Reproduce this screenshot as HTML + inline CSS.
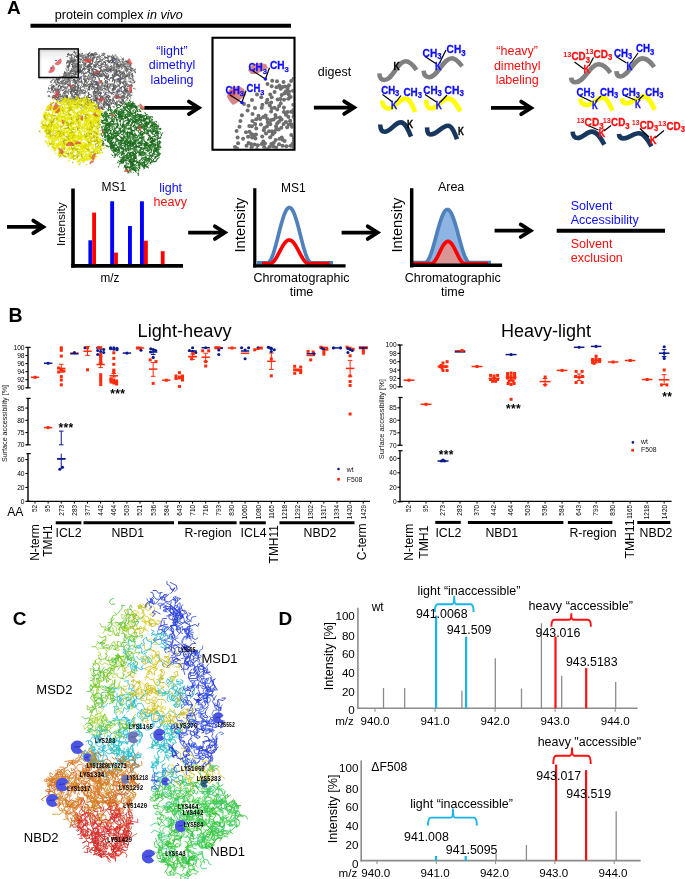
<!DOCTYPE html>
<html><head><meta charset="utf-8"><style>
html,body{margin:0;padding:0;background:#fff;}
svg{display:block;will-change:transform;}
text{font-family:"Liberation Sans",sans-serif;}
</style></head><body>
<svg width="685" height="879" viewBox="0 0 685 879">
<rect width="685" height="879" fill="#fff"/>
<text x="7.0" y="14.2" font-size="19" fill="#000" text-anchor="start" font-weight="bold" >A</text>
<text x="54.7" y="19.1" font-size="12.6">protein complex <tspan font-style="italic">in vivo</tspan></text>
<path d="M30.50 25.80L291.00 25.80" stroke="#000" stroke-width="4" fill="none"/>
<path d="M86.3 84.1l1.3-.8l0-1.5l.9-.7M106.1 87.9l1.3-.8l0-1.2l-.1-1.4M92.9 89.5l-1.3-.7l1-1.7l1.2-.5M117.1 73.2l.5-1.9l-1.2-.3l-2-.2M49.2 88.8l-.6-.9l.4 1.2M59.4 84l-.4 1.7l-.7 .8l.3 1.2M120.7 66.7l-.1-1.4l.4-1l-.6-1.1M74.2 66.2l1-1.2l1.2-.7l.9 1.2M122.1 63l-.7 1.8l-1.8-.5l-1.1 0M111 63.5l.9-.9l1.1-.1l1.8 .2M68.4 76.3l1.1-.8l-.4-1.3l1.6-.5M99.3 55.5l-1.5 1.2l-1.4 .4M114.2 93.9l1.4 0l.5 1.8l-1.2 1.5M103.2 72l-.7-.8l1.4-1.2l.9-1.5M85.2 103l.2 1l.4 1.2M108.5 59.8l-1.2 1.2l-1.2-.6l-1.3 .7M79.7 85.7l1 1.1l-.6 1.6l.4 1.1M69 60.6l-1.5 .2l.8 .8M111.4 84.8l-1 .3l-.9 .4l-.4 1.1M103.7 76.4l-.5-1.7l.4-1.1l-.6-.8M112 58.2l.6 1.6l0 1.8l-1.5 1.1M103.3 107.9l-1.6 1l-.9-1.1l-1.7 .1M104.9 94.8l-1.7 1l-1.6 .7l-1.1-1.5M95.9 98.2l0 1.8l-.9 .7l-1.1-.3M92.6 95.2l1.8-.8l.6 .9l.6 1.2M104.6 81.5l.9-.9l1.8 .6l.3 2M98.2 59.7l-1.6-.4l.3-1.5l1.4-.7M94.8 74.1l.6 1.1l1.4-.2l.6 1.4M60.8 88l-.2-1.8l-1.1-.6l-1.4 .1M52.3 95.7l.9 .9l.9 1.1l1.2 .9M62 88.9l-1.1-1.5l.6-1.1l1.9-.1M65.5 95.4l1.7 .6l.3 1.1l-.3 1M108.9 108l.2-1.5l.3-1.7l-1-.4M96.1 81l-.9 .8l-1.8-.8l-.7 .8M87.3 98l-.6 1.4l-.7 .8l-1.1-.3M114.5 73.6l1.5 .2l.3 1.8l-1.4 .9M100.8 80.3l.8 1l-.1 1.8l.4 1.8M110.1 98.2l-.4-1.7l-1-1.1l-1.5-.6M107.3 69l-.5-1.4l1.6-.5l1.7 1M102.3 96.2l.3 1l.7 .9l-.9 1.3M100.6 97.6l-.1 1.2l1.2 .8l1.3-1.4M93.6 86.7l-.1 1.7l1 1.4l1-.7M57.3 97.3l-1.5-1l1.1-1.6l1.4 .4M112.8 77.8l1 1.2l.4 1.4l1.5-.2M85.4 91.4l-.8 1.4l-1.5 .2l-.5-1.7M118.9 88.5l.1 1.7l-.4 1.6l.8 .9M68.6 74.9l-1.4 .7l.4 1.6l-.2 1.4M115 103l1.3-1.2l1.2 .1l1.4-1.1M73.9 83.3l1.4-.4l.1-1.9l-1.5-.4M109.2 66.3l-1.1-.4l-.7 1.1l-1.2 .4M77.1 95.4l.8 1.5l-1.5 1.3l-1.1 1.4M73.1 73.2l.8 .9l1.2 .6l1.2 .1M120.1 82.8l.8-.9l1.2 .5l1.4 .7M95.6 99.6l1.2-1.3l-.9-1.4l.4-1.6M63.6 98l-.8-1.2l1.3-1l1.5-.9M131.7 73.9l1.6-1M93.3 94.3l.1-1.4l1.5-1.3l-.3-1.2M53.3 90.1l-.8-.7l-1.1-1.6M112.3 86.4l1.2 .5l.4 1.2l-.9 1.2M75.5 83.2l1.2-.4l.8 1.6l.6 1.4M88.3 71.3l1.3-.9l-.2-1.3l1.3-.7M94.4 56.2l-1.8-.2l-.5-1l.3-1.1M99.5 104.3l-1.4 .4l.1 1.8M72.5 67.1l1.5-.2l1.4-.9l.9-1.2M123.3 90.5l1.6-.5l1.4-.2l.2 1.8M102.4 65.7l-1 .8l-.9 1.4l.7 1.6M112.9 68.6l-.8-.8l-.4-1.7l-1-1.6M132.2 75l-1.5-.9l-1.3-.2l-.3 1.4M106.7 87.4l1.2-.6l-.2-1.4l1.3-1.3M57.5 98.1l1.2-.6l-.1-1.7l0-1.7M103.5 59.5l1.5-.5l1.3-1.4l.6-.9M95.3 84.1l-1.8 .7l-1.3-1l.1-1.3M65.6 85l-.7-1.4l-1.1 .5l-.9-1.4M107.8 96.2l-1.6 .8l-.2 1.4l.3 1.5M92.9 63.9l-1.6 .2l-1-.5l-1.1-1M103.1 92.9l1.1-1l1.7 .7l1.5 .2M93.5 81.7l-.9-1l0-1.9l.6-1.7M91.3 73l.9 1.2l1.3 .5l.9-1.7M107.2 104.9l-1.1-.6l-1.5-1.2l.1-1.1M80.9 70.2l-.6 .8l-.1 1.5l-1.5 0M124.1 70.1l-.6 1.8l.9 1.3l-.6 .9M113.1 67.3l1.5 .9l.7 1.8l1.2-.2M111.6 59.4l1.6 .5l1.7-.2l1.2 .2M69.1 89.5l-.7 1.2l-.6 .8l.1 1.2M116.1 62.7l-.4 1.1l-1-.3l-.6-1.3M91 58.2l-.9-1l.2-1.5l1.6-.5M101.6 62l-1.6-.9l-1.4 .5l-1.5 .1M100.5 94.6l.1-1.2l-1.5-.2l-1.3 .1M97.8 82.9l-.6-1l-1.2 .6l-1.2 .5M57.7 93l1.1-.2l1-.7l-.7-1.3M86.6 96.7l1.6-1l.8-1l-.7-.8M116.8 95.9l1.2 .9l1.7 1l2 0M75.6 93.2l1.6-1l1.1-1.4l1.2 0M60 83.4l1.2 .1l1.2-.7l1.9 .1M109.8 70.7l1.2 .2l1.9-.3l.8-1.1M133.8 70.5l1.4-1.3M73.9 98.4l-.4 1.3l1.1 .4l.6-1.2M95.3 55.2l-1.5-.9l-1 .7l-1.4-.1M126.9 61.4l-1 .1l-1.8-.1M71.2 91.6l.3-1.7l1.9 .1l1 .5M79.6 68.3l-.9 .8l-.8 .8l.1 1.1M83.4 56.3l-.6-1.4l-1.3 .5l.3 1.4M90.6 85.8l-.9 .9l-.6 1.8l.7 1.5M88 87.8l1.2-1l1.6 .2l1.4-.2M91.7 67l-.9-.7l-1.6 .4l.4 1.5M65.5 79.6l-.7-1.4l1.1-1.6l.2-1.9M112.2 93.3l1.6-.9l1.5-.1l1.1-.6M94.3 62.1l.6 1l1-.2l.2-1.7M86.3 98.5l-.7 1.7l1.1 .6l.2 1.4M66.7 94.7l.1 1.8l-1.3 .8l-1.6-.2M78.9 91.5l.9 .4l-.6 1.9l-1.1 .9M111.9 54.1l.8 .6M89.3 71.4l-1.8 .4l-1.3 .9l-.8-1.1M95.5 100.4l1.1-.1l.9-1.2l.1-1M56.1 88.5l1 1.1l1 .1l.3 1.3M59.9 78.9l-.7 1.2l-.2 1M106.4 88.4l-1.9 0l-1.8 .3l-.4 1M77.2 97.2l-.4 .9l-1-.3l-.5-1.7M81.1 100.6l1.9-.4l.5 1.3l1.7 .8M98.5 61.5l-.7 1.5l0 1.6l1.2 1.5M114.7 60.4l.2-1.7l-1-.5l-1-.2M81.5 67.9l.1-1.2l-.8-1.6l1.3-.7M63.5 73.8l1.3 1.4l1.3-.2M56.5 89.2l-1.2 .4l-1.1-1.5l-.9-1.3M124.1 92.9l-1.4-.3l-1.3 .9l-.9 .6M85.8 86.3l.5-1.1l1.6 .7l.8 1.8M123.3 100.2l.1-1.1l.9-.9l.9-1.3M96.4 99.5l-1.1 1.4l-1.5 0l-.7-.9M125.2 88l-.8-1.8l0-1.9l-1.4-.9M72.9 88.8l-.8 1.5l1.1 1.3l1.1-.3M101.8 70.3l-1.6 .5l-.9 .9l.5 1.5M122.4 73.8l-1.9 .5l-1.1-.5l-1.8 .5M125.7 92l-.6-1.2l-.2-1.4l-.5-1.2M110.1 91.7l.4 1.1l1.3 .6l.2 1.8M77.6 71.5l.5-1.3l1 .2l1.3 .2M73 91.6l1.1-1.6l.5-1.8l1.6-1.2M87.3 73.3l-2-.2l-1.1 .4l-1-.5M105.6 88.4l-1.3-1.2l0-1.1l-1.9-.1M76.4 82.4l-.9 1.5l-.6 1l.6 .9M70.8 98.9l.3 1l.7 1.4l-.7 .9M93.4 73.6l.6-1.9l-1.1-.3l-.8-1.5M132 68.4l-1.7-.8l-1.2-.9l-1.2-.4M67.3 71l1.1-1l1 .3M95.7 73.2l1.4 .2l1.2 .1l1 0M77.8 86.7l-.2 1.6l.7 1.3l-.3 1M66.7 64.4l.1-1.9l1.8-.8M74.2 67.6l1.6-.3l.8 .6l1.3 1.4M115.8 85.4l1 1l-1.3 1.4l-1.4-.1M79 76.4l.1 1.3l1.1 .2l1.2 1M82.7 82.5l-1.1-1.5l-1.2 .8l-1.9 0M109.6 72.4l-1.5-.8l-.9-.8l-1.3 .4M93 72.4l0-1.4l-.1-2l.7-1M113.6 85.1l1.8 .4l.9 1.1l.9 1.8M86.7 79.1l-.7 .8l-1-.2l-1.4-.7M116.9 100.8l.1 1.2l-.1 1.6l-1.3 1M132.5 92.9l-1.4-1l.3-1.7l-.6-.8M66.8 65.9l1.4 .6l1.2-.4l.7 .9M125.8 87.4l-.8-1.3l1.3-1.2l-1.1-1.6M119.2 61.9l-1.3 1.1l-1.2 1l0 1.9M52 84.4l-.9 1l1 1.3l1.3-.9M109.1 104.2l.3-1l-1-1.1l-.8-.9M82.9 79l1.4 .7l.9 .7l1.7 .2M90 86.2l-.1-1.6l-1.5-.3l-.3 1.1M109.5 81.3l-.4-1.8l-1.8 .1l-.7-1.2M117.5 63.8l-1.1-.8l-1.1-.6l-1 .6M88.9 99.3l.5 1.6l.3 1.2l1.2 .4M74.3 95.4l.7-1.4l1.2-.3l1.7-1M76.9 107.9l1-.5l-.2-1.4M100.1 96.4l-.7-.8l-.9-.5l-1 .7M55.9 94.6l.3-1.1l1.7-.2l1.3-.3M72.1 58.4l1 1.2l-.2 1.5l1.1 .4M72.3 97.7l1-.5l1.3-.3l.4 1.4M124.9 77.6l-1.7 1l-1.3-.4l-.9 .8M63.5 100.3l-1.3-.7l-.6 1.1M78.2 78.2l-1.3-.3l-1.3-.6l-1.3-.4M57.9 80.6l.8-.8l-.1-1.6l1.3-.2M109.4 69.6l-1.8-.7l-1 0l-1.1 1.1M87.3 52.1M120.4 61.9l1.2-.2l1.4-.2l.4 1.4M70.5 103.2l-1.1 .6l-1.5-1l.6-1.6M111.7 101.1l-1.2-1.4l-1.9-.1l-1.3-.1M101.8 108l1.1 0l.7-1.9l-.3-1.1M127 98.3l1.6-.2l-1.3 .1M57.8 100.1l1.3-.8l.3-1.1M131.3 65.8l-.8-1.1l-.8-1.3M126.5 82.4l-1-.7l-.8-1l-.9 .5M104.7 74.2l-.2 1.5l1.3 .7l.4 1.5M66.6 82.8l1.2 .1l.3-1.1l-.8-1.5M73.3 98.2l0-1.5l-1.4-.5l0-1.1M68.4 93.2l0 1.4l-1 1l-1.6 .4M80.3 77.9l-1 1.6l-1 .9l.5 1.2M126.8 80.6l-1.2 1.5l-1.7-.1l-1.3 .5M72.9 88.4l-.7 1.6l-.6 1.8l.2 1.9M119 73.3l.4-1.2l1.6 .2l1.7-.1M117.5 82.7l1.4-1l1.1-1.4l1-.6M99.1 101.8l.3-1.6l1.5-.9l.4-1.7M55.4 99.1l.7-1.4l.5-1M129.6 91.1l-1.3 .5l-1.5 0l0-1.6M76.6 97.6l1.7-.3l.9 1.1l1.4 .6M78.7 90.7l1.8 .6l1-.5l-.4-1.7M67.9 79.3l-1.7 .5l-.6 1.6l.3 1.9M88.4 67.3l-1.3-.9l.7-1l1-.6M75.4 75.9l-1.6-1.1l-1.2 .6l-.4 1.8M64.4 94.9l.6 .8l.8 1.4l1.2-.5M100.8 104.6l.7-.8l-.4-1.2l.4-1.3M70.3 84.2l-.3 1.2l.5 .9l.3 1.2M124.9 77.9l-1.6 1l-1.6 .2l-1.4 .2M91.4 77.9l-1.7-.5l-.8 .6l.9 1.6M70 59l1.6 .4l.7 1.2l.7 1.8M92.5 67.1l1.4-1.4l.7 .7l1.5 .7M97.1 109.9l-1.6-1M63.2 76.4l-1.5 .4l.3 1.2l1 .5M96.8 52.9l-1.8-.2M73.5 63.6l-.8-1.4l.8-.7l.9-1.6M112.1 58.6l-.1-1.2l1.6-.6M70.4 103.4l1.6-.6l1.3-1.1l-.8-1.3M78.4 68.4l.6 1.8l.5 1.4l.2 1.2M60.6 77.8l1.4-1l1 .1l.6-1M101 108.3l.7-1.1l-.8-.9l-1.2 .2M78.8 56.2l-1.2-.6l-.8 1.4l0 1M99.6 72.7l.1-1.1l1-1l.9 .5M70.7 97l1.5-1.3l.9-1.6l-1.3-1.5M126.9 70.6l1-1.6l1.9 .5l1.5 1.3M81.6 84.4l-.2 1l.7 1.1l1.4 0M77.8 93.2l-.8 .9l-.2 1l1.3 .3M64.8 78.7l1.6-1.1l.5-1.3l1.3-.6M56.9 99.2l.6-1.5l-1.2-.7l-.5-1.5M87 102.1l-.5-1.8l-1.6-.1l-.7 .7M54.6 87l0-1.1l1.2-1.4l1.5-1.1M117.9 89l.3 1.4l-.2 1.5l1.1 .3M119.7 65.7l-1.7 .5l-.7-1.3l-.7-1.2M49.8 92.1l1.3 0M89.3 55l-.9 1.5l-1.1 .6l-1 .1M74.8 55.8l-.9-.5l-1.7-.8l-.9 .5M88.1 66.5l.2-1.6l1.9-.2l1.3-1.1M91.4 55.5l.3-1.8l1.2 1.3M75 74.6l.6-1.4l-.9-.7l-1.3-1M78.2 58l1.1 .2l1.4 .8l1.3 1.4M81.9 90.1l-.6 1.2l0 1.4l-1.4 .9M79.8 89.7l.6 .9l-.9 .9l.5 1M67 97.6l-1.2 .7l-.1 1.3l1 1.4M104.6 100.6l.5 1l-.7 1.5l-.4 1.5M127.1 85.1l-.2 1.1l1 .5l1.6-1.1M116.3 89.9l-1.3-1.1l-1-1l-.1-1.7M119.3 102.1l.9-.6l.8 1l1.1 1.1M118.3 68.6l1 0l.5-1.8l-.8-1.6M107.4 74.1l-1 1.1l-1.1 .3l-.5 1.4M123.9 71.8l-.9 1.8l-1.7 .5l-.4 1M131.2 78.2l1.2 .4l.9 1.5l.9 1.1M86.6 92.6l-1.1-1.1l-1.1 .9l.6 .9M78.1 67.2l.8 1.7l1.1 .1l.7 1M117.4 96.1l-.2 1.3l-1.1 .6l-1-1.2M71.7 76.1l1.1-.5l1.1 1l1.3 .1M66.1 95.7l.3 1l.9 1.3l.5 1.2M108.1 68.8l-1.1 .5l-.6 1.2l1.3 .8M128.1 70.5l-1 .3l-1.2-.9l-1.7-.2M119.6 102.8l1.7 .1l-1.8-.4M102.4 86.7l-.6-1.3l1-.6l-.3-1.7M114.1 66.9l-.8-.9l.8-1.6l-1.3-1.1M89 69l-.6 1.8l-.2 1.3l1.2 .6M88.3 75.6l.8-1.7l1.2-.1l1.6-.3M113.6 103.2l1-.7l1 .8l-1.1 1.6M88.3 96.8l.2-1.3l.8-1l-.9-1.8M124.4 103.7l-1.8 .3M113.6 79.2l.9 1.1l.2 1.7l-.3 1M112.9 100.6l-.6 1.3l-.6 .9l-.3 1.2M63.7 74.3l1.4-.9l-.4-1.6M108.7 108l-.3-1.8l1.5-1.4l-1.1-1.2M126.6 87.6l1.4 1.2l-1 1.2l-2 0M129.9 73l1.2-.6l.9-.9l-.7-1.1M54.2 86.7l-1.2-.6l-1.3 .7l.6 1.2M70.6 79.2l-1.3 .9l-.6 1.1l-1.7 .4M126.9 96.4l1.2-1.3l1.3 1.2M101.3 55.1l1.3-.2l.9-.5l.3-1.2M101.5 67.7l1.4-1.4l1.1 .6l1.1-1.1M54.4 94.8l-.3 1.8l-1.8 .3M93.6 108.9l1.1 .7l1 1M69 65.5l.7-1.6l-.6-.8l.4-1.9M71 61.9l1 .3l1.4 0l1.5-1M101.7 105.5l.7 1l-.8 1.5l1.2 1.6M132.5 82.8l1.9-.2l.8-.7M76.9 59.9l-1.7 .1l-1.1-.1l-.6-1.1M65.9 72.7l-1.5-.4l0 1.2M89.2 65.1l-.9 1.4l.8 .7l-.5 1.8M120.7 87.2l-.3 1.6l1.3 .9l0 1.8M71.8 55.8l0 1.9l-1.2 .8l-1.6-.9M70.4 75.3l1.4 1.1l-.5 1.1l1.4 1M91.6 55.9l-.8 1.2l-.6 1.7l-1.5 .1M97.8 73.7l.8 .7l1.2-.8l1.4 .7M96.2 56.9l-1.5 .5l-1-.1l-1.8 .2M99.9 63.6l1.2 .7l1.1-.5l-.7-1.7M98.5 62.8l.8-1.6l.9-.9l.1-1.9M129.4 69.5l1.3 0l.9-.7l1.2-.3M116 64.6l-1.6-.9l.8-1.4l1.2-1M79.2 84.7l-.8 1.7l.4 .9l1.1 1.5M92.8 87.2l-1-1.2l-1.1-.1l-.5-1.9M98.3 81.2l-.4 1.7l.7 1l1.1 0M58.9 89.7l-.8-1.3l-1.4-.5l-1.5 .9M95.8 98.2l.2 1.4l-.6 1l-1.3-.7M102.9 72.2l.9-1.3l1.4-1l1.6 .2M95.7 91.4l-1 1.3l-.8 1.8l.9 1.2M59.4 94.4l.9 1.8l-.6 .8l-1.3-.6M87.1 57.1l-.9 1.7l-.8 1.2l-1.6 .1M68.6 83.2l-1.1-1.2l-1.1-.2l-1.4 0M68.5 88.2l-1.3-1.3l1-1.1l-.1-1.7M109 63.4l-.1-1.9l-.6-1.5l-.3-1.5M59.2 79.7l-.9-.7l-.9 .9l-1.3-1.1M99.9 107.9l-1.3-.3l-1.1 1.6M120.9 64.6l-.9 .9l-1.2 1.1l-1.6 .2M91.9 58.1l.6 .9l1.5-.5l.8-1.6M56.4 92.2l1.4 .5l1 1.6l1.7 .4M54.6 80.5l.3 1.3l.8 1.7l1 1.5M81.1 54.5l1.2-1.2M92.2 56l-1.1-.9l-.8-1.2l-1.3-1.2M66.8 66.3l1.6-.7l1.1 0l.4-.9M64.8 99l-1-1.1l-.6-1.4l-1.2 .3M100.4 77.3l-.8-1.4l.8-1.3l1.5 1M109.6 83.6l1.6 .5l1.2 .9l1.1 .5M110.3 106.2l-.6-1.5l.8-1.6M85.8 90.3l-1.4 .2l-1.4 .1l-1.1 1M108 102l-.7-1.3l-1.2-.9l-1.7 0M98.9 85.9l-.9-1.7l-.5-1.8l-1.2-.9M87.8 60l.9-1.6l-.4-1.4l-1.1-1.1M114.3 73.4l1.6-.4l.7 1.1l1.9 .4M59.5 95.7l1.1 .8l1.1 .2l.8-1.6M111.8 75.1l.8 1.5l-1.4 1.3l-1 .5M74.1 88.3l.7 .8l1.3 1.3l1.6-.5M102.5 74.1l1.2-.5l.7 1.2l.7 1.5M112.9 79.7l.2-1.1l-1-.9l-1.1 0M93.4 97.5l1.7-.5l.2-1.5l1.3-.8M122.4 72.5l-1-1l-1 .3l-.9-1.8M113.8 86.9l-.6 1.5l-.8 .6l.5 1.7M70 99.1l-1.2 .7l.4 1l-1.1 1M94.9 92.3l1.4 .7l.8 1.1l1.5 0M65.8 94.7l1.1 1.6l-.3 1.8l.3 1.4M68.6 83.9l1.3-.8l-.5-1.6l.1-1.5M82.4 58.2l-.9 1.2l-1.5 1l.1 2M91.8 77.3l1.1 .3l.6-1.5l-.8-1.8M105.6 77.7l.9-1l1.7-.1l.5-1.7M120.2 88.3l-1.2 .7l.2 1l-1.3 .9M124.6 93.7l-.5 .9l.1 2l1.6 .7M131 84.5l.4 1.6l-.8 1.3l-.6 1.3M119.2 86l.9-1.7l0-1l.7-1.8M113 97.6l0 1.4l.9 1l.7 1.1M119.2 97.3l1.1-.1l1.3-.3l.4-.9M101.4 87.1l-.7 1.4l.2 1.2l.3 1.3M108.1 64.8l-1.7 .2l-1.7-.3l-1.8-.6M119.7 70.4l-.5 1l1.2 1.2l-1 1.5M75.4 67.8l1.1-1.5l-1.6-1.2l-.1-1.5M131.8 82.1l.2 1.5l-.5 1.5l.8 .7M100.3 85.8l-.5 1l-.1 1.6l1.4 .4M133.4 88.2l.5 .9M62.9 85.7l-.9 .5l-.9 .8l-1 .3M59.5 83.2l-1.2 .3l-.5 .9l-1.8-.1M100.8 87.9l-.7-1l-1 .4l.2 1.9M79.6 70.6l1.1 .7l1.4 .6l-.3 1.9M120.6 70l1.1-.8l.5-1.1l-1.2-1.2M90.8 101l.6-1.6l1.5-.7l1.6-.2M71.4 58.9l-1.4 1l.7 1l1.4 1M52.9 92.9l.2-1.6l.7-1.3l1.7 .8M121.7 91.4l1 .4l1.6-.9l.3-1.5M112.8 85.9l.8 .7l1.6 0l1-.8M51.2 88.6l1.7-.3l.1-1.2l.4-1.2M50.5 92.6l-1.1-1.1l-1.5-.5l-.7 1.7M114.2 69.3l-.2-1l.5-1.9l-1-1.1M97.3 90.9l1.3-.9l-.4-1l-.8-1.1M102.4 70.8l1.3-1l.8 .8l1.4-.8M110.5 70.2l.3 1.1l.2 1l-.5 1M54.6 82.1l1.4-.2l1.8 .7l1.2-.1M78 60.4l1.1 1.5l-.6 1.4l.5 1.3M66.8 65.8l.6 1.4l1.2 .4l.3 1.7M72.7 80.6l1.9 .1l.1-1.3l-1.3-.1M127.6 60.3l1.1 1.5l-2 .1M114.2 70.2l.4 1.6l1.5-.1l1 1.7M120 96.4l-1.7 .9l-1.4-.5l-1.7-.8M80.7 104l1.1 .8l1 .3l.4 1.4M67.8 98.5l1.2 .7l1.1-.8l1.4 .2M67.1 97l-.4 1.5l-1.8 .6l-1.2-1.6M119.5 95l-1.3-.1l-1.1-1.6l-.6-1.6M118.5 94.5l-.6 1.7l-1.5 .9l-1-1.3M61 73.8M113.9 96.1l1.4 .4l0 1.4l1.5 .3M84.1 56.7l1 1.3l.8 1.1l1.1-.6M72.9 68.6l-.8 1.6l-1.1 1.3l-1.3 .2M96.9 87.6l.2 1.5l.9 .8l1.1-.2M103.2 106l.8-1.7l-.4-1.3l1.5-.7M74.3 61.7l-.4-1.6l-1.2 .3l-1.5 1.2M76.7 100.3l-1.4 .9l.7 1.2l1 .8M99.8 93.3l-1.3-.4l-1.1 .4l.1 1.1M107.5 96.4l.2 1l1.1-.2l1.2-.9M73.1 95.9l1.3 1.5l-.4 1.7l-.9 1.7M127.4 94.2l-.5-1.7l.6-1.8l1.4 .3M71.8 60.8l.6-1.5l-1-.8l.1-1.7M127.5 82.1l1.2-.9l1.6 .9l.9-1.4M116.2 57.2l.1 1.6l-1.1 .4l-.5-1M85.5 74l-1.1 .7l.9 1.7l-.4 1.9M99.9 74.1l.1 1.5l1.2 0l.5 .9M79 72.3l1.2 .2l1.7-.5l-.1-1.5M87 83.8l-1-1.2l-.1-1.2l-1.5-1.3M110.5 71.1l0-2l.7-1.5l-.9-1.3M108.7 98.7l.8 1l1 1.1l-.3 1.8M86.2 78.6l1.2 0l1.3 .8l1.2 .7M90.6 63l-1.6-.7l-.6-1.5l-1.7 .1M79.2 85.7l-1.5 .5l.4 1.4l.1 1.6M134.1 76l-1.6 0l-.3-1.2l-.2-1.9M122 87.5l-1 .7l-1.4-.7l-.2-1.5M82.9 107.7l-.9-1.7l-1.4-1l-.5-1.4M89.1 72.3l.3-1l-.6-1.5l-1.1-.6M97.4 104.7l-.4-1.7l-.7-1.5l.7-1.8M102.5 69.6l.2 1.5l.1 1.6l-1 1.4M88.1 89.5l1.2-.9l.2-2l.1-1.5M104.1 70.6l1.1 1.6l.4 1.2l1.7-.1M94.1 68.1l1.6-.9l.4-1.9l-1.2-.4M93.7 72l-.4 1.4l-.5 1.5l-1.3 .7M71.8 74.4l-.2 1.9l-.4 1.6l0 1.1M113.6 104.1l-.1-1.5l-.8-1.8l.7-.8M110.3 103l-.8-1.6l.3-1.5l1.8-.1M65 98.8l1.3 .3l1.5-.2l1.3 1.1M74 74.9l-1.3-1.5l-1.5-.3l-.8-.6M99.5 72l.8-.6l.1-1.7l-.7-1.7M64.4 84.8l-.6-1.2l0-1.7l-1.3-.9M72.2 63.3l.6-.9l1 .3l1.6 1M91.6 73.7l.3-1.6l.1-1.9l.1-1.3M83.9 86.7l-1.5 .1l-1.3 1.4l-1.1 .9M97.1 82.3l-.7 1.1l.2 1.1l1.7-.2M130.7 67.6l-.4 1.2l.6 1.8l1.9-.3M67.8 89.7l-.8 1l-1.7 .7l-1.5 .2M89.1 104.8l1-1l1.3-.7l1.5-.3M67.6 71.7l1.3 1.3l-1.1 1.3l-.2 1.9M128 100.2l-.9-.5l-1.6 .9M129 94.8l.6-1.7l-1-.8M56.9 90.2l-1.4 0l-.6-1l-.7-.8M75.5 87.6l-.5 1.9l1.3 1l1 .6M124.8 87.1l1-1l.2-1.6l1.1-.7M83.6 71.8l-1.2-1.6l.6-1.2l1-1M54.8 92.2l1.2-.2l1.2-1l1.1-1.6M83.6 107.8l1.7 .4l2-.3M125.3 95l-.6-1.7l.4-1.8l1.4-.9M117.5 78.9l1.2 1.3l1.4 1.2l-.4 1.3M110.5 85l1.1 .9l-1.1 1.3l-1.9 .5M103.2 61.3l1.5 .5l.9 .6l-.1 1.3M127.2 73.5l-.1 1.9l-1.9 .1l-.6 1.9M114.4 70.3l.9 .8l1.6-.5l-.2-1.3M117.9 98.5l.1-1.2l-.6-1.1l-1.4 .7M72.7 65.9l-.7-1.6l1.2-.5l1.8 .1M91.7 95.2l-1.6-.7l-1.7-.9l.5-1.3M73.1 81.1l-1.6-.9l-1.5 .8l-.8 .8M73.5 68.4l1.4 .2l.4-1.1l.6-1.1M77.6 79l-.6 1.8l-1.8-.4l-1.6-.5M122.1 91.9l.3 1l1.3 .3l1.4 1M71 56.2l.3-1.5l1.1-1M97.5 66.6l-1-1.1l-.1-1.9l1.8-.3M120.4 59.2l-1 1l-1.1 0l-.3-1.2M68.1 100l-1.4 .9l-.1 1.7l1.2 1.3M82.6 53.7l-1.2 .7l-1.2 1l-.1 1.1M56 96.4l-1.3-.4l-1.4-.7M69.4 91.3l1.1-.2l1-.1l1.1 .4M98.3 58.8l1.1 .1l.2-1.7l.6-.9M123.4 103.6l.4-1.8l-.4-1.1M108.9 69.9l1.4-.5l1.4-.2l1.1 1.2M114.7 57.1l-1.1 .6l-.3 1.2M126.3 77.2l-.8-1l-1.5 .2l-.7-1.1M83.1 57.1l0 1.7l1.3 .8l1.5-.8M93.2 64.4l1.6 .6l1.2-.4l1.7-.3M91.9 53.6l.4 1.1l1.2 0l.1 1.2M73.3 67.9l1.3-.3l.8-.9l1.3-.3M71.2 64.4l1.3 .8l-.1 1.8l1.1 1.5M53.3 91.5l.7-1.2l1.1-1.2M122.7 98.6l-.3-1.9l.7-1.2l.9 .6M85.6 60.2l.8-1.1l-.2-1.9l1.2-.2M91 67.4l-1.1-1.4l-.3-1l1.3-1.5M107.3 97.5l-.5-1.1l.3-1.3l-1.3-1.1M85 86.1l.5-1.7l-1.2-1.2l.6-1.8M111.3 90.1l1.4-.2l1.2-1.5l.7-1.7M60.1 90.8l1.4-.6l1.3 .4l1.2-1.1M116.4 56.9l-.8-1.8M96.8 76.9l-.3-1.8l1.4-.3l.3-1.2M69.5 83l.7 .9l-.8 1.2l1 1.7M70.3 79.1l-1.5-.6l-.7 1.1l-.7 1.2M61.4 87.5l-1.4 1.2l-.2 1l-1.5 0M90 64l-.8 1l1 .9l1.2 .9M85.6 66.1l-.8-1.1l.7-1.6l-1.1-1.5M95.4 76.2l.5-1.9l-.2-1.5l1.7-.8M78 67.6l0-1.6l.5-.9l1.6-.7M122.4 59.4l1.5 .4l-.7-.8M118.3 104.6l1.7 .7l1.7 .1M77.2 58.2l-.5-1.5l-1.1-.4l-1.4 .4M68.6 61.5l1.2-.3l.9-.5l1.2-.4M120.9 78.8l-1.1-1.4l.8-.7l-.7-.9M64.9 101.2l.4-1.5l.5-.9l-.6-1.3M99 90.8l0 1.5l1.9 .3l.1 1.4M105.6 68.4l.1-1.6l.4-1.2l-.1-1M82.6 60l.5 1.9l1.2 .9l1.7 .5M109.9 57.1l1.7-.6l.5-.9l1.6 .4M95.1 95.6l-.4-1.1l.1-1.1l1.1-.2M112.5 106.5l1.6 .4M95.6 75.6l-1.3-1.3l-.2-1.2l-1.1-.2M116.1 76l.5-1.4l-1.2-1l-1.2 .5M98.9 100.2l1.1 .6l-.2 1l-.8 1M71.5 98.7l.7 1.8l1.7 .2l1.3 .7M105.2 101.9l-1-.8l.2-1.9l1.1-1.6M85.2 65.1l.3-1.1l-1.1-.4l-1.2 .7M110.2 60.8l-.6 1.4l-1.2-.2l-.2-1M89.6 65.8l.5 .9l1.3 .5l.7 1.2M99.8 94.3l1.6-.4l0-1.8l-1.7-.1M134.8 74.4M129.9 77.1l-.2-1.5l-.9-.9l-.9 .8M122 91.6l1.3 1.1l.7 1.6l1.7-.7M122.1 103.3l-.6-1.8l1.6-1M58.6 100.8l1.5 1l1.4 .4M76 62.3l.1 1.7l-1.1 1.2l-1 1M94.7 91l1.1 1.2l-.5 1.3l-1.1-.3M90.2 88.4l-.8 .8l-1.2 .1l-1.8-.8M128.4 94.5l.8-1.4l1 0l.4-1.7M89.7 98.5l1.2 1.3l.4 1.5l-.1 1.4M116.8 90l.6 1.7l.5 1.4l-1 .7M75.1 86.9l-.8 1.5l-1.3-.3l-2-.1M53 79.8l-1.4 .8l-.8 1.3l.7 1.1M104.4 82.8l1.7-.3l1.3 0l.2 1.1M125.5 67.1l-.6-1l-.1-1.8l1-.7M112.3 60.1l1.1 .8l.9-.6l-.7-1.8M121.6 58.9l1.9 .1l-.3 1.9M66.1 103.1l-.5-1.1l-.9-.4M119.3 76.4l-1-.7l-1.7-.5l-1.6-.3M134.9 89.5l-.1-1.6M73.2 81l1.6 1.1l1.4-.6l1.7 .3M101.1 56.4l-.9 .4l-.7-1.3l-.1-1M107.6 109.4l1.1-.9l.6-1.8l1.3 .4M101.7 67.2l-1.4 1.3l-1.7-.8l-.4-1.1M119.2 60.3l.2 1.7l1.6 .1M50.2 97.5l-.9-1.6l-1 .2M87.2 79.7l-.7 .7l-.8 1.5l-1.3 1.2M62.8 80.9l.2 1.2l1 .9l-1 1M74.5 96.6l-1.3 1.5l1.2 1.3l-.3 1.6M108.3 85.5l-.9-.8l-.7-1.8l1-.8M93.4 77.3l1.9 .1l.5 1.8l-1.7 1M72.4 70.7l-.9 1.3l-1.5 1.2l-1.3 .7M90.5 52.1l-1.2 .8l-.7 1l-.5 1M124.9 74l-.8 1.1l1 .7l1.2 .8M126.5 88.9l-1.3 0l-1.1-1.5l1-.7M92.4 84.2l-1.8-.3l-1.7 .1l-.9 1M68.2 80.8l.6-1.7l.4-1.3l.8-1.6M67 102.4l.7 1.6l1.4 .8M120.6 98.6l1.7 .1l.4 1.4l1-.1M76.1 98.7l-1.9-.5l-.4-1.4l1-.4M100.9 63.8l.6 1l-1 .7l-1.5 .1M74.1 97.6l-1-1.7l-1.2-.9l-1-1.4M105.6 102l-.3 1.2l1 .7l.6 1.6M87.1 103l.8 .8l.2 1.5l1.2 .3M91.3 74l-.9 1.5l1 .8l1.1-.4M80.9 83.3l1.1-.5l-.6-1.9l-.6-1.3M123.8 73.9l.7 1l-1 .9l-1.3 1.1M80.7 90.6l-1.3 .5l-1.1-.7l-.5-1.7M75.2 85.7l-1.4 .6l0 1.2l-.1 1.2M62.2 76.4l1.7 .2l0 1.2M90.5 68.7l1.3 .8l2 .3l1.3-.4M94.4 100.1l1-1.6l1.8-.5l.4-1.7M99.1 76l1.8 .6l1.3-.4l1-1M95.8 87.5l-1.3 .5l-.7-1l.8-.8M118.3 69.6l-.2-1.5l-.1-1.9l.6-1.3M114 94.9l-1.2-1.1l-.1-1.2l-2 .1M66.1 86.9l-1 1.5l-1.4-.9l-1-.6M123.3 58.8l-1.2 1.3M110.4 56l-1.2 .2l-1.1 .3l-.3 1.2M82.4 69l1.4-.2l.7-.8l-.6-1.3M116.8 98.4l.4-1.4l1-1.1l1-1.5M68.5 74.7l-1 .4l-1.3 .9l-1.1 0M130.5 92.6l-1.5 .5l-.3 1.5M101.3 59.9l-1.4 1.2l-.6 1.2l-.3 1M125.9 60.3l.3 1.2M120.9 98.7l.8-1.5l1.7 .5l1.1 .5M103.3 55.5l1.5 .7l1.3 1.4M56.9 78.1l-.2 1.2l1.2 .9M128.6 65.9l1.4 .9l1.8 .7M68.8 75.3l-.2 1.4l.3 1.1l-.6 1.2M102.2 88.4l-.4-1.9l.2-1.9l.2-1.2M77.7 64.1l.8 .7l1.6 .9l-.6 1.8M106.5 109M126.8 68l-1.4 0l-.2-1l.9-1.6M64.4 84.1l1.5-.6l1.8 .8l1 1.2M83.2 108.8M69.9 88.3l1.8 .4l.4-1.6l1.3-1.2M57.4 102.3l-.1-1.5l-.3-1.1l.9-1.2M121.7 63.8l.7 1.1l1.2 .2l.4 1.7M107.6 90.5l1.7 .6l.8 1.6l1.5 .8M96.7 88.3l.8-1.8l.4-1l.3-1.7M115.4 84.8l-1.1-.9l-1.3 .4l-.5-1M72.9 70.4l.6 .9l.5 1.2l-.2 1M132.5 69.3l1.6 1.1M105.6 105.3l-1.4-.7l0-1.1l.4-1.3M58.7 81.7l-1.1 .3l-.8-1.6l-.2-1.2M85.6 92.5l-1.1 .2l-.7 1.2l-1.3-.5M124.3 79.2l1.3-.2l0-1.9l1.1-.6M84.4 70.7l1-1.7l1.5-1.2l-.1-1.5M52 90.1l.2-1.1l-1.2-.7M115 77l-.9-.6l-1-.6l-1.1 0M84.7 54.5l-1.2 1l-1.6-.1l-1.6 .8M117.5 104.6l-1-.3l-1.6 .8M103.8 97.9l-1.4 0l-1.9-.2l-.3-1.4M118.5 74.6l.1 1.3l1.2 1.1l1.2 .1M98.1 105.9l.4-1.4l.5-1l-1.1-1.3M109 97.2l-.4 1l-1.2-.2l0-1.8M84 73.3l-.5 1.4l-.3 1.2l1.4 1M77.7 70.2l1 .8l1.3 .6l1.6-.1M133.2 70.5l1.7 .5l.4 1.7M126.2 60.5l.6 .9l1.2 .6M54.4 93.6l-.9-1.7l-.8-1.1l-1.2-.8M104.1 108l.8-.9l-1-1.5l-1-.7M82.2 76.2l-1.3 1.4l-1.4 1.2l-1-.4M62.8 80.8l-1.2 .3l-1.1 .7l-1.5 .9M124 102.7l-1.4-1.4l-1.1-1.5l.7-1.1M128 71.8l1.4 .7l-.3 1.4l1.1 1.4M69.2 55.3l-.7-1.6l-.9 .7M89.1 56.4l-.3-1.3l-1.1-.8l-1.2 .4M122.3 97.5l1.1 .1l.4-1.6l1-1.1M87.5 97.5l1.5-.2l1.3 .3l1.5-1.2M70.3 74.9l-.3-1.5l-.4-1.7l.9-.9M95.8 97l1 1.5l-.2 1.9l1 .7M121.7 66l1.6-1.2l1.1-.4l.3-1.1M93.2 77.4l-1.4 .9l-.9 1.2l.6 .8M77.1 103.3l.9-1.3l1.3-1.1l.7-.8M84.4 60.8l.8-.9l1.6-1.1l1.5 .6M100.2 98.7l-1 1l.7 .8l1.5-.2M113.5 76l.8-.9l1.4-1l-.7-1.1M126.9 87.9l-.4 1.2l-1.5 1.1l.4 1.7M125.5 98.2l1.3-1l.3-1.1l.4-1M103.9 87.8l1.2 1.5l1.1 .6l1.4-1M111.4 70.8l-1.9-.6l-.6-1.2l-.4-1M94.8 85.8l0-1.1l1.5-1l.4-1.1M68.4 73l-.5 1l-1.3 .4l-1.2 .3M121.8 62l1-.1l.3 1.6l-.1 1.4M102.2 103.7l1.1 1l1.5 .2l1.8 .8M74.2 58.2l.6-1.3l1.4-1.1l1.7 .8M124.3 63.9l1.8 .2l1-1.2l.6-1.9M118.3 84.7l.1 1.2l-1.7 .7l-1.9 .3M111.6 104.2l1.3-1.3l1.6 1l1.2-.6M90.1 81.1l1.3 1.4l.5 1.8l.8 1.5M75.2 61.7l1.7-.7l.8-.7l.3-1.6M77.4 68.2l1.7 .1l.2 1.1l-.6 .9M51.7 88.1l1.8-.7l.2-1.1l-1.1-1.5M79.9 98.1l.2 1.1l1.4 .3l-.3 1.6M64.1 99.3l-1-.2l-1.8-.1l-.3 1.5M89.1 75l-.7 .8l-.8 .9l-.3 1.4M92.9 61.9l-.3-1.8l-1.9-.1l-.4 1.4M78.4 100.6l1.9 .3l.7-1.5l1.9-.3M98.4 90.9l-.4-1.1l.1-1.4l-1.8-.4M65.7 90.7l.5 1.2l.1 1.3l-1.7 .5M86 65.2l-.4-1.7l-1.5 .1l-1.5-1.2M126.5 68.5l1.3 .9l0 1.5l-1.4 .5M106 103.9l.2-1.2l.8-1.5l-1.1-.7M82.1 55.7l-.1 1.9l1.3 .5l.5-1.6M72.3 68.3l-1.1 .4l.4 1.6l1 1M97.8 92.5l-.9-1.2l.3-1.9l-.1-1.6M75.2 87l-.7-1.4l-.9-.8l-1.5 .7M127.5 62.6l1.6 .6l.1 1.5l.8 1.3M127.5 74.9l-.3 1.5l-1.1-.2l-.4 1.1M48.6 89.1M59.5 92.3l-.5-.9l-.7-1.4l-1.5-1M86.4 104.3l1.2-1l1 .1l1.5 .2M102.4 64.9l.6-1l.1-1.4l1.5-.1M68.1 89.9l1.2-.2l1.7-.7l1.9 .2M90.1 60.1l-.1 1.8l-1.2-.1l-1-.5M74.7 91.1l.9-1l1 .9l1-1M64.8 71.7l.7 1.6l.4 1.1l-.9 1.5M70.9 56l1-.3M84.5 86.6l-.9-.9l.1-1.4l-1.8-.8M88.1 57.2l-.6 1l-.1 1.6l-1.8-.1M86.5 95.9l.1 2l1.2 1.6l-.2 1.8M88.9 68.4l-1.3-1.1l-.8-1.3l1.6-1M79 86.2l-1.9-.6l-1 1.1l-1.2-.6M110.1 87.1l-1.2-.3l-1.5-.1l-1.3 .3M125.8 69.2l.4 1.5l.5 .9l-.1 1.2M64.4 91.5l.9 .8l-.7 .9l-1.5-1M93.5 77.3l.4-1.1l.4-1.1l1.4-1.4M73.1 68.9l.9 1.3l1.7-.4l1.1 .3M92.3 53.5l1.4 0l.2 1.2l0 1.2M91.6 74l-.6-.9l-1 .3l-1.1-1.6M102.1 80.3l-1.7 .8l-.9-1.1l-.4-1.7M103.9 55.1l.8-1.5M114.2 66.3l1.7-.1l.9 .9l.3 1M96.6 74.6l1.6-.3l.9 1.8l-.9 1.1M66.9 96.6l.8 1.2l-.4 .9l-1.8-.3M63.6 74.1l1-.9l1.6 .1M126.3 67l.1 1.2l.7 1l1.1-.5M124.1 76.4l-1.6-1l-.1-1.5l-1.5-1M83.9 85l.1 1.3l.2 1.7l1.5 1.2M113.1 56.2l0 1.6l1.5 0M107.3 77.7l-.9-.8l-.8 .8l-1.1 1.3M75.2 59.5l.1 1.4l-1.3 1.4l-1.6-.4M107.6 96.5l-1.6 .3l-1.3 .5l-1.1 .2M91.1 97.7l-1.7-.2l-1.2-.1l-1.3 .7M75.5 65.6l-1.8-.6l-1 1.6l1.2 1.3M72.1 89.3l1.5-.5l1.4 .3l1.1-.1M78.4 100l1.7 .3l1.4 .3l1.3-.5M96.3 92.1l-1.8-.6l-1.1 .2l.1 1.3M98.9 71.5l-1.6-.5l-1.3-.1l.1-1.3M74.9 67l-.4-1.9l1.2-.7l1.9-.6M108.8 102.1l-1.3 1.5l-1.3-.7l-1.1-.7M98.4 90.6l-1.1-1.4l1.4-1.2l-.8-1.2M127.1 77l-.3-1.7l-1.1 .1l-1.9-.4M54.3 96.8l-1.5 .9l-.1 1.1M91.3 81.1l.3 1.2l.4 1.4l-.8 1.6M72.2 62.6l-.9-.9l-1.1 .5l-.1 1.1M95.8 55.7l-.5-1.5l.9 .7M86.2 68.8l-1.2-.3l-.8 1.3l-1.5-.5M104.5 56.2l-1.6-1.1l-1.1 .2l-1 .8M107.8 87.1l.7 1.5l-.2 1.6l.7 1.8M104.7 81.4l1.1-.3l.4 1.2l-1 .6M111.7 57.4l.6 1.8l-.9 1.4l-1.2 .4M129.3 86.5l0-1.4l-1.5-.8l-1-.4M127.2 93.9l1.3 .4l1.7 .9l1.5 0M81.7 67.4l-.9 1.3l-1 .7l.1 1.6M74.2 91.8l1.1-1.5l1-1l1.7-.4M110.1 105.5l-1.5 0l-1.2-.4l.1-1.3M106.5 87l-.7-1.1l-1.4 .2l-.7-.9M60.5 76.8l-1.2-.9M108.1 54.8l-.6 1.2M74.2 95l1.7-.7l-.3-1.9l-1.7-.1M92 75.1l1.1 .2l.4 1.4l1 1.3M65.1 86.5l.2 1l.8 1.3l1.5 0M131.3 79.8l-.9-1.5l-1.3-.8l-.4-1.2M108.1 74.9l.5 1.9l-1.5 1l-1.7-.6M76.9 69.8l.9 1.1l1.2-.8l.9 .4M78.6 53.4l.7 1.3l-1.6 1.1M100.2 73.2l-1.5-1l-1.3-1.4l-1.4-.3M123.6 82.8l-.5 1.1l.8 .7l1.7 .8M85.9 57.4l1.1 1.4l1.1 .7l.5 1.3M79 69.5l-.5 1l.9 .7l1.1 .4M98.9 84.5l-1.1 1l-1.4-.6l-1-.4M128.9 72.7l-.1 1.4l-1.4 .3l-.3-1.1M66.2 87.1l-.6 1l-1.4-.2l-1-1M124.5 69.1l.7-1l1.2 0l.8-1.6M86.4 87.3l-.5-.9l-.7-1.6l-1 .2M83.1 64l.7 1l1 1l.9 .6M112 81.9l.6-1.2l.4-1.9l.7-1.6M86.8 60.4l-.1-1.6l-1.4-1.2l.5-1.5M79.6 94.9l-1.7-.3l-1.5 .1l-.1-1.1M108.1 75.3l.4 1.8l-1 .4l-.4 1M96.6 107.7l-.5-1.3l-1.3-.5l-1.5 0M115.9 73.6l-1.3 .9l-.8-.7l-1.1 .7M65 72.2l.4 1.2M121.9 78.2l.1-1l1.6-.9l1 1M118.2 97.6l-1.2 .1l-.4-1.9l.5-.9M105.3 87.3l-1-1.2l.9-1l1 .8M64.6 79.1l.2 1.6l-1.3 .3l-.6-1.8M76.2 55.1l-.6-1.8l-1.6-.9l.4-1M68.2 62.3l1.1 1.1l-.6 1.8l-1.2 1.6M134 82.5l1.5-1M100.4 85.4l-1.8 .6l-1.1 1.7l0 1.4M120.1 79.2l-1.6-.7l-.7 1.2l-.8 1.7M112.3 92l1-.7l.9-1.7l-.8-.8M100.8 76.6l.7-.7l.1-1.5l1.4-.5M119.7 79.1l.5-1l0-1.3l-.8-1.6M78.1 99.4l1.6-.8l1.8 .4l.6-1.7M71.5 94.4l-.9-1.6l-.2-1.1l.6-1.3M88.4 55.3l1.3 .7l1.1-1.6l1.1 .7M132.9 78.4l-.8-1.8l.1-1.1l-.3-1.7M105.7 102.4l-.6 .9l-1 .2l-.2-1.3M111.9 59.5l-1.4 .9l-1.5 .8l-1.2-.7M103.9 85l1.5 .1l.4-1.8l-.2-1.2M80.2 78.4l-1.2 .2l0 1.6l-1.6 .5M131.3 86l-.6-.9l-1.3 .8l-1.3-1M101.2 107.6l.9 1.3l1.1 .2l1.3 .1M80 62l-1.7 .4l-.4 1.7l.2 1.8M53.5 83.3l1.1-1.5l.8-1.7M115.8 72.2l1-.3l1.5-1.1l1.4-.5M76.8 65.5l1.4 .7l.8 .9l1.8-.2M71.6 54.6l-1.6 .5l-1.5 0l-1.3 1.3M96.3 92.5l1.2-.7l1.1 .3l1.3-1.1M119.5 81.8l.5-1.3l-.4-1.4l-1.4 0M78.9 102.2l-.7 1l1.3 1.2l1.4 1.2M117.4 57.8l-.7 1.4l-.3 1.4l-1.2 .7M120.7 64.7l.3 1l1 1l1.1-.1M118.3 64.1l-1-.4l.3-1.5l-1.9-.6M77.8 72.7l-.6-1l-1.9 .5l-.9-1.2M78.8 105l-1.3-.3l.2-1.4M119.9 88.1l1.6-1l1.4-.6l1.2 1.5M134.1 66.1M59.9 81.3l1.6 .4l-.4 1.8l-1.9 .1M76.8 75.3l-.6-.9l0-1.6l-.4-1.7M76.7 99.6l-.1-1.1l1.2-1.3l.3-1.4M80.3 83l-.9-1.5l-1.8-.2l-1 1.1M60.8 96.6l-1.4-.3l-.7 .9l-.6 .8M64.7 92.8l.9-.6l1.3-.4l.9 .9M109.3 57.7l-1.6 .7l-1.1-.4l-1.6-1.1M93.2 62.4l-.9 .6l-1 .4l-1.8-.4M122.9 104.2l-1.6-1.2M55.8 99.7l1.3 .5l-.8-.8M91.8 61.7l1-.5l.2-1.4l-.5-1.5M98 54.4l-1.5-.2l-1.3 .3l-.4-1.4M66.2 83.8l-1.6-.9l-1.8-.1l-.8 .8M108.3 72l.2-1l1-1.5l1.2-.6M120.2 82.4l.4 1.2l-1.7 .6l-.2 1.9M102.8 60.8l-.6-1.3l1.3-.9l1.2-1.2M87.4 76.7l-1.7-.6l-1.2 .2l-.6 1.6M67 62.9l.4-1.9M65.2 90.4l.1 1.6l-1.1 1.6l-1.1 .1M55.7 97.6l-.2-1.4l.6-1.3l1-.2M93 86.1l-.5-1.7l1.3-.8l.1-1.4M112.1 67.1l-.3 1.8l-1.2 .8l-.6 1.1" stroke="#5a5a5a" stroke-width="0.8" fill="none" stroke-linejoin="round" />
<path d="M88.5 81.1h0M107.4 87.1h0M107.4 85.9h0M91.6 88.8h0M93.8 86.6h0M114.4 70.8h0M48.6 87.9h0M49 89.1h0M59 85.7h0M58.3 86.5h0M75.2 65h0M76.4 64.3h0M121.4 64.8h0M118.5 64.3h0M111.9 62.6h0M113 62.5h0M97.8 56.7h0M116.1 95.7h0M107.3 61h0M80.5 89.5h0M67.5 60.8h0M68.3 61.6h0M110.4 85.1h0M109.1 86.6h0M103.6 73.6h0M103 72.8h0M112.6 61.6h0M111.1 62.7h0M101.6 96.5h0M100.5 95h0M95.9 100h0M95 100.7h0M93.9 100.4h0M94.4 94.4h0M95 95.3h0M105.5 80.6h0M107.3 81.2h0M96.6 59.3h0M96.9 57.8h0M98.3 57.1h0M95.4 75.2h0M97.4 76.4h0M60.6 86.2h0M53.2 96.6h0M54.1 97.7h0M55.3 98.6h0M63.4 86.2h0M67.2 96h0M67.5 97.1h0M67.2 98.1h0M109.4 104.8h0M108.4 104.4h0M95.2 81.8h0M86.7 99.4h0M84.9 99.9h0M116 73.8h0M114.9 76.5h0M109.7 96.5h0M108.7 95.4h0M106.8 67.6h0M110.1 68.1h0M102.6 97.2h0M103.3 98.1h0M100.5 98.8h0M103 98.2h0M94.5 89.8h0M95.5 89.1h0M55.8 96.3h0M56.9 94.7h0M58.3 95.1h0M113.8 79h0M114.2 80.4h0M115.7 80.2h0M84.6 92.8h0M82.6 91.3h0M67.2 75.6h0M67.4 78.6h0M117.5 101.9h0M118.9 100.8h0M75.3 82.9h0M75.4 81h0M73.9 80.6h0M106.2 67.4h0M75.3 99.6h0M73.9 74.1h0M75.1 74.7h0M122.1 82.4h0M95.9 96.9h0M96.3 95.3h0M62.8 96.8h0M64.1 95.8h0M93.4 92.9h0M94.9 91.6h0M94.6 90.4h0M52.5 89.4h0M51.4 87.8h0M113.5 86.9h0M113 89.3h0M76.7 82.8h0M77.5 84.4h0M78.1 85.8h0M89.6 70.4h0M89.4 69.1h0M92.1 55h0M92.4 53.9h0M98.2 106.5h0M75.4 66h0M124.9 90h0M126.3 89.8h0M126.5 91.6h0M101.4 66.5h0M100.5 67.9h0M101.2 69.5h0M112.1 67.8h0M111.7 66.1h0M129.4 73.9h0M106.3 57.6h0M92.2 83.8h0M64.9 83.6h0M62.9 82.7h0M106.2 97h0M106 98.4h0M106.3 99.9h0M91.3 64.1h0M89.2 62.6h0M105.9 92.6h0M92.6 80.7h0M93.2 77.1h0M92.2 74.2h0M93.5 74.7h0M104.6 103.1h0M78.7 72.5h0M124.4 73.2h0M123.8 74.1h0M114.6 68.2h0M115.3 70h0M116.5 69.8h0M116.1 59.9h0M114.7 63.5h0M98.6 61.6h0M97.1 61.7h0M100.6 93.4h0M99.1 93.2h0M97.2 81.9h0M58.8 92.8h0M88.2 95.7h0M89 94.7h0M118 96.8h0M119.7 97.8h0M77.2 92.2h0M78.3 90.8h0M79.5 90.8h0M61.2 83.5h0M64.3 82.9h0M111 70.9h0M113.7 69.5h0M135.2 69.2h0M73.5 99.7h0M75.2 98.9h0M92.8 55h0M91.4 54.9h0M73.4 90h0M74.4 90.5h0M78.7 69.1h0M78 71h0M81.5 55.4h0M81.8 56.8h0M89.7 86.7h0M89.8 90h0M92.2 86.8h0M90.8 66.3h0M89.2 66.7h0M89.6 68.2h0M65.9 76.6h0M66.1 74.7h0M113.8 92.4h0M95.9 62.9h0M96.1 61.2h0M65.5 97.3h0M79.2 93.8h0M87.5 71.8h0M97.5 99.1h0M57.1 89.6h0M58.1 89.7h0M58.4 91h0M102.3 89.7h0M76.8 98.1h0M83 100.2h0M85.2 102.3h0M97.8 64.6h0M99 66.1h0M114.9 58.7h0M113.9 58.2h0M80.8 65.1h0M64.8 75.2h0M53.3 86.8h0M122.7 92.6h0M86.3 85.2h0M87.9 85.9h0M88.7 87.7h0M93.1 100h0M124.4 86.2h0M123 83.4h0M72.1 90.3h0M73.2 91.6h0M99.3 71.7h0M99.8 73.2h0M120.5 74.3h0M117.6 74.3h0M124.9 89.4h0M124.4 88.2h0M111.8 93.4h0M80.4 70.6h0M76.2 87h0M85.3 73.1h0M84.2 73.5h0M83.2 73h0M104.3 86.1h0M75.5 83.9h0M71.1 99.9h0M71.8 101.3h0M94 71.7h0M92.1 69.9h0M68.4 70h0M97.1 73.4h0M99.3 73.5h0M78 90.6h0M66.8 62.5h0M75.8 67.3h0M115.5 87.8h0M81.4 78.9h0M81.6 81h0M80.4 81.8h0M78.5 81.8h0M108.1 71.6h0M107.2 70.8h0M92.9 69h0M93.6 68h0M115.4 85.5h0M86 79.9h0M83.6 79h0M117 102h0M116.9 103.6h0M131.1 91.9h0M131.4 90.2h0M68.2 66.5h0M126.3 84.9h0M125.2 83.3h0M116.7 64h0M116.7 65.9h0M52.1 86.7h0M108.4 102.1h0M85.2 80.4h0M109.1 79.5h0M106.6 78.4h0M114.3 63h0M89.4 100.9h0M90.9 102.5h0M75 94h0M76.2 93.7h0M77.9 92.7h0M77.7 106h0M99.4 95.6h0M59.2 93h0M74 61.5h0M73.3 97.2h0M123.2 78.6h0M121.9 78.2h0M62.2 99.6h0M61.6 100.7h0M58.6 78.2h0M59.9 78h0M106.6 68.9h0M123.4 62.9h0M69.4 103.8h0M110.5 99.7h0M108.6 99.6h0M127.3 98.2h0M59.1 99.3h0M130.5 64.7h0M129.7 63.4h0M125.5 81.7h0M124.7 80.7h0M123.8 81.2h0M73.3 96.7h0M71.9 95.1h0M65.8 96h0M79.3 79.5h0M78.8 81.6h0M125.6 82.1h0M123.9 82h0M122.6 82.5h0M72.2 90h0M71.6 91.8h0M122.7 72.2h0M118.9 81.7h0M120 80.3h0M121 79.7h0M128.3 91.6h0M79.2 98.4h0M80.6 99h0M81.5 90.8h0M65.9 83.3h0M87.8 65.4h0M65.8 97.1h0M101.5 101.3h0M70 85.4h0M70.5 86.3h0M70.8 87.5h0M120.3 79.3h0M88.9 78h0M72.3 60.6h0M93.9 65.7h0M94.6 66.4h0M96.1 67.1h0M74.4 59.9h0M112 57.4h0M113.6 56.8h0M73.3 101.7h0M72.5 100.4h0M79 70.2h0M79.7 72.8h0M63.6 75.9h0M101.7 107.2h0M77.6 55.6h0M76.8 57h0M99.7 71.6h0M101.6 71.1h0M72.2 95.7h0M131.3 70.8h0M76.8 95.1h0M78.1 95.4h0M66.4 77.6h0M66.9 76.3h0M57.5 97.7h0M56.3 97h0M86.5 100.3h0M84.9 100.2h0M84.2 100.9h0M118.2 90.4h0M118 66.2h0M117.3 64.9h0M51.1 92.1h0M88.4 56.5h0M87.3 57.1h0M88.3 64.9h0M91.7 53.7h0M75.6 73.2h0M73.4 71.5h0M79.5 91.5h0M65.8 98.3h0M65.7 99.6h0M66.7 101h0M105.1 101.6h0M104.4 103.1h0M104 104.6h0M127.9 86.7h0M115 88.8h0M120.2 101.5h0M121 102.5h0M122.1 103.6h0M119.8 66.8h0M106.4 75.2h0M105.3 75.5h0M123 73.6h0M120.9 75.1h0M133.3 80.1h0M134.2 81.2h0M85.5 91.5h0M84.4 92.4h0M85 93.3h0M78.9 68.9h0M80 69h0M117.2 97.4h0M73.9 76.6h0M75.2 76.7h0M66.4 96.7h0M67.3 98h0M67.8 99.2h0M107 69.3h0M106.4 70.5h0M107.7 71.3h0M127.1 70.8h0M125.9 69.9h0M121.3 102.9h0M101.8 85.4h0M102.5 83.1h0M114.1 64.4h0M88.4 70.8h0M89.4 72.7h0M90.3 73.8h0M115.6 103.3h0M88.4 92.7h0M114.7 82h0M111.7 102.8h0M111.4 104h0M65.1 73.4h0M64.7 71.8h0M109.9 104.8h0M125 90h0M131.3 70.4h0M51.7 86.8h0M69.3 80.1h0M129.4 96.3h0M103.8 53.2h0M105.1 65.8h0M54.1 96.6h0M52.3 96.9h0M69.7 63.9h0M72 62.2h0M101.6 108h0M134.4 82.6h0M75.2 60h0M74.1 59.9h0M64.4 73.5h0M88.3 66.5h0M88.6 69h0M120.4 88.8h0M121.7 91.5h0M90.8 57.1h0M88.7 58.9h0M98.6 74.4h0M99.8 73.6h0M93.7 57.3h0M102.2 63.8h0M99.3 61.2h0M131.6 68.8h0M132.8 68.5h0M116.4 61.3h0M78.8 87.3h0M90.7 85.9h0M90.2 84h0M97.9 82.9h0M98.6 83.9h0M105.2 69.9h0M93.9 94.5h0M94.8 95.7h0M60.3 96.2h0M86.2 58.8h0M83.8 60.1h0M67.5 82h0M66.4 81.8h0M67.2 86.9h0M68.2 85.8h0M68.1 84.1h0M108.9 61.5h0M58.3 79h0M57.4 79.9h0M98.6 107.6h0M97.5 109.2h0M120 65.5h0M118.8 66.6h0M92.5 59h0M94 58.5h0M94.8 56.9h0M60.5 94.7h0M56.7 85h0M82.3 53.3h0M91.1 55.1h0M68.4 65.6h0M69.5 65.6h0M63.2 96.5h0M99.6 75.9h0M111.2 84.1h0M113.5 85.5h0M83 90.6h0M107.3 100.7h0M104.4 99.8h0M97.5 82.4h0M88.3 57h0M87.2 55.9h0M115.9 73h0M60.6 96.5h0M61.7 96.7h0M62.5 95.1h0M111.2 77.9h0M110.2 78.4h0M74.8 89.1h0M77.7 89.9h0M103.7 73.6h0M104.4 74.8h0M113.1 78.6h0M112.1 77.7h0M111 77.7h0M95.1 97h0M95.3 95.5h0M113.2 88.4h0M112.4 89h0M112.9 90.7h0M68.8 99.8h0M96.3 93h0M98.6 94.1h0M81.5 59.4h0M80.1 62.4h0M92.9 77.6h0M92.7 74.3h0M106.5 76.7h0M108.7 74.9h0M119.2 90h0M117.9 90.9h0M124.1 94.6h0M124.2 96.6h0M113 99h0M114.6 101.1h0M120.3 97.2h0M122 96h0M100.9 89.7h0M106.4 65h0M119.2 71.4h0M120.4 72.6h0M76.5 66.3h0M74.9 65.1h0M131.5 85.1h0M132.3 85.8h0M101.1 88.8h0M61.1 87h0M100.1 86.9h0M80.7 71.3h0M82.1 71.9h0M81.8 73.8h0M122.2 68.1h0M121 66.9h0M72.1 61.9h0M55.5 90.8h0M122.7 91.8h0M52.9 88.3h0M53 87.1h0M53.4 85.9h0M114 68.3h0M114.5 66.4h0M98.2 89h0M97.4 87.9h0M104.5 70.6h0M105.9 69.8h0M110.8 71.3h0M57.8 82.6h0M79.1 61.9h0M67.4 67.2h0M68.6 67.6h0M74.6 80.7h0M74.7 79.4h0M73.4 79.3h0M128.7 61.8h0M114.6 71.8h0M116.1 71.7h0M118.3 97.3h0M116.9 96.8h0M81.8 104.8h0M83.2 106.5h0M66.7 98.5h0M64.9 99.1h0M63.7 97.5h0M117.1 93.3h0M116.5 91.7h0M117.9 96.2h0M116.4 97.1h0M115.3 96.5h0M115.3 97.9h0M116.8 98.2h0M85.1 58h0M72.1 70.2h0M71 71.5h0M99.1 89.7h0M72.7 60.4h0M71.2 61.6h0M98.5 92.9h0M108.8 97.2h0M110 96.3h0M74 99.1h0M126.9 92.5h0M127.5 90.7h0M71.4 58.5h0M130.3 82.1h0M116.3 58.8h0M85.3 76.4h0M84.9 78.3h0M101.2 75.6h0M101.7 76.5h0M81.8 70.5h0M85.9 81.4h0M84.4 80.1h0M110.3 66.3h0M87.4 78.6h0M88.7 79.4h0M86.7 60.9h0M78.1 87.6h0M132.5 76h0M132.2 74.8h0M121 88.2h0M80.6 105h0M88.8 69.8h0M87.7 69.2h0M97 103h0M96.3 101.5h0M89.5 86.6h0M105.2 72.2h0M107.3 73.3h0M95.7 67.2h0M96.1 65.3h0M94.9 64.9h0M93.3 73.4h0M91.5 75.6h0M71.6 76.3h0M71.2 77.9h0M112.7 100.8h0M113.4 100h0M109.5 101.4h0M109.8 99.9h0M67.8 98.9h0M69.1 100h0M72.7 73.4h0M71.2 73.1h0M100.3 71.4h0M99.7 68h0M73.8 62.7h0M92.1 68.9h0M96.4 83.4h0M96.6 84.5h0M98.3 84.3h0M130.9 70.6h0M65.3 91.4h0M67.8 74.3h0M67.6 76.2h0M76.3 90.5h0M77.3 91.1h0M126 84.5h0M127.1 83.8h0M82.4 70.2h0M83 69h0M84 68h0M57.2 91h0M58.3 89.4h0M87.3 107.9h0M124.7 93.3h0M125.1 91.5h0M118.7 80.2h0M120.1 81.4h0M119.7 82.7h0M108.6 87.7h0M104.7 61.8h0M105.6 62.4h0M105.5 63.7h0M124.6 77.4h0M116.9 70.6h0M116.7 69.3h0M118 97.3h0M116 96.9h0M72 64.3h0M73.2 63.8h0M88.4 93.6h0M74.9 68.6h0M75.9 66.4h0M73.6 79.9h0M123.7 93.2h0M119.4 60.2h0M118.3 60.2h0M66.6 102.6h0M67.8 103.9h0M80.2 55.4h0M54.7 96h0M53.3 95.3h0M71.5 91h0M100.2 56.3h0M123.8 101.8h0M123.4 100.7h0M111.7 69.2h0M112.8 70.4h0M125.5 76.2h0M123.3 75.3h0M83.1 58.8h0M97.7 64.3h0M93.5 54.7h0M93.6 55.9h0M74.6 67.6h0M75.4 66.7h0M76.7 66.4h0M72.5 65.2h0M72.4 67h0M73.5 68.5h0M55.1 89.1h0M123.1 95.5h0M124 96.1h0M86.4 59.1h0M89.6 65h0M90.9 63.5h0M106.8 96.4h0M105.8 94h0M85.5 84.4h0M84.3 83.2h0M84.9 81.4h0M113.9 88.4h0M62.8 90.6h0M64 89.5h0M96.5 75.1h0M97.9 74.8h0M98.2 73.6h0M70.2 83.9h0M69.4 85.1h0M70.4 86.8h0M68.1 79.6h0M67.4 80.8h0M60 88.7h0M59.8 89.7h0M90.2 65.9h0M84.8 65h0M95.7 72.8h0M97.4 72h0M78.5 65.1h0M123.2 59h0M121.7 105.4h0M75.6 56.3h0M69.8 61.2h0M70.7 60.7h0M71.9 60.3h0M119.9 75.8h0M65.8 98.8h0M106 64.6h0M86 63.3h0M111.6 56.5h0M94.7 94.5h0M114.1 106.9h0M94.1 73.1h0M116.6 74.6h0M115.4 73.6h0M99 102.8h0M72.2 100.5h0M73.9 100.7h0M75.2 101.4h0M104.2 101.1h0M83.2 64.3h0M109.6 62.2h0M108.4 62h0M108.2 61h0M90.1 66.7h0M91.4 67.2h0M129.7 75.6h0M127.9 75.5h0M123.1 100.5h0M76.1 64h0M74 66.2h0M95.8 92.2h0M94.2 93.2h0M89.4 89.2h0M88.2 89.3h0M130.6 91.4h0M90.9 99.8h0M91.3 101.3h0M91.2 102.7h0M117.4 91.7h0M116.9 93.8h0M73 88.1h0M50.8 81.9h0M106.1 82.5h0M107.4 82.5h0M107.6 83.6h0M124.9 66.1h0M113.4 60.9h0M114.3 60.3h0M113.6 58.5h0M64.7 101.6h0M118.3 75.7h0M115 74.9h0M74.8 82.1h0M109.3 106.7h0M110.6 107.1h0M100.3 68.5h0M49.3 95.9h0M48.3 96.1h0M84.4 83.1h0M64 83h0M63 84h0M74.1 101h0M107.4 84.7h0M107.7 82.1h0M95.3 77.4h0M94.1 80.2h0M68.7 73.9h0M89.3 52.9h0M88.6 53.9h0M88.1 54.9h0M124.1 75.1h0M125.2 88.9h0M124.1 87.4h0M125.1 86.7h0M90.6 83.9h0M88 85h0M69.2 77.8h0M70 76.2h0M69.1 104.8h0M122.7 100.1h0M74.2 98.2h0M101.5 64.8h0M100.5 65.5h0M73.1 95.9h0M71.9 95h0M70.9 93.6h0M106.3 103.9h0M87.9 103.8h0M88.1 105.3h0M82 82.8h0M122.2 76.9h0M77.8 88.7h0M73.8 87.5h0M63.9 76.6h0M63.9 77.8h0M95.1 69.4h0M95.4 98.5h0M97.2 98h0M97.6 96.3h0M102.2 76.2h0M94.5 88h0M118 66.2h0M62.7 86.9h0M109.2 56.2h0M108.1 56.5h0M107.8 57.7h0M83.8 68.8h0M83.9 66.7h0M117.2 97h0M67.5 75.1h0M66.2 76h0M65.1 76h0M129 93.1h0M126.2 61.5h0M121.7 97.2h0M123.4 97.7h0M124.5 98.2h0M56.7 79.3h0M57.9 80.2h0M68.6 76.7h0M68.3 79h0M102.2 83.4h0M79.5 67.5h0M125.2 67h0M65.9 83.5h0M67.7 84.3h0M68.7 85.5h0M72.1 87.1h0M123.6 65.1h0M124 66.8h0M109.3 91.1h0M97.9 85.5h0M98.2 83.8h0M114.3 83.9h0M113 84.3h0M104.2 103.5h0M104.6 102.2h0M57.6 82h0M56.6 79.2h0M82.5 93.4h0M125.6 79h0M126.7 76.5h0M86.8 66.3h0M51 88.3h0M114.1 76.4h0M113.1 75.8h0M83.5 55.5h0M81.9 55.4h0M80.3 56.2h0M116.5 104.3h0M102.4 97.9h0M100.5 97.7h0M100.2 96.3h0M99 103.5h0M108.6 98.2h0M107.4 96.2h0M83.2 75.9h0M134.9 71h0M135.3 72.7h0M128 62h0M51.5 90h0M104.9 107.1h0M103.9 105.6h0M78.5 78.4h0M61.6 81.1h0M59 82.7h0M122.6 101.3h0M121.5 99.8h0M129.4 72.5h0M68.5 53.7h0M67.6 54.4h0M88.8 55.1h0M87.7 54.3h0M124.8 94.9h0M89 97.3h0M91.8 96.4h0M70.5 70.8h0M97.6 101.1h0M78 102h0M79.3 100.9h0M85.2 59.9h0M86.8 58.8h0M99.2 99.7h0M114.3 75.1h0M115 73h0M125 90.2h0M125.4 91.9h0M126.8 97.2h0M127.1 96.1h0M127.5 95.1h0M105.1 89.3h0M106.2 89.9h0M107.6 88.9h0M109.5 70.2h0M108.9 69h0M96.3 83.7h0M67.9 74h0M66.6 74.4h0M103.3 104.7h0M76.2 55.8h0M77.9 56.6h0M126.1 64.1h0M127.1 62.9h0M118.4 85.9h0M116.7 86.6h0M115.7 103.3h0M91.4 82.5h0M91.9 84.3h0M92.7 85.8h0M79.1 68.3h0M78.7 70.3h0M81.5 99.5h0M81.2 101.1h0M63.1 99.1h0M61.3 99h0M61 100.5h0M88.4 75.8h0M92.6 60.1h0M90.7 60h0M81 99.4h0M82.9 99.1h0M96.3 88h0M64.6 93.7h0M84.1 63.6h0M82.6 62.4h0M126.4 71.4h0M107 101.2h0M71.6 70.3h0M72.6 71.3h0M96.9 91.3h0M97.2 89.4h0M74.5 85.6h0M73.6 84.8h0M72.1 85.5h0M130 66h0M127.2 76.4h0M126.1 76.2h0M87.6 103.3h0M103 63.9h0M104.6 62.4h0M71 89h0M72.9 89.2h0M90 61.9h0M88.8 61.8h0M87.8 61.3h0M76.6 91h0M65.5 73.3h0M65 75.9h0M83.6 85.7h0M83.7 84.3h0M87.5 58.2h0M87.4 59.8h0M85.6 59.7h0M86.6 97.9h0M87.8 99.5h0M87.6 101.3h0M87.6 67.3h0M74.9 86.1h0M108.9 86.8h0M126.7 71.6h0M65.3 92.3h0M64.6 93.2h0M93.9 76.2h0M94.3 75.1h0M74 70.2h0M75.7 69.8h0M93.9 54.7h0M93.9 55.9h0M91 73.1h0M100.4 81.1h0M99.5 80h0M99.1 78.3h0M104.7 53.6h0M116.8 67.1h0M117.1 68.1h0M99.1 76.1h0M98.2 77.2h0M67.7 97.8h0M67.3 98.7h0M65.5 98.4h0M66.2 73.3h0M126.4 68.2h0M127.1 69.2h0M128.2 68.7h0M113.1 57.8h0M106.4 76.9h0M104.5 79h0M72.4 61.9h0M103.6 97.5h0M88.2 97.4h0M86.9 98.1h0M80.1 100.3h0M93.4 91.7h0M93.5 93h0M97.3 71h0M96 70.9h0M96.1 69.6h0M75.7 64.4h0M77.6 63.8h0M107.5 103.6h0M106.2 102.9h0M105.1 102.2h0M97.9 86.8h0M125.7 75.4h0M123.8 75h0M52.8 97.7h0M70.2 62.2h0M70.1 63.3h0M85 68.5h0M82.7 69.3h0M108.3 90.2h0M109 92h0M112.3 59.2h0M111.4 60.6h0M110.2 61h0M129.3 85.1h0M126.8 83.9h0M130.2 95.2h0M131.7 95.2h0M79.8 69.4h0M79.9 71h0M75.3 90.3h0M78 88.9h0M108.6 105.5h0M107.4 105.1h0M107.5 103.8h0M105.8 85.9h0M75.9 94.3h0M75.6 92.4h0M73.9 92.3h0M65.3 87.5h0M66.1 88.8h0M130.4 78.3h0M128.7 76.3h0M107.1 77.8h0M105.4 77.2h0M79.3 54.7h0M77.7 55.8h0M98.7 72.2h0M97.4 70.8h0M125.6 85.4h0M88.1 59.5h0M78.5 70.5h0M79.4 71.2h0M80.5 71.6h0M97.8 85.5h0M96.4 84.9h0M95.4 84.5h0M127.2 66.5h0M85.9 86.4h0M85.2 84.8h0M84.2 85h0M83.8 65h0M85.7 66.6h0M112.6 80.7h0M113.7 77.2h0M85.8 56.1h0M108.5 77.1h0M107.5 77.5h0M107.1 78.5h0M94.8 105.9h0M112.7 74.5h0M122 77.2h0M123.6 76.3h0M117 97.7h0M117.1 94.9h0M104.3 86.1h0M106.2 85.9h0M63.5 81h0M75.6 53.3h0M74 52.4h0M74.4 51.4h0M69.3 63.4h0M67.5 66.8h0M97.5 87.7h0M117.8 79.7h0M117 81.4h0M114.2 89.6h0M113.4 88.8h0M101.6 74.4h0M103 73.9h0M120.2 78.1h0M120.2 76.8h0M79.7 98.6h0M81.5 99h0M70.6 92.8h0M70.4 91.7h0M90.8 54.4h0M91.9 55.1h0M132.1 76.6h0M105.1 103.3h0M104.1 103.5h0M110.5 60.4h0M105.4 85.1h0M105.6 82.1h0M79 78.6h0M77.4 80.7h0M130.7 85.1h0M102.1 108.9h0M103.2 109.1h0M78.3 62.4h0M77.9 64.1h0M78.1 65.9h0M55.4 80.1h0M116.8 71.9h0M118.3 70.8h0M119.7 70.3h0M78.2 66.2h0M79 67.1h0M80.8 66.9h0M70 55.1h0M67.2 56.4h0M97.5 91.8h0M98.6 92.1h0M79.5 104.4h0M116.7 59.2h0M117.3 63.7h0M77.2 71.7h0M75.3 72.2h0M74.4 71h0M77.5 104.7h0M121.5 87.1h0M122.9 86.5h0M61.5 81.7h0M76.2 74.4h0M76.2 72.8h0M75.8 71.1h0M76.6 98.5h0M77.8 97.2h0M78.1 95.8h0M79.4 81.5h0M77.6 81.3h0M76.6 82.4h0M59.4 96.3h0M58.7 97.2h0M58.1 98h0M67.8 92.7h0M107.7 58.4h0M92.3 63h0M89.5 63h0M121.3 103h0M57.1 100.2h0M56.3 99.4h0M92.8 61.2h0M93 59.8h0M96.5 54.2h0M94.8 53.1h0M62 83.6h0M108.5 71h0M109.5 69.5h0M120.6 83.6h0M102.2 59.5h0M104.7 57.4h0M63.1 93.7h0M92.5 84.4h0M93.9 82.2h0M110.6 69.7h0M110 70.8h0" stroke="#5a5a5a" stroke-width="1.30" stroke-linecap="round" fill="none"/>
<path d="M88.5 90.7l-1 .1l-1.2 1.3l-1.4 .7M75 73.5l-.9-.6l-.9-.7l.5-1M102.9 57.1l-1.1 .2l-1.2 .7l-1.1 .8M76.9 70.7l.2-1.1l-.4-1.5l-.3-1M84.2 81.3l.6 1.3l1.5-.2l.9 .5M75.7 89.3l1.2 .2l1.9 .2l0 1.2M77.7 58.9l1-.3l1.1 .8l.6-.9M73.6 99.5l1-.7l1.3-1l1.4 1.3M70.5 105.4M67 92.5l-1.9-.1l-1 1l-1.3 .9M82.9 86l1.5 .5l1.7-.2l-.2-1.7M131.2 82.4l-.2-1.1l-1.3-1.4l-.9-1.3M94.4 93.6l-.1 1.4l-.7 .9l-.1 1.7M89.8 76.2l-.1 1.3l.9 1.7l1 .8M84.4 61l1.5-.8l1.3-.9l.2-1.4M123.5 61.5l-.7-1.2l.1-2l.8-1.1M73.6 80l-.1 1.1l-.3 1.2l-1.2 .5M100.7 72.5l1.2 .6l1.1 1.5l-.4 1.4M67.8 73.7l-.6 1.3l.7 1l-1.2 1M123.9 105.4l.9-1.6M112.2 66.2l1.3 .2l1 .6l1.2 .9M105.8 100.4l-1.3-.7l-1.4-.2l-.9-.9M90.2 104.2l1.5-.8l1.1-1.1l1.1 .3M66.5 53.7M88.6 60l-.3-1.5l-.9-.6l.8-1.8M100.8 91.5l1-1.1l1.7 .4l1.8-.2M89.5 59.2l-.8-1.1l-1.4-.8l-1.5-1.2M66.7 74.5l.3 1.6l0 1.6l.5 1.2M91.2 77.3l.9 .8l1.3 .5l1.3-.4M80.9 81.1l-1.5 .7l-.6 1.7l-.9 .7M69.7 103.2l-.9-1.3l1.1-1M80.4 77.6l-1.7 .3l-1.7 .2l-1.5-.6M76.8 66.8l.3 1.8l-1.8 .5l-1-1.1M67.4 74.1l.5-1l-.7-.9l-1.3-.8M93.8 71l-1.4 1.1l-1.2-.4l0-1.1M60.2 103l1.2-.7l1.1-.7l-.7-1.8M97 103.3l1.4-.7l1.2-1.5l1.5 .1M81.9 100.4l.1-1.8l1.6-.5l.6-.9M55.8 87l-1.1 1.1l-1.8-.4l-1.1 .8M69.7 84.7l.9-1.6l-.3-1.7l-1-.3M77.1 52.4l-1.3 .4l-1.5 .3M127.5 67.4l-.3-1.3l.5-1.6l-1.6-1.2M122.3 92.2l.9 1.1l1 .3l.1 1.7M133.4 81l-1-1.5l1.5-1M88.2 76.4l1.4 0l1.2 .5l.8 1.3M80.4 59.6l.8 1.5l1.5-.1l1.3-.9M64.8 95.7l-.5-1.1l1.3-.9l1.1-.5M90.6 107.8l1.5 .3M128.1 91.5l.6 1.7l1.4 .4l.8-.7M94.5 52l.6 1.9M129.1 63.9l-1.6-.3l-1.6-.8l-1.9-.5M68.8 93.3l.1-1.8l-1.1-.1l-1.3 1.4M80.5 93.3l0-1.1l-1.3-.7l-.5-1.7M71.2 95.5l.1 1.3l1.1 1.3l1-.3M76.8 67.1l.9 1.1l1-.5l1.9 .4M114.4 61.4l-1 1.3l.8 1.6l1.2-.3M49.9 97M114 98.2l1.1-.5l.8-.7l-1.1-1.7M118.3 85.4l-1.2-1.4l-.7-1.2l-.5-1.9M74.3 95l.2 1.5l1.1 0l1.1 .5M128.4 75.1l-.2 1.4l1.3 1.1l-.9 1.2M119.3 63.4l0-1.5l-.3-1.6l-1.6 .3M126.9 82.4l-.8 .9l1.2 1.4l1.4 .8M85.8 100.3l.2 1l1.7 .2l1.3-.9M62.4 62.6M103.4 82.8l1 1l1 .5l.1 1.5M68.1 78.9l-.8 1.1l.3 1.5l-.8 .8M125.8 81l-1.1-.3l.4-1.8l.8-1.3M51.7 97.3l1.3-1l1.3 .5M72.8 103.6l-1.4-1.1l-.1-1.7l-.7-.9M80.8 66.4l1.1-.2l.8-1.6l1.5-.4M68.3 78.7l0-1.3l1.6-.5l1.8 .5M129.7 64l-1.2 .2l-.5 1.8l1.1 1.4M98.5 97l-1-.5l-.3-1.3l.2-1.8M71.9 101.7l.3-1.7l.6-1.2l-.3-1.9M102.1 81.5l-.5 1.6l.3 1.5l-.5 1.7M102.7 67.7l.8 .9l.1 1.3l1.2 .2M128.5 75l.6-.9l.2-1.3l.6-1.1M100.5 90.7l-1.4 1.2l-1.6 1l-1.2 .8M64.2 84l-1.9-.2l-1.8 .3l-1.5-1.3M116.6 107.5M92.5 92.4l1.1-.1l.8 1.6l-1 1.4M97.8 80.7l-.7 1.1l1.1 .8l.9 .5M132.9 81.5l-.9-1.7l.8-1.4l.3-1.9M77.7 69l1.5 .6l.6-1.5l.5-1.1M117.5 85.4l-.7 .7l-1.6 .1l-.4-1M66.7 86.8l-1.8-.3l-1.6 .1l-.4-1.3M124.4 102.7l-1.6-.7l-.7 1.4M77.2 102.4l1.2-.5l1.3-.3l.1-1.8M76 63.3l-1.8-.6l-1.8 .3l0 1.4M114.9 68.5l-.1 1.1l.1 1.9l-1.6 .6M101.4 53.5l1 .1l1.1 .6l1.3-.4M115.5 81l.1-1.1l1.2-.2l0-1.7M53.2 79.7l-1 .9l1.6-1.2M93.9 105.4l.1 1l1.4-.2M80.6 55.5l-1-.6l.1 1.6M111.3 88.5l-1.8 .2l-1-1.4l.5-1.3M102.9 59.6l-.6 1.1l-1 1l.4 1.5M80.6 54.8l1.5 .5l1 .9l-.5 1.7M67.5 80.7l.3-1.6l-1.6-1.2l-.8-.7M123 67.1l1.2 .4l1 .2l1.4-1.1M126.5 79.5l-1.6-.7l-1-1.7l-1.7-.4M116.7 100.4l.3 1.2l1.4-.2l.7-1.6M76.7 99l-.3 1.1l-1.5 .8l-1.4 1.1M69.2 69.8l-1.4-.8l-1.3-.9M112.8 96.2l.7 1.2l-.9 .9l-.2 1.1M102 89.4l-1.2-.5l-1.5-.9l-1-.3M130.7 94.6l-.3 1.6l.4 1.9M98.6 78.9l.5 1l1.1 .7l1.2 1.2M80.5 53.7l-1.6-.4l-.1 1.5M122.4 99.1l.4-1l-.9-.4l-.5 1.3M127.2 69.9l-.3 1.1l-2-.2l-.7 1M85 93.9l.1 1.9l-1 .6l.5 1.1M61.3 82l1.9-.3l.5 1.3l-.4 1.2M84.7 69.2l1.4-.8l1.6 .7l1.6-1.1M96.4 59.8l.4 1.5l.1 1.4l-.5 1.2M65.7 74.6l-1.5 1.1l-.7-.7M75.4 70.6l1.3-.9l.1-1.1l1.8-.6M64.6 73.6l1.4-.1l.3 1.7M78.9 96.3l1.3-.5l.3-1.6l1.4-1M78.5 84.2l-.7-1.4l.1-1.2l-.4-1.1M93.8 97.5l-1.4-.9l-1.1-.7l0-1.1M83.1 57l1.4 1.1l1.7 .9l1 .1M64.8 87.2l0 1.9l-.9 .6l-1.2 .4M78.3 97.7l1.2-.2l.9 1.1l.8 1M81.6 57l1.1-.4l1.1-.4l.9-.5M101.6 105.8l-1.7 .9l1.3-.4M64.9 68.6l1.8 .3l-.1 1.3M59.8 97.1l-.8-1.8l-1.8 .3l-1.5-.1M75.2 106l1.2-1.2l1.1-1l-.6-1.6M73.8 99.2l-.4 1.7l-1.6 .3l-.1 1.9M73.3 65.7l.8-.8l1.8-.2l1.4 .7M58 99.1l1.3-.9l1.9 0l1.7 1M70.2 76.5l-1.9-.3l-.1-2l-1.3-1.5M79.3 57.8l-1.2-1.5l.7-1.1l1.2 .8M128.1 97.3l-.9-.9l-1.2 .9l-2 .2M112.8 60.2l1-.9l.1 1.1M79.2 65l.7 1.6l-.2 1.2l-1.2 .5M117.5 60.9l-.6-1.1l1.2-1.5l-1-1.5M106.4 95l-1.9 .3l-.8 1.6l-.3 1.2M116.4 54.5l-1.4 .2l-.1 1.2M48.5 86.2l1.2-.7l1.7-.4l.6-.9M62.4 96.5l-1.1-1.1l-1-.7l0-1.8M118.7 91.5l1.2-.5l-.5-1.6l-1.4 0M107.8 63.6l-1.1 .8l.3 1.3l1.3 .8M91.4 105.4l1.4 1.2l1.7 .1l1.5 .3M62.8 82.8l1.3 .1l.7 1.1l-.3 1.7M61.3 87.4l.4 1.8l-1.5 1.1l-1.5-.7M69.9 89.5l-1.2 1.2l-1.2 .7l.3 1.1M61.2 95.6l-.6 1.8l-1 1.7l.1 1.1M91.2 56.7l-.3 1.6l-1.2 .3l-1.3 0M105.3 104.4l-.4-1.2l-1.6-.6l.2-1.6M117.6 63.2l.3-1.3l-1-.5l-1.2 .3M126 86.1l-1-1.2l-1.3 .9l1 1.6M116.2 65.8l-.6 1l-1.6-.6l-.2-1.1M88.2 101.8l-.5 1.1l-.5 .9l1 1M81.3 55.9l.8 .7l1.6-.9l1.4 .5M78.8 91l1.4 .9l.8 1l1.4 0M72.5 86.7l-.3 1l1.2 1.1l1.2 .5M73.4 60.5l-.6-1.5l1-.6l1.9 .5M105.2 91.8l1.3 .2l1.5 .5l1.1 .9M102 62l-1.2-1.2l.7-.8l-1.3-1.3M104.6 67.8l1.6-.5l1 1.7l1.3 .3M103.9 84.5l-.1-1.4l-1.7-.7l-1.6 .5M73.5 69.2l1.3-1.4l.1-1.4l-.8-.8M76.2 68.8l-1.3-.3l-1.5 1l-1.3 1.1M64.9 89l.9 .5l1.1-1l.8-1.6M117.4 93.1l.4 .9l1.9 .3l1.2 .7M121.9 75.2l1.3-1.3l1.4 1.3l1-.5M107.3 81.9l-.6 1.3l1.3 .8l1.4 .1M63.1 96.8l1.9 .1l.2-1.7l-1-1.4M127.8 77.1l1.3 .6l1.2-.2l.8 1.3M81.2 90.7l1.5-.8l1.7-.7l.7-1.8M86.2 53.1l-.6 1.6l-1.6 .9M90.3 76.2l.6 1l1.4 .4l1.4 .1M121.2 56.9M99.2 103.4l1-.6l.8-1.8l.7-1M120.4 56.1l1.1 1.3l.6 1.2l-.4 1.7M121.7 76.2l1.4-1.3l1 .8l1.5 1.2M73.5 57.4l-1.2 .6l-1.7 .1l-.4 1.7" stroke="#8e8e8e" stroke-width="0.7" fill="none" stroke-linejoin="round" />
<path d="M87.5 90.8h0M73.7 71.2h0M99.5 58.8h0M77.1 69.6h0M86.3 82.4h0M87.2 82.9h0M76.9 89.5h0M78.8 89.7h0M78.7 58.6h0M79.8 59.4h0M75.9 97.8h0M77.3 99.1h0M65.1 92.4h0M84.4 86.5h0M131 81.3h0M128.8 78.6h0M94.3 95h0M93.6 95.9h0M89.7 77.5h0M90.6 79.2h0M91.6 80h0M85.9 60.2h0M73.5 81.1h0M73.2 82.3h0M101.9 73.1h0M67.9 76h0M66.7 77h0M124.8 103.8h0M91.7 103.4h0M93.9 102.6h0M88.3 58.5h0M103.5 90.8h0M88.7 58.1h0M87.3 57.3h0M67 76.1h0M67.5 78.9h0M92.1 78.1h0M79.4 81.8h0M77.9 84.2h0M68.8 101.9h0M78.7 77.9h0M77.1 68.6h0M75.3 69.1h0M74.3 68h0M67.9 73.1h0M61.4 102.3h0M62.5 101.6h0M99.6 101.1h0M83.6 98.1h0M84.2 97.2h0M54.7 88.1h0M70.3 81.4h0M127.7 64.5h0M126.1 63.3h0M124.3 95.3h0M89.6 76.4h0M91.6 78.2h0M82.7 61h0M84 60.1h0M64.3 94.6h0M92.1 108.1h0M128.7 93.2h0M95.1 53.9h0M127.5 63.6h0M124 62.3h0M68.9 91.5h0M67.8 91.4h0M78.7 89.8h0M71.3 96.8h0M72.4 98.1h0M73.4 97.8h0M77.7 68.2h0M115.1 97.7h0M75.6 96.5h0M128.2 76.5h0M129.5 77.6h0M127.3 84.7h0M128.7 85.5h0M105.4 84.3h0M67.3 80h0M124.7 80.7h0M125.1 78.9h0M53 96.3h0M71.4 102.5h0M71.3 100.8h0M84.2 64.2h0M68.3 77.4h0M69.9 76.9h0M128.5 64.2h0M129.1 67.4h0M97.5 96.5h0M72.2 100h0M72.8 98.8h0M101.6 83.1h0M101.9 84.6h0M101.4 86.3h0M103.6 69.9h0M129.3 72.8h0M129.9 71.7h0M99.1 91.9h0M97.5 92.9h0M59 82.8h0M99.1 83.1h0M79.8 68.1h0M116.8 86.1h0M63.3 86.6h0M62.9 85.3h0M79.7 101.6h0M79.8 99.8h0M74.2 62.7h0M114.9 71.5h0M113.3 72.1h0M102.4 53.6h0M104.8 53.8h0M115.6 79.9h0M116.8 79.7h0M52.2 80.6h0M53.8 79.4h0M94 106.4h0M95.4 106.2h0M79.7 56.5h0M108.5 87.3h0M102.3 60.7h0M82.1 55.3h0M83.1 56.2h0M82.6 57.9h0M67.8 79.1h0M125.2 67.7h0M117 101.6h0M118.4 101.4h0M119.1 99.8h0M74.9 100.9h0M113.5 97.4h0M112.6 98.3h0M112.4 99.4h0M99.3 88h0M130.4 96.2h0M130.8 98.1h0M99.1 79.9h0M101.4 81.8h0M78.9 53.3h0M78.8 54.8h0M121.4 99h0M85.1 95.8h0M84.6 97.5h0M63.2 81.7h0M63.3 84.2h0M86.1 68.4h0M89.3 68h0M96.8 61.3h0M96.9 62.7h0M96.4 63.9h0M64.2 75.7h0M63.5 75h0M76.7 69.7h0M76.8 68.6h0M78.6 68h0M81.9 93.2h0M77.9 81.6h0M64.8 89.1h0M63.9 89.7h0M62.7 90.1h0M79.5 97.5h0M80.4 98.6h0M82.7 56.6h0M84.7 55.7h0M99.9 106.7h0M66.6 70.2h0M59 95.3h0M76.9 102.2h0M71.8 101.2h0M74.1 64.9h0M75.9 64.7h0M68.2 74.2h0M66.9 72.7h0M80 56h0M127.2 96.4h0M126 97.3h0M124 97.5h0M113.8 59.3h0M113.9 60.4h0M79.9 66.6h0M79.7 67.8h0M116.9 59.8h0M118.1 58.3h0M117.1 56.8h0M104.5 95.3h0M103.7 96.9h0M103.4 98.1h0M114.9 55.9h0M52 84.2h0M119.4 89.4h0M118 89.4h0M107 65.7h0M92.8 106.6h0M96 107h0M64.1 82.9h0M67.5 91.4h0M67.8 92.5h0M59.6 99.1h0M59.7 100.2h0M90.9 58.3h0M89.7 58.6h0M103.3 102.6h0M117.9 61.9h0M116.9 61.4h0M125 84.9h0M123.7 85.8h0M115.6 66.8h0M113.8 65.1h0M87.2 103.8h0M88.2 104.8h0M81 92.9h0M82.4 92.9h0M73.4 88.8h0M72.8 59h0M108 92.5h0M109.1 93.4h0M100.8 60.8h0M101.5 60h0M100.2 58.7h0M100.5 82.9h0M74.1 65.6h0M67.7 86.9h0M119.7 94.3h0M120.9 95h0M124.6 75.2h0M125.6 74.7h0M106.7 83.2h0M108 84h0M109.4 84.1h0M129.1 77.7h0M82.7 89.9h0M100.2 102.8h0M123.1 74.9h0M72.3 58h0M70.6 58.1h0M70.2 59.8h0" stroke="#8e8e8e" stroke-width="1.30" stroke-linecap="round" fill="none"/>
<path d="M54.4 63.8A4.16 4.16 0 0 0 60.6 58.2Z" fill="#dc4040" fill-opacity="0.75"/>
<path d="M48.2 72.3A4.42 4.42 0 0 0 52.8 64.7Z" fill="#dc4040" fill-opacity="0.75"/>
<path d="M83.6 59.1A4.42 4.42 0 0 0 92.4 58.9Z" fill="#dc4040" fill-opacity="0.75"/>
<path d="M93.6 72.1A2.6 2.6 0 0 0 98.4 69.9Z" fill="#dc4040" fill-opacity="0.75"/>
<path d="M97.9 82.0A2.3400000000000003 2.3400000000000003 0 0 0 102.1 80.0Z" fill="#dc4040" fill-opacity="0.75"/>
<path d="M129.4 58.0A3.3800000000000003 3.3800000000000003 0 0 0 132.6 64.0Z" fill="#dc4040" fill-opacity="0.75"/>
<path d="M132.0 85.6A3.3800000000000003 3.3800000000000003 0 0 0 132.0 92.4Z" fill="#dc4040" fill-opacity="0.75"/>
<path d="M53.6 97.9A4.16 4.16 0 0 0 56.4 90.1Z" fill="#dc4040" fill-opacity="0.75"/>
<path d="M97.6 97.8A3.3800000000000003 3.3800000000000003 0 0 0 104.4 98.2Z" fill="#dc4040" fill-opacity="0.75"/>
<path d="M95.1 107.8A2.8600000000000003 2.8600000000000003 0 0 0 100.9 108.2Z" fill="#dc4040" fill-opacity="0.75"/>
<path d="M115.8 94.6A2.6 2.6 0 0 0 120.2 97.4Z" fill="#dc4040" fill-opacity="0.75"/>
<path d="M47.8 110.4A3.6399999999999997 3.6399999999999997 0 0 0 50.2 103.6Z" fill="#dc4040" fill-opacity="0.75"/>
<path d="M68.9 86.0A2.3400000000000003 2.3400000000000003 0 0 0 73.1 84.0Z" fill="#dc4040" fill-opacity="0.75"/>
<circle cx="56" cy="60.5" r="0.8" fill="#2020e0"/>
<circle cx="51" cy="68" r="0.8" fill="#2020e0"/>
<circle cx="81" cy="77" r="0.8" fill="#2020e0"/>
<circle cx="105" cy="94" r="0.8" fill="#2020e0"/>
<circle cx="96" cy="82" r="0.8" fill="#2020e0"/>
<circle cx="118" cy="79" r="0.8" fill="#2020e0"/>
<circle cx="120" cy="91" r="0.8" fill="#2020e0"/>
<circle cx="113" cy="61" r="0.8" fill="#2020e0"/>
<path d="M48.5 145.1l-.3 1.8M96.3 109.9l2 0l.6 1.5l1.2 .9M70.4 134.5l-.6 1l-1.2-.2l-1.4 1.4M93.4 150.7l-.4-1.1l.8-.9l1.3 .5M70.3 121.7l.9-.4l1.9 .6l1.5 .4M52.9 138.9l-.9-.8l-1.9-.5l-1.1-.7M95.1 120.9l.3-1.9l-.3-2l.3-1.9M64.5 111l-.3-1l.8-1.2l-.9-.8M67.9 105.1l1.9-.2l1.1 1l-.9 1.3M99.7 153.2l1.3-.6M84.9 157.6l-1.4 .3l-.6-1l-1 .3M85.8 101.7l-1.4 .5l-.2 1.2l-1.2 1M90 159.3l.9-.5l-.5-1.7l.4-1.2M65.6 115.8l.4-1.4l1.1 .2l1.7 .3M59.6 145.9l-1-.4l.4-1.3l1.1 .3M93.8 126.5l-1.2 1.1l-1 .9l0 1M54.8 146.2l1.3-.6l1-1.1l.8 .7M73.4 147.2l1.6 .3l1.4 1.3l.3 1.2M65.3 139.3l1.8 .7l1.3-.3l.3-1.5M92.4 127.6l-.9 1.4l-.1 1.6l1.3 1.5M51.2 138l.4 1.9l.7 1.5l1.4 .2M89.2 110.5l1.1 .2l1.9 .1l.8-1.6M76.2 95.8l1 1.2l-.5 1.8l-1 .1M92.8 150.5l1.8-.4l1.5 .2l1.2-.4M58.6 140.3l-.5-.9l.1-1.2l-1-.2M87.7 142.3l1.9-.5l1.4-.9l1-.5M62.8 133l-1.7 .4l-.5 1.8l-1.7 0M76.5 162l1.7-1l.9 .4l1.2 1.1M85.2 104.4l1.8-.6l.5 1.5l-.9 1.7M42.3 123.2l.6 1.7l1 .1l1 .3M68.2 141.3l1.3-1l.9-1l-.1-1.5M80.6 153.8l1.2-1.6l.3-1l.9-1.3M51 109.5l1.2-.9l.9-1.6l.5-1.3M81.5 145.4l1.4-.1l1.2 1.4l1.8-.2M84.2 103.3l-.4-1.6l-1.1-.5l-.5-1.1M61.5 142l.3 1.1l-.5 1.3l-1.7-.1M91.1 137.8l-1.8 .7l-1.6-.1l-1.6 .7M70.7 131.6l-.7 .7l-.7 1l-.8 .7M60.8 117.3l1.2-.1l1.8 .6l.9-1.2M66.8 150.6l-.5 1.4l.7 1.4l1.6 .2M75.6 143.1l1.1-.7l.9-1.5l1-1.6M80.1 106l-.5-1.9l.7-1.4l-.1-1.7M65.6 153.7l1-.4l1.5 1l1.1 0M69.6 109.8l-1.3-.5l-1-1l-1.1-.4M59.1 117.4l-1.1 .9l.7 1l1.5 .8M85.4 126.7l0-1.4l.6-1.7l.3-1.3M100.3 103.2M60.9 121.2l.5-1.3l-.5-1.2l0-1.7M73.9 146l0-1.7l.7-1.1l.2-1.1M43 127l-1.6-.3l1.7 .1M65.8 148.1l1.7 .4l-.3 1.2l.6 1.6M46.3 118.6l1-1.3l0-1.8l-.6-1M97 105.4l-1.5-1.1l-.3 1.1M59.4 111.5l.9 1.5l-.4 1.7l.4 1.2M88.7 152.4l.1 2l-1 .3l-1.8 .6M77.7 101.3l.9-.5l-.3 1M79.6 120l-1.4-.5l-1 .8l0 1.1M48.1 123.7l.5 1.3l1.5 0l.2-1.2M62 114.4l1.3-.7l1.3 .1l1 1.2M56.1 143.7l1.9-.1l1 .8l1.4 .6M84.9 140.4l2 .1l1.7 .3l1.8 .7M54 125.1l-1.7-.1l-1.1-.9l-1.4 0M80.6 160.8l1.4-.1l1-.3l.5 1.1M61.4 153.3l-.8 .9l-1.7 .2l-.5-1.8M48.8 122.6l.3-1l-1-1.2l-1-.9M62.1 143.7l.3 1.1l.8 .8l.4 1.5M91.3 123l1.5-.1l1.3-.7l-.3-1.4M98 150.6l1.4 .3l.7-1.7l-.5-1.4M96.4 124.9l1.8 0l1.7-1l.1-1.4M93.5 113.8l-.5-1l.2-1.9l0-1.8M61 109.5l-.9 .6l-.9-.8l-1.3-1.5M93.2 103.2l-1.5 .1l-.7 1M81.4 148.6l.3-1.3l.6-1.1l1.6 .4M54.6 129.3l-.5 1.3l-.8 .7l.7 1.8M80.8 116.3l.7-1.8l-.5-1.5l.6-1.2M65.5 132.3l1.2 .3l.8 1.6l.9 1.5M72.9 140.8l-.3-1.6l-1.4-.4l-1.4-1.3M76.3 129l-1.1 .2l.1 1.6l1.6 1.1M100.9 116.2l-.6-1.2l1.1-.7l.1-1.8M100.4 118.2l-.1-1.3l.6-1.5M82 136.2l-1.2-1.2l-1.2-1.4l-1.3-1M68.4 112.4l.5-.9l.6-1.5l-.2-1.7M49.3 146.8l-1.4-.3M73.3 138.9l1 1.6l-.5 1.8l-1.4-.4M42.1 121.1l-.2-1.5M66.2 139.9l.5-.9l.7-1.4l1.7-.9M85 118.6l-.7-1.5l1.6-.7l.2-1.3M90.5 112l-1.3-.3l-2 0l-.5-1.6M97.1 118.9l-.1-1.1l-1-1.1l.8-1.7M77.9 125.3l1.6-.2l1.2-.8l.5-1.1M81.6 126.4l1.3 .9l-.7 1.2l.2 1.4M63.7 138l-1.1 .9l-.4 1.4l-.1 1.4M57 134.4l0 1.5l-1.7 .6l-.7 1.8M63.9 127l1 1.5l1.2-.3l1 .4M76.2 139.1l-.1-1.2l.4-1.4l1.2-1.6M99 111l-2-.1l-.5 1.1l-1.1 .1M64.3 148l0-1.5l.3-1.8l1.4-.5M63.3 109.6l-.2-1.6l-1.2-.6l-1-.1M56.5 117.5l.3-1.1l1.3-.1l.8 .6M88.8 128l.8 .7l1.1-1.1l.1-1.2M90.4 127.1l-2 .1l-1.3 .5l-.2 1.9M79.1 133l-.9 .8l.1 1.1l.5 1.7M74.9 124.6l-1.2-.9l-.6-1.1l.9-.6M93.2 152l.6 1l.6 1.2l.4 1.2M82.1 127.3l-1.5 1.1l-1.8 .7l-1.3-.2M62.1 154.6l-.1-1.9l-1.1-.7l-1.2 0M94.6 110.3l-.2 1.6l1.1 .2l.4-1.9M82.1 155.5l.3-1.4l-.7-1.1l1.1-1.5M62.1 100l-.9-.7M56.4 146l.6 1.6l1.1 .1l.1 1.1M85.1 150.6l.3 1.5l1.1 0l.5-1.4M51.3 122l.6-1.1l1.6 .9l.5-.9M58.2 134.3l.9-1.5l.6-1.6l-1.1-1.5M83.7 123.9l.4 1.8l1.6 .1l.3-1.5M49 105.9l-1.1 0M64.5 138.6l-1.9 .2l-1.8 .1l-.7 .7M52.6 147.3l1.2-.2l1.1 1l.5 1.7M65 102.2l-1.2-.6l-1.5-.1l-.4-1.8M70.3 102l-.4-1.1l-1.4 .2l-.2-1.7M51.2 125.7l-1.6 .1l0 1.2l1.5 .7M98.4 134.7l1.9 .2l-.7-1.5M81.1 100.5l1-1.7l-.3 1.7M90.1 104.2l-1-1.2l.8-1.5M86.1 155.9l1.9 .6l1 .2l.6-1.8M70.5 135.4l.8-1.1l.1-1.5l-.9-.6M99.6 126.4l.7-1.7M61.6 138.1l-.9 .7l-1.1-1.3l-.1-1.8M84.2 158.4l-1-.6l-.9-.8l.3-1.4M72.9 121l.7 1.1l-.8 1.3l.5 1.1M89.6 114l-.5 1.9l-1.9-.3l-1.3 1.2M41.3 120.8l.9 .8l1.2 1M79.6 158.8l1.2-.6l.4-1.1l.1-1M97.2 156.6l-1.6 .4l-.7-.8M88.6 149.1l.3 1.1l.8 1.7l1.4-.7M85.3 98.7l-1.6 .2l.1 1l.8 .7M52 133.8l1.5 .7l.9 .8l0 1.3M50.4 128.8l1.3-.2l1.2-1.3l1.6 .4M76.3 113.7l-.6-.9l-1.1 0l-.2-1.7M80.3 121.8l-1.7 .7l-1.3 .8l-1.7-.6M67.4 141.8l.7 1.8l-.7 .9l.2 1.4M78.7 138.8l1.1-.4l.1-1.5l.8-.9M90.7 127.6l.4-1.3l1.7-.3l.1-1.6M50 127.9l1.4 1.1l-.1 1.2l1.1 .3M88.8 124.2l1-1.5l.4-1.7l.7-1.3M75.7 131.9l-.5-1.1l-.3-1.1l-1.4-.5M42.2 127.7l.8-1.3l.9-.8l1-.3M60.3 124.1l.2 1.6l-.9 .6l-1 .4M73.7 122.1l1.2-.4l.2-1.7l1.6-.8M67.5 140.6l-.6-.8l-1.2-.1l-.7 1.1M100.1 148.4l-.9-1.3l-1.1 .7l-2 .1M72.7 142.6l-1.5-.3l-.8-1.8l-1.9-.7M64 134.1l-.1 1.3l-1.5 .9l-.8-1M88.6 140.2l-.5-1.5l-1.4 0l-1.1-1M61.6 129.3l-.5 1.5l.8 1.3l.5 1.7M74.4 135.9l-.4-1.2l-.3-1l1.6-1M89.2 120.6l.1 1.5l-.5 1.9l-.8 1.5M60.1 119.2l1.6 0l.9 .5l1 .4M57.3 101.9l1.2 1.2l1.8 .3l.6-1.1M80.4 154.1l1.1-.4l1.1 1.3l1.3-.6M59 118.6l.2 1.4l1.2 .9l1.2 .2M89.9 153l.7 1.1l-.3 1.6l-1.8 .1M82.6 124.2l1.5 .8l1.4 .9l.9-.7M52.5 135.8l-1.4-.9l-1.2-1.5l-1.2-1.2M79.1 151l1.4-.6l1.3 .5l1-.4M49.6 123.3l-.3 1.7l1.1 .9l-.3 1.7M99.5 131.1l-1.6-.5l-.7 1.3l-.4 1.5M82 123.5l.4 1.6l.2 1.6l-.9 1.4M93.8 120.2l-1.2 1.3l-1.5-.2l-1 .1M60.6 109.3l1.6 .2l.1 1.4l0 1.6M79.5 145.2l.4-1.1l-.2-1.4l.9-1M86.7 107.5l.3 1.8l-1.7 .6l-1.2-.8M75.4 141.7l-1.1-.1l-.1-1.1l.3-1.4M77.6 163.4l.1-1.6M86.3 154.1l-.6 1.2l.3 1.9l.1 1.6M70.4 114.6l-.5 1.1l-.1 1.7l1.6 .5M73.7 138l-.6 1l.6 .9l-.4 1.1M61.5 109l1.1 .3l0 1l1.3 0M70.8 107.7l-.5-1l-1-1.4l-1.4-.2M82.4 117.7l-.8 1.3l0 1l-1.2 .5M54.7 120l1.1-1.3l.4-1.1l1.6-.1M81 100.6l-1-.5l-1.4 .1l-.1-1.9M63.7 136.5l.7 .8l0 1.1l-.1 1.3M60 106.8l-1 1.5l-.5 1.7l.3 1.1M76.3 152l1.5 .1l1.3 0l.6 1.1M72.6 118.6l.2 1.5l-1 .5l-.8-1.4M60.2 126.9l-.7-1.3l-1.1-1l-1.4-1.1M71 124.8l.8 1l-.8 .6l.8 1M87.4 141l.9 1.6l.6 1.5l-1 1.5M91.9 160.8l-1.1-1.2l.9-1.5M66.4 144.5l.8-1.7l-1.6-.8l-1.6-.2M87.8 139.6l-.2 1.1l.6 1.3l1.2-.6M49.3 114.6l-1.6 .9l-1.6 .2l-1.8-.8M54.5 114.3l.7-.9l.1-1.6l-1.2-1.1M86.8 134.8l.9 .6l.4 1.3l1.8-.5M49.9 144l1.2 .6l1.3 1M78.1 148l-1.3 .5l-1.2 .9l.7 1.5M94.8 127.9l1.1 .7l1.7-.5l.9-1.3M56.7 146.4l1.7 .8l.5 1.8l.8 1M52.6 117.5l-1.2 1.4l-1.1 1.4l-1.9 .4M86.4 107.8l1.9-.4l1 .5l1.2 .4M86.1 160.4l1.7-.3l.7-1.8l1.6 .4M80.5 107.4l-1-.5l-.2-1.2l-1.3-.7M75.8 112.8l-1.1-1.5l-1.2-1l-1.3 .3M70.6 115.8l-1.3-1l-.9-1.1l-1.6 .4M67.7 100.3l-1.2-.6l-1.7-.8M47.8 132.9l.7-1l1.9 0l.8-1.3M52 99.7l2 0M82.9 149.6l.2-1.2l.7-.9l-.3-1.1M45.4 114.7l1.2-.4l0-1.3l-1.8-.8M76.6 159.3l.4-1.8l.4-1.2l.9-1M78.5 112.7l-1.1 .1l-.8 .8l-.4 1.7M72.7 136.6l-.9-1.5l-1.7 .3l-.2-1.2M88.7 101.5l.1 1.2l.8 1.4l.6 1.4M92 117.5l1.2-.6l1.1 .1l1.1 1.5M78.2 134.5l0 1.1l1.4 1.3l1 .5M56.1 112.4l-1.1-.9l-.4-.9l-1-.7M78.7 126.3l-.9 1l.7 1.7l-.3 1.4M99.5 139.6l-1.3-1.2l-1.5 .8l-.6-.8M87.6 141.7l1-1.4l-.3-1l-1.1-.2M72.1 148.2l1.3 .9l1.1-1.3l1.1-.4M63.4 149.2l-1.2 .6l-.8-1.2l.8-1.6M52.9 129.9l-1.9 .3l-.1 1.8l-.3 1.2M84 154.9l.5 1.6l2-.2l.2-1.4M73 101.5l1.8 .8l-.6 1.5l-1.2 .4M59.9 112.3l0-1.9l1.6 0l1.6-.3M96.8 131.6l.3 1.3l.1 2l1 1M81.3 110.7l1 .1l.4-1.2l1.9-.3M79.7 136.1l-1.2 0l-1.1 1.4l1.3 1.3M101.3 140.4l-.2 1l-1.6 .9l-1.4 0M66.4 131.5l.1-1.5l-1.9-.2l-1.5 .9M63.1 99.1l.9 1.3l.3 1.3M57.6 106l-.6 1.3l1 1.4l0 1.3M44.7 114.1l1.2 1.2l-.1 1.9l.3 1.6M88.8 151.3l.7-1.6l1.4-.1l.7-1.8M43.4 114.8l.1 1.2l0 1.7l1 .2M52.7 122.6l-1.6 .9l.1 1.1l.4 1.4M96.3 117.1l-.9-.7l-1.9-.5l-1.8-.7M74.1 104.1l1.1-.2l1.3-.3l1.1 .9M70.6 147.4l1-.6l-.8-1.6l-1.1-1.6M66.9 119.3l.8-.7l1.1-.8l.9 1.1M78.7 161.2l.9-1.1l1.9 .3l1.2 .3M85.3 99.8l.6-1.1l-1.2-1.3M77.7 116.9l-.7-1.5l-1.8 .7l.2 1.7M44.3 126.8l.8-1.5l-.8-.9M54.1 108.1l0 1.1l1.8 0l.3 1.2M89.2 133.1l.6 1.3l-.4 1.3l1.8 .7M82.7 144.1l2 .2l1.3 .8l1.1 .1M46.6 132.6l1.2-.2l1.1 .7l1.5-.2M92.7 144.2l-1.4 .1l-1.3 1.1l-1 1.1M57 113.6l1.6-.2l0-1.1l.8-1M93.4 157.9l-1-.3l.3-2l-.7-1.1M69.4 106.8l1.5 .6l.2 1.3l.6 1.1M66.5 122.9l1.4 1.4l-1.2 1.2l-1.7 .3M79.9 151.2l0-1.1l.9-1.2l1 0M60.8 154l-1 1.3l-1.2 .3M46.7 144.3M89.7 126.2l1.2-1.1l1.1-.4l.6 1.1M56.9 108.9l0 1.6l.3 1l.9 .9M89.8 98.6l-.8 1l-.7 1.4M83.7 137l1.1-1l1.1-.9l1.3 .5M81.4 132.3l-.9 1l.1 1.4l.7 1.4M97.4 119.5l-.2-1.4l-.7-1.6l-.7-1.8M72.8 128.3l-1.1-.4l-1.3 1.3l-1.5-.8M84.1 133.9l.3-1.4l-.6-1.1l-1.2-1.3M86.2 117.9l.3 1.9l-.8 .7l-1.3 .5M93.9 123.6l-.5 1.4l-.6 1.8l.9 1.6M53.6 108.6l.4 1.1l1 .5l1.6-.7M73.6 156.9l0 1.3l1 .7l1.4-1M63.7 111.7l.1 2l-1.4 .2l-.9-.5M74.8 156.4l-1 .4l-1.7-.4l-1.6 .6M51.1 134.6l-.3 1.1l-.9 1.2l1.1 .9M56.4 147.2l-1.4 .3l-2-.1l-.3 1.5M88.3 117.6l.7-.8l-.7-.8l-1.1-.9M74.9 148.4l.2 1.3l1.5 .3l.5 1.3M98.7 110.9l-1.1 .8l1 1.6l1.9 .4M55.8 120.4l1.1-.5l.2-1.4l-1.5-.4M85.7 120.3l1.9-.2l.8-.8l-.4-1M51.7 142.1l.6-.9l.7-1.3l1.7 .6M83.7 120.8l-1.2-.5l-1.2-.8l.3-1.9M60.6 103.5l0-1.3l1.2 1.1M79.2 120.2l-.1 1.6l.8 1.3l.8 1.5M60.8 118.6l.1-1.8l1-.4l1.1 .8M71.9 106.3l.7 1.3l1.9 .5l.3-1.1M52.3 144l0-1l-.1-1.1l.6-1.2M69.8 132.6l-1.5-1.1l.7-1.7l1.2-.7M95.8 148.8l.5 1.5l1 .9l1.3 1.2M57 141l-.9-1.5l.2-1.4l1.1-1.1M50.4 148.9l1 1.2M47.4 113.9l-.7 1l1.2 1.3l1-.4M47.2 121.1l-.6-1.3l-1 .2l-1.7 .2M84.2 150.8l.2-2l-.9-1.1l-.8-1M57 123.7l-1.5 1.1l-1.4-.1l-.8 1.1M96.7 114.1l.7-1.7l1.6 .7l1-.4M84.9 111.2l-1.3-.2l-.4 1.3l-1.6 1.1M78.3 117.9l1.6 .5l1.2 1.4l1.2-.7M59.4 145.3l.2 1.5l-.2 1.2l.3 1.9M84.8 136.6l-1.1-1.3l-1.6-.3l-.4 1M85.6 110.8l.9 1.3l1.3-.7l.9-.6M89 135.9l.7-1.1l-.3-1.6l-1.1 0M92.5 103.1l.3 2l.1 1.1l0 1.2M80 121.1l.2 1.1l-.9 1.2l.7 1.9M47.2 116.8l-.1-1.6l-1.5-.2l-1.7-.8M72.3 100.3l1.7 .1l1 1l1.5-.5M94.7 120.1l.8 1.1l.4 1.4l-1.5 .9M74.1 105.3l.9-1.7l-1.2-1l-1.3-.3M87 150l1.1 .5l1-1.2l-1.2-1.1M68.9 123.8l-1-1.1l.3-1.4l-1.3-.3M48.9 126.1l1.1 .5l.7-1.3l1.6 .7M88.5 123.3l-.4 1.9l1.5 1.3l.1 1.6M57.5 154.4l1.4-1.2M65.4 113.6l.8-1l0-1l-1.9-.3M89.9 139.1l-.5-.9l-.4-1.6l.8-1.4M86.7 96.3l.7 1.7l-.6 1.3l.6 1.5M78.9 118.5l-1.8-.6l-.7 1.1l0 1.4M93.8 106.9l-1.4 .4l-1.1-.1l-1-.8M60.8 151.6l-1.6 .6l.5 1.3M69.9 135.6l1.8-.6l0-1.3l-1.5-.4M80.2 115.2l.3-1.2l-.4-1l.2-1.2M82.4 144.5l1.3-.6l0-1.6l1.1-.3M88 151.7l.2-1l-.7-1l-1-.5M51.8 147.6l1.3-.7l.2-1.2M74.3 141.3l1.6-.8l1.6-1l.4-1.4M71.5 151.5l1.4 .3l1.2-1.1l-.9-1.7M58.3 135.1l-1.8-.4l.3-1.5l-.4-1.7M76.4 134.8l-.4 1.1l-1 1l-1.1-.3M86 116.7l.6 1.1l-.9 1.8l1.1 .9M79.2 139.5l.6-.9l1.1 .2l.7 .9M71.8 118l1.5-.2l.2-2l-1.4-1.2M75 109.2l-1.5 .6l-1.5-.4l-.9 .7M43.8 129.2l0-1.9l1.4 0M47.7 127l.2-1.4l1-1.5l.4-1.2M90.4 115.8l.9 1l-.5 1.1l-1.6 .1M56.4 106.1l1.4 .2l.1 1.5l1.1 .4M81.8 140l.4-1.4l.6-1.6l-1.4-1.1M42.9 131.4l-.8 1.1M75.3 135.2l-1 .8l.4 1.5l1.2 .8M66.8 116.8l1.9 .4l.5 1.6l.7 1.1M103.4 146.1l-1.3-.7l-1.5-.3l-1.2-.8M86.4 138.5l-.9-.5l-1 .7l-.8 .9M84.5 105.1l1.7-.9l1.3 .1l.2 2M61 126.6l1 .9l1.1 1.1l-.3 1M85.4 152.2l-1.2 .8l-.7 .9l-.8 .7M54.2 141.8l-.5 1.7l.5 .9l0 1.2M89.4 121.3l-1.3-1.4l-1.2 .4l.5 1.5M58.7 137l-1.1 .7l-.8 1.4l-1.2-.2M64.1 139.1l1.1 .1l1.2 .6l.8-.8M80.6 164.3l-1.5 .3M56 138.7l1.1 .1l.7-1.1l.1-1.2M71.1 104l-1-.4l-1.8 .5l-.7-1.2M97.6 127.2l-1.8 .4l-.5-1.4l-1.1 .2M75.6 103.9l.8 1.4l1.7-.1l.9 1.2M71.7 131.2l-.4 1.1l.4 1.2l1.5-.5M77.1 124.3l1.5 0l1.3 .1l.1 1.5M81.7 130.9l-.8 .8l-.3 1l.2 1.2M93.2 152l1.6-.8l-.6-1.2l1.2-1.2M57.5 128.7l-1.6-.1l-1-1.4l-.6-1M71.9 141.3l.7 1.8l-.9 1.2l.9 1.3M68.6 114.5l.4 1.4l-.8 .8l.7 1.1M46.9 126.3l-1.1-.2l-.6 1.5l1.3 .6M76.6 106.8l-1.1 .1l-.8 1l-1.4-1M78.2 134.6l.9 .7l-.7 1.6l.4 1.5M63.5 152.1l-1.4 .1l-1.1-.1l-.2 1M74.8 147.8l1.4 .3l1.3 1.3l1.2 0M74.4 99.4l.7 1.1l-1.1 .8l-1.8 .4M71.9 124.1l1.6-.1l1.1-.8l1.1 .8M53.6 145.5l-1.3 1.3l.3 1.2M79.4 153.7l-1.1-.3l0-1.1l1.2-.5M61.5 100.4l.4-1.9l-.2 1.3M47.2 107.3l1.3-.2l.5-1.5l.6-1.1M72.6 144.4l-1.6-.8l-.9-1.2l1.4-1.1M63.5 98.5l1.7-.8l1 .8M73.2 123.6l-.4-1.6l1-.7l-.8-1.3M72.7 131.8l.6 .9l-.6 1.6l-1 1.3M91 112l1-.9l1.4-1.3l1.3 .2M101.1 140.5l-1.2 .9l.1 1.6M100.5 146.4l1.2-1.4l1.1 .6l1.4 .1M59 148.5l-1.1-1.5l-1.1-.4l-.6 1.7M92.2 122.8l-.6 1.9l.8 .7l-.4 .9M62.6 116.5l-.3 1.5l-1.3-.3l-1.1-1.4M71.8 128.6l-1.2-.7l-1.2 .8l-.1 1.9M90.7 119.7l.3 1.1l1.1 .7l1.1 .3M84.5 152.2l1.3-1l1.6-.1l1.6 .2M91.6 139l0-1.9l1.7-.8l1.1-1.6M88.7 120.1l-.7-1.3l-1.5 .1l-1.3-.2M95.2 109.1l.7 1l.1 1l.6 1M52.1 119.1l-.1-1.4l.9-.9l.2-1.7M54.5 139.9l.3-1.4l-.4-1.1l.8-.8M47.7 136.1l1.2 1.6l1.6 1.1l-.5 1M46.6 112.8l-1 .7l-1.3 .8M94.7 119l.4 .9l-1 1l-.4 1.2M88.8 120.1l-.4-.9l-1.6-.9l.4-1.2M50.5 135.4l-.8 .7l1 1.5l-.5 1M50.4 119.6l-1.5-.3l-.9-1l-1.1-.4M62.3 109.2l.4-1l1-.7l.9-.5M77.1 121.1l1.7 .4l1.5 .3l1.3 1M98.7 125.9l.5 1.3l-.9-1.7M67.9 122.3l-1.3 1.3l-1.8 .8l-.8-1.1M65.8 124l.7 .9l1.4 .1l1.3 .1M85.1 109.9l-.5-1.4l.5-1l1.8 .3M65.3 107.6l.7-1.4l.9-1.1l-.7-1.2M60.2 139.4l.5 1.9l-.9 .8l-1.4 .4M88.8 114.4l-1.9-.7l-.6-1.1l-1.4 .3M92.1 155.2l-.8 1.8l-1.1 .6M83.7 145.4l.2 1.6l-1.3 .4l-.4-1.1M57 129.2l-.7-.7l-.9-.8l-.9-1.4M83.2 149.5l-1.2-.5l.1-1.6l-1.2-.4M55.6 137.9l-.5 1.1l-1.3-.3l.2-1.1M68.3 132.3l-1.6-1.1l-1 1.1l-1.4 .4M73.8 120.8l-.2 1.9l-1.7 0l-1 .1M99.9 140.3l-.3-.9l.6-1.2M71.2 139.5l-.6-1.9l-.3-1.6l-1-.3M75.3 131.6l-.2 1.1l-1.2 1.6l-1.3 .7M76.6 142l.1 1.8l-.7 .7l.6 1M79.1 127l-1.1 .6l-1.2-.2l-.8-.8M68.2 159l.8-.8l1.3-.5l1.5 .5M89.7 120.3l-1.7 0l-1.1 1.5l1.4 1.3M78.8 132.8l1-.1l0-1.2l-.4-1.4M58.8 137.2l-1.4-.2l-1.6 .8l-1.9-.4M98.7 138.1l1.4 1l1.2 .8l-.4 1.3M62.5 138.1l-.9-1l.6-1.2l-.9-.4M95.4 104.5l0 1.6M97.1 132.3l1.3-.7l.9-1.8M96.2 110.5l1.3 0l1.2 1.3l1.9-.5M79.3 158.3l.7 1.2l-.6 1.1l-1.5-.6M98.8 121.7l-.9 1l-1.8-.1l-1.7 .6M64.1 117.5l-1.6-1.2l-1.8 .9l-1.2-.3M89.7 103.4l-.7 .8l.1 1.1l1.1 .2M79.5 108.8l-1-.3l-.8 .9l-1.2 .5M78.7 154.4l-1.1 1.5l-.9 1.7M50.1 120l.5 1.1l.3 1.2l-1.1 1M73.1 134.7l.7-1.1l-.2-1l-1.9-.5M83.7 101.2l.6-1.2l1 1.5M57.8 122.9l-.3 1.6l.5 .9l.9 1.5M93.7 142.8l1.3-1.4l2 .2l1.1 .1M81.6 135.1l.6 1.8l1.3-.2l1.1 .9M64.3 150.4l-.5-1.1l-1-1.3l-1.7 0M87.3 104.6l-.5 1.2l-1.7 .9l-1.1-.3M97 150.2l-.8 .9l-1.2-.4l-1.6 1.1M77.7 120.2l-1 .5l-.9 1.4l-1.7 .7M88 110.3l.8-.7l1.3-1.3l.1-1.4M56.1 116.7l0 1.4l1.6 1l.9 1.1M98.6 120.7l-1.1-.6l-1-1.6l-.5-1.1M68.3 105.7l.5 1.6l1.6 .9l1 1.7M101.4 141.9l-1.4 1.2M95.1 149.3l1 1.1l-.2 1.6l-.6 1.2M89.4 136.4l-.6-1.5l-1.2-.3l-1.2-1.1M63.8 143.9l-1.1-.1l-.9-1l-.7-.8M99.6 145.2l-1.3-.5l.3-1.8l1.2-1.2M44.9 115.3l-1.5-1.1M73 119.8l-.9 1.2l-1.1 1.7l1.2 1.1M42.1 124.1l.1-1.6l1.3-1M90 103.3l-.8 .8l1 .9l-.2 1.3M92.2 159.7l.6-1.1l1.9-.4l1.1 1.1M54 110.3l-1.3-1.3l-.5-1.6l-1.4-.5M82.6 102.3l-1.7 .9l-1.6 .1l-.5-1.8M75.4 150.5l.1-1.4l-1.5-.8l-.9-1.2M49.4 102.4M67.1 139l-1.1 .6l-1.3 0l-.6-1.4M72.3 107.1l-.9-1.8l.3-1l-1.5-.5M80.4 151l1.5 .6l1.2 .4l1.6-.9M74 123.1l-1.1 .4l-.8 1l-1 .4M51.7 141.4l.8 1.4l-.7 1.9l.6 .8M81.4 133.9l-.8-.9l-.3-1.9l-.9-.6M73.2 110l-1.1-1.4l-1-.5l-1.4 1.4M47.3 122l-.8-.7l-1.3 1l-.8 .7M58.5 121.5l1.5-.1l1.5-.9l1.2-.3M78.2 154.9l-.1 1l-1 .3l-.4-1M68.1 112.1l1.4 1.3l.9 .9l1.6 1.1M48.6 128l-1.4-.1l-1.2 .9l-1.8-.4M68.3 119.5l.5-1.7l1.4-.5l-.2-1M89.6 121l1.4-.2l.7 .7l-.3 1.5M81.6 160.5l-.8-1.2l1.3-.9l1-.9M97.1 146.1l.6 1.3l-.2 1.4l-1.8-.1M87.8 142.4l1.5-.1l1.4-.4l.8-1.4M69.3 139.7l.5 1l1.5 1.3l1.3-.3M91.2 107l1.5 .2l.4 1.6l.8 1.8M63 101.6l1.5-.7l1.7-.3l-.4-1.7M64.4 146.1l-.8 .8l-1 .3l-1.7-.6M74.9 114.1l-.9 .6l0 1l-1.7 .7M86.8 146.5l-1.7 .1l-.2-1.4l.3-1.6M63.6 103.3l.9-.8l-1-1.3l-1.5 1.1M98.6 141.9l-.4-1.3l0-1l-1.7-.3M73.7 156.5l-1.6 .5l-1.8 .6l-.2 1M60.3 144.8l.6-1.1l.4-1.6l1.3-1M61.6 110.1l1.4-1.1l.8 .6l.1 1.5M45.2 127.8l-.5 .8l-1.1-.1l-1.2-.5M76.2 101.6l-.9 .6l-1.6-1.1l-1.1 1.5M80.4 110.6l1.2 1.2l1.9-.6l.7 .9M77.8 124.3l.9-.8l1.1-1.5l1-1.3M100.6 140.3l0 1.9l-1 1.1l-1.1 .7M68.2 105.8l0 1.9l1.7 .3l.3-1M71.3 132.6l1.4-.4l1.7-.1l.4 2M54.1 121.7l-1.2 .9l.2 1.9l-.7 1.1M94.1 121.9l1.3-.5l1.5-.8l1.4-.3M73.3 120.7l-.5-1.8l-.6-.8l0-1.2M97.6 121.3l1-1.2l1.1 .3l.4 1.4M92 125.3l-1.3 .6l-1-1l.7-1.2M100.3 115.9l-.7-1.2l.6-.8M99.9 152.2l1 .7l1.6-.5M84.3 105.6l-.3-1.1l.2-1.1l.4-1.7M69.1 141.3l1.6 .8l1.1 1l1.5 .2M91.4 133.2l-.9-.6l-1.6-.2l-.7-1.4M50.5 126.2l-.1-1.5l1-.9l-.7-1.3M96.6 115.4l-.8-1.4l-1.9-.1l-.8 1.1M90.7 111.8l1.1-.8l-.3-1.4l-1-1.2M45.8 110.4l1.6-.2l1.8-.9l1.3 .2M69.9 159.7l-.9 1.4M57.8 132.7l-1.2-1.2l.4-1.1l1.6 .2M68.2 146.3l-1.6-.6l-1.2 1l-.2 1.5M74.8 139.1l0 1.6l.5 1.1l1.5-.6M85.6 100.6l-1.6-.3l0-1.5M85.3 123.9l1.2 1l.8 1.2l-.3 1.8M77.6 142.7l.9 1.5l.9 .7l1.3-.9M80.1 150.9l.5 1l.3 1.9l-.9 .5M52.2 132.7l-.2-1.8l1.7-.2l0-1.4M100.3 118.4l-1.6-.4l-1.1-1l-.6-1.7M91.1 119.4l1.3 .4l1.2-1.1l1.3-.9M86.4 119.1l1.6-.3l1 .7l-.8 1.4M100.7 113.7l.3 1.2M43.9 127.2l.7-1.7l.1-1.3l1.3-.1M76 123.4l.2-2l1.2-.1l1-.7M54.4 135.3l1.7 0l.8-1.2l.7-1.5M57.6 127.6l1.1-.8l-.3-1.2l-.4-1.6M87.7 114.9l1.3 0l.2 1.8l.2 1.7M59 131.9l-1.1-.5l-1.1 .4l-1-.9M76.1 115.8l1.1-.1l0-1.6l.5-1.8M58.2 151.8l1.5 .6l-.8-1.1M90.7 145.8l-1.5 .8l-1-1.5l-1.2 .7M57.3 111.6l-.9-.6l-1.4-1.5l.1-1.1M95.5 118.3l-1.1 1l1.2 1.6l.4 1.4M94.6 107.6l.9 1.2l1.5-.2l.7 1.3M99.2 120.1l-1-.5l-1.8 .5l0 1.6M78.1 128.7l.6-1.2l1.8-.7l-.6-1.6M89.3 122.3l-1-1.7l.6-.9l0-1.3M77.1 155.8l-.7-1.2l.3-1.5l1.3-.3M90.2 102.2l0-1.4l.2 1.6M71.6 127.3l-.3 1.6l-1.4 .5l-1.1-1.3M45.3 130.6l1.5 .4l1.3 1l.2 1M67.5 124.3l.4-1.9l-.5-1.6l.4-1.8M58.4 108.8l-1.2 .2l-1.3-1l-.8 .8M97.8 134.6l1.6-.3l.4-1M77.1 116.3l-1.6 1.1l-1.6 .5l-1.4 .5M96.6 104.3l-1.4 0l-1.4-1.1l-.9-1.1M93.5 119.8l-.4 1l-1.6-.2l-1 .8M87.8 142.6l1.2 .1l1.7 .3l.8 1.3M50 116.6l.1-1.3l1.6-.1l1-1.4M46 128l0 1.5l-1 1.3l1.4 1.3M92.8 145.7l.4 1l-.1 1.8l1.6 1M62.9 116.3l-1.6-.6l-.5 1l1.3 .7M86.6 137.3l0 1.6l-.6 1.3l.4 1.3M65.4 103.3l-.3 1.1l-.3 1.9l-.9 .9M55.6 127.2l-1.1-.5l-1.3-.8l-1-.9M87.8 103.1l-1.3-.6l.1-1.5M90.5 130l-1.4-.4l-1 .8l-1.8 0M63.6 131l.9-.5l-.1-1.2l-1.4-.4M57.6 101l1.3 1l.8 1.3l1.6 0M60.7 144.6l1.9-.3l.5 1.7l.7 1.6M52 146.8l.2-1.5l-.9-1.6M98 121.9l-1.3 .7l-.9-.4l-.6-1.5M80.4 147.3l.9-.9l.7-1.6l-.5-1.7M97.6 129.8l-1.1 .5l-1.3-.2l-.5-1.3M75.1 141.8l-1.2 .9l.6 1.3l-1.1 1.2M46.3 134.3l2-.3l1.2 1.2l1.4 1.4M63 157.6l.8-1.4l-.9-1.3M95.6 143.1l-.8 .9l-1.2 1l-1.6 .3M60.3 131.5l.2 1.2l2 .3l1.3 .3M88.2 112.9l-.3-1.9l1.3-1.1l1.5 .9M77.3 117.2l.1 1.4l1.1-.1l.1-1.2M64.6 100.5l.6 .8l1 .2l.3 1.2M79.6 101.3l-.5 1.2l-1.3 .5M102.6 148.9l1.8-.8l-1 .3M98.7 132.6l-1.2-.5l-1.2 .3l-1.3-.3M71.2 157.3l1.1-.3l.5-1.6l1.9 .5M60.6 139l.1-1.9l.2-1.7l-1.1-.6M74.9 113.3l-1.1 .1l-.6-1.4l-1.5 0M69.3 144.8l1-.8l1.4-1.4l1-1.5M57.7 125.1l-.4 1.1l-1.9-.1l-.7-1.3M63.9 134.7l.6-1.5l-.5-1.2l-1.4 .7M65.6 153.7l-.4 1.7l-1.1 .8l-1.4-1.1M73.2 151.5l-.5 1.7l-1.5 .8l-.7-.7M61.5 104.5l-.2-1l.8-1.6M69.6 103.2l.5 .9l1.5-.5l1-1.7M90.2 154.4l.4 1.1l-1.8 .7l.3 1.7M79.7 146.9l-1.5-.2l-.3-1.5l1-.8M68.6 100.6l-1.4-1.2l1.3-1.5M74.2 142.2l.4-1.5l1.9 .1l1.8-.4M49.1 111.9l-.4 1.5l1.3 1.2l2-.1M87.5 164.5l-1.9 .1M97.8 109.4l1.6 1.1l1-.3M73.2 156.2l.2-1.9l-1-.8l-.5-1.6M82.9 161.8l.7-1l1.2-.7l-.2-1.9M56.6 116.8l1.7 .1l1.3-1.3l.1-1.3M96.8 114.8l1.9-.1l.9 1.7l-.2 2M45.4 115l1.9-.4l1 .8l-.4 1.6M82.1 159.1l1 .1l.5-1.8l-1.6-.5M86.4 136.4l-1.8-.3l-1.8-.6l-1.6-.6M47.4 128.5l1.7-.6l.4-1.4l1.3-.7M58.6 112.5l-1.8 .3l-.2-1.4l1.6-.7M62.9 127.1l.6-1.8l.2-1.4l-1-1.1M94.3 159.4l-1.1 1.5l-.7-.8M86.7 152l1.1-1.7l.2-1.9l.5-1.6M64.2 102.8l-.4 1.2l.3 1l1.1-.2M95 142.6l-1.1-1.4l-1.6 .3l-.7 .7M50.9 118.4l1.2-.3l-.3-1.5l.8-.8M80 135.8l-.2 1.3l.9 1.2l1.2 .1M51.2 143.8l-1.8-.2l.1 1.1M58.7 122.1l1.6-.4l1.2 1.3l-1.2 1.1M50 110.3l1.5 .3l.4-1l-.8-1.3M71.6 153.8l-.2 1.6l-1.1 .1l-1.3 .7M69.5 111.2l-1.1-1.3l-.1-1.2l-1.6-.9M88.3 132.2l-1.7 .7l-1.5-.7l-.3-1.3M65.4 108.4l1.3-.5l1.3 .5l.7 1.1M48.7 119l-1.9-.2l-.3 1.5l-.1 1.5M68.3 141.1l.3-1.1l.8-.6l-.1-2M76.7 146l-1.4 .6l-.9-.8l-.1-1.7M64.7 111.4l1.3 1.5l1.5-.9l.4-1.1M41.6 124.3l0-1l1.1-1.5M57 125.2l-.4 1.6l1.2 .6l-.3 1.5M52 111.8l.8 .6l1-.7l-.2-1.5M62.3 144.7l1.6-.9l1.2 .3l1-.4M47.6 106.2l-.7 1.4l.6-1.7M60.6 102.4l.9 .7l1.1-.5l1.3 0M100.5 149l.3 1.4l1.3 1.3M62.3 110.5l1 .2l.2 1.3l-1 1.5M71.4 141.6l1.3-1.3l.7 .7l.5 1.3M81.6 137.5l-.3 1l-1.7 .8l-.8-.8M78.4 99l.3 1.6l.3 1.3l-.6 1M46.5 115.4l1.2-.9l1.1-.9l.8 .8M63.9 138l-1.5 .3l0 1.4l.8 1.7M95.2 130.8l1.1 1.3l1.1 .3l.2 1.1M62.7 108.4l.4 1l-.9 .9l-1.5-1.2M58.9 141.6l-.4-1.6l-1.1 0l-.6-.8M52.6 113.4l-1 1.7l-1.7-.6l-.9-1.2M43.9 112.4l1.6 0l1.1-.5M48.2 149.6M55.7 117.2l1.2-1l1.4-.7l1.6 1.2M96.4 140l1.1-.3l-.1-1.7l1.1-.1M93.7 156.2l.1-1.4l.8-.9l.8-.7M65.5 143.1l-.5 1.4l-1.6 .7l-1.2-.1M86.1 131.1l1-.6l1.3 1.2l1-.9M68.4 131l-.5 1.2l-1.9-.1l-1.7-.4M84.5 101.3l-1.5-.8l-1.3 0l-.9-.9M58.2 113.6l-.1 1.5l1 .1l1.7 .5M46.8 104.3M67.3 117.7l-.4 1l1.2 .8l1.3 .6M77.6 98.1l.9 .6l.8 .7l1.5-.4M71.8 104.1l-1 .8l-1.7-.8l.1-1.7M68 98.3l.9-.6l1.4-1M45.4 127.8l-1.5-.2M73.4 105.3l1.2 .2l.2-1.2l.8-.6M98.8 126.4l-.5-1.2l-1.2 .2M48.9 130.2l.1-1.7l.7-1.2l.3-1M91.4 115.3l-1.7 0l0-1.5l-1.8-.1M49 129.3l-.6-1.6l.8-1.8l1.3-.1M58 130l1.1 .2l1.1 .1l1.2-.5M51.2 129.6l-.9-.7l-.8-1.1l-1.8-.2M54 148l-.8 1.7l1.4 1.1M83.8 148.9l1-.5l1.4-1l1-.2M68 151.6l.8-.6l.5-1.2l1.6 .1M69.7 142.3l-1-.6l.4-1.7l.4-1.3M82.4 109.1l-1.2 .3l-.8 1.2l-1.4 .4M76.6 102l.4 1.7l1.4 1.3l-1 1.4M95.7 127.2l.5-1.1l1.3-1l1-.5M64.2 123.5l-1-1.2l-1.6 0l-.7-.8M100.5 140l-1.2-.2l-1.4 .8M90.4 111.4l1.3 0l1.3 .2l1.4-.9M78.9 132.8l.9-.7l-.7-1.4l-1.1-.3M95.9 154.4l-1.1-1.4l-.6-1.5l1.6-1.2M84.8 96.6l1.1 1.3l-.7 .8M57.6 102.9l-1.1-.5l.1-1.4l1.3 .1M99.3 142.6l.9 .4l1.5-1.1M47.5 128.4l-.6-1.2l-.4-1.6l-.8-.8M66.8 124l2-.1l1.1 .4l1.5-.5M72.4 103l-1.4-.5l-1 .3l-1.1 .7M86 109.8l-1.3-1l-1.9-.5l-.6-.8M99.9 150.5l-.5 1.5l-.9 .4M57.9 109.1l1.3 .6l1-1.3l1.8 .6M79.3 132.8l1.3 .4l1.1-1.3l1.2-1.2M79 162.5l.4-1.1l-.8-.8M87.9 157.4l-1.1 .5l-1.6 .2l-1.9 .7M62.4 145.8l1.9-.3l.4 1.3l.5 1M62.1 118.8l.7 1.1l-1.2 1l-.1 1M85.3 136.2l1.2-.4l.2-1.1l1.3-1M79.6 127.9l-.2-1.2l1.2-.4l.4-1.3M67.8 122.7l1.5 1.1l-.7 1.5l-1.7-.8M90.6 144.3l1.3-1.1l-.8-1.7l-1.5 .3M61.5 152.8l1.2-.9l1.5 0l1 .4M81.5 148.3l-.6 .9l-1.4 .1l-1.5-.7M79.2 140.1l-.7-1.4l-.6-1.9l1.1-1.4M70.5 136.5l1.1 1l.8-.9l-.7-1.3M83.6 150.6l-.9-1.4l1.2-1.1l-.5-1.5M99.3 122.1l.4 1l-.9 1.6l-1.1 .5M71.4 127.1l-1-.8l-.1-1.4l0-1.5M91.7 123.6l0 1.2l-1.2 .2l-1.2 1.3M64.2 117l1.3 .7l.4 1.1l.1 2M80.7 147.6l1.1 .3l1.1-.3l.3-1.5M69.9 146.1l-1.1 1.6l.9 1.2l1.7 .3M60.9 115.5l1.5 .9l.9 .9l1.1 .8M55.4 122l-1.5 1.1l-1-.9l-1-.3M69.8 107.2l.7-1.5l.7-1l1.1-1.6M93.5 112.5l1.5 1.1l1.3 .8l-.4 1.9M85.1 148.4l.1-1.8l2 .1l1.5 .8M46.2 131.3l.2-1.1l-.5-1l-1-1.2M72.4 132.2l0 1.4l-1 .4l.4 1.3M46.2 124l-1.2 .1l-.2 1.2l1.8 .6M90.5 101.9l-.3 2l-.5 1.6l.6 1M79.6 111.1l-.5 1.1l-1.8-.3l-.4 1.1M60.2 117.1l1 .8l1.1 .5l-.5 1.4M72.6 142.1l-.2-1.3l-.4-1.9l1.4-1.1M45.7 134l.7 1.6l1.2 0l.8 1.4M77.7 144.3l1.8 .1l1.2-.2l1.4-.1M81.2 153.3l-.7-.8l-.6-1l-1-1.2M87.1 124l1.4-.7l1.7 1l.5-1M64.1 117.2l.5 1.5l-.6 1.6l1.4 .6M86.8 107l.9-.4l1.1 .5l.9 .8M88.2 106.9l.9 1.1l1.4 1l.5 1.4M64.1 142.3l.7 1l-.6 1.5l-1 1.1M62.2 121.8l1 0l1.3 1.3l-1.2 1.5M49.1 133.8l.4-1.9l.9-1.4l.7-.9M53.4 126l-1.6-.9l.6-1l-1.3-1.5M80.7 103.6l0 2l1.1 .5l1.3-1.4M79.1 141.8l-.7 .8l0 1.7l-.7 .8M76.3 126.8l-.9 1l-1.8-.8l-.7 .8M76.4 145.1l.1 1.3l-1.1 1.3l-.7 .9M69.4 122.2l-1.2 .6l-1.3-.1l-.1-1.6M99.8 149.8l-1-1.6l1.5-1l0-1.4M47.1 128.5l-.9-1.5l.6-1.9l-.2-1.5M68.2 137.4l-.2-1.2l.7-1l1.2-1.5M70.8 125.5l.7 1.2l1.5 1l1.7-.3M99.4 145.7l-1.4 .7l.3 1.4l-.8 .9M96.4 140.6l-1.3-1.5l-1.4 .7l-.8 1.1M86.6 144.2l-.2 1.2l.7 1.1l1.1-.4M85.3 114.6l.2 1.5l-.5 .9l-.2 1.5M58.7 114.6l1.8-.8l-.1-1.9l1-1.2M94.9 134.8l-.4 1.2l-.4 1.1l.4 1.7M90.2 154.7l.8-1.1l-.2-1.2l-.4-1.5M52.6 144.6l-.7-1.1l-1.2 .1M84.9 130.8l-.1-1.9l-.3-1.9l-1.5-.6M64.6 101.5l1 1l1.4 0l.4 1.4M51.7 140l.1-1.6l1-.6l-.9-1.8M43.9 139.6M71.6 143.1l.5-1.6l.8-.7l1.4 .7M51.4 118.8l1.5 .4l1.2 .7l-.1 1.3M70.4 142.5l1.2 1l.9-.4l1.4-.2M96.2 115.1l1.3 1l.6 1.5l1.3 1.5M87.8 155.4l-.7-1.6l-1.2-.2l-.5 1.4M70.7 147l-1.9 .6l0 1.2l-1.5 1.3M66.6 152.7l-1.8-.8l-1-.6l-1.3 .3M52.5 144.5l1 .4l1.3-1.3l1.6 1.1M50 131.7l1.1 .1l1.4 1.3l.5 1.6M61.5 111.4l-1.3 .1l-1.4 .3l-1.5-.2M60.4 131.2l-1.5-.5l-1.6 .2l-1.5 0M84.4 142.9l.7 1l-.4 1.6l-1.9-.4M97.1 116.5l0 1.9l1.7 .8l.2 1.1M71.4 119.2l-1.5-.3l-1.4 .3l-1 .2M74.5 150.9l1.7-.6l.8-.9l-.9-1.3M83.8 145.4l1.7-.4l.9-.6l-.5-1.4M57.4 134.1l1.8 .2l.4-1.4l-1.4-1M60.3 108.9l-1.8 .2l-.8-1.3l.5-1.4M84.6 120.4l-1.2-1.6l-.8-.7l-1.4 1.3M78.4 106.4l-1.4 1.3l-1-.9l-.8-1.5M94.5 109.6l-.3 1.6l.9 1.4l0 1.3M80.5 136.4l.6 1.3l-.6 1.6l1.5 .8M78.5 160.1l1.6-.9l1.1 0l.8 .9M79.4 116.8l.9-1.8l1.1-.1l1.2 1.4M95.7 119.4l.7-.8l-.3-1.5l-.2-1.9M54.5 132l-1.4-.2l-.3-1.1l-1-.7M83.2 148.4l1.1-1.5l1-.6l1.2-.4M66.8 122.4l-.4 1.1l1.7 .7l1-.7M94.6 129.7l2-.2l1.9 .4M92 129.7l-1.4-.6l-1.6-.4l-1.6 .6M85.4 161.7l-.3-1l.1-1.3l1.3 .1M88.6 142.2l1 .4l-.5 1.9l-1.5 .5M49 130.4l0 1.1l1.5 1l1.7-.9M87.7 124.4l.9-1.7l-.9-1.6l-1.5-1.2M84.6 161.7l-1.2 0l-.3 1.4M51.3 125.5l-.9-.9l-1.7 .5l.4 1.1M83 121.3l1.2 1.3l.3 1.4l1.9-.3M72.7 139.2l.9-1l-1.1-1.3l-1.2 .8M64.4 125.6l1.1 .1l1.2-.5l1.2 1.5M68 131l1-1.1l-.8-1l-.6-1.2M72 146.5l-1-.7l.9-1.2l1.8 .1M90.3 151.8l-1-.2l-.1-1.7l-.4-1.6M85.7 123.5l.4-1.3l-.1-1.7l.7-.9M99.2 153.8l-1.5-.4l-1.1 .3M73.4 101.9l-.1-1.7l1.1-.8l1.6-1.1M80.6 110.5l1 1.3l1.6 .9l.8 1.7M88.3 130.3l1.1-1.3l1.6-.7l-.2-1.7M51.2 135.4l-.8-.8l.4-1.6l-.5-1.3M100.9 116.9l-1.4-.7l.6-1.4l1.2 .2M92.2 137.9l1.1-.2l.3-1.6l0-2M69.1 156.9l-1-.4l.6-1.4M78.1 98.4l-.7 1.4l1.1 1.1M67.5 140.7l-1.7 .1l-.9-.6l1-1.6M67.1 114.4l.8 .7l1.3 .3l1.9 .2M77.3 145.6l1.4 .3l.6-1.9l1-1.3M72.6 138.2l.7-1.7l-1.1-1.2l.6-.8M85 119.7l0 1.3l1.4 1.1l-.1 1.1M68.2 98.2l.9 1.1l-.5 .9l-1 .6M47.1 108.7l-.9 1.5l.4-1.6M97.6 156.5l-1.1-.2l-1.6-.8M62.2 131.2l-.6 1.6l-1 1.3l-.7 1.7M74.4 126.8l-1.2 1l-1 1.2l-1.2 1.1M87 127.7l-1.2 .5l-1.3 .2l-.4 1.8M56.9 101.6l-.5 1.2l-.3 1.4M83.3 107l-.3-1.5l-1.2-1l.2-1.6M89.6 127.8l.8-1l-.2-1.4l.5-1.1M84.9 144.5l1.7-.6l.8 1l1.3 .1M86.7 125.6l.7 1.5l-.5 1.7l-.4 1.4M77.5 146l-.1-1.7l.8-.8l.9-1.3M60.9 144.7l1.3 .9l1.8-.7l0-1.2M62.6 141.7l-1.3-.4l-.8 1l-1.1-.3M84.8 119.7l-1-1.2l.7-1.2l-.8-1.1M83.3 148.8l-1.1-.7l-.2-1.3l-1.6 .2M47.1 131.2l1.3-.3l1.6 .5l.5 1.1M64.2 142.7l1.7 .6l1.9-.1l.8-.8M87 108.8l.8-.7l.8 1l1.8 .7M86.7 135.1l1.9 .4l.6-1.3l.9-.5M70.7 151.7l.8 1.4l1.1 1.5l.4 1M89.7 137.8l-.1-1.4l-1.8-.2l-.7 .9M91.9 130.9l.3 1l1.1-.3l.2-1.2M84.2 161l-.7-1l.2-1.3l.2-1.8M71.8 144.5l.9 .7l1.1 1.4l-1.2 1.2M86.3 103l-.6-.8l-.5-1.5l1.7-.6M70.5 107.3l1.6-.6l-.2-1.7l1-1.1M82.1 139.8l-.6-1l-1.6 0l-.6-1.2M92.7 127.4l.4-1.2l-.9-.6l-.9-1.7M78.1 104.8l-.3 1.3l-1.8 0l-1.2 .5M68.1 100.6l1.9 .7l-.1 1.6l.4 1.4M94.5 124.8l.9-1.5l-.5-1.5l-1.2-1.4M63.5 112.1l1.7-.7l.1-1.7l.9-.8M60.8 106.6l-1.2 .6l.8 1.5l1.7-.4M67.8 149.7l1-.6l1.8-.5l1.1-1.4M49.7 106.7l1.6 .3l1.7 .1l1.3 1M78.8 107.1l-.7 .9l-1 .6l-1.2-.2M94.6 136.3l1.7-.5l.9 .9l.5 1.1M62.3 156.3l1-1.5l.7-.7l.9-1.7M72.8 134.2l1.5-.2l.9 1l1.2 .3M57.6 130.7l.1-1.3l-1-1.6l-.2-1.3M60 151.8l1.6 0l.8-1.7l.4-1.1M46 132.4l.8 1.3l1.2-.7l0-1.3M90.1 154.4l.1-1.1l-.5-1.7l-1.1-.1M81.8 152.8l.2-1l1-1.7l.2-1.3M76.1 128.1l.3-1.3l0-1.3l-.4-1.1M90.7 144.8l.1 1.4l.4 1.6l1.7 .1M95.1 119.9l-1.3-1.3l.2-1.4l.6-1.6M48.2 145.1l-.9-1.5l1.1-1.6l1.3 .7M78.5 110.5l.1 1.7l-1.1 1.5l-1.1 .1M66.9 132.7l.6-1.2l1.2-.9l1.4-.6M62.6 155.3l-1.3 .5M59.8 118.5l-1 .3l-1.9 .2l-.4-1.2M56.6 135.4l.4-1l1.1-.7l.6-.9M63.4 103.2l-.4 1.1l-1.4-.1l-.7-1.3M89.2 128.7l.9-1.8l1.6 .2l0 1.4M66.3 141.4l.6-.9l1-.3l1 .7M73.3 123.6l-1.1 1.2l-1.2-1.2l0-1.1M55.3 149.6M56.2 146.7l1.1-.8l.2-1.2l-1.2-1.2M102.4 146.5l-1.6 .5l-1.8-.1l-.2 1M61.9 108.4l0-1.1l.3-1.1l-.9-1.3M84.8 110.6l-1 .4l.6 1.8l1.6-.6M85.5 161.3l-.7-1.2M46.2 128.7l-1.5-.5l-1.9-.7l-.7 1.7M93.4 134.7l.9 .7l1.2-.3l1.4 .4M88.7 119.4l1.3-1.4l1-.9l-.2-1.3M64.4 122.6l.7-.7l-1-1.2l-.7-.9M51.4 129.1l-.6-1.2l-1.1-.9l-.3-1.9M54.3 137.1l-.5-1.1l.9-1l1.8 0M53.9 145.3l1.4 .3l1.8 .2l1.4-1.2M72.8 110.7l-.6-1.4l.2-1l-.5-1.4M90.7 128.9l-.4 1l-.2 1.5l-1.4 .9M55.1 154.3l-.5-1.7M75.6 114.7l1 .4l1.7 .5l-.1 1.4M64.7 117l.8 1.3l.1 1l-.2 1M57.5 121.6l.3 1.3l-.2 1l-.4 1.7M85.9 112.8l-1.5 0l-.9-1.5l.6-1.3M50.8 110.1l1.4 .9l1.6-.2l1.4-.2M90.2 159.4l-2 .1l-1-.4l-.4-1.3M73.2 137.6l1.1 1.6l1.1 .4l.6 1.5M70.4 156.6l1.4 .8l1 .9l1.6-1.2M80 113.3l1.4 .5l1.1-.7l-.6-1.2M58.7 110.2l.4 1l1.5-.1l-.1-1.9M68.3 118.1l-.9-1l-.7-1.7l-.5-1M98.2 140.2l-1.7-.6l-1.8-.8l.3-1.1M77 132.6l-1-1.3l1.2-1l1.4 1.2M69.8 137l1.3-1.3l1.3 .6l.7 1.2M73.2 133.5l1.4 1.1l1.4 1.2l1.2 .8M54.8 113.8l.3-1.1l1.3-1.1l-.5-1.2M78.3 145.8l1.1-.2l1.1 .4l1.3 .6M50.2 116.9l-.1-1.3l-1.2-1.2l-1.1 .3M49 129.9l1.6 0l.6 1.1l1.1-.3M61.2 134.6l-.2-1.3l-1.7 .3l-.4 1.5M78.5 117.4l.8 .9l1.6 .8l1.1-.4M55.6 140.2l-.7 1.4l-1.5 1.2l-1.3-1.2M63.9 101.8l.8-.9l1.2-1.6l1 .1M50.2 116.2l1.3 .6l-.1 2l1.4 .8M63.2 115l-.3 1.6l1.5 1.1l.3 1.7M85.3 139l1.3 1l1.2 .2l.7-1.6M66.3 143.9l-1.7-.4l-.8-1.3l-1-.6M56.4 148.3l-.4 1l-1.6 1M73 99.7l-1.8 .2l-.2 1.8l.1 1.6M59.9 141.7l-.7 .8l-.1 1.4l-1.2-.1M65.9 130.1l1 .9l.5 1.2l.7 1.3M79.5 115.8l-1 .2l-1.6 .9l-1-.7M75 116.3l.5 1.5l-1.2 .4l-1.2 .4M46.1 133.6l-1.4-1.2l-.6-1.8l1-.5M91.1 103.9l.7-1l1.6 .6M48.8 142.6l.4-1.4l-.4-1.1l-1.1-1.3M82.6 142.3l-1.9 .2l-.8 1.1l-.9 1.4M49.2 109.2l.4-1l-1.5-.7l-.6-.9M64.2 98.9l1.8-.4l1.6 .7M100.1 111.1l1 1l1.2-.6M51.6 132.4l1.4-1.4l.7-1.5l.5-1.7M86.4 130l.3-2l1.6-.8l.9 .4M47.5 141.7l-1.5 .9l-.2-1.9M78.6 114.1l.3 2l1 1.3l.4 1.9M51.6 103.9l-.6-1.3M58.1 146.7l.1-1l.5-1.4l.5-1.6M68.5 147.3l-.4-1.1l-1.1-.5l-.1-1.3M60 127.8l-1.3 .1l-1.4 .4l-.8-.6M94.1 120.5l-1.1-1.4l-.7-1.8l-1.2-.6M55 150.9l-.1-1.7l.9-1.2M54 119.2l-.1-1.9l.3-1l-1.7-.9M85.1 139.8l-1.4-.2l-1.3 .6l-1.6 .9M92.7 130.5l1.5 .2l.6 1.5l-.7 1.4M57.4 120l.6 1.1l-.8 1.8l.9 .7M101.5 142l-1.2 .2l-1.1-1.3M92 155l-1.1-1l-.9 .4l-1.6 .5M74.7 101.1l-.6 1.4l1.4 .6l1.1 0M48.1 125.5l-.4 1.8l-1.4 .9l.7 1.3M86.4 94.6M66.4 112.1l1-.2l1.8-.7l1.5 1.2M53.3 129.5l1.6-1.1l1-.7l1.3-.1M49.4 148.3M92.9 104.9l-1.1-.4l-1.2-.4l-.8-1.1M78.4 100.1l-.8 .6l-.4 1.5l-.7 1.5M57.1 110.1l.6 1.4l.1 1.2l-1.4 .1M57.4 153.7M66.9 118.4l-.8-1l-1.8 .6l.3 1.1M96.2 115.7l-1.1 .7l-1 1.2l-.7 1.5M55.3 108.3l-.2-1l-.4-1.2l1-.4M52.7 140.3l-.3 1.2l-1.1 .7l-.9 1.2M72.3 110.5l-.8-.7l-.7-1l-.6-1.1M90 104.2l1.4 .5l1.8 .8l0 1.1M91 135.1l.4-1.5l-.3-1.1l-.3-1.1M93.9 115.1l-1.9-.3l-1.3 .6l-1.5 1M57.4 121.9l-.9 .9l-1.5 .6l.1 1.2M62.6 135l1-.3l1.7-.3l.8-1.6M76 134.9l-.6 1.6l-.9 1.1l-1-.2M60.8 135.8l-.5-1l1.5-1l1.1 1.6M82 129.9l-.6-.9l-1.4-.4l-1.8-.4M50.8 105.8l-1.2-.1l-.9 .9l-1.3 1.2M96.7 135l-.3 1.9l1.1 .9l1.1-.8M53.4 130.5l.1-2l1.2-.8l.9-.8M83.9 129l-.3-1.4l-1.4-.8l-1.6-.4M79 98.4l-1.1 .3M68.4 126.8l.2-1l1.4-.1l.9 .8M73.6 113.5l-1-1.3l-.1-1.3l.6-1.6M91.2 126.4l1.7-.9l.1-1.7l-.2-1.5M92 121.9l1.2 .5l.3 1.9l.2 1.4M72.4 128.8l-.5 1.8l-1.4 .4l-.7-1.6M82.3 113.8l-.6-1.8l.6-1l1.2 .5M55.7 153.3l.8 .6M75.9 115.4l1.3-.2l.3 1.3l-1 1.5M66.2 125.2l1 .7l1.7 .2l-.1 1.4M91.5 105l.9 .8l-1.4 .3M99 119.9l-1 1.1l-1.4 .6l-.8-1.2M56.1 150.2l-1.1-1.5l.5-1M69.4 99.5l1 1l-1.1 1.5l-1 .4M43.9 117.2l1 1.3M95.8 148.9l1.2-1l1.8 .4l1.1-.2M68.6 108.9l-.2 1.6l-1 .6l.3 1.4M81.5 158l.6 1l1.9-.6l.8 1.5M44.5 136l1.6 .5l1 .8l1.4 .6M96.4 115.5l-.4 1.5l-1 .1l-.2 1.6M55.5 131.3l.3-1.5l.4-1.1l.3-1.6M81 149.1l.5-1l.2-1.2l-1.6-1M83.4 100.1l-.8-.8l1.5 .1M72.1 149.3l0 1l1.2 1.3l1.7 .9M93.1 131.8l.4-1.1l-.8-1l.5-.9" stroke="#e6e600" stroke-width="0.8" fill="none" stroke-linejoin="round" />
<path d="M98.9 111.4h0M100.1 112.3h0M69.8 135.5h0M93 149.6h0M95.1 149.2h0M71.2 121.3h0M73.1 121.9h0M52 138.1h0M50.1 137.6h0M49 136.9h0M95.4 115.1h0M64.1 108h0M70.9 105.9h0M82.9 156.9h0M81.9 157.2h0M84.4 102.2h0M84.2 103.4h0M83 104.4h0M90.9 158.8h0M90.4 157.1h0M59 144.2h0M60.1 144.5h0M92.6 127.6h0M91.6 128.5h0M91.6 129.5h0M56.1 145.6h0M57.9 145.2h0M67.1 140h0M68.4 139.7h0M68.7 138.2h0M91.5 129h0M92.7 132.1h0M51.6 139.9h0M52.3 141.4h0M53.7 141.6h0M90.3 110.7h0M92.2 110.8h0M77.2 97h0M97.3 149.9h0M58.2 138.2h0M57.2 138h0M61.1 133.4h0M58.9 135.2h0M79.1 161.4h0M87 103.8h0M86.6 107h0M42.9 124.9h0M43.9 125h0M69.5 140.3h0M70.4 139.3h0M70.3 137.8h0M81.8 152.2h0M52.2 108.6h0M53.1 107h0M82.9 145.3h0M83.8 101.7h0M82.7 101.2h0M61.8 143.1h0M61.3 144.4h0M59.6 144.3h0M89.3 138.5h0M87.7 138.4h0M68.5 134h0M62 117.2h0M63.8 117.8h0M64.7 116.6h0M66.3 152h0M67 153.4h0M77.6 140.9h0M80.3 102.7h0M66.6 153.3h0M68.1 154.3h0M66.2 107.9h0M58 118.3h0M60.2 120.1h0M85.4 125.3h0M73.9 144.3h0M74.6 143.2h0M74.8 142.1h0M41.4 126.7h0M43.1 126.8h0M47.3 115.5h0M46.7 114.5h0M59.9 114.7h0M60.3 115.9h0M86 155.3h0M78.6 100.8h0M50.1 125h0M50.3 123.8h0M58 143.6h0M60.4 145h0M86.9 140.5h0M52.3 125h0M51.2 124.1h0M49.8 124.1h0M82 160.7h0M83.5 161.5h0M58.9 154.4h0M58.4 152.6h0M49.1 121.6h0M62.4 144.8h0M63.2 145.6h0M92.8 122.9h0M94.1 122.2h0M99.6 147.8h0M98.2 124.9h0M93 112.8h0M91.7 103.3h0M91 104.3h0M81.7 147.3h0M54.1 130.6h0M81 113h0M67.5 134.2h0M68.4 135.7h0M72.6 139.2h0M69.8 137.5h0M75.2 129.2h0M100.3 115h0M101.4 114.3h0M101.5 112.5h0M100.9 115.4h0M80.8 135h0M78.3 132.6h0M68.9 111.5h0M69.5 110h0M69.3 108.3h0M67.4 137.6h0M69.1 136.7h0M85.9 116.4h0M86.1 115.1h0M87.2 111.7h0M86.7 110.1h0M96.8 115h0M80.7 124.3h0M82.9 127.3h0M82.2 128.5h0M82.4 129.9h0M62.6 138.9h0M54.6 138.3h0M64.9 128.5h0M67.1 128.6h0M76.5 136.5h0M97 110.9h0M64.3 146.5h0M64.6 144.7h0M66 144.2h0M56.8 116.4h0M58.9 116.9h0M89.6 128.7h0M90.7 127.6h0M90.8 126.4h0M78.2 133.8h0M78.8 136.6h0M73.7 123.7h0M93.8 153h0M60.9 152h0M59.7 152h0M95.9 110.2h0M82.8 151.5h0M61.2 99.3h0M58.1 147.7h0M58.2 148.8h0M85.4 152.1h0M59.1 132.8h0M59.7 131.2h0M58.6 129.7h0M84.1 125.7h0M85.7 125.8h0M47.9 105.9h0M62.6 138.8h0M60.8 138.9h0M53.8 147.1h0M54.9 148.1h0M55.4 149.8h0M61.9 99.7h0M69.9 100.9h0M68.5 101.1h0M51.1 127.7h0M100.3 134.9h0M89.1 103h0M89.9 101.5h0M89 156.7h0M71.3 134.3h0M71.4 132.8h0M70.5 132.2h0M59.6 137.5h0M82.6 155.6h0M73.6 122.1h0M73.3 124.5h0M85.9 116.8h0M81.3 156.1h0M95.6 157h0M89.7 151.9h0M83.7 98.9h0M84.6 100.6h0M54.4 135.3h0M51.7 128.6h0M52.9 127.3h0M75.7 112.8h0M74.6 112.8h0M74.4 111.1h0M77.3 123.3h0M67.4 144.5h0M79.8 138.4h0M79.9 136.9h0M80.7 136h0M91.1 126.3h0M92.8 126h0M51.4 129h0M52.4 130.5h0M90.9 119.7h0M73.5 129.2h0M43 126.4h0M60.5 125.7h0M58.6 126.7h0M75.1 120h0M65.7 139.7h0M65 140.8h0M98.1 147.8h0M71.2 142.3h0M70.4 140.5h0M68.5 139.8h0M63.9 135.4h0M86.7 138.7h0M85.6 137.7h0M61.1 130.8h0M62.4 133.8h0M74 134.7h0M88.8 124h0M62.6 119.7h0M63.6 120.1h0M90.6 154.1h0M90.3 155.7h0M84.1 125h0M51.1 134.9h0M48.7 132.2h0M82.8 150.5h0M49.3 125h0M50.1 127.6h0M97.9 130.6h0M96.8 133.4h0M81.7 128.1h0M90.1 121.4h0M62.3 110.9h0M79.7 142.7h0M80.6 141.7h0M85.3 109.9h0M74.5 139.1h0M69.8 117.4h0M71.4 117.9h0M73.1 139h0M73.7 139.9h0M73.3 141h0M62.6 110.3h0M63.9 110.3h0M81.6 119h0M81.6 120h0M56.2 117.6h0M80 100.1h0M78.5 98.3h0M59 108.3h0M58.5 110h0M58.8 111.1h0M58.4 124.6h0M57 123.5h0M71.8 125.8h0M88.3 142.6h0M87.9 145.6h0M64 141.8h0M89.4 141.4h0M46.1 115.7h0M55.3 111.8h0M54.1 110.7h0M87.7 135.4h0M88.1 136.7h0M76.8 148.5h0M75.6 149.4h0M98.5 126.8h0M58.9 149h0M59.7 150h0M51.4 118.9h0M50.3 120.3h0M90.5 108.3h0M87.8 160.1h0M88.5 158.3h0M79.5 106.9h0M79.3 105.7h0M78 105h0M72.2 110.6h0M68.4 113.7h0M66.8 114.1h0M64.8 98.9h0M54 99.7h0M83.8 147.5h0M83.5 146.4h0M46.6 114.3h0M46.6 113h0M44.8 112.2h0M77 157.5h0M77.4 156.3h0M78.3 155.3h0M76.6 113.6h0M76.2 115.3h0M71.8 135.1h0M88.8 102.7h0M93.2 116.9h0M94.3 117h0M95.4 118.5h0M80.6 137.4h0M54.6 110.6h0M53.6 109.9h0M77.8 127.3h0M98.2 138.4h0M87.2 139.1h0M73.4 149.1h0M74.5 147.8h0M75.6 147.4h0M62.2 147h0M51 130.2h0M50.9 132h0M84.5 156.5h0M86.7 154.9h0M74.8 102.3h0M59.9 110.4h0M97.1 132.9h0M82.3 110.8h0M84.6 109.3h0M77.4 137.5h0M98.1 142.3h0M64.6 129.8h0M63.1 130.7h0M64.3 101.7h0M57 107.3h0M58 110h0M89.5 149.7h0M91.6 147.8h0M43.5 116h0M43.5 117.7h0M44.5 117.9h0M51.6 126h0M91.7 115.2h0M75.2 103.9h0M69.7 143.6h0M68.8 117.8h0M69.7 118.9h0M85.9 98.7h0M77 115.4h0M75.2 116.1h0M56.2 110.4h0M89.4 135.7h0M91.2 136.4h0M86 145.1h0M47.8 132.4h0M48.9 133.1h0M50.4 132.9h0M91.3 144.3h0M90 145.4h0M89 146.5h0M92.4 157.6h0M92.7 155.6h0M71.1 108.7h0M67.9 124.3h0M65 125.8h0M80.8 148.9h0M58.6 155.6h0M90.9 125.1h0M92 124.7h0M89 99.6h0M84.8 136h0M85.9 135.1h0M87.2 135.6h0M97.2 118.1h0M68.9 128.4h0M83.8 131.4h0M92.8 126.8h0M54 109.7h0M56.6 109.5h0M74.6 158.9h0M76 157.9h0M63.8 113.7h0M61.5 113.4h0M72.1 156.4h0M50.8 135.7h0M49.9 136.9h0M55 147.5h0M53 147.4h0M89 116.8h0M88.3 116h0M76.6 150h0M97.6 111.7h0M100.5 113.7h0M88.4 119.3h0M52.3 141.2h0M53 139.9h0M54.7 140.5h0M82.5 120.3h0M81.3 119.5h0M81.6 117.6h0M79.9 123.1h0M80.7 124.6h0M61.9 116.4h0M63 117.2h0M72.6 107.6h0M74.5 108.1h0M74.8 107h0M68.3 131.5h0M96.3 150.3h0M97.3 151.2h0M56.3 138.1h0M46.7 114.9h0M47.9 116.2h0M46.6 119.8h0M43.9 120.2h0M84.4 148.8h0M83.5 147.7h0M82.7 146.7h0M54.1 124.7h0M99 113.1h0M100 112.7h0M83.6 111h0M81.6 113.4h0M79.9 118.4h0M81.1 119.8h0M82.3 119.1h0M59.7 149.9h0M81.7 136h0M87.8 111.4h0M89.7 134.8h0M88.3 133.2h0M92.8 105.1h0M92.9 106.2h0M92.9 107.4h0M80.2 122.2h0M75 101.4h0M95.5 121.2h0M95.9 122.6h0M75 103.6h0M73.8 102.6h0M72.5 102.3h0M66.9 121h0M50 126.6h0M88.1 125.2h0M58.9 153.2h0M64.3 111.3h0M89.4 138.2h0M89 136.6h0M86.8 99.3h0M76.4 120.4h0M92.4 107.3h0M90.3 106.4h0M59.2 152.2h0M59.7 153.5h0M71.7 133.7h0M80.3 111.8h0M83.7 142.3h0M86.5 149.2h0M77.5 139.5h0M77.9 138.1h0M72.9 151.8h0M74.1 150.7h0M56.8 133.2h0M56.4 131.5h0M75 136.9h0M73.9 136.6h0M85.7 119.6h0M86.8 120.5h0M81.6 139.7h0M73.3 117.8h0M73.5 109.8h0M72 109.4h0M71.1 110.1h0M48.9 124.1h0M49.3 122.9h0M90.8 117.9h0M89.2 118h0M57.8 106.3h0M59 108.2h0M82.8 137h0M74.3 136h0M74.7 137.5h0M75.9 138.3h0M69.2 118.8h0M69.9 119.9h0M100.6 145.1h0M85.5 138h0M84.5 138.7h0M86.2 104.2h0M83.5 153.9h0M82.7 154.6h0M53.7 143.5h0M54.2 145.6h0M88.1 119.9h0M57.6 137.7h0M56.8 139.1h0M55.6 138.9h0M65.2 139.2h0M67.2 139h0M79.1 164.6h0M57.9 136.5h0M70.1 103.6h0M68.3 104.1h0M78.1 105.2h0M79 106.4h0M71.3 132.3h0M73.2 133h0M78.6 124.3h0M79.9 124.4h0M80 125.9h0M80.6 132.7h0M95.4 148.8h0M54.3 126.2h0M72.6 145.6h0M45.8 126.1h0M46.5 128.2h0M75.5 106.9h0M74.7 107.9h0M73.3 106.9h0M79.1 135.3h0M78.4 136.9h0M62.1 152.2h0M61 152.1h0M60.8 153.1h0M77.5 149.4h0M78.7 149.4h0M75.1 100.5h0M73.5 124h0M75.7 124h0M52.3 146.8h0M78.3 152.3h0M49 105.6h0M65.2 97.7h0M73.8 121.3h0M73 120h0M92 111.1h0M99.9 141.4h0M101.7 145h0M102.8 145.6h0M57.9 147h0M91.6 124.7h0M92 126.3h0M69.4 128.7h0M69.3 130.6h0M91 120.8h0M89 151.3h0M93.3 136.3h0M86.5 118.9h0M85.2 118.7h0M95.9 110.1h0M96 111.1h0M96.6 112.1h0M50.5 138.8h0M45.6 113.5h0M44.3 114.3h0M95.1 119.9h0M94.1 120.9h0M93.7 122.1h0M88.4 119.2h0M86.8 118.3h0M49.7 136.1h0M50.7 137.6h0M50.2 138.6h0M48.9 119.3h0M48 118.3h0M62.7 108.2h0M78.8 121.5h0M99.2 127.2h0M98.3 125.5h0M66.6 123.6h0M69.2 125.1h0M84.6 108.5h0M85.1 107.5h0M86.9 107.8h0M66.9 105.1h0M59.8 142.1h0M86.9 113.7h0M86.3 112.6h0M84.9 112.9h0M91.3 157h0M90.2 157.6h0M83.9 147h0M82.6 147.4h0M82.2 146.3h0M56.3 128.5h0M55.4 127.7h0M82 149h0M53.8 138.7h0M66.7 131.2h0M64.3 132.7h0M73.6 122.7h0M70.9 122.8h0M99.6 139.4h0M100.2 138.2h0M70.6 137.6h0M75.1 132.7h0M72.6 135h0M76.7 143.8h0M76 144.5h0M71.8 158.2h0M86.9 121.8h0M88.3 123.1h0M79.4 130.1h0M57.4 137h0M53.9 137.4h0M100.1 139.1h0M101.3 139.9h0M61.6 137.1h0M62.2 135.9h0M61.3 135.5h0M95.4 106.1h0M98.4 131.6h0M97.5 110.5h0M100.6 111.3h0M77.9 160h0M97.9 122.7h0M62.5 116.3h0M60.7 117.2h0M59.5 116.9h0M89 104.2h0M89.1 105.3h0M90.2 105.5h0M50.6 121.1h0M73.6 132.6h0M71.7 132.1h0M84.3 100h0M85.3 101.5h0M95 141.4h0M82.2 136.9h0M83.5 136.7h0M84.6 137.6h0M62.8 148h0M85.1 106.7h0M84 106.4h0M95 150.7h0M93.4 151.8h0M76.7 120.7h0M74.1 122.8h0M88.8 109.6h0M90.1 108.3h0M56.1 118.1h0M57.7 119.1h0M58.6 120.2h0M96.5 118.5h0M70.4 108.2h0M95.3 153.2h0M87.6 134.6h0M86.4 133.5h0M62.7 143.8h0M43.4 114.2h0M43.5 121.5h0M90.2 105h0M92.8 158.6h0M52.2 107.4h0M50.8 106.9h0M80.9 103.2h0M79.3 103.3h0M74 148.3h0M66 139.6h0M64.7 139.6h0M64.1 138.2h0M71.4 105.3h0M71.7 104.3h0M83.1 152h0M84.7 151.1h0M72.9 123.5h0M72.1 124.5h0M52.5 142.8h0M51.8 144.7h0M80.3 131.1h0M69.7 109.5h0M46.5 121.3h0M45.2 122.3h0M60 121.4h0M78.1 155.9h0M77.1 156.2h0M69.5 113.4h0M70.4 114.3h0M47.2 127.9h0M44.2 128.4h0M70.2 117.3h0M91 120.8h0M91.7 121.5h0M91.4 123h0M80.8 159.3h0M82.1 158.4h0M91.5 140.5h0M71.3 142h0M92.7 107.2h0M93.1 108.8h0M64.5 100.9h0M65.8 98.9h0M74 115.7h0M63.5 101.2h0M62 102.3h0M98.2 139.6h0M96.5 139.3h0M72.1 157h0M70.3 157.6h0M70.1 158.6h0M60.9 143.7h0M61.3 142.1h0M63 109h0M63.9 111.1h0M44.7 128.6h0M42.4 128h0M72.6 102.6h0M83.5 111.2h0M84.2 112.1h0M78.7 123.5h0M79.8 122h0M100.6 142.2h0M99.6 143.3h0M98.5 144h0M68.2 107.7h0M69.9 108h0M70.2 107h0M72.7 132.2h0M74.8 134.1h0M52.9 122.6h0M53.1 124.5h0M96.9 120.6h0M100.1 121.8h0M90.7 125.9h0M90.4 123.7h0M99.6 114.7h0M100.2 113.9h0M102.5 152.4h0M84 104.5h0M84.2 103.4h0M84.6 101.7h0M70.7 142.1h0M90.5 132.6h0M88.2 131h0M50.4 124.7h0M93.1 115h0M90.5 108.4h0M47.4 110.2h0M49.2 109.3h0M69 161.1h0M56.6 131.5h0M57 130.4h0M74.8 140.7h0M76.8 141.2h0M84 100.3h0M84 98.8h0M86.5 124.9h0M87 127.9h0M79.4 144.9h0M80.9 153.8h0M52 130.9h0M53.7 129.3h0M98.7 118h0M93.6 118.7h0M94.9 117.8h0M88.2 120.9h0M101 114.9h0M44.6 125.5h0M44.7 124.2h0M77.4 121.3h0M78.4 120.6h0M56.1 135.3h0M58.4 125.6h0M77.2 115.7h0M97 108.6h0M98.2 119.6h0M96.4 121.7h0M88.3 120.6h0M88.9 119.7h0M88.9 118.4h0M76.4 154.6h0M78 152.8h0M90.2 100.8h0M71.3 128.9h0M69.9 129.4h0M67.4 120.8h0M67.8 119h0M55.9 108h0M75.5 117.4h0M95.2 104.3h0M93.8 103.2h0M92.9 102.1h0M91.5 120.6h0M89 142.7h0M91.5 144.3h0M50.1 115.3h0M51.7 115.2h0M52.7 113.8h0M45 130.8h0M93.2 146.7h0M93.1 148.5h0M94.7 149.5h0M60.8 116.7h0M62.1 117.4h0M86.6 138.9h0M65.1 104.4h0M64.8 106.3h0M54.5 126.7h0M53.2 125.9h0M52.2 125h0M86.5 102.5h0M86.6 101h0M89.1 129.6h0M88.1 130.4h0M64.5 130.5h0M63 128.9h0M63.1 146h0M51.3 143.7h0M95.2 120.7h0M81.3 146.4h0M81.5 143.1h0M73.9 142.7h0M73.4 145.2h0M48.3 134h0M63.8 156.2h0M62.9 154.9h0M93.6 145h0M92 145.3h0M60.5 132.7h0M62.5 133h0M89.2 109.9h0M77.4 118.6h0M66.2 101.5h0M104.4 148.1h0M96.3 132.4h0M60.9 135.4h0M73.8 113.4h0M73.2 112h0M72.7 141.1h0M55.4 126.1h0M54.7 124.8h0M64.5 133.2h0M64 132h0M62.6 132.7h0M65.2 155.4h0M64.1 156.2h0M62.7 155.1h0M72.7 153.2h0M70.5 153.3h0M61.3 103.5h0M62.1 101.9h0M72.6 101.9h0M78.2 146.7h0M77.9 145.2h0M78.9 144.4h0M67.2 99.4h0M76.5 140.8h0M48.7 113.4h0M52 114.5h0M100.4 110.2h0M73.4 154.3h0M72.4 153.5h0M71.9 151.9h0M83.6 160.8h0M58.3 116.9h0M59.6 115.6h0M59.7 114.3h0M98.7 114.7h0M47.3 114.6h0M47.9 117h0M82.8 135.5h0M81.2 134.9h0M49.5 126.5h0M58.2 110.7h0M63.5 125.3h0M62.7 122.8h0M87.8 150.3h0M88 148.4h0M88.5 146.8h0M63.8 104h0M64.1 105h0M93.9 141.2h0M92.3 141.5h0M51.8 116.6h0M52.6 115.8h0M49.4 143.6h0M51.5 110.6h0M71.4 155.4h0M69 156.2h0M66.7 107.8h0M85.1 132.2h0M68 108.4h0M46.4 121.8h0M68.6 140h0M69.4 139.4h0M75.3 146.6h0M74.4 145.8h0M74.3 144.1h0M67.5 112h0M41.6 123.3h0M57.8 127.4h0M52.8 112.4h0M53.6 110.2h0M63.9 143.8h0M65.1 144.1h0M61.5 103.1h0M63.9 102.6h0M63.3 110.7h0M63.5 112h0M72.7 140.3h0M79.6 139.3h0M78.7 100.6h0M79 101.9h0M78.4 102.9h0M47.7 114.5h0M49.6 114.4h0M97.6 133.5h0M60.7 109.1h0M56.8 139.2h0M49.9 114.5h0M49 113.3h0M56.9 116.2h0M58.3 115.5h0M59.9 116.7h0M97.5 139.7h0M97.4 138h0M63.4 145.2h0M87.1 130.5h0M88.4 131.7h0M89.4 130.8h0M66 132.1h0M64.3 131.7h0M59.1 115.2h0M66.9 118.7h0M78.5 98.7h0M80.8 99h0M70.8 104.9h0M43.9 127.6h0M98.3 125.2h0M97.1 125.4h0M49 128.5h0M49.7 127.3h0M89.7 115.3h0M87.9 113.7h0M49.2 125.9h0M50.5 125.8h0M60.2 130.3h0M61.4 129.8h0M50.3 128.9h0M49.5 127.8h0M54.6 150.8h0M84.8 148.4h0M87.2 147.2h0M69.3 149.8h0M69.5 138.7h0M78.4 105h0M77.4 106.4h0M96.2 126.1h0M97.5 125.1h0M63.2 122.3h0M91.7 111.4h0M93 111.6h0M78 130.4h0M56.6 101h0M57.9 101.1h0M101.7 141.9h0M46.9 127.2h0M45.7 124.8h0M69.9 124.3h0M70 102.8h0M84.7 108.8h0M82.2 107.5h0M99.4 152h0M98.5 152.4h0M59.2 109.7h0M60.2 108.4h0M80.6 133.2h0M78.6 160.6h0M86.8 157.9h0M83.3 158.8h0M64.3 145.5h0M65.2 147.8h0M62.8 119.9h0M61.5 121.9h0M80.6 126.3h0M91.1 141.5h0M89.6 141.8h0M62.7 151.9h0M64.2 151.9h0M79.5 149.3h0M78 148.6h0M83.4 146.6h0M97.7 125.2h0M70.4 126.3h0M70.3 124.9h0M65.5 117.7h0M65.9 118.8h0M66 120.8h0M82.9 147.6h0M83.2 146.1h0M69.7 148.9h0M63.3 117.3h0M64.4 118.1h0M52.9 122.2h0M51.9 121.9h0M95 113.6h0M96.3 114.4h0M95.9 116.3h0M85.2 146.6h0M88.7 147.5h0M72.4 133.6h0M71.8 135.3h0M45 124.1h0M44.8 125.3h0M46.6 125.9h0M90.2 103.9h0M89.7 105.5h0M79.1 112.2h0M61.8 119.8h0M72 138.9h0M73.4 137.8h0M48.4 137h0M79.5 144.4h0M80.7 144.2h0M82.1 144.1h0M64.6 118.7h0M87.7 106.6h0M90.5 109h0M64.8 143.3h0M63.2 121.8h0M64.5 123.1h0M51.1 122.6h0M83.1 104.7h0M78.4 142.6h0M75.4 127.8h0M73.6 127h0M72.9 127.8h0M75.4 147.7h0M68.2 122.8h0M66.9 122.7h0M100.3 147.2h0M46.8 125.1h0M68.7 135.2h0M69.9 133.7h0M71.5 126.7h0M98.3 147.8h0M93.7 139.8h0M92.9 140.9h0M87.1 146.5h0M88.2 146.1h0M85.5 116.1h0M85 117h0M94.5 138.8h0M91 153.6h0M65.6 102.5h0M67 102.5h0M51.9 136h0M72.1 141.5h0M52.9 119.2h0M54 121.2h0M72.5 143.1h0M97.5 116.1h0M85.9 153.6h0M68.8 148.8h0M67.3 150.1h0M64.8 151.9h0M54.8 143.6h0M56.4 144.7h0M60.2 111.5h0M57.3 111.6h0M58.9 130.7h0M85.1 143.9h0M97.1 118.4h0M67.5 119.4h0M76.2 150.3h0M77 149.4h0M86.4 144.4h0M59.6 132.9h0M58.2 131.9h0M58.5 109.1h0M57.7 107.8h0M83.4 118.8h0M81.2 119.4h0M81.1 137.7h0M80.5 139.3h0M82 140.1h0M81.2 159.2h0M80.3 115h0M82.6 116.3h0M53.1 131.8h0M85.3 146.3h0M66.4 123.5h0M69.1 123.5h0M98.5 129.9h0M90.6 129.1h0M89 128.7h0M87.4 129.3h0M85.2 159.4h0M86.5 159.5h0M89.6 142.6h0M89.1 144.5h0M52.2 131.6h0M83.4 161.7h0M84.2 122.6h0M84.5 124h0M86.4 123.7h0M72.5 136.9h0M71.3 137.7h0M69 129.9h0M71 145.8h0M89.2 149.9h0M88.8 148.3h0M86 120.5h0M86.7 119.6h0M96.6 153.7h0M73.3 100.2h0M76 98.3h0M83.2 112.7h0M90.8 126.6h0M50.4 134.6h0M50.3 131.7h0M101.3 115h0M93.6 136.1h0M93.6 134.1h0M68.1 156.5h0M78.5 100.9h0M65.8 140.8h0M64.9 140.2h0M69.2 115.4h0M71.1 115.6h0M80.3 142.7h0M85 121h0M86.4 122.1h0M86.3 123.2h0M69.1 99.3h0M68.6 100.2h0M67.6 100.8h0M46.2 110.2h0M46.6 108.6h0M60.6 134.1h0M59.9 135.8h0M73.2 127.8h0M72.2 129h0M85.8 128.2h0M84.5 128.4h0M83 105.5h0M90.4 126.8h0M86.6 143.9h0M87.4 144.9h0M88.7 145h0M87.4 127.1h0M86.9 128.8h0M86.5 130.2h0M78.2 143.5h0M62.2 145.6h0M64 143.7h0M60.5 142.3h0M83.8 118.5h0M84.5 117.3h0M80.4 147h0M48.4 130.9h0M68.6 142.4h0M87.8 108.1h0M88.6 109.1h0M90.4 109.8h0M88.6 135.5h0M90.1 133.7h0M71.5 153.1h0M72.6 154.6h0M73 155.6h0M87.8 136.2h0M92.2 131.9h0M93.3 131.6h0M83.7 158.7h0M72.7 145.2h0M73.8 146.6h0M85.7 102.2h0M72.1 106.7h0M71.9 105h0M79.9 138.8h0M79.3 137.6h0M91.3 123.9h0M77.8 106.1h0M76 106.1h0M70.3 104.3h0M95.4 123.3h0M94.9 121.8h0M66.2 108.9h0M70.6 148.6h0M51.3 107h0M53 107.1h0M78.1 108h0M75.9 108.4h0M97.2 136.7h0M97.7 137.8h0M63.3 154.8h0M64.9 152.4h0M74.3 134h0M75.2 135h0M76.4 135.3h0M56.7 127.8h0M61.6 151.8h0M62.4 150.1h0M48 133h0M90.2 153.3h0M76 124.4h0M94 117.2h0M94.6 115.6h0M47.3 143.6h0M77.5 113.7h0M70.1 130h0M61.3 155.8h0M56.9 119h0M58.1 133.7h0M63 104.3h0M61.6 104.2h0M91.7 127.1h0M91.7 128.5h0M66.9 140.5h0M68.9 140.9h0M72.2 124.8h0M71 122.5h0M99 146.9h0M98.8 147.9h0M61.9 107.3h0M83.8 111h0M86 112.2h0M84.8 160.1h0M94.3 135.4h0M95.5 135.1h0M91 117.1h0M65.1 121.9h0M63.4 119.8h0M50.8 127.9h0M56.5 135h0M58.5 144.6h0M71.9 106.9h0M88.7 132.3h0M76.6 115.1h0M65.6 119.3h0M57.6 123.9h0M84.4 112.8h0M84.1 110h0M53.8 110.8h0M55.2 110.6h0M87.2 159.1h0M86.8 157.8h0M76 141.1h0M82.5 113.1h0M59.1 111.2h0M60.5 109.2h0M66.7 115.4h0M96.5 139.6h0M72.4 136.3h0M73.1 137.5h0M76 135.8h0M77.2 136.6h0M56.4 111.6h0M55.9 110.4h0M79.4 145.6h0M80.5 146h0M50.1 115.6h0M47.8 114.7h0M61 133.3h0M59.3 133.6h0M79.3 118.3h0M80.9 119.1h0M54.9 141.6h0M52.1 141.6h0M64.7 100.9h0M65.9 99.3h0M52.8 119.6h0M62.9 116.6h0M64.4 117.7h0M64.7 119.4h0M86.6 140h0M87.8 140.2h0M64.6 143.5h0M63.8 142.2h0M54.4 150.3h0M71.2 99.9h0M71 101.7h0M71.1 103.3h0M59.2 142.5h0M57.9 143.8h0M66.9 131h0M67.4 132.2h0M68.1 133.5h0M75.9 116.2h0M45.1 130.1h0M93.4 103.5h0M49.2 141.2h0M80.7 142.5h0M79 145h0M49.6 108.2h0M101.1 112.1h0M102.3 111.5h0M53 131h0M46 142.6h0M45.8 140.7h0M78.9 116.1h0M80.3 119.3h0M51 102.6h0M58.7 144.3h0M59.2 142.7h0M67 145.7h0M57.3 128.3h0M56.5 127.7h0M54.9 149.2h0M55.8 148h0M80.8 141.1h0M94.8 132.2h0M94.1 133.6h0M58 121.1h0M57.2 122.9h0M58.1 123.6h0M88.4 154.9h0M74.1 102.5h0M76.6 103.1h0M47.7 127.3h0M47 129.5h0M77.2 102.2h0M76.5 103.7h0M57.8 112.7h0M56.4 112.8h0M66.1 117.4h0M93.4 119.1h0M54.7 106.1h0M55.7 105.7h0M51.3 142.2h0M71.5 109.8h0M70.8 108.8h0M70.2 107.7h0M92 114.8h0M89.2 116.4h0M55.1 124.6h0M66.1 132.8h0M75.4 136.5h0M60.3 134.8h0M49.6 105.7h0M48.7 106.6h0M47.4 107.8h0M96.4 136.9h0M53.5 128.5h0M82.2 126.8h0M77.9 98.7h0M70 125.7h0M70.9 126.5h0M92.8 122.3h0M93.7 125.7h0M81.7 112h0M82.3 111h0M83.5 111.5h0M76.5 118h0M92.4 105.8h0M91 106.1h0M96.6 121.6h0M95.8 120.4h0M55 148.7h0M55.5 147.7h0M97 147.9h0M98.8 148.3h0M68.4 110.5h0M67.7 112.5h0M84 158.4h0M84.8 159.9h0M46.1 136.5h0M48.5 137.9h0M96 117h0M95 117.1h0M56.5 127.1h0M81.5 148.1h0M72.1 150.3h0M73.3 151.6h0M92.7 129.7h0" stroke="#e6e600" stroke-width="1.30" stroke-linecap="round" fill="none"/>
<path d="M85.5 118.6l0-2l.6-1.8l1.7 .2M59.6 106.6l1.5-1.2l1.1 1.1l.5 1.2M59.7 152.1l1.1 .2l.9 .8l.7 .8M74.5 131.8l-1.9 .1l-1.4 .7l-1.5 .2M87.2 132.7l-.7 1.1l-.5 1.9l-.4 1.3M77.5 118.9l0 1.2l-.3 1.8l1.2 1.2M67.2 155.8l1.5-1.1l1.4-.8l1.4 .3M84.9 119.2l1.5-.5l-.4-1.4l-.9-.8M69 112.7l-.3 1.3l.8 .9l1.3-.2M71.7 108l-1.9 .4l.2 1.4l1.2-.1M65.1 149.8l-.4-1.2l-.9-.5l-1.6 1M40.3 130.4l-1 1.1l1.8 .9M53.7 133.2l1.7 .7l.5-1.3l-1.1-1.4M77.9 119.9l.7-.9l-.8-1.7l.4-1.8M50.5 123.2l1.4 .1l.7-.9l.3-1.2M78.4 158.6l-1.3-1.1l.9-1.4l1.1 0M49.6 130.9l.9 1.1l-.2 1.3l-1.7 .1M96.9 142.2l.3 1.2l-1.2 .6l-.6 1M61.2 105.5l-1.2 .6l-.8 1.3l-1.2-.6M52.5 101.9l.7 .9l-1.4 1.1l-1.3 1.2M80.3 127.3l-1.4 1l-1.4 .1l.1 1.1M70.4 151.9l.5 1.6l1.9-.5l.8-1M66.3 134.9l1.3 1.4l-.3 1.2l-1.1 .5M87.8 136.1l-1.5 .3l-1-.9l-.6-1M59.4 151.8l.3 1.7l1.3 .3l.8-.5M64.2 128.7l1.5-.3l1.3-.6l1.2-.2M98.8 133.7l-1.7 .5l-1.1-.9M62.1 135.1l-1.2 1.5l-1.6-.6l-1.5 1.3M70.4 121.6l1.2 1.4l1.6 .3l.8-1M60 156.1l-.2 1l.6-1.5M86.5 148.4l.8 1.2l1.4 0l.4 1.2M75.9 160.1l-1.2-1.4l-1.3 .5M53.4 119.1l.1 1.7l-1.4 .6l-1.2-.6M45.3 114.7l-.8 1.1l.1 1.1l.8 1.8M52.1 104l.6-.9l.9-.7M90.6 144.7l.3-1.4l-1.3-.8l-1 0M54 134.8l-.8 .8l-1.6 .4l-1 0M96.8 121l1.7 .7l1-1.1l.5-1.2M81.5 157.4l.2-1.3l-1.1-.6l.6-1.1M96.4 123.8l1.2-1.2l1.2 1.3l.9 .6M98.1 129.4l-.5-.9l-.8-1.3l1.3-1.2M88 133.5l1.6 .4l1.8-.1l.5 1.6M89.7 135.9l1.2 1.1l.2 1.8l-.6 1.1M71.5 95.9l1.2 .3M75.1 102.1l-.9-.6l.2-1.3l-.7-1.8M98.1 107.1l-1.7-.4l-1.1-.6l-1.7-.6M62.9 109.4l-.4 1.2l.6 1.1l.2 1.6M86.6 102l-1.5 .9l.4 1.4l-.9 1.1M93 100.5l.5 1.2M98.7 137l-1.8 .3l-.5 1.8l.1 1.4M79.1 152.5l-1.4-1l-1-1.7l-1.7-.1M94.9 146.1l.7 1l1.8-.9l1.2-1.1M49 130.7l.3 1.7l.6 1.5l-1.1 1.6M48.5 129.2l.3 1.4l.4 1.7l-.2 1.4M88.3 117.1l-1.5 1.3l-1.7-.6l-1.3-.2M72.3 161.8l.5 .9M76.3 98.9l1.5-.6l1.2-.9M74.2 149.9l1.4-.9l1.9 0l0 1.1M65.5 113.5l-.7 1.8l-.4 1.1l-1.1 .4M64.4 120l.7 1.5l-.2 1.5l-1.5 1.1M96.4 151.6l1.1 .3l-.2 1.1l.2 1.1M95.7 104l1.7 .8l.2 1.5l-.7 1.3M71.1 146.8l.5 1.1l.6 1.2l.6 .9M69.6 129.2l-.6-1.1l-1.4-.2l-1.7 .7M50.4 122.4l1 .3l.6 1.7l-.6 1.9M89.8 126.6l1.6-.7l.9 1.5l.1 1.8M54.8 148.2l-1.1-.3l-1.1-.8M76.6 156l-1.6-.1l-1.7-.2l-.2 1.5M74.5 130l-.9-.9l-1.2 .1l-.8 1.6M89.3 135.3l1.3-1.2l.8-.7l1 .2M75.6 149l-.9-.6l-1.6 .1l-1.3 .6M71.2 137.9l1.2 .1l.4-1.3l1-1.2M78.6 164.5l1.2-1.1l.6-.9l1.1-.6M77.3 152.5l.8 1.4l-1.1 1.6l1.2 .8M95.2 116.2l1 .7l1.8-.4l1.9-.1M47.1 134.2l1.5-1.2l.6-1l.8-1.6M90.6 103.1l1.7-.6l1.2 .2l1.1-.6M63.6 142.7l.6 .8l.6 1.3l-.9 .9M48 125.9l-1.9-.2l-1.7-.3l-1.1-.3M44.7 119.4l1.3-.5l-.5-1.4l-.6-1.3M56.2 117.2l1 1.6l-.9 1.2l-.8 1.2M80.9 106.7l0 1.6l.9 1l-.1 1.9M46.8 133.3l-.3-1.5l.3-1.1l-.5-.9M85.9 107l-.9-1.6l.9-1.1l1.5 .8M102.2 148.1l-1.6 1.1l.7 1.1M74.3 144.4l1.8-.4l.4-1.7l-1.2-1.1M72.3 119.6l-1 0l-.2-1.4l.4-1.6M56.1 116.5l-1-.9l-1.1 .2l-1.1-.5M42.3 123.3l.9 1.4l-.5 .9M93.9 127.6l1-1.5l-1.3-1.1l-.3-1M79.3 117.1l-.5 1.9l-1.8 .6l-.6-.8M49.1 135.2l-.8-1.6l-1.2 .4l-1.4-1.2M91.6 135.1l1.8 .1l1.1 .2l1.4 1.4M79.3 125.4l-1.3 .5l-.6 1.3l-1.6-.6M64.5 142.8l-.6-1.2l.7-1.5l1.4 .2M89.6 102.6l-1.4-.1l-1.5 .1l-1.3-.3M83 114.7l1.9-.4l1.1 .5l1.1-.9M77.7 112.6l.2 1.6l1.3 1.5l1.6 .6M73.3 104.5l1.2-.2l1.8 .6l1.3-.8M63.3 148.2l1.2 1.4l-.9 1.3l-.7 1.2M78.6 151.4l.7 .7l.2 1.9l-.6 1.6M88.7 144.4l.3-1.9l-1-.3l-.2-1.1M73.9 143.1l-1.3 .7l-1 .1l-.7-.9M56.8 107l.3-1.4l1.8-.1l.4 1.1M48.7 143.8l1.2 .2M90.9 141.1l1.8 .2l1.7-.3l1 0M96 115.1l-.8-.7l-.7-1.3l.8-.7M64 134.6l.3 1.1l1.6 .7l1 .5M69.8 139.1l-1.3-.2l-1.1-1.3l1.3-1.4M61.5 129.4l-1.4-.9l.8-1.5l1.4-1M95.4 138.2l-.8-1.4l-1 .1l-.9 1.3M45.9 131.9l.2-1l.7-1.8l1.8 .2M101.8 143.8l.5 1.1l-1.4 .9l-.7 .8M70.9 126.2l-.7-1.6l.5-.9l1.6 .6M60.4 131.8l1.9-.4l1.4 1.2l-.4 1.7M71.6 107.7l-.8-.7l-1.5 .3l.2 1.6M66.9 156.2l-.8 .8l-1.5-.3l-.8-1.3M67.8 128l1-.7l-.4-1.1l-1.1-1.1M86.5 145l-1.5 1.1l-.2 1.9l1.6 1.1M46.8 126.4l1 .2l.9-.8l0-1.2M64.7 143.9l-1.2-1.2l-.2-1l0-1.6M97.7 133.9l-1-.4l-1-1.4l-1.4-.5M68.9 124.3l-.9-.5l-.1-1.1l-1.7-.6M51.5 121.1l.9 .4l1.3-1.4l.9-1.6M59.4 132.7l-.1-1.1l-1.2-.4l-1.5 1.2M59.6 136.1l-.3-1.6l1.3-1.1l1.1 .5M98.8 154.1l1.3-.8M95.1 151.5l-1.8 .7l-1.3-.3l-1 .9M65.6 153.3l1.8 .5l1-.6l1.4 1M91.2 154.5l-1.3 1.5l.4 1l1.3 1.2M53.4 144.4l-1.7-.6l-1.4 .4M92.9 131.8l1.6 .3l.8 1.3l1.2-.3M90.8 124.7l.2-1.6l-.5-1.1l-1.1 .4M48.9 129.8l.8 .7l.8 1.3l-1.1 .9M51.5 134.6l1.3 .3l1.7 .8l1.3 .4M46.4 109.9l1.8 .6l1.4-.7M99.8 142.1l-2-.1l-.6-1.2l.2-1.4M65.5 123.1l1.4-.3l1.4 1.1l-.2 1.9M87 128.9l1.5 .4l1.6-.1l.9 1.5M66.8 111.1l1.8-.6l1.4 .3l1.1-1.2" stroke="#b4b400" stroke-width="0.6" fill="none" stroke-linejoin="round" />
<path d="M85.5 116.6h0M87.8 115h0M61.7 153.1h0M72.6 131.9h0M71.2 132.6h0M69.7 132.8h0M86.5 133.8h0M85.6 137h0M77.5 120.1h0M78.4 123.1h0M68.7 154.7h0M68.7 114h0M70.8 114.7h0M71.2 109.7h0M64.7 148.6h0M39.3 131.5h0M78.6 119h0M52.6 122.4h0M77.1 157.5h0M79.1 156.1h0M97.2 143.4h0M96 144h0M95.4 145h0M58 106.8h0M53.2 102.8h0M51.8 103.9h0M77.5 128.4h0M77.6 129.5h0M86.3 136.4h0M84.7 134.5h0M59.7 153.5h0M61.8 153.3h0M65.7 128.4h0M68.2 127.6h0M97.1 134.2h0M96 133.3h0M71.6 123h0M59.8 157.1h0M60.4 155.6h0M87.3 149.6h0M88.7 149.6h0M73.4 159.2h0M53.5 120.8h0M52.1 121.4h0M50.9 120.8h0M44.6 116.9h0M45.4 118.7h0M52.7 103.1h0M53.6 102.4h0M89.6 142.5h0M88.6 142.5h0M50.6 136h0M98.5 121.7h0M81.7 156.1h0M81.2 154.4h0M97.6 122.6h0M98.8 123.9h0M99.7 124.5h0M97.6 128.5h0M89.6 133.9h0M91.4 133.8h0M91.1 138.8h0M90.5 139.9h0M96.4 106.7h0M95.3 106.1h0M62.5 110.6h0M84.6 105.4h0M96.9 137.3h0M96.5 140.5h0M77.7 151.5h0M95.6 147.1h0M97.4 146.2h0M98.6 145.1h0M49.3 132.4h0M49.2 132.3h0M72.8 162.7h0M77.8 98.3h0M65.1 121.5h0M63.4 124.1h0M97.3 153h0M97.6 106.3h0M96.9 107.6h0M71.6 147.9h0M72.2 149.1h0M72.8 150h0M67.6 127.9h0M65.9 128.6h0M51.4 122.7h0M51.4 126.3h0M92.3 127.4h0M75 155.9h0M73.1 157.2h0M73.6 129.1h0M71.6 130.8h0M91.4 133.4h0M74.7 148.4h0M73.1 148.5h0M73.8 135.5h0M98 116.5h0M50 130.4h0M93.5 102.7h0M43.3 125.1h0M46 118.9h0M44.9 116.2h0M57.2 118.8h0M80.9 108.3h0M46.8 130.7h0M46.3 129.8h0M85.9 104.3h0M87.4 105.1h0M100.6 149.2h0M101.3 150.3h0M76.1 144h0M75.3 141.2h0M71.3 119.6h0M71.1 118.2h0M55.1 115.6h0M54 115.8h0M52.9 115.3h0M94.9 126.1h0M78.8 119h0M77 119.6h0M76.4 118.8h0M48.3 133.6h0M63.9 141.6h0M64.6 140.1h0M66 140.3h0M88.2 102.5h0M86 114.8h0M79.2 115.7h0M80.8 116.3h0M74.5 104.3h0M62.9 152.1h0M89 142.5h0M72.6 143.8h0M70.9 143h0M58.9 105.5h0M49.9 144h0M94.4 141h0M95.4 141h0M95.2 114.4h0M95.3 112.4h0M65.9 136.4h0M68.5 138.9h0M68.7 136.2h0M60.9 127h0M62.3 126h0M94.6 136.8h0M93.6 136.9h0M92.7 138.2h0M102.3 144.9h0M100.2 146.6h0M70.7 123.7h0M63.3 134.3h0M69.3 107.3h0M69.5 108.9h0M66.1 157h0M64.6 156.7h0M63.8 155.4h0M68.8 127.3h0M67.3 125.1h0M86.4 149.1h0M47.8 126.6h0M48.7 124.6h0M63.5 142.7h0M63.3 141.7h0M63.3 140.1h0M96.7 133.5h0M94.3 131.6h0M52.4 121.5h0M54.6 118.5h0M59.3 131.6h0M60.6 133.4h0M93.3 152.2h0M92 151.9h0M91 152.8h0M67.4 153.8h0M68.4 153.2h0M89.9 156h0M90.3 157h0M91.6 158.2h0M50.3 144.2h0M94.5 132.1h0M91 123.1h0M90.5 122h0M55.8 136.1h0M97.8 142h0M97.2 140.8h0M66.9 122.8h0M68.3 123.9h0M68.1 125.8h0M90.1 129.2h0M91 130.7h0M70 110.8h0" stroke="#b4b400" stroke-width="1.30" stroke-linecap="round" fill="none"/>
<path d="M122.5 151.8l1.1-.4l.1-1.7l-1.4-.7M107.9 122.4l-1-.7l-1-1.2l.5-1.3M158.1 149l-1.2 1.3l-1.1 .4l-.8 1M141.5 164.4l.6 1.9l.9 .7l1.2 1.2M138.1 152.7l1.8 .5l-.3 1.2l-1.4 .5M135.1 104.8l-.5 1.8M130.4 160.4l.4 1.6l1.1-.2l1.4 .9M121.1 118.4l1.1-.4l-.3-1.6l-1.7-.7M106.8 132.8l-.5-1.8l-.3-1.7l.7-1.3M144.8 143.1l-.6 .9l.7 1.2l1.2 1.2M148.1 163.7l-1.2 .2l-1.1 .8M121.8 111.5l1.1 1.3l-.2 1.1l-.8 1.3M129.2 119.7l.2 1l-.8 1l-1.1 .9M110.5 145.2l.9-1l1-.7l1.7-.9M131.9 166.2l0 1.7l1.1 .9l1.7-.2M111.6 135.8l.4-1l-1.2-.7l-1.1-.4M153.2 131.5l-1.7 .3l-1.1-1.3l-1.1 .2M122.2 129.7l1.8 .4l.8 1.2l-.7 1.6M125.1 141.2l.1-1.1l1.8-.6l.9-.8M116.5 117.6l-1.3-.2l-1 .8l.3 1.7M151.5 130.9l1.2-1.3l.9-1l.7-.8M134.2 159.2l.2 1.6l-1.4 .7l-1.2-.4M152 144.3l-.3-1.9l-1.6-.1l0-1.5M103.7 132.6l.6 1l1.2 .7l0 1.3M148.3 144.1l-1.8-.3l-.2-1.6l-1-.4M156.6 123.9l-.7 .8l-1.1-.2M131.6 108.4l.5-1l1.7 0l1.1-.6M119.9 129.3l1-.6l-.8-1.3l-.4-1.1M161.6 149.8M146.7 126.1l-1.9 .4l-1.3 .4l-.6-1.3M137.6 143.8l.6-1.3l1-.3l1.9 .7M113.9 132.6l.3 1.4l-1.1 .4l-1.3 0M127.9 141.2l-.6-1.3l.8-1.8l-.2-1.9M129.5 120.3l-.7 1.6l0 1.9l-.3 1.1M134.9 102.2M133.5 168.3l.4 1.6l1.2-1.2M111.7 113.4l-.2 1.6l-1.6 .4l-1.1 0M118.8 161l-1.1 .7M130.4 156.8l1.1 1.1l-.5 .9l-1.2 .7M158.1 154.1l.8 .7l-.5-1.1M153.5 141.4l.8-.6l.8-1.5l1.2-.3M125.6 144l.4-1.5l.1-1.6l1.2-.6M147.1 127.6l-1 .4l-.8 1.1l-.8 1.4M155.1 156.7l1.2 .1l-1.2-.3M131.3 116.1l1.7-.7l1.7 .6l1.6 .7M120.2 111.5l1.6 .4l.6 1.3l.5 1.8M143.5 144.8l1.8-.1l1.9-.1l1.1 1M152 120l-1.1 .6l.7 1.3l-.5 1.6M130.1 106.2l-2-.4l-1.1-1.4l-1.9-.4M106.9 124.5l-.1-1l-1.7-.3l-1.9 .5M127.3 116.7l-.3 1.1l-1.7-.4l-.7 .9M113.2 147.7l.8-1.3l.8-1.7l-.1-1.9M123.6 151.9l0-1.1l1.3-1l1.1 1.2M131 110.1l-1.4 .3l-.9-1.5l-1.1-1M150.4 146.4l-.6-1l-.6-1.1l-.9-.6M133.6 169.7l-.5-1.5l1.2-.6l1.9-.3M133.5 121.2l1.8 .3l.7-1.8l1.6-.2M146 114.7l-.8 1.5l-1.4-.7l-1.1 1M126.6 144l-1.1-1.2l-1.2 1l-1.1-.6M161.5 129l-1.9-.4M157.3 129.9l-.3 1.3l.1 2l-.4 1.4M147.7 126.5l-1.7-.7l-1.1 .5l-1 1.3M108.5 107.5l0 1.5M116.1 140.8l-.1-1.8l-.9-.6l-1.3-.8M129.3 104.8l1.2 1.3l-.4 .9l.7 .9M130.8 130.6l.2-1.3l.8-1.7l-1.2-.6M130.2 156l-.5-1.6l.3-1.2l1.6-.4M125.2 116.1l-.5 1.7l.9 .5l1.1-1.2M130.4 129.2l.7 .9l1 .9l-.6 1.4M131.2 107.5l-1.1-.7l-.9-1l-1.8 .3M142.7 120.7l1.1 .2l1 1.6l1.3 1.4M133.5 156.8l-.3-1.6l.5-1.4l-.2-1.3M128.4 171.6l-1.1-.3l-.3-1.8l-.7-1.6M144.2 152.7l.5 1.7l-.8 .9l-1.5-.2M109.6 139.2l-1.7 .5l-.4 1.9l1.4 1.1M126.1 135.5l.1-1.9l1.2-1.2l.3-1.7M129.2 101.3l-.9 1.4l-1 1.1M116.7 148.1l.9-.6l1.3-.4l.3-1.3M116.5 128l.7-.9l1.4 .9l1.4 .5M127.8 160.6l-1.3 0l-1.5-.1l-1.2 .9M125 110.6l-1.7 .4l-1.6-.3l-1 1.1M121.5 146.9l1.2 1l1 1.4l-.5 1.1M149.7 119.3l-1.1-1l-1-.2l-1.5 .3M129.2 141.3l1.3 .4l-.1 1.7l-.3 1.7M149.9 118.7l-.3 1.3l-.1 1l.7 1.5M160.7 141.7l.2 1l-.8-1.5M106.8 115.5l-1.2 .3l-.7-.8l-1.6-.1M130.3 157l.5-1.1l-1-.7l.5-1.8M144.5 166.9l-1.3-1l-1.4-.8l-.8-.7M153.1 130.3l1 .6l1.4-.3l.4 1.1M133.6 157.4l1.7 .1l.9-1.6l-1.2-1.1M154.7 126.8l1.3 0l1.4 .3l1.1-1.5M116.2 151.3l.6-1l1.7-.4l1-.1M116.9 142.3l-1-1.3l.9-1.5l1.1 .5M161.1 122.6M158.7 136.4l-1.6 1.1l.4 1.2l-.4 1.2M134.4 154.6l-.5-1l-.3-1.8l1.5-.7M158.8 150.9l-1.3 .1l-1.5-.1l-.9 .8M138.5 123.8l-.7 1.1l-1.2-.7l-2-.4M147.8 146.9l.4-1.2l1.6-.4l1.8-.2M137.9 136.7l-.4 1.3l-1.8 0l-.3-1M105.4 129.2l-1 .4l-1.3 .2l-.4 1.1M154.2 127l-.8-.8l-1.8-.7l-1.2 .6M142.8 141.1l-1.4-.3l-1.5 .6l-.4 1.5M157.1 150.3l1 1.7l.1 1.8l-.8 1.3M154.9 134l1.2-1.3l1.1-.5l-.5-1.8M124.8 141.4l1.5 .4l-.1 1.3l-1.7 .4M153.8 151.6l.2-1.2l1.6 0l.7 .8M110.1 121.6l-.5 1l-.3 1.3l-1.5 .2M119.4 115.3l1.7-.1l.4 1.1l-.2 1.2M125.1 156.4l-1.3 .2l-.4-1.7l.7-.9M137.6 152.9l-1.1 .5l-1.2 .9l-1.8 .6M137.9 136.7l-1.4-1.3l-1.1 0l-.2-1.2M106.5 108.5l1.2 1l-.7 1.2l-.2 1.3M133 165.6l-.1 1.6l.5 1.8l.9 .7M124.8 174M118.3 110.8l1.7-1l1.2-.6l1 .4M123.6 118.2l1.7-.4l.7-1.3l1.1-.3M155 144.8l-.8-1l-1.7-.9l-1.5-.1M125.9 149.8l-.5-1.1l-.2-1.6l-.8-1.1M155.1 154l1.6 .7l1.3-1.4l1.4-.3M118.1 150.4l-1.7-.9l-1.2-.6l-1.8 .6M147.8 119.3l-.8-.7l-.4-1.2l-.5-1.6M116.3 104.7l.4 1.8l1.3-1.4M134.2 104.5l-.5-.9l-1.1-.7l.6-1.6M152.5 118.1l-.5-1.5M146.9 159.5l.9 1l.7 .8M131.1 136.2l1.6 0l.5-1.2l1.2-.7M146.7 131.9l.2 1.2l1 1.2l.7 1.2M146.9 146l.8-.9l-.4-1.5l-.9-.9M160.7 147.2l-.7-1.2l-1 .1l-.4 1.4M115.3 115.3l-.2-1.5l-1.2-1l-1.9-.5M143.9 117.7l.2-1.2l1.2-.8M108.1 139.5l1-1l1.6 0l1.2-.8M131.8 167.1l1.1 1.4l-.5 1.5l-1.2 1.1M135.1 144.5l-.5-1.4l1.3-1.5l-.9-1.5M129.6 159.9l.3 1.9l1.3 1.1l1 1.5M130.8 169.4l-.9 .7l-1.3 1.3l-.6 1.5M138 116.4l-1.3-.3l-1.5-.1l-.4 1.5M116.4 164.9M129.4 112.6l1.8 .4l.4 1.4l-1.9 .5M135.1 160.6l-1.4-.1l-.8-1.2l.7-.8M120.3 159.3l1.4 .4l.5-1.4l.9-.5M116.5 137.1l-.8-1.7l-1.8 .5l-.3 1.2M121.4 159l1.7 .5l.8 1.7l-.8 1.4M102.3 124.1l.5-1l.4-1.4l-.6-1.1M130.4 169.4l1-.9l1.2 1l1.8 .8M141.6 132.8l.5 1.7l-.2 1.6l.4 1.2M146.9 155.1l1.7 .3l1.9-.2l.4 1.2M134.5 149.4l.3-1.4l-1.3-.8l-1.2 1.2M144.2 162.2l-1 .4l-1.5-.3l-1.3-1.2M151.6 118.4l.7 1.3M128.3 160.7l1.5-.1l.3 1.6l1.3 .3M106.7 117l-1.6-.9l-1.4 .6l-.8-1.4M131.3 169.2l1 0l1.1-1.3l.6-.8M118.9 148.6l.2 1.4l-.1 1.3l1.3 .5M154 123.6l-1.3 .3l.2 1.4l-.8 .7M128.3 142.2l1.2 .5l1.6 .1l1.5-.1M131.2 173l-.6-1.2l.1-1.1l-.6-1.4M106.7 130.9l-.1 1.2l-1.2 .1l-.6-1.6M124 102.5l1.8-.6M138.2 150l-1.8 .4l-.7-1.2l-1.1-.8M128.5 147.1l.4-1.1l-1-.4l-.8 .7M128.2 111.9l-1.8-.7l.4-1.4l-1.8-.7M108 131.9l.6-1.7l1.9 .5l1.6 .5M134.9 136l-1.4-1.1l-1.2-.3l-1.8-.5M137 110l-1.1-1.7l-.6-1.5l-1.7-.5M126.5 141.3l1.3 1.4l-.5 1.9l.6 1.5M132.3 165l.3-1.6l-.6-1.7l-1.3-.4M152 153.5l-.6-1.2l0-1.9l.7-1.6M153.5 156.6l-1.5-.7l.4-1.2l1.3-1.3M133.7 150l1.1 1.4l1 1.2l.5 1M146.6 149.9l1.5 1.3l1-.7l.3-1.3M142.6 126.8l.8-1.1l0-1.3l-1.7-.3M140.6 152.7l.4-1.5l-.5-1.2l1-1M122 159.3l-1.3 1.4l-.6 1.6M159.5 156.4l.1-1.7l1.1-1.3M135.9 163.7l1.2 .1l.1-1.8l1.2-.1M153.2 130l-.4-1.2l-1.6-.2l-1.3 1.3M152.1 142.4l.1 1.7l-.4 1.6l.4 1.4M132.1 129.6l-.8 1.7l1 1.7l1.2 0M140.3 114.6l-1.1 1.1l.9 1.4l.8 .6M130.6 104.9l1.4 .1l1.2-1l1 0M137.7 120.5l1 .3l.6-1.1l-.5-1.5M152.1 142l.7-1l1.2-.7l1.4-.3M124.8 131.1l-.7-1.5l-.6-1.5l-1.4-.7M119.1 160.8l1.2 1.2l1.7 .9l1.1-1.2M132.5 131l1.6-.3l1.3-1.1l1.2 .4M117.6 132.4l.8 1.5l-.6 1.6l-1.3 .7M115.6 156.5l.2-1l-1.1-.5M157 150.5l-1.1-1l-1.6-1.1l0-1.1M141.6 126.3l-.3 1.5l.8 .5l1.2-1M125.4 116.9l1.2-.5l1.3-.7l1.6 .1M140.8 119.8l.9 .7l1.2-.1l.5 1.8M128.9 150.4l-1.3-.5l-1.2 1l-.6 1.3M160.4 149.3l-1.7 0l-.9-.8M150.4 167.7M116.3 132.4l-1.4 1l-1.7 .1l.1 1.9M118.7 163.3l-1-1.1l-.7 1.1M106 136.3l1 1.1l-1.1 1.5l-.1 1.3M154.1 139.8l-1.1 .8l-1.7 .3l-.7 1.3M148 114.4l-1.6 .5l-1-1.5M132 117.4l-1.3-1.5l-.9-1.1l1.1-.9M154.4 125.2l.4-1.2l-.8-1l.4-1.5M107.1 124l.7-1.1l1.5 .7l.3 1.2M139.1 172.5l-1.1 .9l.4 1.8M159.9 138.4l1.2-.7l-.4-1.4l.8-1M125.4 166.6l-.3 1.1l1.2 .4l.2 1M150.1 139.1l1-.8l1.2-.2l.3 1.1M146.5 154.8l-1.3-1.1l-.7-1.1l-1.7-.5M150.6 160.4l-.5-1l-1.4-.4l-1.8-.1M110.4 128.2l-.9 1.2l1.1 1l1.1-.1M141.6 120.6l-1.7 .4l-1.8-.7l-1.7 0M122.1 163.3l1.4-1.3l-.9-1.2l-1.4 1M116.9 149.8l-1.5 0l-.2 1.7l-1.6 .9M121.3 147l.4 1.5l1.3 .4l.7 1M137.3 107.1l-1.5 .4l-.8-.8l-1.1-.9M102.9 136.5l-1.4-1.1l.9 .7M158.9 155.1l-1 1.1l-1.3-.9M104.4 130.2l-.3-1.8l1.3-.2l.1-1.1M143.5 137l.5 1.8l0 2l1.4 1.1M128.5 157.7l1-1.5l1.2-.3l.7-.8M105.3 138.2l0-1.3l-1.2-1.3l.7-1.8M134.6 156.1l.4-1.1l.2-1.9l.7-1.2M145.2 150.8l1.5-.3l1.3-.1l.7-.8M149.5 124.6l-.9-.6l1-1.7l.4-1.7M104.9 129.6l.5 1.9l-1 1.6l1.2 1.5M136.3 145.9l1.1 .7l1 .1l.4 .9M147.1 126l-.3-1.2l0-1.7l-.7-1.6M154.4 151.7l-.6 1.3l-1.3 .8l-.8 1.6M149.4 122.5l-1.2-.5l-1.3 .3l-.6 .8M154 157.8l1.8 0M103.7 131.2l.3-1.2l1.4-1.4l-.5-1.4M129.2 145.7l1.3-1l1 1.3l1.5-1.2M144.8 122.5l1.3 .2l1.4 0l1.7-.2M106.9 129.5l.5 1.2l.3 1.2l1.8-.1M122.6 159.9l1.2-1.3l.2-1l1.5-.1M106.7 145.8l1.5 1.1l.9-.6l1.2 0M143.6 143.3l1.8 .1l.2 1.3l1.5 1.2M140.3 149.5l-.1 1.8l-1.5 1l.7 1.1M154.6 124.2l-1.7 .7l-1.1 .4l-.7-1.4M118.8 124.7l-1.3 1.2l-.4 1.8l-1.9 .7M122.5 145.5l-1 .9l-.7 1.3l-1.6 .2M111.8 122.7l.6 1.7l1.3 .4l1.1-1.1M129.3 143.1l.8-1.4l1.6 .8l-.4 1M120.8 145.2l-.9 1.1l.6 1.3l1.2 .8M130.5 126.7l-.6 1.7l-.3 1l-1.7 .1M142.5 127.2l-1.8-.3l-.8-1.5l-1.7-.7M113.1 118.3l-.2 1.8l-.4 1l-.1 1M131.7 146.9l.8-1.4l-.5-1.6l.5-1.4M126.9 141.6l.8-1.8l.7-1.6l1.2-1.5M112.2 141.1l-1.9 0l-1 .3l-1.4-.5M152.6 121.6l-.3 1.8M103.5 116l-1.3-.7M123.7 132.1l-.9-.7l-2-.2l-1 1.4M126 160.6l1.1-.9l.8-1l.8-1.5M141.6 125.8l-.1-1.4l.1-1.8l-1.6-.9M111.7 137.7l1.8-.4l1.2-1.2l.9-1.7M147.3 151.1l1.1-.7l1.1-.7l1.8-.7M105.8 119.9l.6 1.7l-.7 1l.6 1.9M112.9 113.7l-1-.1l-1-.4l-1.4 .3M133.5 120.1l-1.1 1.3l-.6 1.6l.4 2M104.4 144.9l-1.7 .7M110.1 123.7l-.2-1.2l1.6-.9l.6-1.4M118.8 113.2l-.1 1.1l-1.4 .5l-1.2 1.1M148.9 155.5l.8 1.2l-.7 1.5l-.7 .9M137.2 137.6l-.2-1.5l1.5-.3l1.6-1.1M135.6 156.8l-.2 1.8l-1.3 1.3l.8 1.3M155.2 148.5l-1.3 1.2l-.5 1.4l.6 1.1M131.8 161.8l1.3-.8l-.1-1.5l.5-1.6M119.9 108.6l-.3-1.1l1-1l-.1-1.6M134.5 115.5l1.1-1.2l-.6-1.5l.9-.6M155.8 124.8l-1.2-.2l-1-1.2l-.7-1.4M118.4 124.4l-.9 1.4l-.9 .6l.8 1.8M120.9 126.2l-.5-1.3l-.1-2l.2-1.9M112.7 133l.8-1.3l.1-1.1l-1.3-1.3M154 153.9l-.1-1.2l-.3-1l-.4-1.2M148.1 134.2l.5-1.5l-1-.5l.6-1.2M125.3 156.2l1.8-.6l.6 1.4l.6 .9M156.2 129.8l-.9 .7l.6 .9l1.3-.4M107.5 133.8l-.2-2l-.5-1.4l-1-.8M126.1 139l-.9-1.1l-.5-1.4l-1-.4M113.2 133.2l-.9 .9l-.8 1.6l.2 1.8M152.2 120.5l-1.2-1.3M116.7 149.2l-1.7 1l-1.3-.2M106.3 109.7M144.2 145.4l-1.6-.4l-1 .2l-1-.7M123.8 121.8l-.8-.8l.4-1.5l-1.1-.4M108.7 142.1l.8 .9l.9 1.2l1.5-1.2M128.9 159.4l-.9-1.3l-1.2 .1l-1.2 .2M131.4 129.8l-1.4-1.3l-1.1-.5l-.8 .6M156.3 125.8l1.8-.6l-.2 1.9M126.7 148.1l1.7 .8l.9 .6l-.7 1.2M146.6 164.1l-1.5 .9l0 1.1l-1.1 .9M156.2 149.7l-1.1 1.2l.9 1.1l1.4 .8M121.9 117.1l-1.5-.3l-1.3 1.4l.6 1.1M126.9 151.5l-.1-1.5l-1.6-.8l-1 1.3M128.2 166.4l-.2 1.3l-1.3-.2l-1 .1M110.8 136.5l-1.2-.6l-1.2 .9l-.8 1.8M154 132.3l-.8-1.3l-.6-.9l-.9-1M136.4 119.6l1.8 .6l-.2 1.5l-.8 .7M124 115.7l-1.2 .4l-2 0l-1.6-.6M134.7 165.5l-.4-1l-1.2-.5l-1.8 .1M128.8 144.1l.9 .6l-.3 1.6l1.2 .9M120.8 118.1l.6 1.5l-1.3 1.1l-1 1.4M145.2 155.5l1.1 .4l-.4 1.3l-1.8 .4M140.1 154.1l-.1-1.6l1.6-.5l.7 1.4M123.1 113.9l-.1-1.4l.3-1.1l.6-1.1M142.2 138.4l0 1.6l.2 1.8l-.8 1.2M118.9 142.7l.9-.8l1.1 .5l1.3-1.4M149.9 121.1l-1.1-.7l.7-1.6M147.7 164.3l1.2 1.4M132.7 137.2l1-.7l1.2-.2l1.2 1.3M160.7 129.7l-.4-1.1l-.3 1M130.3 143.2l-1.3-1.1l-1.1-.3l.2-1.5M107.4 123.1l1.1 1.3l1.7-.8l1.2 .3M154.6 135.3l-.2-1.2l1.4-1.3l1.2-.9M146.3 161.4l-.3-1.5l-1.2-.2l.1-1.9M119.2 135.7l-2-.2l0-1l-.2-1.1M126 122.9l1.3 .3l1.7 .4l.7-.9M155.3 151.6l1-.4l.3-1.1l1.7-.2M129.5 160.4l1.6-.1l.5-1.2l-1-.6M158.6 157.1l1 .4M129.9 145.7l.5-1.3l.8-.9l1.1-.4M151.1 155.7l2 .1l.8-.8l.9-.9M127.5 152.1l.8 1.4l-1.3 .8l-.8 1.3M129.9 140.5l.5 1l.9 1l.8 .8M114.2 134.8l.9 1.1l.3 1.4l1.3 .8M144.2 141.3l1.3 1.3l1.6 1.1l1.8-.8M127.7 146.8l.9-1.1l.6-.8l-.6-1.7M141.3 165.2l-.8-1.5l-.9-1.1l-1.8-.8M156.7 150.1l.8-.8l-1.2-1.4l-.8-.8M148.8 133.5l-1.2 .6l-1.1 .2l-.7-1.6M155.1 147.7l1.6 .5l.7-1.5l1.2-.9M134.8 143l-.9 .9l-1.9 .3l-.4-1.7M125.4 118.8l-.9-1.7l.5-1l0-1.7M101.1 121.2l.7 1.2l.6-1M124 138.4l-.8 1.8l-1.7 .1l0 1.3M158.5 146.2l-1.5-.9l.5-1.2l.2-1.9M134 155.7l1-1l-.7-1.1l-1.5-.1M143.7 169.3l.7-1.2l-.1-1.5l.6-1.6M138.9 119l1-1.4l1.1-1.3l1.2-.1M136.5 144.8l-1.1-1.5l-1.7 .9l-1.2-.1M118.6 107.4l-1.5 .7l-1.2 1.1l0 1.2M131.1 167.8l-1.9 .2l-1.4-.6l-1.2 1M150.9 120.9l-.6 .8l.2 1.3M130.1 102.1l.1 1.3l.7 1.5l.2 1.1M116.6 117.5l-1.8-.5l-1.3-1l-.8-1.7M146.7 119.2l.5-1.5l-.6-1.9M134.3 159.4l.3-1.5l.5-1.9l1.5-.9M129 125.5l.9 .4l.9-.9l1.3 .6M141.8 132l-1-1.6l-1.1-.4l-1 1M116.6 114l-.6-1.6l-1.6-.2l-.3 1.8M105.8 115l1.3 1.4l1.7 .7l-.4 1.3M117.9 146.3l-1.4-.8l-.5-1.6l-.5-1.8M124.4 147.2l.1-1.4l1.4-.6l-.4-1M127.9 125l-1.8 .7l-.6 1.1l-.7 .9M122 110.7l.1 1.6l-1.4 .9l.2 1.4M128.8 135.4l.8 .7l-.9 1.2l-1.9-.4M140.1 137.6l1 .8l1.2-.3l1.5-1.1M123.4 114.4l1.3-.1l1 .4l-.2 1.4M111.7 141.4l-.6-1.6l-1.7 0l-1.4 .6M123.4 110.5l1.4-.9l-.8-1.6l-.9-1.2M133.5 172.3l-.4 .9M154.7 140.2l.1 1.1l-1.2 .5l-1.1-1.6M132.2 117.1l1.7 .3l1.1-1.6l1.6-.4M151.9 132.7l.8-.8l.3-1.6l1.5-.3M140 116.3l-1.6 0l-1.3 1.1l-1.5-.2M125.5 161.8l.7 1.3l1.7 0l.9 1.7M106.3 121.8l.7-1.5l.7-1.2l-1.4-1M142.9 164.1l1-1.5l-.3-1.2l-1.2-1.1M140.2 150.3l.5-1l-.2-1.7l-1.1-.8M149.1 121l.7 1.7l-1.3 1.3l-1.2 1.6M112.5 110.1l-1-.5l-.7 1.4l1.3 1.2M125.5 133.6l-.4-1.5l-1-1.1l-1.4 .1M156 133.9l1.1-1.4l.9 .6l.9 .4M109.2 122l-.5 1.7l-1.6 .2l-.6 1M149 123.2l-1.6 1l-.9 1.4l-.4 1.4M139 150.4l1.1-.1l.9 .8l0 2M125.2 152.7l-.8 1l-1.9 .3l-1.5-.2M100.8 119.9l1 .4M110.9 137.7l.8-.6l1.3 .8l1-.2M130.4 118.6l-.8 1.7l-1.6-.7l-1.1 .6M135.6 118.8l-.7-1.7l-1.7 .7l-1.3 .2M122.4 139l-.7-1.6l-.8-1.1l-1.3-.7M128.9 132.5l-1.6 .6l.3 1.9l.4 1.3M137.2 145.6l-1.3 .7l-1.1 1l-.2 1.9M144.3 139.8l-1.2-.3l-1.6-.9l.6-1.8M107.8 125.8l-.9-.3l-1.2 .7l-.3 1.3M135.3 167.1l.1 1.9l-.9 .9l-1.3-1.4M107.3 121l-.1-1.1l-1.3-.5l-1.1 1.4M135 112.8l.6-1.8l1.6 .2l.5-1.2M136.8 170.5l-1.4-.3l-1.2 .2M147.1 141.1l.8-.8l.6-1l1.6 1M148.1 133.6l-1.6-.2l-1.5-.2l-1.4-.6M133.5 158.4l1.1 .5l1.1-.5l1.2 .2M119.5 121.1l.5-.9l1.5-.7l.9-.6M114.5 142.7l.6 1.3l-.4 1l.5 .9M125.6 168.2l-.2-1.7l-.5-.9l.8-1M125.4 133.8l-.8 1.7l-.3 1.4l-.3 1.9M144.1 123.9l1.1-.2l1.4-1.1l1.2-.8M143.2 151.6l1.2 .7l1.3 1.4l1.1 .5M118.2 125.6l-.6-1l-.9-1l-1.8-.5M137.7 139.3l-.3 1.4l-2 0l-.9-.4M130.2 99.8M133.4 105.8l-1 .1l-.7 .8l-.7 1.8M121.8 157.3l1.2-.2l.6-.9l1.9-.6M139.2 128.3l-1.1-1l.6-1.7l1.6-.2M142.2 155.6l-1.8-.5l-1.1 .7l-1 .1M132.8 137.5l-1.1-.5l-1.9-.1l-1.4 .5M131.4 120l1.1-1.1l-1-1.2l-1.5 1.1M101.4 135.1l-.2-1.4l1.5-1.1M151.8 125.2l1.4-.4l1 1M110.2 144.1l.3-1.6l1.3 0l1.5-.3M130.6 128.1l.7 1.1l1.3 1.3l1.8 .5M129.5 167.8l.8-1.1l1.9-.5l.2-1.6M130 148.4l-.9-.5l-1.2-.6l-1.4-.5M124.5 144l-1.8-.8l-1.5-.5l-.8 1.8M119.2 152.6l-1-.7l.1-1.5l1.8-.1M149.3 140.1l1.2-.6l1-1.7l1.2 .4M125 105.6l-1.5 .9l0 1.6l-1.3 1.5M116.4 126.3l1.4-1.2l-.1-1.7l-.7-1.7M131.9 160.7l.4 1.3l.6 1l-.9 1.7M128.2 106.4l1-.1l1.4 .6l.7 .9M125.3 115l.7-.9l1.9 .1l1-.3M106.9 114.5l-1.8 .3l-.6-1.6l-.5-1M146.1 167l-.1-1.9l-1.7-.4l-1 .9M127.5 129.5l.4-1.3l1.7 .2l1.2-1.6M136.9 105.6l-1 1.2l-.8 .6M130.5 158.4l.6-1.6l.7-.8l.8-.9M111.5 146l1.4-.6l1.4-.2l1.2-.3M150.9 132.3l1.3 .2l.5 1.6l1.6 .4M144.9 121.8l-.8-.8l.1-1.1l1.4 .1M129.8 114.3l1-1.6l-.7-1.6l-.6-1.3M150.3 125l.3 1.3l1.7 .7l1.8 .9M126.4 124.3l.5-1.2l1.5-.9l1.1-.2M128 110.2l-1.8 .4l-1-.8l-1.6 .8M127.7 132.1l-1.1 .3l-.5 .9l.8 .7M113.5 118.5l-.8 1.4l-1.5 1.2l-1.3 1.3M159.8 154l1.2-.2M113 151.3l1.4-.4l-.3-1.4l1.2-1.3M125.7 112.2l-1.1 .7l-1-.4l-.1-1.9M145.2 112.9l-.9-1M116.8 155.2l-.6-.9l-1.1 .6M140.3 161l-.3-1l1.5-.8l1-.6M108.6 118.6l1.2 .4l1.9-.6l.5-1.7M109.2 129.7l-1.6-.4l-.5-1.1l.8-.8M127.3 105.1l1-1.4l1.7 .6l.6 1.3M150.3 155.1l-1-1.6l.3-1.5l1.3 .1M144 131.3l.9 .7l-.6 1.6l-1.5 .9M142.6 150l-.4-1.2l-.8-1.1l-1.8 .6M140.7 120.6l-1.3-.7l-1.6 0l-1.5 .3M144 129l-.2 1.4l1.6 .4l1.2 1.3M114.2 145.1l-1.1 .8l-.8 1.5l-1.6 .1M110.5 148.2l.1-1.4l1.1-.3M123.8 130.9l-.8 .9l.5 1.1l-.5 1.9M128 134.1l1.9-.5l.3-1.2l1.4 .2M118.1 115.8l1.1 .5l1.3-.8l1.7 1M104.9 131.4l.9-1.5l.1-1.7l-1.4-.2M126.9 148.5l1.2 1.1l1.3 .4l1.5-.3M139 116.1l-.7-1.7l-.8-.6l.6-.9M122.1 171.5M148.6 147.8l.1-1.3l.9-1.3l1-1.1M112.1 140.9l-1.2 .1l-.5 .9l-.1 1.9M145.4 165.3l-1.6 .2l-1.7-.6l-.2-1M130.5 103.3l1.3 .2l1.5-.3M132.5 107.4l-1-1l-.7-1.8l1.5-1.2M111.1 147.8l-.3 1.2l1 1.1l1.1 .7M157.7 130.9l.3 1.2l-.1 1.8l-.1 2M140.4 165.1l-1.4 .6l.1 2l1.1 .6M130.3 141.9l-.8 1.2l.9 .6l0 1.1M127 103.2l.3 1.7l-.9 1.3l-1.2 1.1M139.4 141.9l.4 1.3l1.1-.1l.2-1.9M139.4 125.9l0 1.2l-.8 1.1l1 1.1M118.2 133.6l-.7-1l.4-1l1.2-.8M158.3 136.7l-.3-1.3l-1.6-.3l-1.6 .1M148 123.2l-1.6 .6l-.6 .9l.4 1.6M121.9 116.7l-.4-1l-1.3 .5l-1.1 1.6M135.3 117.8l.9 1.1l-.4 1.7l-.1 1.9M138.4 126.4l-1.1 1l-1.4 .8l-1.2-1.1M115.1 152.8l-.4 1.2l.7 1.7M104.1 138l.8-1.1l1.1-.8l1.9-.2M98.7 122.3M113.3 144l-.1 1.9l-.5 1.1l.1 1.8M110.4 148.4l1.7-.3l.7 1.4M133.6 149.9l-.6 1l0 1.8l-.7 1.7M142.5 114.8l-1.1-.2l-1.8 .4l-.2 1.3M104.9 128.8l1.7-.2l1.1 .9l1.8-.1M118.2 152.8l-1.3 1l-1.3 .3M118.8 153l-.9-1.4l.4-1.7l.4-1.8M130.7 135.4l-.1-1.9l-1.1-.4l.4-1.1M158.6 148.4l-1.1 .7l-1.1 .1l-.3 1.1M133.1 145.1l1.1 1.4l1.8 .4l.7-.8M152.3 138.1l0 1.6l-.3 1.1l-.9 .6M132.6 152l-1.7 1l-1.7 .2l0 1.8M137.2 145.9l-1.2-.2l0-1.4l-.5-1.5M147.9 135.7l1-.5l.6 1.2l1.4 .7M136.4 108.3l.1-1.4l-1-1.2M134 146l-1.3-1.2l.7-1.4l-.2-1.5M137.5 108.8l.3-1.4l.2-1.3l.8-.7M122.3 139.2l-1-1.1l-1-1.1l-1.3-.8M150 121.2l-.4-1.1l-.1-1.3l.4-1.1M148.1 166.6l.3 1.8M133.3 126.3l-1.2 .1l-1.1-1l.2-1.8M144.7 112.2M120.8 111.2l-1.4 .8l-1.3 .4l-1.3 1.5M104.4 130.7l1.3 0l1.2 .9l.5 1.3M128.2 119l-.3 1.1l1.1 .8l.9 .6M111 111.6l-.1-2l-1.2 .5M116.9 147.8l-1.4 1.1l-.5 1.8l.9 .7M110.2 141.5l-.7-1.7l-1.2-.5l-.8-1M124.4 148.9l-1.1-1l-1.6 .5l-1.1-1.4M138.9 115.8l.6 1l-.4 1.6l-1.9-.3M136.1 106.7l0 1.1l.1 1.8M103.8 134.9l.4-1l-.2-1.4l-1.3-1.2M120.7 141.9l-.2-1.3l-1.2-.5l-1 .8M145 152.7l-1.1 .5l-1.1 1.5l-1.6 .3M123.8 165.4l1 .9l.9 .5l2-.2M132.6 145.9l.3-1.1l1.8-.7l1.4 1.2M114.3 159.7M143.7 163.1l.8 .9l-.4 1.1l-1 .7M102.8 143.7l.4-1.7l.1-1.1M122.9 103.7l-.5 1.4M136.1 128.7l.2-1l-.5-1.4l-1.2-1M143.7 147.5l-.3 1.8l.3 1.6l-1.6 .9M111.2 119.3l1.4 .5l.8 1.8l1.2-.4M128 146.6l-.6-1.3l-.9-.7l.6-.9M154.9 129.5l-.8-1.7l.1-1.4l1.4-.3M104.6 118l.7 1.6l-.4 1.3l-1.6-.5M147.2 113.7M157 139.8l.4-2l-1.2-.9l-1.2-.7M109.4 138.1l1.4 .5l1.2 0l.4-1.2M139.5 167.3l.4-1.2l-.8-1.5l0-1.4M136.4 156.3l-1.5 1.1l-.7-.8l1.1-1.5M139.2 122.2l-1-.7l-1.2-1.4l-1.8 .6M115.1 137l1.7-.9l.4-1.2l-.8-1.2M162.9 132.3l-.5 1.4l-1.3 .9M106.8 115.9l-1.2 .3l-1.4 .4l-1-1.1M155.3 143.9l0 1.3l-.8 1.6l-1.7 .5M139.7 134l1.2 1.1l1.7 .1l.2-1.2M127.4 149.4l-.9-.6l-1.2-1.3l.3-1.9M152.8 156.3l-1.3 .8l-.1 1.1l-2 .1M138.3 134.6l1.6-1.1l.9-1.1l1.8-.8M143.2 114.9l-.7 1.4l-1.9-.5l-.4-1.1M161 133.7l-.4-1.3l-1-.7l-1.4-.3M139.3 136.3l1.2-1.1l1-.2l.6-1M128.5 152l1.2 .3l1.9 .1l.8 .7M161 137.8l-1.2 .2l-1.2 .3l-.4-1.1M137.6 115.6l1.3 1.3l1.7 .5l.8-1.5M153.9 146.6l1.5 .9l.1 1.4l.8 .6M126.1 156l1 .9l-.4 1.4l-.7 .9M135.5 132.7l-.9 .6l1 1.7l-1.3 1.2M119 113.1l-.7 1.4l.9 1.6l-1.4 .9M115 124.6l-1.7-.9l.3-1.8l1-.4M144.6 157.3l-1.4 .3l-1.2 .2l-.3 1.2M155.1 138.3l-1.6 .6l-1.3 .1l-1.7-.9M124.4 151.7l-1.4 1.3l-1-1l-.6-1.3M136.6 119.5l-1.5 .5l-.8-.8l-1.1-1.3M118.5 112.7l1.8-.2l1 .9l1.2 .1M133.7 145l-1.6-.5l-1-.8l-1.3-1.1M146.9 126.9l-.6-1.4l-1.5 0l0-2M148.6 157.7l.8 1.7l1.5 .3l1.4 .8M125.7 156.9l-.6 1.2l-1.7 0l-.8 .9M107.9 115.6l-.2-1.9l-1-.7l-1.8 .2M131.3 132l.5 1l1.2 1.1l.4 1.8M125.4 138.5l1.1 1.5l-1.3 1.2l-1.3 1.1M103.4 113l-1.7 .8l.1 1.8l1 .5M120.8 131.7l-.8-1.2l0-1.1l-1.7-.6M129.8 160.2l-.9 1l1.1 1.4l.8 .8M127.3 157.9l1.1 .6l1-.5l-.8-1.5M126.1 136.7l.7-1.4l1.6 .3l1.2 1M142.1 134.9l-1.3-.5l-.4-1.4l.2-1M141.4 147.2l1.1 .2l1.5 1.1l1.2 0M139.1 140.9l-1.8 .2l-1.1-.7l-1.1 .2M124 163l-1.2 .1l-1.2-.2l-.2-1.2M128.1 142.6l.7-1.4l1.1-1l1.5 .9M120.3 162.3l-.3 1.3l-.6 1.8M114.3 117.2l.3-1.3l1.3-.6l.7 1.4M116.3 139.2l1.2-.3l1.5 1.2l.8 1.3M145.4 149.5l.9-.7l1.5 .2l-.2 1.1M118.9 125.9l-1.7 .3l-.7 .9l-.2 1.3M107.4 124.6l.6 .8l.5 1.3l1.5 1.4M131.5 106.8l-.6-.9l-.9 .5l.3 1.1M102.8 138.2l1.2 1.3l1.3 1l1-.6M155.8 137.4l-1.2-1.6l-1.3 .8l-1.5 .3M125.7 102.8l0 1.7l1.3 .4l1.8-.8M141 117.2l1.5-.6l.9 1.7l.5 1.4M129.9 166.6l1-.7l-.5-1.8l.9-1.7M141.4 134.2l-1.4-1l-1.3-1l-.7-1.5M135.1 106.4l-1.9-.4l-.2-1.8M133.8 118.2l-.9 1.6l-1.9 .4l-1 0M135.3 119.6l-.8-1.4l.1-1.9l-1.7-.2M142.9 127.2l-1.4-.1l-1-.6l-1.1 0M109.1 139.3l-.5-1.8l.6-1.8l-.9-.4M112.6 145.5l-1.3 .2l-.1 1.2l-.2 1.6M127.6 163.9l1.5-1l1.9-.4l1.2-.4M140.9 128.1l-.3-1.6l.3-1.7l-1.1-.2M148.9 118l.5-1.8l1.1 .7M139 111.3l1.5 0l1 1M133.5 122.4l-.6-1.6l-.2-1.1l-1.6-.5M117.8 119.9l-1.3 .1l-.2-1l-.7-1.6M135.9 142.2l.8 .7l1.5 .3l1.3 .4M145.6 145l1.4 .1l1.1-.2l.8 1.5M134.7 113.4l-.9-1l-.9-1.6l1.3-1M138.8 142.9l1.3 .6l1.7 .5l1.4-1.2M107.7 133.8l-.9-1.3l-1 .4l-1.7-.6M142.7 151.3l-.8 1.1l-.8 .8l.3 1.5M156.2 156.1l1.6 0l.4-1l1-1.2M118.4 160.3l1.5 1.2l1.3-.5l-.1-1.6M119.3 144.5l-.6-1.4l1.3-.6l1.1 .4M123.6 160.2l-1.6-.9l-1 1.7M125.6 159.6l-.4 1.1l1.4 .5l.6-1.6M123.3 125.1l1.7-1l1.4 .4l.7 1.3M142.6 165.8l.9 .9l1.4-1.1l1.4 .5M126.8 168.2l.5-1.7l1.2-.1l1.3 .5M138.6 139.9l-1.7 .1l-1.5-.3l-1.5 .4M156.1 132.9l-.6-1.1l-1.5-.3l-1.3-.4M140.3 162.7l.6 1.4l-1.5 .6l-1.4 .4M158.7 144.3l1-.3l.5-1.8l-.6-1.2M129.8 105.4l-1.8 0l-.9 1.6l.4 1.3M113.2 137.4l-1 1.1l-.4 1.8l-.4 1.2M143.2 142.9l.7 .9l1.4-.7l1.8-.7M150.5 163.1l1.1-1.4l1.4-.9l1 .7M121.9 162.4l.7-1l1.3-.6l1-1.5M130.9 137.4l-.8 1.1l.3 1.9l.8 .8M113.7 146l-1.7 .5l-1.3-1.1l-1.2-.6M111.2 127.3l0-2l-1.2-1.5l-1.4 .5M161.5 147.8l-1.5-.3M135.8 111.3l-1 .8l-1.1 1.6l-2 .3M108.2 134.5l-.8 1.3l-1.8 .7l-.9-.6M123.3 127l.4-1.9l-1-.6l-.8-1M160.6 128.2l-1.6 .8l-1.5-.7l-1.6 .4M138.4 123.5l-1.3 0l-1.7-1l-1.6-.1M111.4 154.2l1.3 1.3M135.2 164.6l-1.1 1.1l-1-.5l.3-1.1M147.1 160.7l-.8-1.3l-.1-1.8l-1-.4M130.2 158.4l.4 1.5l-1.3 .6l-.9-1.4M158.3 147.7l-.2-1.8l.2-1l.1-1.3M123.1 115.9l-.9-.6l-1.7-.3l-.9 .6M135.3 172.4l.5-1.5l-1.8-.7M148.3 119l-1.4-.2l-1.3 .5l-.3 1M122.4 122.1l1.5-.1l1.3-1.3l1.5 .1M130.6 104.1l1.5 1l-.2 1.1l-1.8 .7M147.9 128.9l-.2 1.8l1.7 .2l1.1-1.1M132.5 165l-.3 1l-1.4 .5l.2 1.1M137 149.3l-1.8 .3l-.3-1l-.8-.7M147.5 127.9l-.1-1.3l-1.3-1.1l-1.2 1M157.2 146.1l.6-1l.2-1.1l-.3-1.8M114 129.9l.9-1.3l-.4-1.8l-1.7 0M123.9 144.8l-1.5 .7l-1.4-.9l.6-1.2M115 130l-.4 1.1l.3 1.7l.9 .7M119.1 107.4l-1.7 .6l-.5-1.2M123.7 153.2l-1.8-.9l.4-.9l1.6-.9M110.4 123.8l-.6 1.4l-.4 1.5l-.2 1.6M143.9 161.9l1.2-.9l-.4-1.2l-1.3-.8M126.2 128.5l-1.2-1.5l-.5-1.1l-.9-.5M133.7 122.5l0-1.3l1.4 0l.3-1.7M151 161.5l.7 1l-1 .5M128.5 158.1l-1.1-.8l.1-1l1.6-.7M143.5 116.8l-1.6 .8l-1.4-1.2l-1.3-.3M118.8 131.7l-.4 .9l-1.1-.5l-1.8 .4M123.5 115.8l-1.1 .4l-1.5-1.1l-1.3 1.1M150.3 163.6l.2-1.2l-1.4-1.3l.1-1.6M113.8 139.4l-.1-2l-.2-2l.6-1.2M112.1 135.6l-.8-.8l-.4-1.6l-2 0M119.1 140.5l1.5-.3l1.8-.5l1.6 .9M127.4 128.5l-1.5-.9l-.3-1.4l-1.8-.7M129.6 152.1l-1.5 .7l-.8 1.1l.4 1.9M144.7 119.6l-1.9-.2l-1.5-.2l-1.2 .1M151.6 141.3l1.2-.7l1.1 0l1.4-1M152.1 144.4l-1.8 .6l-.7 .7l-.8 .7M132.5 114.8l.4-1.5l-1.8-.4l-.3-1.9M139.5 169l.2-1.1l-1.2-.4l-1.4 1M131.1 146.8l.8-.6l1.6 .6l.8-1.2M103.9 124.1l-.5-1.6l1.7 .5M151.7 143.6l1.5 .3l.1 1l.4 1.5M151.8 157.2l-1.2 1.4l.8 .9l1.3-1.1M134.2 126.9l.1 1.7l1.6 .8l1.1-.8M160.7 146l-2 .1l-1.3-.5l.4-1M107.2 117.5l-1.8-.1l-.8-.8l-1.5 1.2M126 108.3l-.3-1.7l-1.4 .3l-.1 1.4M144.1 150.3l.1-1.8l1.1-1.7l1.1-1M128.9 118.9l-1.5-1.3l1-1.7l1.8 .8M105.3 115.1l.8-.8l-1.3-1.4M119.6 118.1l1.7-.3l1 1.2l1-.2M122.7 156.4l-1.4-1.1l.7-1.6l1.1-1M115 148.6l1 1.3l1-.4l1.8-.8M103.7 118.9l1 1.1l1.5 1l1.9-.4M127.4 121.3l1.5 .3l1.5-.7l.7 1M130.7 140.4l-1.6 .9l-1.2 1.1l-.3 1.4M117.6 156.6l.1-1.9l1.6-.5l.8-1.7M128.6 104.8l.8-.8l-.2-1.1l1.6-1.2M113.3 131l1.1 .7l1.4-1.3l1.4 1.2M139.1 161.6l1.8 .8l1.4 1.3l.4 1.1M146.4 168.1l1-1.2M130 145.1l.4-1.8l-1.3-1.1l-1.5 1.2M153.6 140.3l-1.2-1.2l-.8-1.4l-1.1 .6M156 160.7M151.5 130.9l-.1 1.1l.2 1.3l.8 .9M145.4 145.9l.5 1.5l1.4 1.1l1.4-.2M145 134l-1.3-.7l-1.2 0l-.4 1M151 139.3l-.8-1l-.1-1.8l-.2-1.3M147.1 128.7l-1.6-1.1l-1.8 .2l-1-1M129.8 133.5l1.5-.2l.6 1l-1.5 1.1M154.3 162.3l-1-.6l-1 .5l-.8-1.4M111.7 109.5l.8 1.1l1 .8l1.4 1.2M154.7 128.9l-1 .9l-.6 1l.4 1.1M134.4 148.5l-1.6 .7l-1.3-.6l-1.4 1.3M121.7 117.4l-1.8 .7l-1.4-1.2l.7-.9M152.2 160.5l.8 .7l1.7 .4l1.1-.6M125.1 137.7l-1.8-.9l-.9 1.2l-.5 1.3M155.4 145.6l1.6-.6l.6-1.8l-.1-1.3M123.9 124.6l-1.6 .5l-.1 1.3l-.9 .5M105.9 123.4l1.3 .5l1.9-.5l1.1 .5M117.5 146.2l-.6 1.7l-1.3 .7l-.5-1M116.8 112.7l-.8-1l-1.1 .8l-1.4-1.4M129.2 101.1l.7-1.1M138.5 163.5l.7-.9l0-1.1l.2-1.2M137.7 120.9l-1.2 .1l.1 1.2l0 1M117.1 132.3l.9 1.2l1.5 .3l.9-1.5M104.3 123.8l1.2 .1l1 1.4l.1 1.4M106.9 115.9l-.9 .9l-.3 1.4l-.6 1.9M140.8 155.5l-.9-.5l-.3-1.8l-.9-.5M124.1 142.3l1.1-.1l1.1-.4l.1-1.6M133.2 124.2l-1.2-1.1l.8-1.5l1.5 0M110.4 117.7l-1.8-.5l0-1.3l-1.3-.3M108.6 111.2l0-1.2l1.8-.7l-.2-1.7M122.4 126.5l1.1 .4l1.1 .4l-.1 2M117.9 114.4l1.4-.4l1 0l1.4 0M126.8 124.9l.3-.9l1.2-1.6l1.6 .7M155.6 127.3l1.4 1.3l1.3-1.3l.6-1.5M135.3 127.5l1.7 .1l.7-.8l1.4-1.4M108.5 142.7l.6-1.8l-1-1l-1.1 .2M148 119M128.6 171.3l.6 1.9M137.8 151.1l.2 1.3l1.2 1.4l1.4 .3M107 114.6l.2-1.2l-1.5-.4l-.4-1.2M114.7 132l-1-.1l-.2-1.9l1.1-1M158.8 147l-1.8 .6l-.2 1.5l1.4 .7M131.1 153.6l.9-1l1.2 .7l1.7 1M132.9 156.6l1.3 1.4l1.4-.1l1-.8M133.4 154.4l-.6 1l-1.6-.7l-1.5-.3M123.1 171.2M128.1 158.3l.9-1l1.7-.7l1.2 .8M121.6 149.5l-.9-1.1l-1-.6l-1.1 1.4M154.5 128.8l1.4 .1l1.1 .4l.6 .9M120 137.5l1.4 1l1.5 0l1 .5M123.9 119.8l-.4-.9l-1.3-.4l-.6-1.5M148.5 137l.6 .9l-.9 1.1l-1.1 .8M108.6 138.7l2-.2l1.2-.2l.6 .9M136.8 172.5l-1.3-.9M138.8 171.8l-.2-1.9l-1-.9M147.6 132.8l.7-1.2l1.7-.7l.7 .8M132.9 160.3l1 1.6l1.9-.4l1.1-1.6M116.2 118.9l1.1 1.1l1.2-.2l.9-.6M143 143.4l-1.3 .5l-.7 1.5l-1.3 .7M144 166.1l.5-1.7l.3-1.9M119.6 111.1l-1.3 .4l.1 1.9l1.4 .9M132.1 134.9l1.6 1.1l.4 1.6l-1 .8M113.6 157.1l1 .1M131.9 143.4l1.3-.8l1.5-.2l1.2-1.6M112.2 136.5l-1.5 .4l-1.7 .1l0 1.6M145.5 167l1.5-.6l1.2 .5M103.1 134.6l.5-1l1.1-1l1 .8M110.4 140.8l.2 1.2l1.3 1.2l1.6-1M140.1 114.5l-1.3 .3l-1.6-.2l-.6-.8M144.9 147.9l-.1-1.6l1.1-.7l-.6-1M105 144.9l1.5 1.1l1.5-.2M156.9 125.2l-.8-1.3l-1.5-1M123.2 133.7l-1 1l-1.7-1l.6-1.5M127.7 170.5l-.9-.8l-1.1-.5M151.4 146.9l1.9-.1l.5-1.3l1.5-.8M124.1 140.5l.9 1.6l-.9 1.5l1.2 1.2M111.9 148.7l.6-1.4l1.2 .5l1.1-.4M149.5 147.9l1.3-.8l-.1-1.2l1-1.1M135.4 104l-1.4-.2M128.7 131.9l1.3 .9l1.1 0l.6 .9M129.8 114l-.9-.6l.7-1.1l-1.2-1M152.4 140.5l-1 .3l-1.1 .6l.4 1M110.9 144.5l.1 1.2l1.5 .9l.2 1.7M102.3 130l-.3-1.3l-.2-1.8l.5-1M119.3 155.9l.6 1.9l1.1 0l1.6-.6M127.8 137.3l-.2-1.4l0-2l.1-1M129.2 107.7l1.5 1.1l.8-.9l1.9 .3M151 163.6l-1.1 0M109.7 127.3l-1.1-.6l-.9 1l.4 1.2M107.1 126.1l.4-1.1l1.1 .3l1.2 1.1M129 109.3l-1.4-1.1l-1.4-.6l-1.2 1.4M148.9 118.1l1.1 .1l1.1-.5M132.1 144.7l.7-1.8l1.5-.7l.5-1M145.9 144.6l1.8 0l.6 1.6l1.1 1.4M116.2 106.8l1.2-1.3l.5-1.1l1.5 .6M144.9 130.4l-1.4-.7l.6-1.2l1.2 .1M112.7 133.1l-1.2 .3l-.8-1l-.1-1.3M129.7 136l-.2-1.1l.4-1.6l1 .1M140.7 110.4l-1.7-.8M153 129.9l-.5-.9l-1.5-1.3l-1-.6M147.3 160.5l.2-2l-.9-.4l-1.1 .8M127.4 158.7l-.3-1.3l-.9-1.5l.6-1.8M120.7 130.8l1.2 .4l1-.7l1.2-.1M130.6 149l-.3-1.6l.6-1.9l.8-1.1M107.9 124l-1.6 .9l-1.2 .9l-.8-1M115.9 109.4l-1.1 0l-.1 1.5l.1 1.8M135 107.1l-1.4-.1l-1.5 .1l-.3-1M118.2 109.8l-1.5 .3l-1.1 1.4l1.2 1M156.6 122.7l-.5-1.4M154.4 159.2l.8-1.3l1.5-1.2M154.5 128.3l0-1l-.3-1l.9-.8M137.7 126.5l0 1.8l-1.2 .4l-1.3 .9M112.1 121l-.8 .6l-1 .5l-1.1 .8M133.2 167.9l1-.6l1.2-.9l1.1 .9M131.4 104.7l1.6 .4l.8 1l1.9-.1M136.3 152l1.4-.6l1.4 1.1l1.5 .9M109.6 125.7l1.4-.4l1.8-.5l-.4-1.6M103.8 144.4l-1.3-.4l1.5-.4M117.7 166.3l.9 .5M135 127.4l-1.6-.8l.3-1.1l.9-.8M123.8 168.2l.7-1.6l.9-1.6l1.6 0M156.8 140.3l1 .4l1.3 1.2l.6 1.3M136.6 146.9l-1.4 .4l-1.2 .8l-.7 1.5M130.5 114.2l-1.9-.5l-.7-1.4l-.4-1.8M126.3 132.4l1.4 .3l1.3-.1l.9 .9M148.8 145.9l-1.4-.6l-1.1-.5l-1.7 1.1M122 115.8l-1 .1l-1.7 .2l-1.2 1.3M140.3 164.6l-1-.7l-.8-1.7l-1.6 .2M116.4 141.2l1.5 .4l1.4 1.4l1-.3M134.2 122.8l.9-.5l1.4-.1l.4 1.4M131.7 148.7l-1.1 .5l-1.7-.4l-.9-.6M154.9 158.2l-1.4 1.4l-.1 1.9M116.2 109.8l.3 1l-.2 1.7l.5 .9M108.8 139l.7-1.6l-1.4-1.4l-.7-1.3M128.2 122.3l1.4-1.4l-1-1.7l-1-1.2M146.4 157.9l0 1.9l1.1 .6l-.6 1.5M158.6 126.8l-1.3 .3l-1.1-.7l-.2-1.9M121.5 125.6l1.6 0l0-1.6l.5-1.2M112.1 146.5l1.2 .9l.5 1.4l1.7 .6M149.8 159.5l-1 1.3l.3 1l-1.4 1.3M151.6 150.4l-1.2-1.6l-.8-.8l.1-1M139.9 136.3l.1 1.4l-.8 1.7l-.9 .7M139.6 123.6l0-1.5l1.1-.3l1.4-1M138.4 138.7l1.3-1.2l1.5-.3l1.6 .5M159 157.6l-1.4 1l-.8 1.2l-.9 1.6M116.6 148.1l-.8 1.4l.2 1.6l1.3 1.2M135.1 106.8l.8 1.6l1.1 1.4l.5 1.6M140.6 144.4l-1.2 1.3l-1.6 .6l-1.1 1.6M148.9 130l-1.8 .5l-.8-.9l-1.7-.7M109 133.2l-.8 1.1l-.1 1.3l-.4 1.2M153.5 145l.4-1l1.6 .2l-.2 1.8M141.1 117.7l1.4-.4l1.6 1.2l1 0M131.9 130.5l.1 1.3l-.6 1.4l-1.5 .7M147.2 116l1 .2l.8 .9M105.8 114.3l-.4 1.1l1.3 .7l-.3 1.8M138 145.5l1.2-.9l-.3-1l.5-1M124.2 140.3l-1.4 1.2l-1.2-.2l-1-.3M129.4 168.8l.7-1.4l1.6-1.2l1.8 .8M130.6 139.4l1.3-.6l1 .8l1-1.2M135.5 160.3l-.2 1.1l1.2 .6l1.2 .5M109.4 143.7l1.2 .2l.5 1l1.8-.3M121.7 144.3l-.8 .6l-1.2 .2l-1.5-1.1M120.5 140.5l-1.3 .1l-1.8 0l-.9 .8" stroke="#1c6a1c" stroke-width="0.8" fill="none" stroke-linejoin="round" />
<path d="M122.3 149h0M106.9 121.7h0M106.4 119.2h0M156.9 150.3h0M155.8 150.7h0M155 151.7h0M144.2 168.2h0M139.6 154.4h0M134.6 106.6h0M131.9 161.8h0M121.9 116.4h0M120.2 115.7h0M106.3 131h0M106 129.3h0M106.7 128h0M144.2 144h0M144.9 145.2h0M122.9 112.8h0M122.7 113.9h0M121.9 115.2h0M129.4 120.7h0M111.4 144.2h0M112.4 143.5h0M134.7 168.6h0M112 134.8h0M109.7 133.7h0M150.4 130.5h0M124 130.1h0M124.8 131.3h0M127 139.5h0M127.9 138.7h0M115.2 117.4h0M114.5 119.9h0M151.7 142.4h0M150.1 142.3h0M105.5 135.6h0M146.5 143.8h0M146.3 142.2h0M155.9 124.7h0M154.8 124.5h0M120.9 128.7h0M144.8 126.5h0M142.9 125.6h0M139.2 142.2h0M111.8 134.4h0M128.1 138.1h0M128.8 123.8h0M128.5 124.9h0M133.9 169.9h0M109.9 115.4h0M108.8 115.4h0M131.5 157.9h0M129.8 159.5h0M158.4 153.7h0M154.3 140.8h0M155.1 139.3h0M126 142.5h0M126.1 140.9h0M156.3 156.8h0M155.1 156.5h0M133 115.4h0M134.7 116h0M147.2 144.6h0M148.3 145.6h0M128.1 105.8h0M125.1 104h0M105.1 123.2h0M127 117.8h0M114 146.4h0M126 151h0M129.6 110.4h0M128.7 108.9h0M127.6 107.9h0M149.8 145.4h0M133.1 168.2h0M136.2 167.3h0M135.3 121.5h0M136 119.7h0M143.8 115.5h0M157.1 133.2h0M144.9 126.3h0M143.9 127.6h0M116 139h0M113.8 137.6h0M130.5 106.1h0M130.8 107.9h0M131 129.3h0M129.7 154.4h0M130 153.2h0M125.6 118.3h0M126.7 117.1h0M131.1 130.1h0M131.5 132.4h0M129.2 105.8h0M127.4 106.1h0M146.1 123.9h0M133.7 153.8h0M127.3 171.3h0M127 169.5h0M126.3 167.9h0M144.7 154.4h0M143.9 155.3h0M142.4 155.1h0M107.9 139.7h0M107.5 141.6h0M127.4 132.4h0M128.3 102.7h0M117.6 147.5h0M118.9 147.1h0M119.2 145.8h0M117.2 127.1h0M120 128.5h0M125 160.5h0M121.7 110.7h0M120.7 111.8h0M122.7 147.9h0M123.7 149.3h0M148.6 118.3h0M146.1 118.4h0M130.5 141.7h0M130.4 143.4h0M104.9 115h0M103.3 114.9h0M130.8 155.9h0M129.8 155.2h0M130.3 153.4h0M154.1 130.9h0M135 154.8h0M156 126.8h0M118.5 149.9h0M119.5 149.8h0M117.9 140h0M157.5 138.7h0M157.1 139.9h0M133.9 153.6h0M135.1 151.1h0M156 150.9h0M134.6 123.8h0M149.8 145.3h0M135.7 138h0M104.4 129.6h0M103.1 129.8h0M151.6 125.5h0M150.4 126.1h0M141.4 140.8h0M139.5 142.9h0M158.1 152h0M157.4 155.1h0M156.1 132.7h0M126.3 141.8h0M155.6 150.4h0M156.3 151.2h0M107.8 124.1h0M121.5 116.3h0M124.1 154h0M133.5 154.9h0M136.5 135.4h0M135.4 135.4h0M135.2 134.2h0M133.4 169h0M134.3 169.7h0M121.2 109.2h0M125.3 117.8h0M154.2 143.8h0M152.5 142.9h0M151 142.8h0M125.4 148.7h0M124.4 146h0M115.2 148.9h0M113.4 149.5h0M146.6 117.4h0M133.7 103.6h0M132.6 102.9h0M152 116.6h0M133.2 135h0M146.9 133.1h0M148.6 135.5h0M147.7 145.1h0M146.4 142.7h0M159 146.1h0M158.6 147.5h0M112 112.3h0M144.1 116.5h0M110.7 138.5h0M135.9 141.6h0M135 140.1h0M129.9 161.8h0M131.2 162.9h0M132.2 164.4h0M129.9 170.1h0M128 172.9h0M134.8 117.5h0M131.6 114.4h0M129.7 114.9h0M122.2 158.3h0M115.7 135.4h0M113.6 137.1h0M123.1 159.5h0M123.1 162.6h0M102.8 123.1h0M102.6 120.6h0M131.4 168.5h0M132.6 169.5h0M134.4 170.3h0M142.3 137.3h0M150.5 155.2h0M150.9 156.4h0M132.3 148.4h0M143.2 162.6h0M141.7 162.3h0M152.3 119.7h0M129.8 160.6h0M130.1 162.2h0M102.9 115.3h0M132.3 169.2h0M134 167.1h0M152.7 123.9h0M152.9 125.3h0M152.1 126h0M129.5 142.7h0M131.1 142.8h0M132.6 142.7h0M130.1 169.3h0M135.7 149.2h0M127.1 146.3h0M125 109.1h0M108.6 130.2h0M132.3 134.6h0M127.8 142.7h0M127.3 144.6h0M132 161.7h0M151.4 150.4h0M152.1 148.8h0M152 155.9h0M153.7 153.4h0M135.8 152.6h0M136.3 153.6h0M148.1 151.2h0M149.1 150.5h0M143.4 125.7h0M143.4 124.4h0M141.5 149h0M137.2 162h0M149.9 129.9h0M152.2 144.1h0M151.8 145.7h0M152.2 147.1h0M131.3 131.3h0M132.3 133h0M140.9 117.7h0M132 105h0M139.3 119.7h0M138.8 118.2h0M152.8 141h0M155.4 140h0M124.1 129.6h0M122.1 127.4h0M123.1 161.7h0M134.1 130.7h0M135.4 129.6h0M136.6 130h0M118.4 133.9h0M117.8 135.5h0M116.5 136.2h0M115.8 155.5h0M114.7 155h0M154.3 148.4h0M142.1 128.3h0M126.6 116.4h0M127.9 115.7h0M129.5 115.8h0M141.7 120.5h0M142.9 120.4h0M126.4 150.9h0M114.9 133.4h0M105.8 140.2h0M150.6 142.2h0M146.4 114.9h0M145.4 113.4h0M130.7 115.9h0M109.3 123.6h0M109.6 124.8h0M138 173.4h0M138.4 175.2h0M161.5 135.3h0M151.1 138.3h0M152.6 139.2h0M144.5 152.6h0M142.8 152.1h0M110.6 130.4h0M138.1 120.3h0M123.5 162h0M122.6 160.8h0M121.2 161.8h0M113.6 152.4h0M135.8 107.5h0M133.9 105.8h0M102.4 136.1h0M157.9 156.2h0M105.4 128.2h0M105.5 127.1h0M144 140.8h0M145.4 141.9h0M130.7 155.9h0M131.4 155.1h0M105.3 136.9h0M104.1 135.6h0M135.9 151.9h0M146.7 150.5h0M148 150.4h0M149.6 122.3h0M137.4 146.6h0M138.4 146.7h0M138.8 147.6h0M146.8 124.8h0M146.1 121.5h0M152.5 153.8h0M151.7 155.4h0M146.9 122.3h0M155.8 157.8h0M105.4 128.6h0M133 144.8h0M146.1 122.7h0M149.2 122.5h0M123.8 158.6h0M124 157.6h0M108.2 146.9h0M110.3 146.3h0M138.7 152.3h0M117.5 125.9h0M115.2 128.4h0M113.7 124.8h0M120.5 147.6h0M140.7 126.9h0M139.9 125.4h0M112.9 120.1h0M112.5 121.1h0M127.7 139.8h0M129.6 136.7h0M107.9 140.9h0M102.2 115.3h0M122.8 131.4h0M120.8 131.2h0M141.6 122.6h0M113.5 137.3h0M114.7 136.1h0M148.4 150.4h0M151.3 149h0M106.4 121.6h0M106.3 124.5h0M110.9 113.2h0M109.5 113.5h0M131.8 123h0M109.9 122.5h0M111.5 121.6h0M118.7 114.3h0M149 158.2h0M148.3 159.1h0M138.5 135.8h0M140.1 134.7h0M135.4 158.6h0M134.9 161.2h0M153.9 149.7h0M153.4 151.1h0M154 152.2h0M133.1 161h0M133 159.5h0M133.5 157.9h0M120.6 106.5h0M135.6 114.3h0M135 112.8h0M135.9 112.2h0M154.6 124.6h0M153.6 123.4h0M152.9 122h0M117.5 125.8h0M116.6 126.4h0M120.4 124.9h0M120.5 121h0M113.5 131.7h0M112.3 129.3h0M153.9 152.7h0M147.6 132.2h0M148.2 131h0M127.1 155.6h0M127.7 157h0M155.9 131.4h0M157.2 131h0M106.8 130.4h0M105.8 129.6h0M123.7 136.1h0M115 150.2h0M113.7 150h0M141.6 145.2h0M109.5 143h0M110.4 144.2h0M128 158.1h0M126.8 158.2h0M128.1 128.6h0M128.6 150.7h0M145.1 166.1h0M155.1 150.9h0M157.4 152.8h0M120.4 116.8h0M119.1 118.2h0M125.2 149.2h0M126.7 167.5h0M125.7 167.6h0M108.4 136.8h0M138.2 120.2h0M138 121.7h0M137.2 122.4h0M120.8 116.1h0M119.2 115.5h0M134.3 164.5h0M131.3 164.1h0M130.6 147.2h0M121.4 119.6h0M120.1 120.7h0M145.9 157.2h0M144.1 157.6h0M140 152.5h0M142.3 153.4h0M123.3 111.4h0M142.4 141.8h0M141.6 143h0M120.9 142.4h0M122.2 141h0M149.5 118.8h0M134.9 136.3h0M136.1 137.6h0M160.3 128.6h0M160 129.6h0M129 142.1h0M127.9 141.8h0M108.5 124.4h0M111.4 123.9h0M155.8 132.8h0M146 159.9h0M117 133.4h0M127.3 123.2h0M129 123.6h0M156.3 151.2h0M156.6 150.1h0M158.3 149.9h0M131.1 160.3h0M131.6 159.1h0M130.4 144.4h0M153.9 155h0M154.8 154.1h0M127 154.3h0M126.2 155.6h0M131.3 142.5h0M132.1 143.3h0M115.1 135.9h0M115.4 137.3h0M116.7 138.1h0M147.1 143.7h0M128.6 145.7h0M128.6 143.2h0M140.5 163.7h0M137.8 161.8h0M157.4 146.7h0M133.9 143.9h0M132 144.2h0M131.6 142.5h0M125 116.1h0M101.8 122.4h0M102.4 121.4h0M121.5 140.3h0M132.8 153.5h0M144.3 166.6h0M144.9 165h0M139.9 117.6h0M141 116.3h0M142.2 116.2h0M133.7 144.2h0M132.5 144.1h0M115.9 110.4h0M129.2 168h0M127.8 167.4h0M150.3 121.7h0M114.8 117h0M134.6 157.9h0M130.8 125h0M116 112.4h0M114.4 112.2h0M114.1 114h0M116.5 145.5h0M115.5 142.1h0M124.5 145.8h0M125.9 145.2h0M125.5 144.2h0M126.1 125.7h0M124.8 127.7h0M120.7 113.2h0M129.6 136.1h0M126.8 136.9h0M141.1 138.4h0M143.8 137h0M125.7 114.7h0M125.5 116.1h0M109.4 139.8h0M124 108h0M123.1 106.8h0M154.8 141.3h0M153.6 141.8h0M152.5 140.2h0M133.9 117.4h0M136.6 115.4h0M152.7 131.9h0M154.5 130h0M137.1 117.4h0M135.6 117.2h0M126.2 163.1h0M107 120.3h0M106.3 118.1h0M143.9 162.6h0M142.4 160.3h0M140.7 149.3h0M140.5 147.6h0M139.4 146.8h0M148.5 124h0M110.8 111h0M125.1 132.1h0M122.7 131.1h0M158 133.1h0M158.9 133.5h0M106.5 124.9h0M147.4 124.2h0M141 153.1h0M124.4 153.7h0M122.5 154h0M121 153.8h0M101.8 120.3h0M111.7 137.1h0M113 137.9h0M128 119.6h0M126.9 120.2h0M121.7 137.4h0M127.3 133.1h0M128 136.3h0M135.9 146.3h0M141.5 138.6h0M142.1 136.8h0M106.9 125.5h0M105.7 126.2h0M135.4 169h0M107.2 119.9h0M105.9 119.4h0M135.6 111h0M135.4 170.2h0M147.9 140.3h0M148.5 139.3h0M143.6 132.6h0M135.7 158.4h0M120 120.2h0M114.7 145h0M124.9 165.6h0M124.3 136.9h0M145.2 123.7h0M146.6 122.6h0M144.4 152.3h0M145.7 153.7h0M117.6 124.6h0M134.5 140.3h0M123 157.1h0M125.5 155.6h0M138.1 127.3h0M140.3 125.4h0M140.4 155.1h0M129.8 136.9h0M128.4 137.4h0M102.7 132.6h0M111.8 142.5h0M132.6 130.5h0M134.4 131h0M127.9 147.3h0M122.7 143.2h0M121.2 142.7h0M120.4 144.5h0M150.5 139.5h0M151.5 137.8h0M152.7 138.2h0M117.8 125.1h0M117.7 123.4h0M117 121.7h0M132.3 162h0M132.9 163h0M132 164.7h0M127.9 114.2h0M128.9 113.9h0M105.1 114.8h0M104.5 113.2h0M146 165.1h0M129.6 128.4h0M130.8 126.8h0M131.8 156h0M132.6 155.1h0M115.5 144.9h0M152.7 134.1h0M144.1 121h0M144.2 119.9h0M145.6 120h0M130.8 112.7h0M130.1 111.1h0M129.5 109.8h0M152.3 127h0M154.1 127.9h0M126.9 123.1h0M125.2 109.8h0M126.9 134h0M111.2 121.1h0M109.9 122.4h0M114.4 150.9h0M114.1 149.5h0M123.6 112.5h0M123.5 110.6h0M115.1 154.9h0M112.2 116.7h0M107.1 128.2h0M130.6 105.6h0M149.3 153.5h0M144.9 132h0M142.2 148.8h0M141.4 147.7h0M139.4 119.9h0M137.8 119.9h0M136.3 120.2h0M113.1 145.9h0M123 131.8h0M123.5 132.9h0M123 134.8h0M130.2 132.4h0M120.5 115.5h0M122.2 116.5h0M105.9 128.2h0M104.5 128h0M128.1 149.6h0M130.9 149.7h0M138.3 114.4h0M148.7 146.5h0M110.9 141h0M110.3 143.8h0M143.8 165.5h0M142.1 164.9h0M133.3 103.2h0M131.5 106.4h0M132.3 103.4h0M111.8 150.1h0M112.9 150.8h0M158 132.1h0M157.9 133.9h0M157.8 135.9h0M139 165.7h0M139.1 167.7h0M129.5 143.1h0M130.4 143.7h0M126.4 106.2h0M125.2 107.3h0M138.6 128.2h0M139.6 129.3h0M117.9 131.6h0M119.1 130.8h0M156.4 135.1h0M146.4 123.8h0M145.8 124.7h0M121.5 115.7h0M120.2 116.2h0M115.4 155.7h0M104.9 136.9h0M112.7 147h0M141.4 114.6h0M139.4 116.3h0M106.6 128.6h0M109.5 129.4h0M118.3 149.9h0M118.7 148.1h0M129.9 132h0M136 146.9h0M136.7 146.1h0M151.1 141.4h0M129.2 155h0M136 145.7h0M135.5 142.8h0M148.9 135.2h0M149.5 136.4h0M150.9 137.1h0M136.5 106.9h0M132.7 144.8h0M133.2 141.9h0M149.6 120.1h0M149.5 118.8h0M149.9 117.7h0M131 125.4h0M119.4 112h0M127.9 120.1h0M129.9 121.5h0M115.5 148.9h0M115.9 151.4h0M109.5 139.8h0M107.5 138.3h0M123.3 147.9h0M121.7 148.4h0M120.6 147h0M139.5 116.8h0M139.1 118.4h0M136.1 107.8h0M102.7 131.3h0M118.3 140.9h0M143.9 153.2h0M142.8 154.7h0M141.2 155h0M124.8 166.3h0M132.9 144.8h0M136.1 145.3h0M144.5 164h0M103.2 142h0M135.8 126.3h0M134.6 125.3h0M142.1 151.8h0M112.6 119.8h0M113.4 121.6h0M126.5 144.6h0M154.1 127.8h0M105.3 119.6h0M103.3 120.4h0M155 136.2h0M110.8 138.6h0M112 138.6h0M112.4 137.4h0M139.9 166.1h0M139.1 164.6h0M139.1 163.2h0M134.2 156.6h0M135.3 155.1h0M137 120.1h0M117.2 134.9h0M161.1 134.6h0M140.9 135.1h0M142.6 135.2h0M142.8 134h0M126.5 148.8h0M142.6 131.6h0M142.5 116.3h0M140.6 115.8h0M140.2 114.7h0M142.1 134h0M131.6 152.4h0M159.8 138h0M158.6 138.3h0M140.6 117.4h0M155.5 148.9h0M127.1 156.9h0M126 159.2h0M134.6 133.3h0M134.3 136.2h0M118.3 114.5h0M141.7 159h0M150.5 138.1h0M123 153h0M122 152h0M121.3 113.4h0M122.5 113.5h0M131.1 143.7h0M144.8 125.5h0M144.8 123.5h0M106.7 113h0M133 134.1h0M126.5 140h0M123.9 142.3h0M101.7 113.8h0M102.8 116.1h0M120 130.5h0M120 129.4h0M128.9 161.2h0M129.6 136.6h0M140.6 132h0M144 148.5h0M145.2 148.5h0M135.1 140.6h0M121.6 162.9h0M121.4 161.7h0M131.4 141.1h0M120 163.6h0M115.9 115.3h0M117.5 138.9h0M117.2 126.2h0M108 125.4h0M108.5 126.7h0M110 128.1h0M130.9 105.9h0M130 106.4h0M154.6 135.8h0M153.3 136.6h0M127 104.9h0M128.8 104.1h0M143.4 118.3h0M130.9 165.9h0M130.4 164.1h0M131.3 162.4h0M138.7 132.2h0M138 130.7h0M133.2 106h0M133 104.2h0M132.9 119.8h0M130 120.2h0M134.5 118.2h0M132.9 116.1h0M141.5 127.1h0M139.4 126.5h0M108.6 137.5h0M109.2 135.7h0M111.3 145.7h0M131 162.5h0M132.2 162.1h0M140.9 124.8h0M139.8 124.6h0M150.5 116.9h0M140.5 111.3h0M132.9 120.8h0M131.1 119.2h0M116.5 120h0M116.3 119h0M138.2 143.2h0M147 145.1h0M132.9 110.8h0M134.2 109.8h0M140.1 143.5h0M141.8 144h0M106.8 132.5h0M105.8 132.9h0M104.1 132.3h0M141.9 152.4h0M157.8 156.1h0M159.2 153.9h0M119.9 161.5h0M121.2 161h0M121.1 142.9h0M121 161h0M125.2 160.7h0M127.1 125.8h0M144.9 165.6h0M136.9 140h0M133.9 140.1h0M152.7 131.1h0M139.4 164.7h0M138 165.1h0M159.7 144h0M159.6 141h0M128 105.4h0M127.1 107h0M112.2 138.5h0M111.8 140.3h0M145.3 143.1h0M147.1 142.4h0M122.6 161.4h0M123.9 160.8h0M124.9 159.3h0M130.1 138.5h0M130.4 140.4h0M112 146.5h0M110.7 145.4h0M110 123.8h0M108.6 124.3h0M160 147.5h0M107.4 135.8h0M122.7 124.5h0M155.9 128.7h0M135.4 122.5h0M133.8 122.4h0M112.7 155.5h0M134.1 165.7h0M133.1 165.2h0M133.4 164.1h0M146.3 159.4h0M146.2 157.6h0M145.2 157.2h0M135.8 170.9h0M146.9 118.8h0M145.6 119.3h0M145.3 120.3h0M125.2 120.7h0M132.1 105.1h0M131.9 106.2h0M130.1 106.9h0M147.7 130.7h0M132.2 166h0M130.8 166.5h0M135.2 149.6h0M134.1 147.9h0M144.9 126.5h0M158 144h0M157.7 142.2h0M112.8 126.8h0M121.6 143.4h0M114.6 131.1h0M114.9 132.8h0M115.8 133.5h0M117.4 108h0M121.9 152.3h0M122.3 151.4h0M109.8 125.2h0M109.4 126.7h0M145.1 161h0M144.7 159.8h0M143.4 159h0M125 127h0M123.6 125.4h0M133.7 121.2h0M135.4 119.5h0M150.7 163h0M127.5 156.3h0M129.1 155.6h0M141.9 117.6h0M140.5 116.4h0M117.3 132.1h0M115.5 132.5h0M120.9 115.1h0M119.6 116.2h0M150.5 162.4h0M149.1 161.1h0M149.2 159.5h0M113.7 137.4h0M110.9 133.2h0M120.6 140.2h0M124 140.6h0M125.9 127.6h0M125.6 126.2h0M128.1 152.8h0M127.7 155.8h0M141.3 119.2h0M140.1 119.3h0M152.8 140.6h0M153.9 140.6h0M150.3 145h0M132.9 113.3h0M139.7 167.9h0M137.1 168.5h0M153.2 143.9h0M135.9 129.4h0M137 128.6h0M157.8 144.6h0M105.4 117.4h0M103.1 117.8h0M145.3 146.8h0M146.4 145.8h0M127.4 117.6h0M128.4 115.9h0M106.1 114.3h0M104.8 112.9h0M123.3 118.8h0M121.3 155.3h0M122 153.7h0M116 149.9h0M104.7 120h0M106.2 121h0M127.9 142.4h0M127.6 143.8h0M120.1 152.5h0M130.8 101.7h0M117.2 131.6h0M142.3 163.7h0M147.4 166.9h0M130.4 143.3h0M129.1 142.2h0M127.6 143.4h0M151.6 137.7h0M150.5 138.3h0M145.9 147.4h0M147.3 148.5h0M142.5 133.3h0M149.9 135.2h0M143.7 127.8h0M142.7 126.8h0M131.9 134.3h0M151.5 160.8h0M153.7 129.8h0M153.5 131.9h0M119.2 116h0M154.7 161.6h0M123.3 136.8h0M121.9 139.3h0M157.5 141.9h0M122.3 125.1h0M122.2 126.4h0M107.2 123.9h0M109.1 123.4h0M115.1 147.6h0M129.9 100h0M139.2 162.6h0M139.4 160.3h0M136.5 121h0M136.6 122.2h0M119.5 133.8h0M120.4 132.3h0M106.6 126.7h0M105.7 118.2h0M126.3 141.8h0M132.8 121.6h0M134.3 121.6h0M108.6 115.9h0M107.3 115.6h0M108.6 110h0M110.4 109.3h0M110.2 107.6h0M123.5 126.9h0M119.3 114h0M128.3 122.4h0M157 128.6h0M139.1 125.4h0M108.1 139.9h0M138 152.4h0M140.6 154.1h0M107.2 113.4h0M105.3 111.8h0M114.6 129h0M157 147.6h0M156.8 149.1h0M158.2 149.8h0M132 152.6h0M134.2 158h0M135.6 157.9h0M136.6 157.1h0M118.6 149.2h0M122.9 138.5h0M123.9 139h0M122.2 118.5h0M121.6 117h0M149.1 137.9h0M110.6 138.5h0M111.8 138.3h0M112.4 139.2h0M138.6 169.9h0M148.3 131.6h0M150.7 131.7h0M133.9 161.9h0M136.9 159.9h0M117.3 120h0M141.7 143.9h0M141 145.4h0M144.5 164.4h0M144.8 162.5h0M118.3 111.5h0M118.4 113.4h0M119.8 114.3h0M133.7 136h0M134.1 137.6h0M133.1 138.4h0M114.6 157.2h0M133.2 142.6h0M135.9 140.8h0M110.7 136.9h0M109 137h0M109 138.6h0M113.5 142.2h0M137.2 114.6h0M144.8 146.3h0M145.9 145.6h0M106.5 146h0M154.6 122.9h0M122.2 134.7h0M121.1 132.2h0M126.8 169.7h0M125.7 169.2h0M153.8 145.5h0M155.3 144.7h0M124.1 143.6h0M125.3 144.8h0M150.8 147.1h0M151.7 144.8h0M134 103.8h0M130 132.8h0M131.1 132.8h0M128.9 113.4h0M129.6 112.3h0M128.4 111.3h0M151.4 140.8h0M111 145.7h0M127.6 135.9h0M130.7 108.8h0M108.6 126.7h0M107.7 127.7h0M109.8 126.4h0M134.3 142.2h0M134.8 141.2h0M148.3 146.2h0M119.4 105h0M144.1 128.5h0M110.7 132.4h0M129.5 134.9h0M129.9 133.3h0M130.9 133.4h0M139 109.6h0M150 127.1h0M147.5 158.5h0M145.5 158.9h0M126.8 154.1h0M121.9 131.2h0M130.9 145.5h0M114.7 110.9h0M133.6 107h0M132.1 107.1h0M116.7 110.1h0M115.6 111.5h0M156.1 121.3h0M154.5 127.3h0M154.2 126.3h0M136.5 128.7h0M135.2 129.6h0M109.2 122.9h0M134.2 167.3h0M135.7 106h0M139.1 152.5h0M140.6 153.4h0M111 125.3h0M112.8 124.8h0M102.5 144h0M104 143.6h0M118.6 166.8h0M133.4 126.6h0M133.7 125.5h0M124.5 166.6h0M127 165h0M159.1 141.9h0M159.7 143.2h0M135.2 147.3h0M127.9 112.3h0M127.7 132.7h0M129 132.6h0M129.9 133.5h0M144.6 145.9h0M121 115.9h0M119.3 116.1h0M118.1 117.4h0M139.3 163.9h0M136.9 162.4h0M119.3 143h0M136.5 122.2h0M130.6 149.2h0M128.9 148.8h0M153.5 159.6h0M116.5 110.8h0M116.8 113.4h0M109.5 137.4h0M127.6 118h0M146.4 159.8h0M147.5 160.4h0M146.9 161.9h0M156.2 126.4h0M123.1 125.6h0M123.6 122.8h0M113.3 147.4h0M115.5 149.4h0M148.8 160.8h0M147.7 163.1h0M150.4 148.8h0M149.6 148h0M149.7 147h0M140 137.7h0M138.3 140.1h0M140.7 121.8h0M142.1 120.8h0M141.2 137.2h0M142.8 137.7h0M157.6 158.6h0M156.8 159.8h0M155.9 161.4h0M117.3 152.3h0M137 109.8h0M137.5 111.4h0M139.4 145.7h0M137.8 146.3h0M136.7 147.9h0M146.3 129.6h0M144.6 128.9h0M108.2 134.3h0M108.1 135.6h0M107.7 136.8h0M155.5 144.2h0M155.3 146h0M144.1 118.5h0M145.1 118.5h0M131.4 133.2h0M148.2 116.2h0M106.7 116.1h0M120.6 141h0M130.1 167.4h0M133.9 138.4h0M135.3 161.4h0M136.5 162h0M110.6 143.9h0M112.9 144.6h0M120.9 144.9h0M118.2 144h0M119.2 140.6h0M116.5 141.4h0" stroke="#1c6a1c" stroke-width="1.30" stroke-linecap="round" fill="none"/>
<path d="M130.2 154.8l1.5 1.1l-.9 1.6l1.6 .8M156.2 164.4M105.2 120.7l.1-1.8l.4-1.5l.7-1M111.3 128.3l1-.3l1.1 .9l.9-.6M121.8 111.1l.4-1.9l1.5 .1l.5 1.5M131.2 113.7l-1.2 .1l-1.6 .1l-1-.5M105.5 125.3l.7 1.8l-.8 1.4l-1.3-.4M159.1 154.9l.5-1.3l-.4-1.9l-1.3-.7M134.2 105.7l-.3 1.5l-1.7 .4l-2-.1M111.5 121.4l-.2-1.2l.3-1.3l.4-1.7M162 126.3M99.6 127.5l-1.1 .8M128.6 139.4l1.1 1.3l1.9 .2l-.2 1.7M126.6 107.4l0-1.1l1.3-1l-.8-1.8M132.3 135.7l.3 1.9l.9 1.6l-.4 1.9M100.9 123.9l-.6 1.5l-.6 .8M138.9 164.8l-1.1 1.2l-1.6-.6l-1-.9M143.6 109.4l-1.7-.3l-.6-.9M126.5 140.3l.8-1.4l1.2-1.5l1.7 .3M103.4 141.1l-1.1-.8l-1.1 .6M127.8 112.4l-.8 .9l.9 1.2l.9 .8M113.6 128.9l1.4 .6l1.2 1.6l1.3 1.3M150.1 122l1.2 1.2l1 .4l1.7-.7M104.2 128.2l.5-.9l0-1l-1.2-.2M105.3 111.1l-.4 1.3l1.8 .6l-.3 1.7M117.6 111.2l-1.6 1.2l-1.7 0l-1-.4M131.9 145.1l.9 .8l0 1l1.6 .4M140.4 154.7l1.8-.1l.9-.4l1.4-.4M136.8 134.9l-1.5-.9l-.9 1.5l-.4 1.2M122.9 132.7l1.5 0l1.1 .1l.3 1.7M153.4 126.5l.1 1.2l-1 1.1l.3 1.7M114.4 153.3l1.7 .9l1.1-.4l1.5 .5M123.9 152.3l.2 1.7l-1.5 .4l-1.2 .9M113.5 119l-.7-.8l-.4-1.5l1-1M141.1 124.7l1.5-1.1l1.2 1.4l-.4 1.5M127.3 158.5l.2-1.9l-1.3-.7l-1.6 .6M148.1 147.8l-.3 1.7l1 .6l1.1-.4M125 131.3l1-1.7l-.3-1.6l.3-1.9M148.2 157.1l1.3-.8l1.2-.2l1.3-.2M146.2 145.8l-.5 .9l1.4 .8l1.7-.6M154.3 144.3l-.4 1.3l-1.1 .4l-1-.7M135.7 148l-1.5 .5l.1 1.3l1.6 1.1M155.5 128.5l1.8 0l.9 .8l-.6 1.2M141.9 159.5l.3-1.5l-.3-1.3l-1.1-1.4M153 144.8l.9-.6l1-1.6l1.7 .2M124.1 145.3l-1.5 .8l-.8-.9l-1.4 .8M101.7 117.1l1.4-.8l-.1-1.3M99.1 122.4M140.4 139l1.6 .6l1.2-1.4l.6-1.5M104.8 138.3l-.1-1.1l1-.2l1.9 .5M149.3 130.5l1.2 1.1l1.1-.6l1.3-.1M141.3 162.6l.6 1.8l.9 1.1l.1 1.2M111.5 124.2l.2 1l.4 .9l0 1.3M130.8 150.7l-.3-1.3l-1.2-.6l-.2-1.3M137.1 111.6l1.6 0l.7-1.6l1-1.7M111.1 111.9l1.1 .5l1.8-.1l1.5 .5M157.4 145.7l.6 1.1l1 1.1l-.3 1.4M126.5 136.6l-.5 .9l.5 1.3l1.4-.1M108 121l-1.8 .2l-1.4-1.1M126.2 108.1l-1.2 1.2l-.9 .9l-1.3 .3M127.2 102.3l-1.1 .8l-1.4 0l-.7-1M149.7 162.4l.6 1.1l1.3 1.1M140.8 126.4l-.5 1.1l-1.8-.5l-.3-1.6M128.5 105.2l1.2 1.3l.1 1.9l1.1 1M137.6 168.9l-1.2-.1l-1-1l0-1.4M138.5 137.7l-.5 1.3l-.6 .9l-1.1 .1M150 121.1l.1-1.2l-1.1-.8l.1-1.6M101.9 130.1l1.1 .5l1.7 .9l1.6-.2M125.6 155.9l1-.2l1.2-.3l1.1 .5M163.3 148.9M146.9 152.4l-1.5 .6l-1.7 .6l-1.4-1.3M110.2 124l-1-.6l-.1-1l-.8-1.1M154.4 124.7l1.9 .6l1.2 .6M135.8 170.2l1.7 .1l1.2-.9M126.1 126.4l.7-1.4l1.6-.1l-.1-1.4M113.8 134l-.6 1.3l-.5 1.1l-1 .3M134 130.5l1.1-.1l.3-1l.5-1.2M159.4 124l-1.1 .2M138.2 163.9l1.6-.1l.6-1.1l1.6 0M139.9 122.4l-1 1.1l-1.1-.7l-1.9 .3M132.6 112l-.7 .8l.7 1.8l-.8 1M146.6 170.2M116.5 109.8l1.2 .9l.6 .9l-.9 .5M138.6 151.2l-1.4-1l-1.1-.1l-1.9-.5M128.5 117.3l.1-1.3l-.8-1.6l-1.7 .1M104 130.4l-.8-.8l-1.3 .7l-1.5 .1M120.1 113.8l1.5-1.1l1 1l-.8 1.2M132.6 116.9l1.7 .6l.2 1.2l1.5 0M102.4 128.8l-.7-1.8l1 0M140.2 153.8l-1.4-.8l.1-1.9l.9-1.1M114.1 149.8l-.8 1.1l-1.1 .5M147.4 132.4l-.6-1l-.1-1l1.7-.9M146.3 129l1.2-1.6l1.5 .5l1.6-.5M144 125.6l-.5 1.9l-.9 1.1l-1.9 .2M127.7 117.3l.3-1.5l1.4-1l-.4-1.9M143 161.6l1.6-.6l1 1.3l1.1 .4M148.6 161l-1.6-1.2l-1-.9l0-1.7M138.9 120.6l-1.9 .6l.1 1.3l.5 1M136.7 169.7l-1.8-.6l-1.3-.7l-.8-1.2M124.5 112.6l-1.5 1l.2 1.5l.4 1.3M124.9 125.8l.4 .9l-.2 1.8l-1.2 .3M113.6 124.5l1.2-1.2l1.2 1.1l-1 1.5M122.4 148.7l-1.2 .2l-.9-.8l-.5-1.1M146.6 157.6l-.9-1.3l-1.6 1.2l-1.1 .8M153.3 130.7l1.3-.6l.1-1.8l-.5-1.2M107.9 118.3l-1.1-1.4l-1-.8l.3-1M132.4 137.7l.2 1.4l1.5 1l1.1-.1M122.7 134.6l1 .9l.6 1.6l1.3-.1M109.7 116.5l-.3-1.3l1.5-.4l1.9-.3M146.9 149.9l.8 1.7l1.7 .5l1.2 .4" stroke="#3c8c3c" stroke-width="0.6" fill="none" stroke-linejoin="round" />
<path d="M130.8 157.5h0M132.4 158.3h0M106.4 116.4h0M112.3 128h0M127.4 113.4h0M106.2 127.1h0M105.4 128.5h0M159.6 153.6h0M157.9 151h0M132.2 107.6h0M111.6 118.9h0M112 117.2h0M129.7 140.7h0M131.6 140.9h0M131.4 142.6h0M127.1 103.5h0M132.6 137.6h0M133.1 141.1h0M136.2 165.4h0M135.2 164.5h0M141.9 109.1h0M141.3 108.2h0M127.3 138.9h0M128.5 137.4h0M130.2 137.7h0M102.3 140.3h0M128.8 115.3h0M115 129.5h0M151.3 123.2h0M152.3 123.6h0M154 122.9h0M104.7 127.3h0M103.5 126.1h0M104.9 112.4h0M106.4 114.7h0M116 112.4h0M113.3 112h0M132.8 145.9h0M134.4 135.5h0M134 136.7h0M124.4 132.7h0M153.5 127.7h0M152.5 128.8h0M116.1 154.2h0M118.7 154.3h0M122.6 154.4h0M113.4 115.7h0M142.6 123.6h0M143.4 126.5h0M124.6 156.5h0M148.8 150.1h0M149.9 149.7h0M126 129.6h0M125.7 128h0M149.5 156.3h0M145.7 146.7h0M147.1 147.5h0M151.8 145.3h0M134.3 149.8h0M157.6 130.5h0M142.2 158h0M156.6 142.8h0M103.1 116.3h0M143.2 138.2h0M143.8 136.7h0M104.7 137.2h0M107.6 137.5h0M152.9 130.9h0M142.9 166.7h0M112.1 126.1h0M112.1 127.4h0M130.5 149.4h0M129.3 148.8h0M129.1 147.5h0M140.4 108.3h0M114 112.3h0M159 147.9h0M158.7 149.3h0M126.5 138.8h0M104.8 120.1h0M150.3 163.5h0M129.8 108.4h0M130.9 109.4h0M135.4 167.8h0M138 139h0M137.4 139.9h0M136.3 140h0M149 119.1h0M149.1 117.5h0M106.3 131.3h0M126.6 155.7h0M127.8 155.4h0M128.9 155.9h0M145.4 153h0M142.3 152.3h0M156.3 125.3h0M138.7 169.4h0M126.8 125h0M128.4 124.9h0M113.2 135.3h0M135.4 129.4h0M139.8 163.8h0M142 162.7h0M138.9 123.5h0M137.8 122.8h0M134.2 149.6h0M127.8 114.4h0M126.1 114.5h0M122.6 113.7h0M121.8 114.9h0M134.3 117.5h0M134.5 118.7h0M101.7 127h0M102.7 127h0M138.9 151.1h0M139.8 150h0M113.3 150.9h0M146.7 130.4h0M147.5 127.4h0M149 127.9h0M150.6 127.4h0M129 112.9h0M147 159.8h0M146 158.9h0M137 121.2h0M137.1 122.5h0M132.8 167.2h0M123 113.6h0M123.6 116.4h0M114.8 123.3h0M116 124.4h0M120.3 148.1h0M144.1 157.5h0M154.6 130.1h0M154.7 128.3h0M105.8 116.1h0M134.1 140.1h0M125.6 137h0M147.7 151.6h0M150.6 152.5h0" stroke="#3c8c3c" stroke-width="1.30" stroke-linecap="round" fill="none"/>
<path d="M52.7 109.7A3.9000000000000004 3.9000000000000004 0 0 0 55.3 102.3Z" fill="#d84838" fill-opacity="0.72"/>
<path d="M54.9 112.3A3.12 3.12 0 0 0 59.1 107.7Z" fill="#d84838" fill-opacity="0.72"/>
<path d="M61.9 155.1A3.6399999999999997 3.6399999999999997 0 0 0 58.1 148.9Z" fill="#d84838" fill-opacity="0.72"/>
<path d="M74.2 146.1A4.16 4.16 0 0 0 65.8 145.9Z" fill="#d84838" fill-opacity="0.72"/>
<path d="M81.1 144.1A3.12 3.12 0 0 0 74.9 143.9Z" fill="#d84838" fill-opacity="0.72"/>
<path d="M83.0 115.4A2.6 2.6 0 0 0 83.0 120.6Z" fill="#d84838" fill-opacity="0.72"/>
<path d="M62.3 124.3A2.3400000000000003 2.3400000000000003 0 0 0 61.7 119.7Z" fill="#d84838" fill-opacity="0.72"/>
<path d="M96.2 153.3A3.9000000000000004 3.9000000000000004 0 0 0 93.9 160.7Z" fill="#d84838" fill-opacity="0.72"/>
<path d="M94.4 161.5A2.8600000000000003 2.8600000000000003 0 0 0 89.6 164.5Z" fill="#d84838" fill-opacity="0.72"/>
<path d="M93.6 112.5A2.8600000000000003 2.8600000000000003 0 0 0 98.4 115.5Z" fill="#d84838" fill-opacity="0.72"/>
<path d="M140.2 103.3A3.9000000000000004 3.9000000000000004 0 0 0 145.8 108.7Z" fill="#d84838" fill-opacity="0.72"/>
<path d="M141.0 125.1A2.8600000000000003 2.8600000000000003 0 0 0 141.0 130.9Z" fill="#d84838" fill-opacity="0.72"/>
<path d="M130.1 172.1A3.12 3.12 0 0 0 123.9 171.9Z" fill="#d84838" fill-opacity="0.72"/>
<path d="M111.0 112.7A2.3400000000000003 2.3400000000000003 0 0 0 115.0 115.3Z" fill="#d84838" fill-opacity="0.72"/>
<path d="M104.0 128.7A2.3400000000000003 2.3400000000000003 0 0 0 104.0 133.3Z" fill="#d84838" fill-opacity="0.72"/>
<linearGradient id="bg1" x1="0" y1="0" x2="0" y2="1"><stop offset="0" stop-color="#000" stop-opacity="0.10"/><stop offset="0.45" stop-color="#000" stop-opacity="0"/></linearGradient>
<rect x="38.9" y="48.9" width="39.3" height="28.6" fill="url(#bg1)"/>
<rect x="40.2" y="50.2" width="39.3" height="28.6" fill="none" stroke="#000" stroke-opacity="0.08" stroke-width="2.4"/>
<rect x="38.9" y="48.9" width="39.3" height="28.6" fill="none" stroke="#000" stroke-width="1.5"/>
<text x="172.0" y="54.6" font-size="12.5" fill="#0d0dff" text-anchor="middle" >“light”</text>
<text x="172.0" y="69.2" font-size="12.5" fill="#0d0dff" text-anchor="middle" >dimethyl</text>
<text x="172.0" y="83.8" font-size="12.5" fill="#0d0dff" text-anchor="middle" >labeling</text>
<path d="M144.4 107.8H198.2" stroke="#000" stroke-width="3.8" fill="none"/>
<path d="M188.9 101.5L198.8 107.8L188.9 114.1" stroke="#000" stroke-width="3.8" fill="none" stroke-linecap="round" stroke-linejoin="miter"/>
<text x="317.8" y="75.8" font-size="12.5" fill="#000" text-anchor="start" >digest</text>
<path d="M313.9 107.6H353.5" stroke="#000" stroke-width="3.8" fill="none"/>
<path d="M344.2 101.3L354.1 107.6L344.2 113.9" stroke="#000" stroke-width="3.8" fill="none" stroke-linecap="round" stroke-linejoin="miter"/>
<path d="M379.3 73.3C379.6 78.0 381.6 80.0 384.5 80.0C392.5 80.0 397.6 61.2 405.6 61.2C410.5 61.2 413.8 66.0 416.5 70.0" stroke="#808080" stroke-width="4.6" fill="none"/>
<text x="393.5" y="70.2" font-size="10" font-weight="bold" fill="#000" stroke="#000" stroke-width="0.3" textLength="6.2" lengthAdjust="spacingAndGlyphs">K</text>
<path d="M423.6 70.7C423.9 75.2 426.0 77.2 429.0 77.2C437.7 77.2 443.1 58.2 451.8 58.2C456.4 58.2 459.4 62.7 462.0 66.3" stroke="#808080" stroke-width="4.6" fill="none"/>
<path d="M436.50 64.00L425.00 56.50" stroke="#000" stroke-width="1.2" fill="none"/>
<path d="M439.50 63.00L446.00 50.00" stroke="#000" stroke-width="1.2" fill="none"/>
<text x="422.6" y="56.8" font-size="10.6" font-weight="bold" fill="#0d0dff" stroke="#0d0dff" stroke-width="0.3" textLength="14.6" lengthAdjust="spacingAndGlyphs">CH</text>
<text x="437.2" y="59.3" font-size="8.3" font-weight="bold" fill="#0d0dff" stroke="#0d0dff" stroke-width="0.25" textLength="4.3" lengthAdjust="spacingAndGlyphs">3</text>
<text x="446.6" y="53.2" font-size="10.6" font-weight="bold" fill="#0d0dff" stroke="#0d0dff" stroke-width="0.3" textLength="14.6" lengthAdjust="spacingAndGlyphs">CH</text>
<text x="461.2" y="55.7" font-size="8.3" font-weight="bold" fill="#0d0dff" stroke="#0d0dff" stroke-width="0.25" textLength="4.4" lengthAdjust="spacingAndGlyphs">3</text>
<text x="435.0" y="70.4" font-size="10" font-weight="bold" fill="#0d0dff" stroke="#0d0dff" stroke-width="0.3" textLength="6.4" lengthAdjust="spacingAndGlyphs">K</text>
<path d="M382.2 100.5C382.5 106.1 385.1 108.5 388.6 108.5C395.0 108.5 399.1 98.6 405.5 98.6C409.8 98.6 412.7 106.0 415.1 112.0" stroke="#ffff00" stroke-width="4.6" fill="none"/>
<path d="M392.50 102.00L382.50 94.50" stroke="#000" stroke-width="1.2" fill="none"/>
<path d="M396.00 102.00L401.00 95.50" stroke="#000" stroke-width="1.2" fill="none"/>
<text x="381.2" y="93.6" font-size="10.6" font-weight="bold" fill="#0d0dff" stroke="#0d0dff" stroke-width="0.3" textLength="13.9" lengthAdjust="spacingAndGlyphs">CH</text>
<text x="395.1" y="96.1" font-size="8.3" font-weight="bold" fill="#0d0dff" stroke="#0d0dff" stroke-width="0.25" textLength="4.2" lengthAdjust="spacingAndGlyphs">3</text>
<text x="403.4" y="95.7" font-size="10.6" font-weight="bold" fill="#0d0dff" stroke="#0d0dff" stroke-width="0.3" textLength="14.3" lengthAdjust="spacingAndGlyphs">CH</text>
<text x="417.7" y="98.2" font-size="8.3" font-weight="bold" fill="#0d0dff" stroke="#0d0dff" stroke-width="0.25" textLength="4.3" lengthAdjust="spacingAndGlyphs">3</text>
<text x="391.1" y="108.7" font-size="10" font-weight="bold" fill="#0d0dff" stroke="#0d0dff" stroke-width="0.3" textLength="6.2" lengthAdjust="spacingAndGlyphs">K</text>
<path d="M426.2 99.8C426.4 105.9 428.4 108.5 431.0 108.5C437.5 108.5 441.5 98.6 448.0 98.6C453.6 98.6 457.3 105.6 460.4 111.4" stroke="#ffff00" stroke-width="4.6" fill="none"/>
<path d="M436.50 102.00L425.00 94.50" stroke="#000" stroke-width="1.2" fill="none"/>
<path d="M440.50 102.00L447.00 95.00" stroke="#000" stroke-width="1.2" fill="none"/>
<text x="423.3" y="93.6" font-size="10.6" font-weight="bold" fill="#0d0dff" stroke="#0d0dff" stroke-width="0.3" textLength="14.3" lengthAdjust="spacingAndGlyphs">CH</text>
<text x="437.6" y="96.1" font-size="8.3" font-weight="bold" fill="#0d0dff" stroke="#0d0dff" stroke-width="0.25" textLength="4.3" lengthAdjust="spacingAndGlyphs">3</text>
<text x="444.6" y="93.6" font-size="10.6" font-weight="bold" fill="#0d0dff" stroke="#0d0dff" stroke-width="0.3" textLength="14.8" lengthAdjust="spacingAndGlyphs">CH</text>
<text x="459.4" y="96.1" font-size="8.3" font-weight="bold" fill="#0d0dff" stroke="#0d0dff" stroke-width="0.25" textLength="4.4" lengthAdjust="spacingAndGlyphs">3</text>
<text x="435.7" y="108.7" font-size="10" font-weight="bold" fill="#0d0dff" stroke="#0d0dff" stroke-width="0.3" textLength="6.1" lengthAdjust="spacingAndGlyphs">K</text>
<path d="M380.2 124.5C380.4 129.6 382.2 131.8 384.6 131.8C390.8 131.8 394.6 122.4 400.8 122.4C405.4 122.4 408.4 130.2 411.0 136.6" stroke="#17375e" stroke-width="4.6" fill="none"/>
<text x="407.0" y="128.4" font-size="10" font-weight="bold" fill="#000" stroke="#000" stroke-width="0.3" textLength="6.1" lengthAdjust="spacingAndGlyphs">K</text>
<path d="M427.0 127.3C427.2 132.3 428.6 134.5 430.6 134.5C437.2 134.5 441.5 125.8 448.1 125.8C452.1 125.8 454.8 133.2 457.0 139.3" stroke="#17375e" stroke-width="4.6" fill="none"/>
<text x="458.0" y="135.2" font-size="10" font-weight="bold" fill="#000" stroke="#000" stroke-width="0.3" textLength="5.9" lengthAdjust="spacingAndGlyphs">K</text>
<path d="M571.2 77.6C571.4 80.9 573.2 82.3 575.6 82.3C584.4 82.3 589.9 64.3 598.7 64.3C604.0 64.3 607.5 69.0 610.4 72.8" stroke="#808080" stroke-width="4.6" fill="none"/>
<path d="M574.50 62.00L584.00 69.00" stroke="#000" stroke-width="1.2" fill="none"/>
<path d="M589.00 66.00L593.50 57.50" stroke="#000" stroke-width="1.2" fill="none"/>
<text x="563.2" y="56.6" font-size="7.4" font-weight="bold" fill="#ff0d0d" textLength="8.0" lengthAdjust="spacingAndGlyphs">13</text>
<text x="571.5" y="60.4" font-size="10.6" font-weight="bold" fill="#ff0d0d" stroke="#ff0d0d" stroke-width="0.3" textLength="14.2" lengthAdjust="spacingAndGlyphs">CD</text>
<text x="585.7" y="62.9" font-size="8.3" font-weight="bold" fill="#ff0d0d" stroke="#ff0d0d" stroke-width="0.25" textLength="4.3" lengthAdjust="spacingAndGlyphs">3</text>
<text x="585.5" y="53.7" font-size="7.4" font-weight="bold" fill="#ff0d0d" textLength="7.8" lengthAdjust="spacingAndGlyphs">13</text>
<text x="593.6" y="57.5" font-size="10.6" font-weight="bold" fill="#ff0d0d" stroke="#ff0d0d" stroke-width="0.3" textLength="14.4" lengthAdjust="spacingAndGlyphs">CD</text>
<text x="608.0" y="60.0" font-size="8.3" font-weight="bold" fill="#ff0d0d" stroke="#ff0d0d" stroke-width="0.25" textLength="4.3" lengthAdjust="spacingAndGlyphs">3</text>
<text x="583.4" y="73.3" font-size="10" font-weight="bold" fill="#ff0d0d" stroke="#ff0d0d" stroke-width="0.3" textLength="6.5" lengthAdjust="spacingAndGlyphs">K</text>
<path d="M616.4 71.2C616.6 74.9 618.1 76.5 620.2 76.5C628.7 76.5 634.0 58.4 642.5 58.4C647.8 58.4 651.3 63.1 654.2 67.0" stroke="#808080" stroke-width="4.6" fill="none"/>
<path d="M626.50 63.00L616.00 56.50" stroke="#000" stroke-width="1.2" fill="none"/>
<path d="M631.00 63.00L638.00 53.00" stroke="#000" stroke-width="1.2" fill="none"/>
<text x="614.0" y="56.8" font-size="10.6" font-weight="bold" fill="#0d0dff" stroke="#0d0dff" stroke-width="0.3" textLength="14.1" lengthAdjust="spacingAndGlyphs">CH</text>
<text x="628.1" y="59.3" font-size="8.3" font-weight="bold" fill="#0d0dff" stroke="#0d0dff" stroke-width="0.25" textLength="4.2" lengthAdjust="spacingAndGlyphs">3</text>
<text x="635.9" y="52.4" font-size="10.6" font-weight="bold" fill="#0d0dff" stroke="#0d0dff" stroke-width="0.3" textLength="14.1" lengthAdjust="spacingAndGlyphs">CH</text>
<text x="650.0" y="54.9" font-size="8.3" font-weight="bold" fill="#0d0dff" stroke="#0d0dff" stroke-width="0.25" textLength="4.2" lengthAdjust="spacingAndGlyphs">3</text>
<text x="626.4" y="69.9" font-size="10" font-weight="bold" fill="#0d0dff" stroke="#0d0dff" stroke-width="0.3" textLength="5.9" lengthAdjust="spacingAndGlyphs">K</text>
<path d="M580.4 98.6C580.7 103.1 583.3 105.0 586.8 105.0C592.9 105.0 596.7 97.6 602.8 97.6C607.1 97.6 609.9 104.7 612.3 110.5" stroke="#ffff00" stroke-width="4.6" fill="none"/>
<path d="M591.50 101.50L579.00 95.50" stroke="#000" stroke-width="1.2" fill="none"/>
<path d="M595.50 101.50L601.00 96.00" stroke="#000" stroke-width="1.2" fill="none"/>
<text x="576.6" y="95.5" font-size="10.6" font-weight="bold" fill="#0d0dff" stroke="#0d0dff" stroke-width="0.3" textLength="14.0" lengthAdjust="spacingAndGlyphs">CH</text>
<text x="590.6" y="98.0" font-size="8.3" font-weight="bold" fill="#0d0dff" stroke="#0d0dff" stroke-width="0.25" textLength="4.2" lengthAdjust="spacingAndGlyphs">3</text>
<text x="599.9" y="95.5" font-size="10.6" font-weight="bold" fill="#0d0dff" stroke="#0d0dff" stroke-width="0.3" textLength="14.1" lengthAdjust="spacingAndGlyphs">CH</text>
<text x="614.0" y="98.0" font-size="8.3" font-weight="bold" fill="#0d0dff" stroke="#0d0dff" stroke-width="0.25" textLength="4.2" lengthAdjust="spacingAndGlyphs">3</text>
<text x="591.9" y="109.1" font-size="10" font-weight="bold" fill="#0d0dff" stroke="#0d0dff" stroke-width="0.3" textLength="5.8" lengthAdjust="spacingAndGlyphs">K</text>
<path d="M622.0 98.4C622.2 101.9 624.0 103.4 626.4 103.4C633.0 103.4 637.1 96.4 643.7 96.4C648.7 96.4 652.0 103.8 654.7 109.8" stroke="#ffff00" stroke-width="4.6" fill="none"/>
<path d="M635.00 100.00L623.00 95.00" stroke="#000" stroke-width="1.2" fill="none"/>
<path d="M638.50 100.00L643.50 95.00" stroke="#000" stroke-width="1.2" fill="none"/>
<text x="621.8" y="95.5" font-size="10.6" font-weight="bold" fill="#0d0dff" stroke="#0d0dff" stroke-width="0.3" textLength="14.0" lengthAdjust="spacingAndGlyphs">CH</text>
<text x="635.8" y="98.0" font-size="8.3" font-weight="bold" fill="#0d0dff" stroke="#0d0dff" stroke-width="0.25" textLength="4.2" lengthAdjust="spacingAndGlyphs">3</text>
<text x="645.2" y="95.5" font-size="10.6" font-weight="bold" fill="#0d0dff" stroke="#0d0dff" stroke-width="0.3" textLength="14.0" lengthAdjust="spacingAndGlyphs">CH</text>
<text x="659.2" y="98.0" font-size="8.3" font-weight="bold" fill="#0d0dff" stroke="#0d0dff" stroke-width="0.25" textLength="4.2" lengthAdjust="spacingAndGlyphs">3</text>
<text x="635.0" y="107.6" font-size="10" font-weight="bold" fill="#0d0dff" stroke="#0d0dff" stroke-width="0.3" textLength="5.8" lengthAdjust="spacingAndGlyphs">K</text>
<path d="M572.6 131.6C572.9 136.1 574.9 138.0 577.6 138.0C583.0 138.0 586.4 131.6 591.8 131.6C597.5 131.6 601.2 138.8 604.4 144.7" stroke="#17375e" stroke-width="4.6" fill="none"/>
<path d="M598.50 130.00L588.00 125.50" stroke="#000" stroke-width="1.2" fill="none"/>
<path d="M604.00 131.00L611.00 125.50" stroke="#000" stroke-width="1.2" fill="none"/>
<text x="576.7" y="122.5" font-size="7.4" font-weight="bold" fill="#ff0d0d" textLength="7.6" lengthAdjust="spacingAndGlyphs">13</text>
<text x="584.6" y="126.3" font-size="10.6" font-weight="bold" fill="#ff0d0d" stroke="#ff0d0d" stroke-width="0.3" textLength="14.6" lengthAdjust="spacingAndGlyphs">CD</text>
<text x="599.2" y="128.8" font-size="8.3" font-weight="bold" fill="#ff0d0d" stroke="#ff0d0d" stroke-width="0.25" textLength="4.4" lengthAdjust="spacingAndGlyphs">3</text>
<text x="602.7" y="122.5" font-size="7.4" font-weight="bold" fill="#ff0d0d" textLength="8.1" lengthAdjust="spacingAndGlyphs">13</text>
<text x="611.1" y="126.3" font-size="10.6" font-weight="bold" fill="#ff0d0d" stroke="#ff0d0d" stroke-width="0.3" textLength="14.2" lengthAdjust="spacingAndGlyphs">CD</text>
<text x="625.3" y="128.8" font-size="8.3" font-weight="bold" fill="#ff0d0d" stroke="#ff0d0d" stroke-width="0.25" textLength="4.3" lengthAdjust="spacingAndGlyphs">3</text>
<text x="598.5" y="136.8" font-size="10" font-weight="bold" fill="#ff0d0d" stroke="#ff0d0d" stroke-width="0.3" textLength="6.8" lengthAdjust="spacingAndGlyphs">K</text>
<path d="M618.9 134.0C619.1 137.1 621.1 138.4 623.7 138.4C629.4 138.4 633.1 133.2 638.8 133.2C644.5 133.2 648.2 140.5 651.4 146.4" stroke="#17375e" stroke-width="4.6" fill="none"/>
<path d="M649.00 137.00L640.00 128.50" stroke="#000" stroke-width="1.2" fill="none"/>
<path d="M655.00 138.00L664.00 130.50" stroke="#000" stroke-width="1.2" fill="none"/>
<text x="632.1" y="125.0" font-size="7.4" font-weight="bold" fill="#ff0d0d" textLength="7.3" lengthAdjust="spacingAndGlyphs">13</text>
<text x="639.7" y="128.8" font-size="10.6" font-weight="bold" fill="#ff0d0d" stroke="#ff0d0d" stroke-width="0.3" textLength="14.2" lengthAdjust="spacingAndGlyphs">CD</text>
<text x="653.9" y="131.3" font-size="8.3" font-weight="bold" fill="#ff0d0d" stroke="#ff0d0d" stroke-width="0.25" textLength="4.2" lengthAdjust="spacingAndGlyphs">3</text>
<text x="658.1" y="125.8" font-size="7.4" font-weight="bold" fill="#ff0d0d" textLength="8.1" lengthAdjust="spacingAndGlyphs">13</text>
<text x="666.5" y="129.6" font-size="10.6" font-weight="bold" fill="#ff0d0d" stroke="#ff0d0d" stroke-width="0.3" textLength="14.2" lengthAdjust="spacingAndGlyphs">CD</text>
<text x="680.7" y="132.1" font-size="8.3" font-weight="bold" fill="#ff0d0d" stroke="#ff0d0d" stroke-width="0.25" textLength="4.3" lengthAdjust="spacingAndGlyphs">3</text>
<text x="649.7" y="143.9" font-size="10" font-weight="bold" fill="#ff0d0d" stroke="#ff0d0d" stroke-width="0.3" textLength="6.8" lengthAdjust="spacingAndGlyphs">K</text>
<rect x="212.5" y="37.7" width="82" height="112" fill="#fff" stroke="#000" stroke-width="1.7"/>
<path d="M251 74 L248 70 L252 65 L259 63 L266 64 L268 68 L262 71 L257 74 Z" fill="#c86060" fill-opacity="0.75"/>
<path d="M227 97 L228 91 L232 87 L239 86 L244 89 L246 95 L241 99 L237 103 L233 105 L230 102 Z" fill="#c86060" fill-opacity="0.75"/>
<path d="M228 95 L231 90 L236 89 L236 94 L232 98 Z" fill="#e04040" fill-opacity="0.6"/>
<clipPath id="cb2"><rect x="213.4" y="38.6" width="80.2" height="110.2"/></clipPath>
<g clip-path="url(#cb2)"><path d="M276.5 87.3L280.7 88.7M276.5 87.3L279.4 85.6M271.7 97.3L270.2 94.4M235.0 147.0L237.2 148.4M266.5 102.5L269.8 105.4M266.5 102.5L267.3 99.8M266.5 102.5L271.1 102.6M269.8 105.4L271.1 102.6M269.8 105.4L271.8 108.3M272.0 131.2L272.5 134.5M272.0 131.2L274.5 132.5M272.0 131.2L276.2 129.5M272.0 131.2L269.1 131.2M282.5 145.8L279.1 144.3M282.5 145.8L286.4 146.3M279.1 144.3L276.1 147.6M291.5 124.4L292.1 126.7M291.5 124.4L290.2 120.7M291.5 124.4L288.7 124.7M289.0 85.3L285.1 86.5M289.0 85.3L287.7 88.1M267.2 118.9L265.6 115.6M267.2 118.9L271.3 120.1M267.2 118.9L263.2 117.1M267.2 118.9L267.8 122.3M251.0 143.9L251.6 147.2M251.0 143.9L254.7 144.5M251.0 143.9L248.5 142.9M280.7 88.7L282.6 87.1M280.7 88.7L279.4 85.6M282.6 87.1L285.1 86.5M282.6 87.1L279.4 85.6M293.9 140.7L292.6 143.7M293.9 140.7L293.9 138.3M251.6 147.2L254.7 144.5M266.9 126.5L267.8 122.3M266.9 126.5L270.3 124.2M266.9 126.5L264.4 127.9M246.5 145.7L248.5 142.9M276.1 147.6L273.4 146.5M288.5 98.8L284.0 99.8M288.5 98.8L290.7 97.0M288.5 98.8L288.7 94.5M252.4 121.0L256.3 119.2M252.4 121.0L255.2 124.0M283.9 112.1L283.9 107.6M283.9 112.1L287.5 112.1M283.9 112.1L285.9 114.8M293.5 78.7L291.1 80.9M279.7 138.7L282.6 139.8M279.7 138.7L281.7 137.4M279.7 138.7L275.7 140.0M256.3 119.2L260.1 119.0M256.3 119.2L258.5 115.8M246.0 132.2L249.5 131.8M290.7 145.8L293.5 146.8M290.7 145.8L292.6 143.7M290.7 145.8L286.4 146.3M266.0 133.6L263.8 130.3M266.0 133.6L269.1 131.2M282.6 139.8L281.7 137.4M282.6 139.8L284.6 141.1M271.3 144.0L269.4 147.0M271.3 144.0L273.4 146.5M271.3 144.0L273.8 142.7M254.7 144.5L257.6 145.2M270.2 137.3L272.5 134.5M261.8 107.8L262.4 104.8M285.1 86.5L287.7 88.1M272.5 134.5L274.5 132.5M293.5 110.1L291.2 111.8M293.5 110.1L293.8 113.2M263.8 130.3L264.4 127.9M257.0 149.2L257.6 145.2M256.0 134.4L255.4 138.5M256.0 134.4L251.5 134.0M256.0 134.4L253.7 135.1M281.3 127.7L283.6 123.9M281.3 127.7L278.7 129.4M274.5 132.5L276.2 129.5M256.2 128.4L255.2 124.0M273.6 119.4L271.3 120.1M273.6 119.4L275.4 115.1M273.6 119.4L276.0 117.4M249.3 126.0L251.8 126.2M255.2 124.0L251.8 126.2M255.4 138.5L252.1 137.6M255.4 138.5L253.7 135.1M287.1 127.2L288.7 124.7M293.5 146.8L292.6 143.7M293.5 146.8L293.7 149.9M265.6 115.6L263.2 117.1M291.2 111.8L293.8 113.2M291.2 111.8L287.5 112.1M276.2 129.5L276.0 126.2M276.2 129.5L278.7 129.4M281.6 119.4L279.9 117.6M281.6 119.4L279.1 121.6M274.6 107.7L271.8 108.3M274.6 107.7L277.3 109.6M271.3 120.1L267.8 122.3M271.3 120.1L270.3 124.2M269.4 147.0L273.4 146.5M269.4 147.0L267.5 149.2M283.6 123.9L285.8 122.1M293.8 113.2L293.5 116.7M281.7 94.9L280.4 99.0M281.7 94.9L284.4 93.4M271.1 111.6L271.8 108.3M280.4 99.0L284.0 99.8M280.4 99.0L277.6 99.4M280.4 99.0L280.7 103.4M261.8 143.9L264.9 143.5M261.8 143.9L263.4 141.4M261.8 143.9L264.2 147.3M261.8 143.9L257.6 145.2M288.2 116.8L285.9 114.8M288.2 116.8L290.2 120.7M260.1 119.0L263.2 117.1M260.1 119.0L258.5 115.8M277.2 123.2L276.0 126.2M277.2 123.2L279.1 121.6M286.0 91.3L287.7 88.1M286.0 91.3L284.4 93.4M286.0 91.3L288.9 91.6M286.0 91.3L288.7 94.5M252.1 137.6L251.5 134.0M252.1 137.6L248.0 136.8M252.1 137.6L253.7 135.1M251.5 134.0L248.0 136.8M251.5 134.0L249.5 131.8M251.5 134.0L253.7 135.1M273.4 146.5L273.8 142.7M264.9 143.5L263.4 141.4M264.9 143.5L264.2 147.3M267.8 122.3L270.3 124.2M287.5 112.1L285.9 114.8M292.1 126.7L288.7 124.7M279.1 105.9L277.3 109.6M279.1 105.9L280.7 103.4M287.7 88.1L288.9 91.6M276.0 126.2L278.7 129.4M267.5 149.2L264.2 147.3M290.2 120.7L288.7 124.7M290.2 120.7L285.8 122.1M284.4 93.4L288.7 94.5M279.9 117.6L279.1 121.6M279.9 117.6L276.0 117.4M288.7 124.7L285.8 122.1M291.3 135.0L293.9 138.3M288.9 91.6L288.7 94.5M288.9 91.6L293.0 90.7M275.7 140.0L273.8 142.7M275.4 115.1L276.0 117.4M290.7 97.0L288.7 94.5" stroke="#707070" stroke-width="1.2"/><circle cx="267.5" cy="84.0" r="2.0" fill="#6e6e6e"/><circle cx="272.2" cy="80.7" r="2.0" fill="#6e6e6e"/><circle cx="276.5" cy="87.3" r="2.0" fill="#6e6e6e"/><circle cx="274.6" cy="92.1" r="2.0" fill="#6e6e6e"/><circle cx="271.7" cy="97.3" r="2.0" fill="#6e6e6e"/><circle cx="248.5" cy="105.8" r="2.0" fill="#6e6e6e"/><circle cx="247.6" cy="110.6" r="2.0" fill="#6e6e6e"/><circle cx="241.9" cy="115.3" r="2.0" fill="#6e6e6e"/><circle cx="240.4" cy="121.0" r="2.0" fill="#6e6e6e"/><circle cx="239.5" cy="126.7" r="2.0" fill="#6e6e6e"/><circle cx="236.6" cy="131.0" r="2.0" fill="#6e6e6e"/><circle cx="237.6" cy="137.6" r="2.0" fill="#6e6e6e"/><circle cx="238.1" cy="143.3" r="2.0" fill="#6e6e6e"/><circle cx="235.0" cy="147.0" r="2.0" fill="#6e6e6e"/><circle cx="257.0" cy="94.4" r="2.0" fill="#6e6e6e"/><circle cx="261.3" cy="97.3" r="2.0" fill="#6e6e6e"/><circle cx="266.5" cy="102.5" r="2.0" fill="#6e6e6e"/><circle cx="269.8" cy="105.4" r="2.0" fill="#6e6e6e"/><circle cx="252.0" cy="100.0" r="2.0" fill="#6e6e6e"/><circle cx="255.0" cy="108.0" r="2.0" fill="#6e6e6e"/><circle cx="252.5" cy="114.0" r="2.0" fill="#6e6e6e"/><circle cx="244.0" cy="104.0" r="2.0" fill="#6e6e6e"/><circle cx="272.0" cy="131.2" r="2.0" fill="#6e6e6e"/><circle cx="282.5" cy="145.8" r="2.0" fill="#6e6e6e"/><circle cx="279.1" cy="144.3" r="2.0" fill="#6e6e6e"/><circle cx="291.5" cy="124.4" r="2.0" fill="#6e6e6e"/><circle cx="289.0" cy="85.3" r="2.0" fill="#6e6e6e"/><circle cx="267.2" cy="118.9" r="2.0" fill="#6e6e6e"/><circle cx="251.0" cy="143.9" r="2.0" fill="#6e6e6e"/><circle cx="280.7" cy="88.7" r="2.0" fill="#6e6e6e"/><circle cx="282.6" cy="87.1" r="2.0" fill="#6e6e6e"/><circle cx="271.7" cy="86.2" r="2.0" fill="#6e6e6e"/><circle cx="293.9" cy="140.7" r="2.0" fill="#6e6e6e"/><circle cx="251.6" cy="147.2" r="2.0" fill="#6e6e6e"/><circle cx="266.9" cy="126.5" r="2.0" fill="#6e6e6e"/><circle cx="246.5" cy="145.7" r="2.0" fill="#6e6e6e"/><circle cx="276.1" cy="147.6" r="2.0" fill="#6e6e6e"/><circle cx="288.5" cy="98.8" r="2.0" fill="#6e6e6e"/><circle cx="252.4" cy="121.0" r="2.0" fill="#6e6e6e"/><circle cx="283.9" cy="112.1" r="2.0" fill="#6e6e6e"/><circle cx="277.0" cy="81.2" r="2.0" fill="#6e6e6e"/><circle cx="293.5" cy="78.7" r="2.0" fill="#6e6e6e"/><circle cx="279.7" cy="138.7" r="2.0" fill="#6e6e6e"/><circle cx="256.3" cy="119.2" r="2.0" fill="#6e6e6e"/><circle cx="246.0" cy="132.2" r="2.0" fill="#6e6e6e"/><circle cx="290.7" cy="145.8" r="2.0" fill="#6e6e6e"/><circle cx="266.0" cy="133.6" r="2.0" fill="#6e6e6e"/><circle cx="282.6" cy="139.8" r="2.0" fill="#6e6e6e"/><circle cx="271.3" cy="144.0" r="2.0" fill="#6e6e6e"/><circle cx="254.7" cy="144.5" r="2.0" fill="#6e6e6e"/><circle cx="267.3" cy="99.8" r="2.0" fill="#6e6e6e"/><circle cx="270.2" cy="137.3" r="2.0" fill="#6e6e6e"/><circle cx="261.8" cy="107.8" r="2.0" fill="#6e6e6e"/><circle cx="285.1" cy="86.5" r="2.0" fill="#6e6e6e"/><circle cx="272.5" cy="134.5" r="2.0" fill="#6e6e6e"/><circle cx="243.1" cy="138.7" r="2.0" fill="#6e6e6e"/><circle cx="293.5" cy="110.1" r="2.0" fill="#6e6e6e"/><circle cx="263.8" cy="130.3" r="2.0" fill="#6e6e6e"/><circle cx="257.0" cy="149.2" r="2.0" fill="#6e6e6e"/><circle cx="256.0" cy="134.4" r="2.0" fill="#6e6e6e"/><circle cx="281.3" cy="127.7" r="2.0" fill="#6e6e6e"/><circle cx="274.5" cy="132.5" r="2.0" fill="#6e6e6e"/><circle cx="256.2" cy="128.4" r="2.0" fill="#6e6e6e"/><circle cx="273.6" cy="119.4" r="2.0" fill="#6e6e6e"/><circle cx="249.3" cy="126.0" r="2.0" fill="#6e6e6e"/><circle cx="262.2" cy="136.6" r="2.0" fill="#6e6e6e"/><circle cx="255.2" cy="124.0" r="2.0" fill="#6e6e6e"/><circle cx="255.4" cy="138.5" r="2.0" fill="#6e6e6e"/><circle cx="287.1" cy="127.2" r="2.0" fill="#6e6e6e"/><circle cx="293.5" cy="146.8" r="2.0" fill="#6e6e6e"/><circle cx="265.6" cy="115.6" r="2.0" fill="#6e6e6e"/><circle cx="291.2" cy="111.8" r="2.0" fill="#6e6e6e"/><circle cx="276.2" cy="129.5" r="2.0" fill="#6e6e6e"/><circle cx="281.6" cy="119.4" r="2.0" fill="#6e6e6e"/><circle cx="274.6" cy="107.7" r="2.0" fill="#6e6e6e"/><circle cx="260.9" cy="124.5" r="2.0" fill="#6e6e6e"/><circle cx="262.4" cy="104.8" r="2.0" fill="#6e6e6e"/><circle cx="271.3" cy="120.1" r="2.0" fill="#6e6e6e"/><circle cx="248.5" cy="142.9" r="2.0" fill="#6e6e6e"/><circle cx="269.4" cy="147.0" r="2.0" fill="#6e6e6e"/><circle cx="283.9" cy="107.6" r="2.0" fill="#6e6e6e"/><circle cx="283.6" cy="123.9" r="2.0" fill="#6e6e6e"/><circle cx="271.1" cy="102.6" r="2.0" fill="#6e6e6e"/><circle cx="293.3" cy="104.7" r="2.0" fill="#6e6e6e"/><circle cx="292.6" cy="143.7" r="2.0" fill="#6e6e6e"/><circle cx="293.8" cy="113.2" r="2.0" fill="#6e6e6e"/><circle cx="281.7" cy="137.4" r="2.0" fill="#6e6e6e"/><circle cx="281.7" cy="94.9" r="2.0" fill="#6e6e6e"/><circle cx="271.1" cy="111.6" r="2.0" fill="#6e6e6e"/><circle cx="279.4" cy="85.6" r="2.0" fill="#6e6e6e"/><circle cx="280.4" cy="99.0" r="2.0" fill="#6e6e6e"/><circle cx="261.8" cy="143.9" r="2.0" fill="#6e6e6e"/><circle cx="288.2" cy="116.8" r="2.0" fill="#6e6e6e"/><circle cx="260.1" cy="119.0" r="2.0" fill="#6e6e6e"/><circle cx="277.2" cy="123.2" r="2.0" fill="#6e6e6e"/><circle cx="286.0" cy="91.3" r="2.0" fill="#6e6e6e"/><circle cx="252.1" cy="137.6" r="2.0" fill="#6e6e6e"/><circle cx="251.5" cy="134.0" r="2.0" fill="#6e6e6e"/><circle cx="263.2" cy="117.1" r="2.0" fill="#6e6e6e"/><circle cx="283.5" cy="82.0" r="2.0" fill="#6e6e6e"/><circle cx="248.0" cy="136.8" r="2.0" fill="#6e6e6e"/><circle cx="293.7" cy="149.9" r="2.0" fill="#6e6e6e"/><circle cx="273.4" cy="146.5" r="2.0" fill="#6e6e6e"/><circle cx="269.1" cy="131.2" r="2.0" fill="#6e6e6e"/><circle cx="264.9" cy="143.5" r="2.0" fill="#6e6e6e"/><circle cx="267.8" cy="122.3" r="2.0" fill="#6e6e6e"/><circle cx="249.5" cy="131.8" r="2.0" fill="#6e6e6e"/><circle cx="270.2" cy="94.4" r="2.0" fill="#6e6e6e"/><circle cx="287.5" cy="112.1" r="2.0" fill="#6e6e6e"/><circle cx="253.7" cy="135.1" r="2.0" fill="#6e6e6e"/><circle cx="292.1" cy="126.7" r="2.0" fill="#6e6e6e"/><circle cx="285.9" cy="114.8" r="2.0" fill="#6e6e6e"/><circle cx="279.1" cy="105.9" r="2.0" fill="#6e6e6e"/><circle cx="271.8" cy="108.3" r="2.0" fill="#6e6e6e"/><circle cx="287.7" cy="88.1" r="2.0" fill="#6e6e6e"/><circle cx="276.0" cy="126.2" r="2.0" fill="#6e6e6e"/><circle cx="251.8" cy="126.2" r="2.0" fill="#6e6e6e"/><circle cx="278.7" cy="129.4" r="2.0" fill="#6e6e6e"/><circle cx="267.5" cy="149.2" r="2.0" fill="#6e6e6e"/><circle cx="291.1" cy="80.9" r="2.0" fill="#6e6e6e"/><circle cx="258.5" cy="115.8" r="2.0" fill="#6e6e6e"/><circle cx="290.2" cy="120.7" r="2.0" fill="#6e6e6e"/><circle cx="284.4" cy="93.4" r="2.0" fill="#6e6e6e"/><circle cx="284.0" cy="99.8" r="2.0" fill="#6e6e6e"/><circle cx="279.9" cy="117.6" r="2.0" fill="#6e6e6e"/><circle cx="288.7" cy="124.7" r="2.0" fill="#6e6e6e"/><circle cx="286.4" cy="146.3" r="2.0" fill="#6e6e6e"/><circle cx="277.3" cy="109.6" r="2.0" fill="#6e6e6e"/><circle cx="291.3" cy="135.0" r="2.0" fill="#6e6e6e"/><circle cx="237.2" cy="148.4" r="2.0" fill="#6e6e6e"/><circle cx="263.4" cy="141.4" r="2.0" fill="#6e6e6e"/><circle cx="293.9" cy="138.3" r="2.0" fill="#6e6e6e"/><circle cx="285.8" cy="122.1" r="2.0" fill="#6e6e6e"/><circle cx="288.9" cy="91.6" r="2.0" fill="#6e6e6e"/><circle cx="275.7" cy="140.0" r="2.0" fill="#6e6e6e"/><circle cx="275.4" cy="115.1" r="2.0" fill="#6e6e6e"/><circle cx="277.6" cy="99.4" r="2.0" fill="#6e6e6e"/><circle cx="290.7" cy="97.0" r="2.0" fill="#6e6e6e"/><circle cx="279.1" cy="121.6" r="2.0" fill="#6e6e6e"/><circle cx="288.7" cy="94.5" r="2.0" fill="#6e6e6e"/><circle cx="293.5" cy="116.7" r="2.0" fill="#6e6e6e"/><circle cx="273.8" cy="142.7" r="2.0" fill="#6e6e6e"/><circle cx="276.0" cy="117.4" r="2.0" fill="#6e6e6e"/><circle cx="284.6" cy="141.1" r="2.0" fill="#6e6e6e"/><circle cx="293.0" cy="90.7" r="2.0" fill="#6e6e6e"/><circle cx="270.3" cy="124.2" r="2.0" fill="#6e6e6e"/><circle cx="264.2" cy="147.3" r="2.0" fill="#6e6e6e"/><circle cx="264.4" cy="127.9" r="2.0" fill="#6e6e6e"/><circle cx="257.6" cy="145.2" r="2.0" fill="#6e6e6e"/><circle cx="280.7" cy="103.4" r="2.0" fill="#6e6e6e"/></g>
<path d="M252.70 70.80L265.40 79.00" stroke="#000" stroke-width="1.2" fill="none"/>
<path d="M265.40 79.00L269.50 67.70" stroke="#000" stroke-width="1.2" fill="none"/>
<path d="M229.70 94.80L241.90 102.50" stroke="#000" stroke-width="1.2" fill="none"/>
<path d="M241.90 102.50L246.00 90.70" stroke="#000" stroke-width="1.2" fill="none"/>
<circle cx="265.4" cy="79" r="1.8" fill="#1515ff"/>
<circle cx="241.9" cy="102.5" r="1.8" fill="#1515ff"/>
<text x="248.4" y="71.3" font-size="10.4" font-weight="bold" fill="#0d0dff" stroke="#0d0dff" stroke-width="0.3" textLength="14.3" lengthAdjust="spacingAndGlyphs">CH</text>
<text x="262.7" y="73.8" font-size="8.1" font-weight="bold" fill="#0d0dff" stroke="#0d0dff" stroke-width="0.25" textLength="4.3" lengthAdjust="spacingAndGlyphs">3</text>
<text x="270.0" y="69.2" font-size="10.4" font-weight="bold" fill="#0d0dff" stroke="#0d0dff" stroke-width="0.3" textLength="14.6" lengthAdjust="spacingAndGlyphs">CH</text>
<text x="284.6" y="71.7" font-size="8.1" font-weight="bold" fill="#0d0dff" stroke="#0d0dff" stroke-width="0.25" textLength="4.3" lengthAdjust="spacingAndGlyphs">3</text>
<text x="225.6" y="93.6" font-size="10.4" font-weight="bold" fill="#0d0dff" stroke="#0d0dff" stroke-width="0.3" textLength="14.2" lengthAdjust="spacingAndGlyphs">CH</text>
<text x="239.8" y="96.1" font-size="8.1" font-weight="bold" fill="#0d0dff" stroke="#0d0dff" stroke-width="0.25" textLength="4.2" lengthAdjust="spacingAndGlyphs">3</text>
<text x="246.5" y="92.2" font-size="10.4" font-weight="bold" fill="#0d0dff" stroke="#0d0dff" stroke-width="0.3" textLength="13.8" lengthAdjust="spacingAndGlyphs">CH</text>
<text x="260.3" y="94.7" font-size="8.1" font-weight="bold" fill="#0d0dff" stroke="#0d0dff" stroke-width="0.25" textLength="4.1" lengthAdjust="spacingAndGlyphs">3</text>
<rect x="212.5" y="37.7" width="82" height="112" fill="none" stroke="#000" stroke-width="1.7"/>
<text x="517.2" y="54.9" font-size="12.5" fill="#ff0d0d" text-anchor="middle" >“heavy”</text>
<text x="517.2" y="69.6" font-size="12.5" fill="#ff0d0d" text-anchor="middle" >dimethyl</text>
<text x="517.2" y="84.3" font-size="12.5" fill="#ff0d0d" text-anchor="middle" >labeling</text>
<path d="M491.0 107.9H530.5" stroke="#000" stroke-width="3.8" fill="none"/>
<path d="M521.2 101.6L531.1 107.9L521.2 114.2" stroke="#000" stroke-width="3.8" fill="none" stroke-linecap="round" stroke-linejoin="miter"/>
<path d="M7.0 226.9H42.6" stroke="#000" stroke-width="3.8" fill="none"/>
<path d="M33.3 220.6L43.2 226.9L33.3 233.2" stroke="#000" stroke-width="3.8" fill="none" stroke-linecap="round" stroke-linejoin="miter"/>
<path d="M73.00 188.50L73.00 267.60" stroke="#000" stroke-width="3.6" fill="none"/>
<path d="M71.20 265.90L183.00 265.90" stroke="#000" stroke-width="3.6" fill="none"/>
<text transform="translate(64.7,246.0) rotate(-90)" font-size="11.6" fill="#000" text-anchor="start" textLength="43.6" lengthAdjust="spacingAndGlyphs">Intensity</text>
<rect x="88.4" y="240.3" width="3.8" height="23.9" fill="#0000ff"/>
<rect x="92.2" y="212.6" width="3.8" height="51.6" fill="#ff0000"/>
<rect x="110.2" y="201.3" width="3.9" height="62.9" fill="#0000ff"/>
<rect x="114.1" y="252.6" width="3.8" height="11.6" fill="#ff0000"/>
<rect x="128.0" y="226.0" width="3.9" height="38.2" fill="#0000ff"/>
<rect x="140.0" y="201.3" width="3.9" height="62.9" fill="#0000ff"/>
<rect x="143.9" y="240.7" width="3.9" height="23.5" fill="#ff0000"/>
<rect x="160.8" y="251.2" width="3.8" height="13.0" fill="#ff0000"/>
<text x="101.4" y="191.3" font-size="12" fill="#000" text-anchor="start" >MS1</text>
<text x="170.6" y="191.6" font-size="12.5" fill="#0d0dff" text-anchor="middle" >light</text>
<text x="170.3" y="205.8" font-size="12.5" fill="#ff0d0d" text-anchor="middle" >heavy</text>
<text x="100.5" y="281.5" font-size="12" fill="#000" text-anchor="start" textLength="18.9" lengthAdjust="spacingAndGlyphs">m/z</text>
<path d="M188.2 232.6H224.2" stroke="#000" stroke-width="3.8" fill="none"/>
<path d="M214.9 226.3L224.8 232.6L214.9 238.9" stroke="#000" stroke-width="3.8" fill="none" stroke-linecap="round" stroke-linejoin="miter"/>
<path d="M257.00 262.80L257.54 262.80L258.09 262.80L258.63 262.80L259.17 262.80L259.71 262.80L260.26 262.80L260.80 262.80L261.34 262.80L261.89 262.80L262.43 262.80L262.97 262.80L263.51 262.80L264.06 262.80L264.60 262.80L265.14 262.80L265.69 262.80L266.23 262.80L266.77 262.80L267.31 262.80L267.86 262.74L268.40 262.52L268.94 262.13L269.49 261.58L270.03 260.87L270.57 260.01L271.11 259.00L271.66 257.85L272.20 256.56L272.74 255.14L273.29 253.60L273.83 251.94L274.37 250.19L274.91 248.35L275.46 246.43L276.00 244.44L276.54 242.40L277.09 240.31L277.63 238.19L278.17 236.05L278.71 233.91L279.26 231.77L279.80 229.66L280.34 227.58L280.89 225.54L281.43 223.56L281.97 221.65L282.51 219.82L283.06 218.09L283.60 216.45L284.14 214.93L284.69 213.53L285.23 212.26L285.77 211.13L286.31 210.14L286.86 209.30L287.40 208.62L287.94 208.10L288.49 207.74L289.03 207.54L289.57 207.51L290.11 207.64L290.66 207.94L291.20 208.41L291.74 209.03L292.29 209.81L292.83 210.75L293.37 211.83L293.91 213.05L294.46 214.40L295.00 215.88L295.54 217.47L296.09 219.17L296.63 220.97L297.17 222.85L297.71 224.80L298.26 226.82L298.80 228.89L299.34 230.99L299.89 233.12L300.43 235.26L300.97 237.40L301.51 239.53L302.06 241.63L302.60 243.69L303.14 245.71L303.69 247.65L304.23 249.52L304.77 251.31L305.31 253.00L305.86 254.58L306.40 256.05L306.94 257.39L307.49 258.59L308.03 259.66L308.57 260.57L309.11 261.34L309.66 261.95L310.20 262.40L310.74 262.68L311.29 262.80L311.83 262.80L312.37 262.80L312.91 262.80L313.46 262.80L314.00 262.80L314.54 262.80L315.09 262.80L315.63 262.80L316.17 262.80L316.71 262.80L317.26 262.80L317.80 262.80L318.34 262.80L318.89 262.80L319.43 262.80L319.97 262.80L320.51 262.80L321.06 262.80L321.60 262.80L322.14 262.80L322.69 262.80L323.23 262.80L323.77 262.80L324.31 262.80L324.86 262.80L325.40 262.80L325.94 262.80L326.49 262.80L327.03 262.80L327.57 262.80L328.11 262.80L328.66 262.80L329.20 262.80L329.74 262.80L330.29 262.80L330.83 262.80L331.37 262.80L331.91 262.80L332.46 262.80L333.00 262.80" stroke="#4f81bd" stroke-width="3.7" fill="none"/>
<path d="M262.00 263.60L262.48 263.60L262.96 263.60L263.45 263.60L263.93 263.60L264.41 263.60L264.89 263.60L265.38 263.60L265.86 263.60L266.34 263.60L266.82 263.60L267.30 263.60L267.79 263.60L268.27 263.60L268.75 263.60L269.23 263.60L269.71 263.60L270.20 263.58L270.68 263.48L271.16 263.32L271.64 263.08L272.12 262.78L272.61 262.41L273.09 261.98L273.57 261.49L274.05 260.94L274.54 260.33L275.02 259.67L275.50 258.96L275.98 258.22L276.46 257.43L276.95 256.61L277.43 255.75L277.91 254.88L278.39 253.99L278.88 253.08L279.36 252.17L279.84 251.25L280.32 250.34L280.80 249.43L281.29 248.54L281.77 247.67L282.25 246.83L282.73 246.01L283.21 245.23L283.70 244.49L284.18 243.79L284.66 243.15L285.14 242.55L285.62 242.01L286.11 241.53L286.59 241.11L287.07 240.75L287.55 240.46L288.04 240.24L288.52 240.09L289.00 240.01L289.48 240.01L289.96 240.07L290.45 240.20L290.93 240.40L291.41 240.68L291.89 241.01L292.38 241.42L292.86 241.89L293.34 242.41L293.82 242.99L294.30 243.63L294.79 244.32L295.27 245.05L295.75 245.82L296.23 246.63L296.71 247.46L297.20 248.33L297.68 249.21L298.16 250.12L298.64 251.03L299.12 251.94L299.61 252.86L300.09 253.77L300.57 254.66L301.05 255.54L301.54 256.40L302.02 257.23L302.50 258.03L302.98 258.79L303.46 259.50L303.95 260.17L304.43 260.79L304.91 261.36L305.39 261.87L305.88 262.31L306.36 262.70L306.84 263.02L307.32 263.27L307.80 263.45L308.29 263.56L308.77 263.60L309.25 263.60L309.73 263.60L310.21 263.60L310.70 263.60L311.18 263.60L311.66 263.60L312.14 263.60L312.62 263.60L313.11 263.60L313.59 263.60L314.07 263.60L314.55 263.60L315.04 263.60L315.52 263.60L316.00 263.60L316.48 263.60L316.96 263.60L317.45 263.60L317.93 263.60L318.41 263.60L318.89 263.60L319.38 263.60L319.86 263.60L320.34 263.60L320.82 263.60L321.30 263.60L321.79 263.60L322.27 263.60L322.75 263.60L323.23 263.60L323.71 263.60L324.20 263.60L324.68 263.60L325.16 263.60L325.64 263.60L326.12 263.60L326.61 263.60L327.09 263.60L327.57 263.60L328.05 263.60L328.54 263.60L329.02 263.60L329.50 263.60" stroke="#ff0000" stroke-width="3.7" fill="none"/>
<path d="M254.80 188.20L254.80 267.50" stroke="#000" stroke-width="3.2" fill="none"/>
<path d="M253.20 265.80L345.60 265.80" stroke="#000" stroke-width="3.2" fill="none"/>
<text transform="translate(244.7,252.5) rotate(-90)" font-size="14.5" fill="#000" text-anchor="start" textLength="54.9" lengthAdjust="spacingAndGlyphs">Intensity</text>
<text x="281.0" y="191.5" font-size="12" fill="#000" text-anchor="start" >MS1</text>
<text x="301.5" y="282.1" font-size="12.5" fill="#000" text-anchor="middle" textLength="96" lengthAdjust="spacingAndGlyphs">Chromatographic</text>
<text x="301.5" y="295.8" font-size="12.5" fill="#000" text-anchor="middle" >time</text>
<path d="M341.6 232.6H377.0" stroke="#000" stroke-width="3.8" fill="none"/>
<path d="M367.7 226.3L377.6 232.6L367.7 238.9" stroke="#000" stroke-width="3.8" fill="none" stroke-linecap="round" stroke-linejoin="miter"/>
<path d="M413.00 262.70L413.56 262.70L414.11 262.70L414.67 262.70L415.23 262.70L415.79 262.70L416.34 262.70L416.90 262.70L417.46 262.70L418.01 262.70L418.57 262.70L419.13 262.70L419.69 262.70L420.24 262.70L420.80 262.70L421.36 262.70L421.91 262.70L422.47 262.70L423.03 262.70L423.59 262.70L424.14 262.70L424.70 262.70L425.26 262.67L425.81 262.48L426.37 262.14L426.93 261.64L427.49 260.99L428.04 260.18L428.60 259.23L429.16 258.14L429.71 256.91L430.27 255.56L430.83 254.10L431.39 252.52L431.94 250.84L432.50 249.08L433.06 247.23L433.61 245.32L434.17 243.36L434.73 241.34L435.29 239.30L435.84 237.24L436.40 235.17L436.96 233.11L437.51 231.06L438.07 229.05L438.63 227.08L439.19 225.16L439.74 223.31L440.30 221.53L440.86 219.85L441.41 218.26L441.97 216.78L442.53 215.42L443.09 214.18L443.64 213.08L444.20 212.11L444.76 211.29L445.31 210.62L445.87 210.10L446.43 209.74L446.99 209.54L447.54 209.51L448.10 209.63L448.66 209.91L449.21 210.35L449.77 210.94L450.33 211.69L450.89 212.59L451.44 213.63L452.00 214.80L452.56 216.10L453.11 217.53L453.67 219.06L454.23 220.70L454.79 222.43L455.34 224.25L455.90 226.14L456.46 228.08L457.01 230.08L457.57 232.11L458.13 234.17L458.69 236.23L459.24 238.30L459.80 240.35L460.36 242.38L460.91 244.37L461.47 246.31L462.03 248.19L462.59 249.99L463.14 251.71L463.70 253.34L464.26 254.86L464.81 256.27L465.37 257.56L465.93 258.71L466.49 259.73L467.04 260.61L467.60 261.34L468.16 261.92L468.71 262.34L469.27 262.60L469.83 262.70L470.39 262.70L470.94 262.70L471.50 262.70L472.06 262.70L472.61 262.70L473.17 262.70L473.73 262.70L474.29 262.70L474.84 262.70L475.40 262.70L475.96 262.70L476.51 262.70L477.07 262.70L477.63 262.70L478.19 262.70L478.74 262.70L479.30 262.70L479.86 262.70L480.41 262.70L480.97 262.70L481.53 262.70L482.09 262.70L482.64 262.70L483.20 262.70L483.76 262.70L484.31 262.70L484.87 262.70L485.43 262.70L485.99 262.70L486.54 262.70L487.10 262.70L487.66 262.70L488.21 262.70L488.77 262.70L489.33 262.70L489.89 262.70L490.44 262.70L491.00 262.70L491 265L413 265Z" fill="#8db4e2"/>
<path d="M413.00 263.70L413.54 263.70L414.07 263.70L414.61 263.70L415.14 263.70L415.68 263.70L416.21 263.70L416.75 263.70L417.29 263.70L417.82 263.70L418.36 263.70L418.89 263.70L419.43 263.70L419.96 263.70L420.50 263.70L421.04 263.70L421.57 263.70L422.11 263.70L422.64 263.70L423.18 263.70L423.71 263.70L424.25 263.70L424.79 263.70L425.32 263.70L425.86 263.70L426.39 263.70L426.93 263.70L427.46 263.70L428.00 263.70L428.54 263.70L429.07 263.70L429.61 263.70L430.14 263.70L430.68 263.70L431.21 263.69L431.75 263.59L432.29 263.39L432.82 263.07L433.36 262.66L433.89 262.14L434.43 261.54L434.96 260.84L435.50 260.06L436.04 259.21L436.57 258.29L437.11 257.32L437.64 256.30L438.18 255.25L438.71 254.16L439.25 253.06L439.79 251.96L440.32 250.86L440.86 249.78L441.39 248.73L441.93 247.71L442.46 246.74L443.00 245.83L443.54 244.98L444.07 244.21L444.61 243.52L445.14 242.92L445.68 242.41L446.21 242.00L446.75 241.70L447.29 241.50L447.82 241.41L448.36 241.42L448.89 241.55L449.43 241.79L449.96 242.13L450.50 242.57L451.04 243.11L451.57 243.74L452.11 244.46L452.64 245.26L453.18 246.13L453.71 247.06L454.25 248.05L454.79 249.08L455.32 250.14L455.86 251.23L456.39 252.33L456.93 253.43L457.46 254.53L458.00 255.60L458.54 256.65L459.07 257.65L459.61 258.61L460.14 259.50L460.68 260.33L461.21 261.08L461.75 261.75L462.29 262.33L462.82 262.81L463.36 263.19L463.89 263.47L464.43 263.64L464.96 263.70L465.50 263.70L466.04 263.70L466.57 263.70L467.11 263.70L467.64 263.70L468.18 263.70L468.71 263.70L469.25 263.70L469.79 263.70L470.32 263.70L470.86 263.70L471.39 263.70L471.93 263.70L472.46 263.70L473.00 263.70L473.54 263.70L474.07 263.70L474.61 263.70L475.14 263.70L475.68 263.70L476.21 263.70L476.75 263.70L477.29 263.70L477.82 263.70L478.36 263.70L478.89 263.70L479.43 263.70L479.96 263.70L480.50 263.70L481.04 263.70L481.57 263.70L482.11 263.70L482.64 263.70L483.18 263.70L483.71 263.70L484.25 263.70L484.79 263.70L485.32 263.70L485.86 263.70L486.39 263.70L486.93 263.70L487.46 263.70L488.00 263.70L488 265L413 265Z" fill="#d99694"/>
<path d="M413.00 262.70L413.56 262.70L414.11 262.70L414.67 262.70L415.23 262.70L415.79 262.70L416.34 262.70L416.90 262.70L417.46 262.70L418.01 262.70L418.57 262.70L419.13 262.70L419.69 262.70L420.24 262.70L420.80 262.70L421.36 262.70L421.91 262.70L422.47 262.70L423.03 262.70L423.59 262.70L424.14 262.70L424.70 262.70L425.26 262.67L425.81 262.48L426.37 262.14L426.93 261.64L427.49 260.99L428.04 260.18L428.60 259.23L429.16 258.14L429.71 256.91L430.27 255.56L430.83 254.10L431.39 252.52L431.94 250.84L432.50 249.08L433.06 247.23L433.61 245.32L434.17 243.36L434.73 241.34L435.29 239.30L435.84 237.24L436.40 235.17L436.96 233.11L437.51 231.06L438.07 229.05L438.63 227.08L439.19 225.16L439.74 223.31L440.30 221.53L440.86 219.85L441.41 218.26L441.97 216.78L442.53 215.42L443.09 214.18L443.64 213.08L444.20 212.11L444.76 211.29L445.31 210.62L445.87 210.10L446.43 209.74L446.99 209.54L447.54 209.51L448.10 209.63L448.66 209.91L449.21 210.35L449.77 210.94L450.33 211.69L450.89 212.59L451.44 213.63L452.00 214.80L452.56 216.10L453.11 217.53L453.67 219.06L454.23 220.70L454.79 222.43L455.34 224.25L455.90 226.14L456.46 228.08L457.01 230.08L457.57 232.11L458.13 234.17L458.69 236.23L459.24 238.30L459.80 240.35L460.36 242.38L460.91 244.37L461.47 246.31L462.03 248.19L462.59 249.99L463.14 251.71L463.70 253.34L464.26 254.86L464.81 256.27L465.37 257.56L465.93 258.71L466.49 259.73L467.04 260.61L467.60 261.34L468.16 261.92L468.71 262.34L469.27 262.60L469.83 262.70L470.39 262.70L470.94 262.70L471.50 262.70L472.06 262.70L472.61 262.70L473.17 262.70L473.73 262.70L474.29 262.70L474.84 262.70L475.40 262.70L475.96 262.70L476.51 262.70L477.07 262.70L477.63 262.70L478.19 262.70L478.74 262.70L479.30 262.70L479.86 262.70L480.41 262.70L480.97 262.70L481.53 262.70L482.09 262.70L482.64 262.70L483.20 262.70L483.76 262.70L484.31 262.70L484.87 262.70L485.43 262.70L485.99 262.70L486.54 262.70L487.10 262.70L487.66 262.70L488.21 262.70L488.77 262.70L489.33 262.70L489.89 262.70L490.44 262.70L491.00 262.70" stroke="#4f81bd" stroke-width="3.7" fill="none"/>
<path d="M413.00 263.70L413.54 263.70L414.07 263.70L414.61 263.70L415.14 263.70L415.68 263.70L416.21 263.70L416.75 263.70L417.29 263.70L417.82 263.70L418.36 263.70L418.89 263.70L419.43 263.70L419.96 263.70L420.50 263.70L421.04 263.70L421.57 263.70L422.11 263.70L422.64 263.70L423.18 263.70L423.71 263.70L424.25 263.70L424.79 263.70L425.32 263.70L425.86 263.70L426.39 263.70L426.93 263.70L427.46 263.70L428.00 263.70L428.54 263.70L429.07 263.70L429.61 263.70L430.14 263.70L430.68 263.70L431.21 263.69L431.75 263.59L432.29 263.39L432.82 263.07L433.36 262.66L433.89 262.14L434.43 261.54L434.96 260.84L435.50 260.06L436.04 259.21L436.57 258.29L437.11 257.32L437.64 256.30L438.18 255.25L438.71 254.16L439.25 253.06L439.79 251.96L440.32 250.86L440.86 249.78L441.39 248.73L441.93 247.71L442.46 246.74L443.00 245.83L443.54 244.98L444.07 244.21L444.61 243.52L445.14 242.92L445.68 242.41L446.21 242.00L446.75 241.70L447.29 241.50L447.82 241.41L448.36 241.42L448.89 241.55L449.43 241.79L449.96 242.13L450.50 242.57L451.04 243.11L451.57 243.74L452.11 244.46L452.64 245.26L453.18 246.13L453.71 247.06L454.25 248.05L454.79 249.08L455.32 250.14L455.86 251.23L456.39 252.33L456.93 253.43L457.46 254.53L458.00 255.60L458.54 256.65L459.07 257.65L459.61 258.61L460.14 259.50L460.68 260.33L461.21 261.08L461.75 261.75L462.29 262.33L462.82 262.81L463.36 263.19L463.89 263.47L464.43 263.64L464.96 263.70L465.50 263.70L466.04 263.70L466.57 263.70L467.11 263.70L467.64 263.70L468.18 263.70L468.71 263.70L469.25 263.70L469.79 263.70L470.32 263.70L470.86 263.70L471.39 263.70L471.93 263.70L472.46 263.70L473.00 263.70L473.54 263.70L474.07 263.70L474.61 263.70L475.14 263.70L475.68 263.70L476.21 263.70L476.75 263.70L477.29 263.70L477.82 263.70L478.36 263.70L478.89 263.70L479.43 263.70L479.96 263.70L480.50 263.70L481.04 263.70L481.57 263.70L482.11 263.70L482.64 263.70L483.18 263.70L483.71 263.70L484.25 263.70L484.79 263.70L485.32 263.70L485.86 263.70L486.39 263.70L486.93 263.70L487.46 263.70L488.00 263.70" stroke="#ff0000" stroke-width="3.7" fill="none"/>
<path d="M411.70 188.20L411.70 267.50" stroke="#000" stroke-width="3.5" fill="none"/>
<path d="M410.00 265.20L502.10 265.20" stroke="#000" stroke-width="3.5" fill="none"/>
<text transform="translate(401.5,252.5) rotate(-90)" font-size="14.5" fill="#000" text-anchor="start" textLength="54.9" lengthAdjust="spacingAndGlyphs">Intensity</text>
<text x="437.9" y="191.0" font-size="12.5" fill="#000" text-anchor="start" >Area</text>
<text x="452.8" y="282.1" font-size="12.5" fill="#000" text-anchor="middle" textLength="96" lengthAdjust="spacingAndGlyphs">Chromatographic</text>
<text x="452.8" y="295.8" font-size="12.5" fill="#000" text-anchor="middle" >time</text>
<path d="M494.6 230.7H530.0" stroke="#000" stroke-width="3.8" fill="none"/>
<path d="M520.7 224.4L530.6 230.7L520.7 237.0" stroke="#000" stroke-width="3.8" fill="none" stroke-linecap="round" stroke-linejoin="miter"/>
<text x="570.7" y="210.4" font-size="12.5" fill="#0d0dff" text-anchor="start" >Solvent</text>
<text x="570.7" y="224.4" font-size="12.5" fill="#0d0dff" text-anchor="start" >Accessibility</text>
<path d="M556.70 230.70L665.00 230.70" stroke="#000" stroke-width="3.9" fill="none"/>
<text x="570.7" y="248.4" font-size="12.5" fill="#ff0d0d" text-anchor="start" >Solvent</text>
<text x="570.7" y="262.4" font-size="12.5" fill="#ff0d0d" text-anchor="start" >exclusion</text>
<text x="8.5" y="321.9" font-size="19.5" fill="#000" text-anchor="start" font-weight="bold" >B</text>
<text x="184.6" y="337.1" font-size="18.2" fill="#000" text-anchor="middle" >Light-heavy</text>
<text x="546.0" y="337.0" font-size="18" fill="#000" text-anchor="middle" >Heavy-light</text>
<path d="M28.00 347.40L28.00 387.80" stroke="#000" stroke-width="1.4" fill="none"/>
<path d="M26.40 347.40L30.60 347.40" stroke="#000" stroke-width="1.2" fill="none"/>
<path d="M26.40 387.80L30.60 387.80" stroke="#000" stroke-width="1.2" fill="none"/>
<path d="M25.40 387.80L28.00 387.80" stroke="#000" stroke-width="1.1" fill="none"/>
<text x="24.6" y="390.2" font-size="6.7" text-anchor="end" fill="#000">90</text>
<path d="M25.40 379.72L28.00 379.72" stroke="#000" stroke-width="1.1" fill="none"/>
<text x="24.6" y="382.1" font-size="6.7" text-anchor="end" fill="#000">92</text>
<path d="M25.40 371.64L28.00 371.64" stroke="#000" stroke-width="1.1" fill="none"/>
<text x="24.6" y="374.1" font-size="6.7" text-anchor="end" fill="#000">94</text>
<path d="M25.40 363.56L28.00 363.56" stroke="#000" stroke-width="1.1" fill="none"/>
<text x="24.6" y="366.0" font-size="6.7" text-anchor="end" fill="#000">96</text>
<path d="M25.40 355.48L28.00 355.48" stroke="#000" stroke-width="1.1" fill="none"/>
<text x="24.6" y="357.9" font-size="6.7" text-anchor="end" fill="#000">98</text>
<path d="M25.40 347.40L28.00 347.40" stroke="#000" stroke-width="1.1" fill="none"/>
<text x="24.6" y="349.8" font-size="6.7" text-anchor="end" fill="#000">100</text>
<path d="M28.00 398.40L28.00 444.80" stroke="#000" stroke-width="1.4" fill="none"/>
<path d="M26.40 398.40L30.60 398.40" stroke="#000" stroke-width="1.2" fill="none"/>
<path d="M26.40 444.80L30.60 444.80" stroke="#000" stroke-width="1.2" fill="none"/>
<path d="M25.40 444.80L28.00 444.80" stroke="#000" stroke-width="1.1" fill="none"/>
<text x="24.6" y="447.2" font-size="6.7" text-anchor="end" fill="#000">70</text>
<path d="M25.40 432.55L28.00 432.55" stroke="#000" stroke-width="1.1" fill="none"/>
<text x="24.6" y="435.0" font-size="6.7" text-anchor="end" fill="#000">75</text>
<path d="M25.40 420.30L28.00 420.30" stroke="#000" stroke-width="1.1" fill="none"/>
<text x="24.6" y="422.7" font-size="6.7" text-anchor="end" fill="#000">80</text>
<path d="M25.40 408.05L28.00 408.05" stroke="#000" stroke-width="1.1" fill="none"/>
<text x="24.6" y="410.5" font-size="6.7" text-anchor="end" fill="#000">85</text>
<path d="M28.00 453.60L28.00 501.40" stroke="#000" stroke-width="1.4" fill="none"/>
<path d="M26.40 453.60L30.60 453.60" stroke="#000" stroke-width="1.2" fill="none"/>
<path d="M26.40 501.40L30.60 501.40" stroke="#000" stroke-width="1.2" fill="none"/>
<path d="M25.40 501.40L28.00 501.40" stroke="#000" stroke-width="1.1" fill="none"/>
<text x="24.6" y="503.8" font-size="6.7" text-anchor="end" fill="#000">0</text>
<path d="M25.40 487.45L28.00 487.45" stroke="#000" stroke-width="1.1" fill="none"/>
<text x="24.6" y="489.9" font-size="6.7" text-anchor="end" fill="#000">20</text>
<path d="M25.40 473.50L28.00 473.50" stroke="#000" stroke-width="1.1" fill="none"/>
<text x="24.6" y="475.9" font-size="6.7" text-anchor="end" fill="#000">40</text>
<path d="M25.40 459.55L28.00 459.55" stroke="#000" stroke-width="1.1" fill="none"/>
<text x="24.6" y="462.0" font-size="6.7" text-anchor="end" fill="#000">60</text>
<path d="M27.40 501.40L370.00 501.40" stroke="#000" stroke-width="1.2" fill="none"/>
<path d="M35.00 501.40L35.00 503.60" stroke="#000" stroke-width="1" fill="none"/>
<text transform="translate(37.3,505.0) rotate(-90)" font-size="6.4" fill="#000" text-anchor="end" >52</text>
<path d="M48.13 501.40L48.13 503.60" stroke="#000" stroke-width="1" fill="none"/>
<text transform="translate(50.4,505.0) rotate(-90)" font-size="6.4" fill="#000" text-anchor="end" >95</text>
<path d="M61.26 501.40L61.26 503.60" stroke="#000" stroke-width="1" fill="none"/>
<text transform="translate(63.6,505.0) rotate(-90)" font-size="6.4" fill="#000" text-anchor="end" >273</text>
<path d="M74.39 501.40L74.39 503.60" stroke="#000" stroke-width="1" fill="none"/>
<text transform="translate(76.7,505.0) rotate(-90)" font-size="6.4" fill="#000" text-anchor="end" >283</text>
<path d="M87.52 501.40L87.52 503.60" stroke="#000" stroke-width="1" fill="none"/>
<text transform="translate(89.8,505.0) rotate(-90)" font-size="6.4" fill="#000" text-anchor="end" >377</text>
<path d="M100.65 501.40L100.65 503.60" stroke="#000" stroke-width="1" fill="none"/>
<text transform="translate(103.0,505.0) rotate(-90)" font-size="6.4" fill="#000" text-anchor="end" >442</text>
<path d="M113.78 501.40L113.78 503.60" stroke="#000" stroke-width="1" fill="none"/>
<text transform="translate(116.1,505.0) rotate(-90)" font-size="6.4" fill="#000" text-anchor="end" >464</text>
<path d="M126.91 501.40L126.91 503.60" stroke="#000" stroke-width="1" fill="none"/>
<text transform="translate(129.2,505.0) rotate(-90)" font-size="6.4" fill="#000" text-anchor="end" >503</text>
<path d="M140.04 501.40L140.04 503.60" stroke="#000" stroke-width="1" fill="none"/>
<text transform="translate(142.3,505.0) rotate(-90)" font-size="6.4" fill="#000" text-anchor="end" >521</text>
<path d="M153.17 501.40L153.17 503.60" stroke="#000" stroke-width="1" fill="none"/>
<text transform="translate(155.5,505.0) rotate(-90)" font-size="6.4" fill="#000" text-anchor="end" >536</text>
<path d="M166.30 501.40L166.30 503.60" stroke="#000" stroke-width="1" fill="none"/>
<text transform="translate(168.6,505.0) rotate(-90)" font-size="6.4" fill="#000" text-anchor="end" >584</text>
<path d="M179.43 501.40L179.43 503.60" stroke="#000" stroke-width="1" fill="none"/>
<text transform="translate(181.7,505.0) rotate(-90)" font-size="6.4" fill="#000" text-anchor="end" >643</text>
<path d="M192.56 501.40L192.56 503.60" stroke="#000" stroke-width="1" fill="none"/>
<text transform="translate(194.9,505.0) rotate(-90)" font-size="6.4" fill="#000" text-anchor="end" >710</text>
<path d="M205.69 501.40L205.69 503.60" stroke="#000" stroke-width="1" fill="none"/>
<text transform="translate(208.0,505.0) rotate(-90)" font-size="6.4" fill="#000" text-anchor="end" >716</text>
<path d="M218.82 501.40L218.82 503.60" stroke="#000" stroke-width="1" fill="none"/>
<text transform="translate(221.1,505.0) rotate(-90)" font-size="6.4" fill="#000" text-anchor="end" >793</text>
<path d="M231.95 501.40L231.95 503.60" stroke="#000" stroke-width="1" fill="none"/>
<text transform="translate(234.3,505.0) rotate(-90)" font-size="6.4" fill="#000" text-anchor="end" >830</text>
<path d="M245.08 501.40L245.08 503.60" stroke="#000" stroke-width="1" fill="none"/>
<text transform="translate(247.4,505.0) rotate(-90)" font-size="6.4" fill="#000" text-anchor="end" >1060</text>
<path d="M258.21 501.40L258.21 503.60" stroke="#000" stroke-width="1" fill="none"/>
<text transform="translate(260.5,505.0) rotate(-90)" font-size="6.4" fill="#000" text-anchor="end" >1080</text>
<path d="M271.34 501.40L271.34 503.60" stroke="#000" stroke-width="1" fill="none"/>
<text transform="translate(273.6,505.0) rotate(-90)" font-size="6.4" fill="#000" text-anchor="end" >1165</text>
<path d="M284.47 501.40L284.47 503.60" stroke="#000" stroke-width="1" fill="none"/>
<text transform="translate(286.8,505.0) rotate(-90)" font-size="6.4" fill="#000" text-anchor="end" >1218</text>
<path d="M297.60 501.40L297.60 503.60" stroke="#000" stroke-width="1" fill="none"/>
<text transform="translate(299.9,505.0) rotate(-90)" font-size="6.4" fill="#000" text-anchor="end" >1292</text>
<path d="M310.73 501.40L310.73 503.60" stroke="#000" stroke-width="1" fill="none"/>
<text transform="translate(313.0,505.0) rotate(-90)" font-size="6.4" fill="#000" text-anchor="end" >1302</text>
<path d="M323.86 501.40L323.86 503.60" stroke="#000" stroke-width="1" fill="none"/>
<text transform="translate(326.2,505.0) rotate(-90)" font-size="6.4" fill="#000" text-anchor="end" >1317</text>
<path d="M336.99 501.40L336.99 503.60" stroke="#000" stroke-width="1" fill="none"/>
<text transform="translate(339.3,505.0) rotate(-90)" font-size="6.4" fill="#000" text-anchor="end" >1334</text>
<path d="M350.12 501.40L350.12 503.60" stroke="#000" stroke-width="1" fill="none"/>
<text transform="translate(352.4,505.0) rotate(-90)" font-size="6.4" fill="#000" text-anchor="end" >1420</text>
<path d="M363.25 501.40L363.25 503.60" stroke="#000" stroke-width="1" fill="none"/>
<text transform="translate(365.6,505.0) rotate(-90)" font-size="6.4" fill="#000" text-anchor="end" >1429</text>
<text x="7.2" y="515.7" font-size="12.2" fill="#000" text-anchor="start" >AA</text>
<text transform="translate(6.8,462.0) rotate(-90)" font-size="7.3" fill="#111" text-anchor="start" textLength="77" lengthAdjust="spacingAndGlyphs">Surface accessibility [%]</text>
<path d="M55.70 522.80L81.40 522.80" stroke="#000" stroke-width="3" fill="none"/>
<path d="M83.50 522.80L174.00 522.80" stroke="#000" stroke-width="3" fill="none"/>
<path d="M178.00 522.80L236.60 522.80" stroke="#000" stroke-width="3" fill="none"/>
<path d="M239.50 522.80L265.80 522.80" stroke="#000" stroke-width="3" fill="none"/>
<path d="M279.50 522.80L354.50 522.80" stroke="#000" stroke-width="3" fill="none"/>
<text x="68.5" y="536.8" font-size="12.3" fill="#000" text-anchor="middle" >ICL2</text>
<text x="127.8" y="536.8" font-size="12.3" fill="#000" text-anchor="middle" >NBD1</text>
<text x="208.0" y="536.8" font-size="12.3" fill="#000" text-anchor="middle" >R-region</text>
<text x="253.6" y="536.8" font-size="12.3" fill="#000" text-anchor="middle" >ICL4</text>
<text x="320.0" y="536.8" font-size="12.3" fill="#000" text-anchor="middle" >NBD2</text>
<text transform="translate(39.4,524.2) rotate(-90)" font-size="12" fill="#000" text-anchor="end" >N-term</text>
<text transform="translate(52.2,524.2) rotate(-90)" font-size="12" fill="#000" text-anchor="end" >TMH1</text>
<text transform="translate(278.0,525.0) rotate(-90)" font-size="12" fill="#000" text-anchor="end" >TMH11</text>
<text transform="translate(366.0,523.6) rotate(-90)" font-size="12" fill="#000" text-anchor="end" >C-term</text>
<circle cx="338.5" cy="469" r="1.3" fill="#0a1a8c"/>
<rect x="337.2" y="477.9" width="2.7" height="2.7" fill="#ff2a0a"/>
<text x="346.8" y="471.6" font-size="6.8" fill="#111" text-anchor="start" >wt</text>
<text x="346.8" y="481.7" font-size="6.8" fill="#111" text-anchor="start" >F508</text>
<path d="M30.80 377.30L39.20 377.30" stroke="#ff2a0a" stroke-width="1.5" fill="none"/>
<rect x="33.5" y="375.8" width="3" height="3" fill="#ff2a0a"/>
<path d="M43.93 363.30L52.33 363.30" stroke="#0a1a8c" stroke-width="1.5" fill="none"/>
<circle cx="48.1" cy="363.3" r="1.55" fill="#0a1a8c"/>
<path d="M43.93 427.60L52.33 427.60" stroke="#ff2a0a" stroke-width="1.5" fill="none"/>
<rect x="46.6" y="426.1" width="3" height="3" fill="#ff2a0a"/>
<rect x="59.8" y="346.3" width="3" height="3" fill="#ff2a0a"/>
<rect x="59.8" y="348.8" width="3" height="3" fill="#ff2a0a"/>
<rect x="59.8" y="354.6" width="3" height="3" fill="#ff2a0a"/>
<rect x="59.8" y="375.1" width="3" height="3" fill="#ff2a0a"/>
<rect x="59.8" y="378.5" width="3" height="3" fill="#ff2a0a"/>
<rect x="59.8" y="383.3" width="3" height="3" fill="#ff2a0a"/>
<rect x="57.2" y="366.5" width="3" height="3" fill="#ff2a0a"/>
<rect x="59.8" y="368.0" width="3" height="3" fill="#ff2a0a"/>
<rect x="62.4" y="369.5" width="3" height="3" fill="#ff2a0a"/>
<rect x="57.2" y="370.5" width="3" height="3" fill="#ff2a0a"/>
<rect x="59.8" y="368.5" width="3" height="3" fill="#ff2a0a"/>
<path d="M61.26 364.30L61.26 372.20" stroke="#ff2a0a" stroke-width="1.0" fill="none"/>
<path d="M58.96 364.30L63.56 364.30" stroke="#ff2a0a" stroke-width="1.0" fill="none"/>
<path d="M58.96 372.20L63.56 372.20" stroke="#ff2a0a" stroke-width="1.0" fill="none"/>
<path d="M57.06 368.40L65.46 368.40" stroke="#ff2a0a" stroke-width="1.5" fill="none"/>
<path d="M61.26 431.10L61.26 444.80" stroke="#0a1a8c" stroke-width="1.0" fill="none"/>
<path d="M58.96 431.10L63.56 431.10" stroke="#0a1a8c" stroke-width="1.0" fill="none"/>
<path d="M58.96 444.80L63.56 444.80" stroke="#0a1a8c" stroke-width="1.0" fill="none"/>
<path d="M57.06 458.80L65.46 458.80" stroke="#0a1a8c" stroke-width="1.5" fill="none"/>
<path d="M61.26 453.60L61.26 469.00" stroke="#0a1a8c" stroke-width="1.0" fill="none"/>
<path d="M57.06 458.80L65.46 458.80" stroke="#0a1a8c" stroke-width="1.5" fill="none"/>
<circle cx="59.8" cy="469.3" r="1.55" fill="#0a1a8c"/>
<circle cx="62.5" cy="467.2" r="1.55" fill="#0a1a8c"/>
<text x="58.5" y="432.4" font-size="12" fill="#000" text-anchor="start" font-weight="bold" letter-spacing="0.3">***</text>
<path d="M70.19 353.10L78.59 353.10" stroke="#ff2a0a" stroke-width="1.5" fill="none"/>
<path d="M70.19 353.80L78.59 353.80" stroke="#0a1a8c" stroke-width="1.5" fill="none"/>
<circle cx="74.4" cy="352.6" r="1.55" fill="#0a1a8c"/>
<circle cx="85.0" cy="347.7" r="1.55" fill="#0a1a8c"/>
<circle cx="87.5" cy="347.7" r="1.55" fill="#0a1a8c"/>
<rect x="86.0" y="346.2" width="3" height="3" fill="#ff2a0a"/>
<rect x="86.0" y="368.3" width="3" height="3" fill="#ff2a0a"/>
<path d="M87.52 346.50L87.52 355.40" stroke="#ff2a0a" stroke-width="1.0" fill="none"/>
<path d="M85.22 346.50L89.82 346.50" stroke="#ff2a0a" stroke-width="1.0" fill="none"/>
<path d="M85.22 355.40L89.82 355.40" stroke="#ff2a0a" stroke-width="1.0" fill="none"/>
<path d="M83.32 351.20L91.72 351.20" stroke="#ff2a0a" stroke-width="1.5" fill="none"/>
<circle cx="97.7" cy="347.7" r="1.55" fill="#0a1a8c"/>
<circle cx="100.7" cy="348.5" r="1.55" fill="#0a1a8c"/>
<circle cx="103.7" cy="349.5" r="1.55" fill="#0a1a8c"/>
<circle cx="97.7" cy="350.5" r="1.55" fill="#0a1a8c"/>
<circle cx="100.7" cy="351.5" r="1.55" fill="#0a1a8c"/>
<circle cx="103.7" cy="352.5" r="1.55" fill="#0a1a8c"/>
<circle cx="97.7" cy="354.5" r="1.55" fill="#0a1a8c"/>
<circle cx="100.7" cy="356.4" r="1.55" fill="#0a1a8c"/>
<rect x="99.2" y="352.8" width="3" height="3" fill="#ff2a0a"/>
<rect x="99.2" y="354.5" width="3" height="3" fill="#ff2a0a"/>
<rect x="99.2" y="356.5" width="3" height="3" fill="#ff2a0a"/>
<rect x="99.2" y="358.5" width="3" height="3" fill="#ff2a0a"/>
<rect x="99.2" y="361.0" width="3" height="3" fill="#ff2a0a"/>
<rect x="99.2" y="373.2" width="3" height="3" fill="#ff2a0a"/>
<rect x="99.2" y="375.5" width="3" height="3" fill="#ff2a0a"/>
<rect x="99.2" y="378.0" width="3" height="3" fill="#ff2a0a"/>
<rect x="99.2" y="380.5" width="3" height="3" fill="#ff2a0a"/>
<rect x="99.2" y="383.1" width="3" height="3" fill="#ff2a0a"/>
<rect x="97.0" y="346.2" width="3" height="3" fill="#ff2a0a"/>
<rect x="99.2" y="346.2" width="3" height="3" fill="#ff2a0a"/>
<path d="M100.65 363.00L100.65 367.60" stroke="#ff2a0a" stroke-width="1.0" fill="none"/>
<path d="M98.35 363.00L102.95 363.00" stroke="#ff2a0a" stroke-width="1.0" fill="none"/>
<path d="M98.35 367.60L102.95 367.60" stroke="#ff2a0a" stroke-width="1.0" fill="none"/>
<path d="M96.45 364.50L104.85 364.50" stroke="#ff2a0a" stroke-width="1.5" fill="none"/>
<circle cx="110.6" cy="347.7" r="1.55" fill="#0a1a8c"/>
<circle cx="113.8" cy="347.9" r="1.55" fill="#0a1a8c"/>
<circle cx="117.0" cy="348.2" r="1.55" fill="#0a1a8c"/>
<circle cx="110.6" cy="348.7" r="1.55" fill="#0a1a8c"/>
<circle cx="113.8" cy="349.2" r="1.55" fill="#0a1a8c"/>
<circle cx="117.0" cy="349.7" r="1.55" fill="#0a1a8c"/>
<rect x="112.3" y="351.3" width="3" height="3" fill="#ff2a0a"/>
<rect x="112.3" y="356.9" width="3" height="3" fill="#ff2a0a"/>
<rect x="112.3" y="362.8" width="3" height="3" fill="#ff2a0a"/>
<rect x="112.3" y="368.6" width="3" height="3" fill="#ff2a0a"/>
<rect x="112.3" y="370.5" width="3" height="3" fill="#ff2a0a"/>
<rect x="109.5" y="377.3" width="3" height="3" fill="#ff2a0a"/>
<rect x="112.3" y="378.5" width="3" height="3" fill="#ff2a0a"/>
<rect x="115.1" y="379.5" width="3" height="3" fill="#ff2a0a"/>
<rect x="109.5" y="380.5" width="3" height="3" fill="#ff2a0a"/>
<rect x="112.3" y="381.5" width="3" height="3" fill="#ff2a0a"/>
<rect x="115.1" y="382.5" width="3" height="3" fill="#ff2a0a"/>
<rect x="109.5" y="378.0" width="3" height="3" fill="#ff2a0a"/>
<rect x="112.3" y="380.0" width="3" height="3" fill="#ff2a0a"/>
<rect x="115.1" y="382.0" width="3" height="3" fill="#ff2a0a"/>
<path d="M113.78 373.50L113.78 377.00" stroke="#ff2a0a" stroke-width="1.0" fill="none"/>
<path d="M111.48 373.50L116.08 373.50" stroke="#ff2a0a" stroke-width="1.0" fill="none"/>
<path d="M111.48 377.00L116.08 377.00" stroke="#ff2a0a" stroke-width="1.0" fill="none"/>
<path d="M109.58 375.80L117.98 375.80" stroke="#ff2a0a" stroke-width="1.5" fill="none"/>
<text x="110.2" y="397.6" font-size="12" fill="#000" text-anchor="start" font-weight="bold" letter-spacing="0.3">***</text>
<path d="M122.71 353.10L131.11 353.10" stroke="#0a1a8c" stroke-width="1.5" fill="none"/>
<circle cx="126.9" cy="353.1" r="1.55" fill="#0a1a8c"/>
<path d="M135.84 348.00L144.24 348.00" stroke="#ff2a0a" stroke-width="1.5" fill="none"/>
<rect x="136.0" y="346.5" width="3" height="3" fill="#ff2a0a"/>
<rect x="138.5" y="346.5" width="3" height="3" fill="#ff2a0a"/>
<circle cx="141.0" cy="350.2" r="1.55" fill="#0a1a8c"/>
<circle cx="150.8" cy="348.7" r="1.55" fill="#0a1a8c"/>
<circle cx="153.2" cy="349.5" r="1.55" fill="#0a1a8c"/>
<circle cx="155.6" cy="350.5" r="1.55" fill="#0a1a8c"/>
<circle cx="150.8" cy="352.0" r="1.55" fill="#0a1a8c"/>
<circle cx="153.2" cy="357.4" r="1.55" fill="#0a1a8c"/>
<path d="M153.17 349.50L153.17 354.50" stroke="#0a1a8c" stroke-width="1.0" fill="none"/>
<path d="M150.87 349.50L155.47 349.50" stroke="#0a1a8c" stroke-width="1.0" fill="none"/>
<path d="M150.87 354.50L155.47 354.50" stroke="#0a1a8c" stroke-width="1.0" fill="none"/>
<path d="M148.97 352.00L157.37 352.00" stroke="#0a1a8c" stroke-width="1.5" fill="none"/>
<rect x="148.7" y="358.4" width="3" height="3" fill="#ff2a0a"/>
<rect x="154.5" y="360.1" width="3" height="3" fill="#ff2a0a"/>
<rect x="151.7" y="381.9" width="3" height="3" fill="#ff2a0a"/>
<path d="M153.17 362.50L153.17 376.30" stroke="#ff2a0a" stroke-width="1.0" fill="none"/>
<path d="M150.87 362.50L155.47 362.50" stroke="#ff2a0a" stroke-width="1.0" fill="none"/>
<path d="M150.87 376.30L155.47 376.30" stroke="#ff2a0a" stroke-width="1.0" fill="none"/>
<path d="M148.97 369.10L157.37 369.10" stroke="#ff2a0a" stroke-width="1.5" fill="none"/>
<path d="M162.10 380.20L170.50 380.20" stroke="#ff2a0a" stroke-width="1.5" fill="none"/>
<rect x="164.8" y="378.7" width="3" height="3" fill="#ff2a0a"/>
<rect x="177.9" y="371.2" width="3" height="3" fill="#ff2a0a"/>
<rect x="174.5" y="377.0" width="3" height="3" fill="#ff2a0a"/>
<rect x="181.0" y="374.5" width="3" height="3" fill="#ff2a0a"/>
<rect x="181.0" y="378.5" width="3" height="3" fill="#ff2a0a"/>
<rect x="177.9" y="375.5" width="3" height="3" fill="#ff2a0a"/>
<rect x="177.9" y="385.0" width="3" height="3" fill="#ff2a0a"/>
<rect x="174.5" y="374.5" width="3" height="3" fill="#ff2a0a"/>
<rect x="181.0" y="376.5" width="3" height="3" fill="#ff2a0a"/>
<path d="M175.23 378.60L183.63 378.60" stroke="#ff2a0a" stroke-width="1.5" fill="none"/>
<circle cx="192.6" cy="347.7" r="1.55" fill="#0a1a8c"/>
<circle cx="189.4" cy="350.5" r="1.55" fill="#0a1a8c"/>
<circle cx="192.6" cy="351.5" r="1.55" fill="#0a1a8c"/>
<circle cx="195.8" cy="352.5" r="1.55" fill="#0a1a8c"/>
<path d="M188.36 351.00L196.76 351.00" stroke="#0a1a8c" stroke-width="1.5" fill="none"/>
<rect x="191.6" y="352.0" width="3" height="3" fill="#ff2a0a"/>
<path d="M188.36 356.60L196.76 356.60" stroke="#ff2a0a" stroke-width="1.5" fill="none"/>
<rect x="190.1" y="357.4" width="3" height="3" fill="#ff2a0a"/>
<path d="M192.56 354.00L192.56 359.50" stroke="#ff2a0a" stroke-width="1.0" fill="none"/>
<path d="M190.26 354.00L194.86 354.00" stroke="#ff2a0a" stroke-width="1.0" fill="none"/>
<path d="M190.26 359.50L194.86 359.50" stroke="#ff2a0a" stroke-width="1.0" fill="none"/>
<path d="M188.36 356.60L196.76 356.60" stroke="#ff2a0a" stroke-width="1.5" fill="none"/>
<path d="M201.49 347.70L209.89 347.70" stroke="#0a1a8c" stroke-width="1.5" fill="none"/>
<circle cx="205.7" cy="347.7" r="1.55" fill="#0a1a8c"/>
<rect x="201.2" y="349.3" width="3" height="3" fill="#ff2a0a"/>
<rect x="207.2" y="349.3" width="3" height="3" fill="#ff2a0a"/>
<path d="M205.69 353.30L205.69 361.60" stroke="#ff2a0a" stroke-width="1.0" fill="none"/>
<path d="M203.39 353.30L207.99 353.30" stroke="#ff2a0a" stroke-width="1.0" fill="none"/>
<path d="M203.39 361.60L207.99 361.60" stroke="#ff2a0a" stroke-width="1.0" fill="none"/>
<path d="M201.49 357.20L209.89 357.20" stroke="#ff2a0a" stroke-width="1.5" fill="none"/>
<rect x="204.2" y="360.1" width="3" height="3" fill="#ff2a0a"/>
<rect x="204.2" y="364.5" width="3" height="3" fill="#ff2a0a"/>
<path d="M214.62 347.70L223.02 347.70" stroke="#ff2a0a" stroke-width="1.5" fill="none"/>
<path d="M214.62 348.30L223.02 348.30" stroke="#0a1a8c" stroke-width="1.5" fill="none"/>
<rect x="214.5" y="346.2" width="3" height="3" fill="#ff2a0a"/>
<rect x="217.3" y="346.2" width="3" height="3" fill="#ff2a0a"/>
<circle cx="218.8" cy="350.0" r="1.55" fill="#0a1a8c"/>
<circle cx="218.8" cy="354.5" r="1.55" fill="#0a1a8c"/>
<path d="M227.75 348.00L236.15 348.00" stroke="#ff2a0a" stroke-width="1.5" fill="none"/>
<rect x="230.5" y="346.5" width="3" height="3" fill="#ff2a0a"/>
<circle cx="241.6" cy="347.7" r="1.55" fill="#0a1a8c"/>
<circle cx="248.6" cy="347.7" r="1.55" fill="#0a1a8c"/>
<circle cx="245.1" cy="350.0" r="1.55" fill="#0a1a8c"/>
<path d="M240.88 351.00L249.28 351.00" stroke="#0a1a8c" stroke-width="1.5" fill="none"/>
<path d="M240.88 353.30L249.28 353.30" stroke="#ff2a0a" stroke-width="1.5" fill="none"/>
<circle cx="245.1" cy="358.7" r="1.55" fill="#0a1a8c"/>
<rect x="253.2" y="348.3" width="3" height="3" fill="#ff2a0a"/>
<rect x="259.7" y="346.5" width="3" height="3" fill="#ff2a0a"/>
<rect x="256.7" y="347.0" width="3" height="3" fill="#ff2a0a"/>
<circle cx="258.2" cy="347.7" r="1.55" fill="#0a1a8c"/>
<path d="M254.01 349.80L262.41 347.60" stroke="#ff2a0a" stroke-width="1.3" fill="none"/>
<circle cx="268.3" cy="347.2" r="1.55" fill="#0a1a8c"/>
<circle cx="271.3" cy="348.2" r="1.55" fill="#0a1a8c"/>
<circle cx="274.3" cy="349.7" r="1.55" fill="#0a1a8c"/>
<circle cx="269.8" cy="347.7" r="1.55" fill="#0a1a8c"/>
<circle cx="271.3" cy="348.7" r="1.55" fill="#0a1a8c"/>
<path d="M271.34 353.10L271.34 369.40" stroke="#ff2a0a" stroke-width="1.0" fill="none"/>
<path d="M269.04 353.10L273.64 353.10" stroke="#ff2a0a" stroke-width="1.0" fill="none"/>
<path d="M269.04 369.40L273.64 369.40" stroke="#ff2a0a" stroke-width="1.0" fill="none"/>
<path d="M267.14 361.30L275.54 361.30" stroke="#ff2a0a" stroke-width="1.5" fill="none"/>
<rect x="269.8" y="357.4" width="3" height="3" fill="#ff2a0a"/>
<rect x="269.8" y="374.3" width="3" height="3" fill="#ff2a0a"/>
<circle cx="271.3" cy="351.5" r="1.55" fill="#0a1a8c"/>
<rect x="293.2" y="364.8" width="3" height="3" fill="#ff2a0a"/>
<rect x="299.2" y="365.6" width="3" height="3" fill="#ff2a0a"/>
<rect x="293.2" y="368.3" width="3" height="3" fill="#ff2a0a"/>
<rect x="299.2" y="369.0" width="3" height="3" fill="#ff2a0a"/>
<rect x="293.2" y="371.8" width="3" height="3" fill="#ff2a0a"/>
<rect x="299.2" y="371.1" width="3" height="3" fill="#ff2a0a"/>
<rect x="296.1" y="368.5" width="3" height="3" fill="#ff2a0a"/>
<path d="M293.40 370.00L301.80 370.00" stroke="#ff2a0a" stroke-width="1.5" fill="none"/>
<rect x="306.6" y="349.9" width="3" height="3" fill="#ff2a0a"/>
<rect x="311.6" y="350.5" width="3" height="3" fill="#ff2a0a"/>
<circle cx="314.1" cy="353.8" r="1.55" fill="#0a1a8c"/>
<path d="M306.53 353.80L314.93 353.80" stroke="#0a1a8c" stroke-width="1.5" fill="none"/>
<path d="M306.53 355.50L314.93 355.50" stroke="#ff2a0a" stroke-width="1.5" fill="none"/>
<rect x="309.2" y="358.4" width="3" height="3" fill="#ff2a0a"/>
<rect x="319.4" y="345.7" width="3" height="3" fill="#ff2a0a"/>
<rect x="322.4" y="346.7" width="3" height="3" fill="#ff2a0a"/>
<rect x="325.4" y="347.8" width="3" height="3" fill="#ff2a0a"/>
<path d="M319.66 347.50L328.06 347.50" stroke="#ff2a0a" stroke-width="1.5" fill="none"/>
<circle cx="321.9" cy="348.3" r="1.55" fill="#0a1a8c"/>
<circle cx="323.9" cy="349.5" r="1.55" fill="#0a1a8c"/>
<rect x="322.4" y="350.0" width="3" height="3" fill="#ff2a0a"/>
<rect x="322.4" y="352.7" width="3" height="3" fill="#ff2a0a"/>
<path d="M332.79 347.90L341.19 347.90" stroke="#0a1a8c" stroke-width="1.5" fill="none"/>
<circle cx="333.4" cy="347.9" r="1.55" fill="#0a1a8c"/>
<circle cx="340.6" cy="347.9" r="1.55" fill="#0a1a8c"/>
<rect x="345.6" y="345.7" width="3" height="3" fill="#ff2a0a"/>
<rect x="348.6" y="346.7" width="3" height="3" fill="#ff2a0a"/>
<rect x="351.6" y="347.7" width="3" height="3" fill="#ff2a0a"/>
<circle cx="347.9" cy="348.5" r="1.55" fill="#0a1a8c"/>
<circle cx="350.1" cy="349.5" r="1.55" fill="#0a1a8c"/>
<circle cx="352.3" cy="350.5" r="1.55" fill="#0a1a8c"/>
<circle cx="347.9" cy="352.5" r="1.55" fill="#0a1a8c"/>
<rect x="348.6" y="354.3" width="3" height="3" fill="#ff2a0a"/>
<path d="M350.12 360.40L350.12 376.20" stroke="#ff2a0a" stroke-width="1.0" fill="none"/>
<path d="M347.82 360.40L352.42 360.40" stroke="#ff2a0a" stroke-width="1.0" fill="none"/>
<path d="M347.82 376.20L352.42 376.20" stroke="#ff2a0a" stroke-width="1.0" fill="none"/>
<path d="M345.92 368.40L354.32 368.40" stroke="#ff2a0a" stroke-width="1.5" fill="none"/>
<rect x="348.6" y="374.5" width="3" height="3" fill="#ff2a0a"/>
<rect x="348.6" y="380.0" width="3" height="3" fill="#ff2a0a"/>
<rect x="348.6" y="384.0" width="3" height="3" fill="#ff2a0a"/>
<rect x="348.6" y="412.5" width="3" height="3" fill="#ff2a0a"/>
<rect x="358.8" y="346.2" width="3" height="3" fill="#ff2a0a"/>
<rect x="361.8" y="346.2" width="3" height="3" fill="#ff2a0a"/>
<rect x="364.8" y="346.2" width="3" height="3" fill="#ff2a0a"/>
<path d="M359.05 347.90L367.45 347.90" stroke="#0a1a8c" stroke-width="1.5" fill="none"/>
<circle cx="363.2" cy="348.3" r="1.55" fill="#0a1a8c"/>
<rect x="361.8" y="349.0" width="3" height="3" fill="#ff2a0a"/>
<rect x="361.8" y="351.6" width="3" height="3" fill="#ff2a0a"/>
<path d="M400.00 345.00L400.00 386.80" stroke="#000" stroke-width="1.4" fill="none"/>
<path d="M398.40 345.00L402.60 345.00" stroke="#000" stroke-width="1.2" fill="none"/>
<path d="M398.40 386.80L402.60 386.80" stroke="#000" stroke-width="1.2" fill="none"/>
<path d="M397.40 386.80L400.00 386.80" stroke="#000" stroke-width="1.1" fill="none"/>
<text x="396.6" y="389.2" font-size="6.6" text-anchor="end" fill="#000">90</text>
<path d="M397.40 378.44L400.00 378.44" stroke="#000" stroke-width="1.1" fill="none"/>
<text x="396.6" y="380.8" font-size="6.6" text-anchor="end" fill="#000">92</text>
<path d="M397.40 370.08L400.00 370.08" stroke="#000" stroke-width="1.1" fill="none"/>
<text x="396.6" y="372.5" font-size="6.6" text-anchor="end" fill="#000">94</text>
<path d="M397.40 361.72L400.00 361.72" stroke="#000" stroke-width="1.1" fill="none"/>
<text x="396.6" y="364.1" font-size="6.6" text-anchor="end" fill="#000">96</text>
<path d="M397.40 353.36L400.00 353.36" stroke="#000" stroke-width="1.1" fill="none"/>
<text x="396.6" y="355.7" font-size="6.6" text-anchor="end" fill="#000">98</text>
<path d="M397.40 345.00L400.00 345.00" stroke="#000" stroke-width="1.1" fill="none"/>
<text x="396.6" y="347.4" font-size="6.6" text-anchor="end" fill="#000">100</text>
<path d="M400.00 397.50L400.00 445.30" stroke="#000" stroke-width="1.4" fill="none"/>
<path d="M398.40 397.50L402.60 397.50" stroke="#000" stroke-width="1.2" fill="none"/>
<path d="M398.40 445.30L402.60 445.30" stroke="#000" stroke-width="1.2" fill="none"/>
<path d="M397.40 445.30L400.00 445.30" stroke="#000" stroke-width="1.1" fill="none"/>
<text x="396.6" y="447.7" font-size="6.6" text-anchor="end" fill="#000">70</text>
<path d="M397.40 432.80L400.00 432.80" stroke="#000" stroke-width="1.1" fill="none"/>
<text x="396.6" y="435.2" font-size="6.6" text-anchor="end" fill="#000">75</text>
<path d="M397.40 420.30L400.00 420.30" stroke="#000" stroke-width="1.1" fill="none"/>
<text x="396.6" y="422.7" font-size="6.6" text-anchor="end" fill="#000">80</text>
<path d="M397.40 407.80L400.00 407.80" stroke="#000" stroke-width="1.1" fill="none"/>
<text x="396.6" y="410.2" font-size="6.6" text-anchor="end" fill="#000">85</text>
<path d="M400.00 450.70L400.00 501.70" stroke="#000" stroke-width="1.4" fill="none"/>
<path d="M398.40 450.70L402.60 450.70" stroke="#000" stroke-width="1.2" fill="none"/>
<path d="M398.40 501.70L402.60 501.70" stroke="#000" stroke-width="1.2" fill="none"/>
<path d="M397.40 501.70L400.00 501.70" stroke="#000" stroke-width="1.1" fill="none"/>
<text x="396.6" y="504.1" font-size="6.6" text-anchor="end" fill="#000">0</text>
<path d="M397.40 487.25L400.00 487.25" stroke="#000" stroke-width="1.1" fill="none"/>
<text x="396.6" y="489.6" font-size="6.6" text-anchor="end" fill="#000">20</text>
<path d="M397.40 472.80L400.00 472.80" stroke="#000" stroke-width="1.1" fill="none"/>
<text x="396.6" y="475.2" font-size="6.6" text-anchor="end" fill="#000">40</text>
<path d="M397.40 458.35L400.00 458.35" stroke="#000" stroke-width="1.1" fill="none"/>
<text x="396.6" y="460.7" font-size="6.6" text-anchor="end" fill="#000">60</text>
<path d="M399.40 501.40L671.60 501.40" stroke="#000" stroke-width="1.2" fill="none"/>
<path d="M409.00 501.40L409.00 503.60" stroke="#000" stroke-width="1" fill="none"/>
<text transform="translate(411.3,505.0) rotate(-90)" font-size="6.4" fill="#000" text-anchor="end" >52</text>
<path d="M426.01 501.40L426.01 503.60" stroke="#000" stroke-width="1" fill="none"/>
<text transform="translate(428.3,505.0) rotate(-90)" font-size="6.4" fill="#000" text-anchor="end" >95</text>
<path d="M443.02 501.40L443.02 503.60" stroke="#000" stroke-width="1" fill="none"/>
<text transform="translate(445.3,505.0) rotate(-90)" font-size="6.4" fill="#000" text-anchor="end" >273</text>
<path d="M460.03 501.40L460.03 503.60" stroke="#000" stroke-width="1" fill="none"/>
<text transform="translate(462.3,505.0) rotate(-90)" font-size="6.4" fill="#000" text-anchor="end" >283</text>
<path d="M477.04 501.40L477.04 503.60" stroke="#000" stroke-width="1" fill="none"/>
<text transform="translate(479.3,505.0) rotate(-90)" font-size="6.4" fill="#000" text-anchor="end" >370</text>
<path d="M494.05 501.40L494.05 503.60" stroke="#000" stroke-width="1" fill="none"/>
<text transform="translate(496.4,505.0) rotate(-90)" font-size="6.4" fill="#000" text-anchor="end" >442</text>
<path d="M511.06 501.40L511.06 503.60" stroke="#000" stroke-width="1" fill="none"/>
<text transform="translate(513.4,505.0) rotate(-90)" font-size="6.4" fill="#000" text-anchor="end" >464</text>
<path d="M528.07 501.40L528.07 503.60" stroke="#000" stroke-width="1" fill="none"/>
<text transform="translate(530.4,505.0) rotate(-90)" font-size="6.4" fill="#000" text-anchor="end" >503</text>
<path d="M545.08 501.40L545.08 503.60" stroke="#000" stroke-width="1" fill="none"/>
<text transform="translate(547.4,505.0) rotate(-90)" font-size="6.4" fill="#000" text-anchor="end" >536</text>
<path d="M562.09 501.40L562.09 503.60" stroke="#000" stroke-width="1" fill="none"/>
<text transform="translate(564.4,505.0) rotate(-90)" font-size="6.4" fill="#000" text-anchor="end" >584</text>
<path d="M579.10 501.40L579.10 503.60" stroke="#000" stroke-width="1" fill="none"/>
<text transform="translate(581.4,505.0) rotate(-90)" font-size="6.4" fill="#000" text-anchor="end" >643</text>
<path d="M596.11 501.40L596.11 503.60" stroke="#000" stroke-width="1" fill="none"/>
<text transform="translate(598.4,505.0) rotate(-90)" font-size="6.4" fill="#000" text-anchor="end" >793</text>
<path d="M613.12 501.40L613.12 503.60" stroke="#000" stroke-width="1" fill="none"/>
<text transform="translate(615.4,505.0) rotate(-90)" font-size="6.4" fill="#000" text-anchor="end" >830</text>
<path d="M630.13 501.40L630.13 503.60" stroke="#000" stroke-width="1" fill="none"/>
<text transform="translate(632.4,505.0) rotate(-90)" font-size="6.4" fill="#000" text-anchor="end" >1165</text>
<path d="M647.14 501.40L647.14 503.60" stroke="#000" stroke-width="1" fill="none"/>
<text transform="translate(649.4,505.0) rotate(-90)" font-size="6.4" fill="#000" text-anchor="end" >1218</text>
<path d="M664.15 501.40L664.15 503.60" stroke="#000" stroke-width="1" fill="none"/>
<text transform="translate(666.5,505.0) rotate(-90)" font-size="6.4" fill="#000" text-anchor="end" >1420</text>
<text transform="translate(384.4,459.2) rotate(-90)" font-size="7.8" fill="#111" text-anchor="start" textLength="80" lengthAdjust="spacingAndGlyphs">Surface accessibility [%]</text>
<path d="M435.30 522.40L460.80 522.40" stroke="#000" stroke-width="3" fill="none"/>
<path d="M467.90 522.40L563.40 522.40" stroke="#000" stroke-width="3" fill="none"/>
<path d="M567.90 522.40L612.40 522.40" stroke="#000" stroke-width="3" fill="none"/>
<path d="M637.30 522.40L670.30 522.40" stroke="#000" stroke-width="3" fill="none"/>
<text x="448.4" y="536.7" font-size="12.3" fill="#000" text-anchor="middle" >ICL2</text>
<text x="501.8" y="536.7" font-size="12.3" fill="#000" text-anchor="middle" >NBD1</text>
<text x="593.0" y="536.7" font-size="12.3" fill="#000" text-anchor="middle" >R-region</text>
<text x="656.0" y="536.7" font-size="12.3" fill="#000" text-anchor="middle" >NBD2</text>
<text transform="translate(413.4,523.6) rotate(-90)" font-size="12.2" fill="#000" text-anchor="end" >N-term</text>
<text transform="translate(428.1,525.6) rotate(-90)" font-size="12.2" fill="#000" text-anchor="end" >TMH1</text>
<text transform="translate(633.6,519.5) rotate(-90)" font-size="12.2" fill="#000" text-anchor="end" >TMH11</text>
<circle cx="632.9" cy="442.4" r="1.3" fill="#0a1a8c"/>
<rect x="631.3" y="448.9" width="2.7" height="2.7" fill="#ff2a0a"/>
<text x="641.0" y="444.3" font-size="6.8" fill="#111" text-anchor="start" >wt</text>
<text x="641.0" y="452.3" font-size="6.8" fill="#111" text-anchor="start" >F508</text>
<path d="M403.50 380.20L414.50 380.20" stroke="#ff2a0a" stroke-width="1.5" fill="none"/>
<rect x="407.5" y="378.7" width="3" height="3" fill="#ff2a0a"/>
<path d="M420.51 404.30L431.51 404.30" stroke="#ff2a0a" stroke-width="1.5" fill="none"/>
<rect x="424.5" y="402.8" width="3" height="3" fill="#ff2a0a"/>
<rect x="441.5" y="361.5" width="3" height="3" fill="#ff2a0a"/>
<rect x="445.6" y="360.2" width="3" height="3" fill="#ff2a0a"/>
<rect x="438.5" y="365.1" width="3" height="3" fill="#ff2a0a"/>
<rect x="441.5" y="365.1" width="3" height="3" fill="#ff2a0a"/>
<rect x="444.5" y="365.1" width="3" height="3" fill="#ff2a0a"/>
<rect x="439.5" y="364.0" width="3" height="3" fill="#ff2a0a"/>
<rect x="441.5" y="369.0" width="3" height="3" fill="#ff2a0a"/>
<rect x="445.6" y="369.0" width="3" height="3" fill="#ff2a0a"/>
<rect x="440.5" y="366.5" width="3" height="3" fill="#ff2a0a"/>
<path d="M437.52 366.60L448.52 366.60" stroke="#ff2a0a" stroke-width="1.5" fill="none"/>
<path d="M437.52 461.00L448.52 461.00" stroke="#0a1a8c" stroke-width="1.5" fill="none"/>
<circle cx="441.5" cy="461.0" r="1.55" fill="#0a1a8c"/>
<circle cx="444.5" cy="461.0" r="1.55" fill="#0a1a8c"/>
<circle cx="443.0" cy="460.0" r="1.55" fill="#0a1a8c"/>
<text x="438.8" y="459.4" font-size="12" fill="#000" text-anchor="start" font-weight="bold" letter-spacing="0.3">***</text>
<path d="M454.73 350.80L465.33 350.80" stroke="#ff2a0a" stroke-width="1.5" fill="none"/>
<path d="M454.73 351.90L465.33 351.90" stroke="#0a1a8c" stroke-width="1.5" fill="none"/>
<rect x="460.5" y="349.0" width="3" height="3" fill="#ff2a0a"/>
<path d="M471.54 366.50L482.54 366.50" stroke="#ff2a0a" stroke-width="1.5" fill="none"/>
<rect x="475.5" y="365.0" width="3" height="3" fill="#ff2a0a"/>
<rect x="489.1" y="373.9" width="3" height="3" fill="#ff2a0a"/>
<rect x="496.1" y="373.9" width="3" height="3" fill="#ff2a0a"/>
<rect x="492.6" y="374.5" width="3" height="3" fill="#ff2a0a"/>
<rect x="489.1" y="378.0" width="3" height="3" fill="#ff2a0a"/>
<rect x="496.1" y="378.0" width="3" height="3" fill="#ff2a0a"/>
<rect x="492.6" y="377.0" width="3" height="3" fill="#ff2a0a"/>
<rect x="491.1" y="379.8" width="3" height="3" fill="#ff2a0a"/>
<rect x="494.1" y="379.8" width="3" height="3" fill="#ff2a0a"/>
<path d="M488.55 378.30L499.55 378.30" stroke="#ff2a0a" stroke-width="1.5" fill="none"/>
<path d="M505.56 354.60L516.56 354.60" stroke="#0a1a8c" stroke-width="1.5" fill="none"/>
<circle cx="511.1" cy="354.6" r="1.55" fill="#0a1a8c"/>
<rect x="506.1" y="372.0" width="3" height="3" fill="#ff2a0a"/>
<rect x="509.6" y="371.5" width="3" height="3" fill="#ff2a0a"/>
<rect x="513.1" y="372.0" width="3" height="3" fill="#ff2a0a"/>
<rect x="506.1" y="374.0" width="3" height="3" fill="#ff2a0a"/>
<rect x="509.6" y="374.5" width="3" height="3" fill="#ff2a0a"/>
<rect x="513.1" y="374.0" width="3" height="3" fill="#ff2a0a"/>
<rect x="506.1" y="376.5" width="3" height="3" fill="#ff2a0a"/>
<rect x="509.6" y="377.0" width="3" height="3" fill="#ff2a0a"/>
<rect x="513.1" y="376.5" width="3" height="3" fill="#ff2a0a"/>
<rect x="507.6" y="379.5" width="3" height="3" fill="#ff2a0a"/>
<rect x="511.6" y="379.5" width="3" height="3" fill="#ff2a0a"/>
<rect x="506.6" y="382.0" width="3" height="3" fill="#ff2a0a"/>
<rect x="509.6" y="383.0" width="3" height="3" fill="#ff2a0a"/>
<rect x="512.6" y="382.0" width="3" height="3" fill="#ff2a0a"/>
<rect x="509.6" y="378.5" width="3" height="3" fill="#ff2a0a"/>
<path d="M505.56 377.50L516.56 377.50" stroke="#ff2a0a" stroke-width="1.5" fill="none"/>
<rect x="509.6" y="397.8" width="3" height="3" fill="#ff2a0a"/>
<text x="506.0" y="413.4" font-size="12" fill="#000" text-anchor="start" font-weight="bold" letter-spacing="0.3">***</text>
<rect x="543.6" y="375.5" width="3" height="3" fill="#ff2a0a"/>
<rect x="543.6" y="383.5" width="3" height="3" fill="#ff2a0a"/>
<path d="M545.08 378.50L545.08 384.50" stroke="#ff2a0a" stroke-width="1.0" fill="none"/>
<path d="M542.78 378.50L547.38 378.50" stroke="#ff2a0a" stroke-width="1.0" fill="none"/>
<path d="M542.78 384.50L547.38 384.50" stroke="#ff2a0a" stroke-width="1.0" fill="none"/>
<path d="M539.58 381.60L550.58 381.60" stroke="#ff2a0a" stroke-width="1.5" fill="none"/>
<path d="M556.79 370.40L567.39 370.40" stroke="#ff2a0a" stroke-width="1.5" fill="none"/>
<rect x="560.6" y="368.9" width="3" height="3" fill="#ff2a0a"/>
<path d="M573.80 347.30L584.40 347.30" stroke="#0a1a8c" stroke-width="1.5" fill="none"/>
<circle cx="579.1" cy="347.3" r="1.55" fill="#0a1a8c"/>
<rect x="574.6" y="369.9" width="3" height="3" fill="#ff2a0a"/>
<rect x="580.6" y="369.9" width="3" height="3" fill="#ff2a0a"/>
<rect x="574.1" y="375.0" width="3" height="3" fill="#ff2a0a"/>
<rect x="581.1" y="375.0" width="3" height="3" fill="#ff2a0a"/>
<rect x="574.6" y="381.0" width="3" height="3" fill="#ff2a0a"/>
<rect x="580.6" y="381.0" width="3" height="3" fill="#ff2a0a"/>
<rect x="577.6" y="375.7" width="3" height="3" fill="#ff2a0a"/>
<path d="M579.10 374.00L579.10 380.50" stroke="#ff2a0a" stroke-width="1.0" fill="none"/>
<path d="M576.80 374.00L581.40 374.00" stroke="#ff2a0a" stroke-width="1.0" fill="none"/>
<path d="M576.80 380.50L581.40 380.50" stroke="#ff2a0a" stroke-width="1.0" fill="none"/>
<path d="M573.80 377.20L584.40 377.20" stroke="#ff2a0a" stroke-width="1.5" fill="none"/>
<path d="M590.81 346.40L601.41 346.40" stroke="#0a1a8c" stroke-width="1.5" fill="none"/>
<circle cx="596.1" cy="346.4" r="1.55" fill="#0a1a8c"/>
<rect x="594.6" y="354.7" width="3" height="3" fill="#ff2a0a"/>
<rect x="591.1" y="358.0" width="3" height="3" fill="#ff2a0a"/>
<rect x="594.6" y="357.5" width="3" height="3" fill="#ff2a0a"/>
<rect x="598.1" y="358.0" width="3" height="3" fill="#ff2a0a"/>
<rect x="591.1" y="361.0" width="3" height="3" fill="#ff2a0a"/>
<rect x="594.6" y="360.5" width="3" height="3" fill="#ff2a0a"/>
<rect x="598.1" y="360.0" width="3" height="3" fill="#ff2a0a"/>
<rect x="592.6" y="361.8" width="3" height="3" fill="#ff2a0a"/>
<path d="M590.81 360.30L601.41 360.30" stroke="#ff2a0a" stroke-width="1.5" fill="none"/>
<path d="M607.82 362.00L618.42 362.00" stroke="#ff2a0a" stroke-width="1.5" fill="none"/>
<rect x="611.6" y="360.5" width="3" height="3" fill="#ff2a0a"/>
<path d="M624.83 360.50L635.43 360.50" stroke="#ff2a0a" stroke-width="1.5" fill="none"/>
<rect x="628.6" y="359.0" width="3" height="3" fill="#ff2a0a"/>
<path d="M641.84 379.50L652.44 379.50" stroke="#ff2a0a" stroke-width="1.5" fill="none"/>
<rect x="645.6" y="378.0" width="3" height="3" fill="#ff2a0a"/>
<circle cx="664.2" cy="346.7" r="1.55" fill="#0a1a8c"/>
<circle cx="664.2" cy="358.4" r="1.55" fill="#0a1a8c"/>
<path d="M664.15 349.60L664.15 356.60" stroke="#0a1a8c" stroke-width="1.0" fill="none"/>
<path d="M661.85 349.60L666.45 349.60" stroke="#0a1a8c" stroke-width="1.0" fill="none"/>
<path d="M661.85 356.60L666.45 356.60" stroke="#0a1a8c" stroke-width="1.0" fill="none"/>
<path d="M658.85 353.20L669.45 353.20" stroke="#0a1a8c" stroke-width="1.5" fill="none"/>
<circle cx="664.2" cy="353.2" r="1.55" fill="#0a1a8c"/>
<rect x="662.7" y="368.5" width="3" height="3" fill="#ff2a0a"/>
<path d="M664.15 374.70L664.15 384.50" stroke="#ff2a0a" stroke-width="1.0" fill="none"/>
<path d="M661.85 374.70L666.45 374.70" stroke="#ff2a0a" stroke-width="1.0" fill="none"/>
<path d="M661.85 384.50L666.45 384.50" stroke="#ff2a0a" stroke-width="1.0" fill="none"/>
<path d="M658.85 379.80L669.45 379.80" stroke="#ff2a0a" stroke-width="1.5" fill="none"/>
<rect x="660.1" y="383.4" width="3" height="3" fill="#ff2a0a"/>
<rect x="665.3" y="383.4" width="3" height="3" fill="#ff2a0a"/>
<text x="662.2" y="401.0" font-size="12" fill="#000" text-anchor="start" font-weight="bold" letter-spacing="0.3">**</text>
<text x="12.8" y="625.4" font-size="19" fill="#000" text-anchor="start" font-weight="bold" >C</text>
<path d="M122.8 643.8l.7-3.3l2.7-.6l1-3.3l-2.8-3.1l-2.4-2.4M113.3 648.5l3.9 2.4l2.4-1.1l-3.5-1.8l2.6-2.3l-3.8-.6M112.6 661.1l.4 2.8l3.6 .7l-1.1-3.8l2.3-2.4l-.6-4.3M91.2 714.8l2.9 1.7l2.6 2l2.5 2.8l3.4-1.1l2.5 2.3M125.8 628.4l3.1-.3l-1.4 2.4l-2.2-2.8l-2.1 3.5l-1.1-2.7M110.7 726.9l-3.5 1.2l1-4.3l2.1 2.6l1.2-2.8l2.9-.6M98.9 690.9l-1.2-3.4l-4.3-.1l1.2-2.6l2.6 3l2 2.6M106.6 677.2l.5-3.9l3.9-1.9l-.4-4.2l3.4-2l2.5 1.4M105.2 655.5l1.9-3.8l-1.9-3l-3.4-.3l-3.7-.6M100.9 729.8l4.2 .7l1.5 2.5l-2.7 .5l-3.5 1l-1.2 3.9M115 692.1l-3.3-.7l.7 2.7l-3-1l-2.4 3.2l2.1 3.2M95.6 728l3.3-.9l.5-3.9l2.5-1l3.3-2.1l2.6-2.3M120.3 680.7l-1 3.5l-1.1 3.5l-3.7 .7l-2.1 3.7l1.7 3.8M108.9 665.1l-3.9-2.3l-3.1 1.9l-2.5-2l-2.6 1.3l-2.5-2.5M128.6 660.2l-2.1-2.5l-2.1-2.2l-3.6 1.5l-2.7 .8l-.4 4.2M115.3 668.4l-3.2-.2l-1.3-2.8l-1.5-3.3l-1.2-3.4l1.6-2.5M91.9 718.9l1.4 2.9l-1.4 3.3l-4.5 .5l1.6 3.9M117.8 687.7l-3.7 1.1l-.7 3l-1.1 4.4l-.4 4.2l-2.4 1.6M89.4 683.8l3.4 2.9l3.6-1.6l-2.5-1.4l.4-4.5l-3.9-1.7M128.9 620.7l-.4 4l-3.5 1.2l-.6 4.2l2.1 2l1.3-3.5M94.1 725.7l-3.1 2.9l-4-1.2l-2.5 1.9l-.9-4M105.7 690.5l2.1-2.3l2.8 .8l2.8-2.3l3.3 1.4l2.2-1.6M101.2 657.5l-.7-3.1l-2.5 1.6l3-2.6l-2.9-1.5M96.6 681.6l-1.7 3.4l2.2 3.8l1.3 3.7l-2.2 2.7l-3.9-1.1M127.9 707.8l2.5 1.2l3-1.3l.1-2.9l-3.9 1.4l-3.5 2M128.5 727.3l-2.5-1.4l-.3-4.1l-3.2-1.1l-2.7 1.5l-.2 3.3M93.7 732.1l2.6-2.4l2.2-2.3l2.8 .2l2.1 3.5l-4.2-.5M109.7 629l-3.4-.4l-2.1 3.1l-1.9 2.2M98.5 720l-2.4-3.2l-1.7 4.1l2.3 3.4l-1.7 3.3l1.7 3.7M126.3 629.7l1.3-2.8l3.3 .4l-1.8-3.2l-1.2-3.5l3 .5M105.5 714.1l-1.6 2.2l-2.7-.5l-1.8 2.5l-2.1 2.8l.8 3.6M118.1 622.2l-2.6 .6l-4.5 .6l2.6 2.4l2.9 2l-.3 4.1" stroke="#a8d838" stroke-width="0.8" fill="none" stroke-linejoin="miter"/>
<path d="M179.9 629.8l-4.1-.2l1.3-2.4l-2-2.2l-3.4 1.4l-.8 4.5M198 696.4l3.5-2.1l2.6-1.4l3.9 1.7l3.2 1.5l2.9-1.5M168.9 627.8l-1.9 2.3l-1.9 1.8l-2.7-.5l-1.9 2.5l-3.2 0M218.1 727l-2-3.4l1.5-4l-3-2.9l-3.3 1.2l-2-2M204.9 756.4l3.7 1.4l3.2-2.7l1.2 4.4l-3.2 2.8l.2 2.6M201 705.1l2.1 3.1l2.8 .1l2.5-2.8l-1.4-4.4l-2.5-.7M196.6 735.1l3.7 1.9l-2.6 1.6l-3.3-2.2l.2-3.5l-2.9-1.7M194.3 731.4l3.1 1.6l-2.3 2l-1.7-4.2l2.6-2.6l.8 2.5M207.9 738.4l3.3 2.9l2.5 1.6l2.5 1.1l0 3.1l-2.5 .9M209.4 732.3l.4-3.7l-3.8 2.4l-.2 3.2l3.7-1.8l3.9-2.2M192.6 758.4l.9 3.4l3.7 1l3.1-2.9l-1.1-4l-4.4-.4M201.4 687.3l3.3-1.3l.9-3.5l.5-3.4l2.4-1.2l-.7 2.9M173.7 589.3l-2.9-.2l-1-3.4l-2.9-1.5l.1-3.2M197.5 678.5l-.1-4.3l-3.6-1.8l2.7-2.7l-1.4-2.9l-1.3-2.6M212.4 690.5l2.7-1.2l-.1-3.7l-2.8-1.2l0-4.2l2.9-1.1M200.8 669.4l-2.9-3.2l-2.6 .5l-1.1 2.7l2.9 3.5l1.2-3M190.3 713.7l-2.8 .4l-.6 3.2l2.3 1.3l.4 3l-2.8 2.6M206 668.8l-2.9-1.3l1.2 3.8l-1.5 2.2l-2 2.6l3.6 .1M206.5 751.6l2.9 1.6l3.2-2.3l3-2.1l3-1.9M191.8 637.8l3.8 1.8l2.4-2M201.3 732.8l2.7-.5l-2.6-3l1.7-4l3.9-.5l1.6-4.2M188.5 712.3l2.1-4l1.3-4.4l-2.4-3.3l-2.7-.3l-2.3 3M192.7 666.1l.2-2.8l3-2l2.9-2.9l-.9-3.4l-2.6-.7M150.5 602.2l.1-3.1l3-2.4l-.7-3.9l-2.6-.7M207.4 695.3l4.2-1l1.4-2.9l-3 .1l-3.2-.4l-.8-3.5M212.4 739.9l-3.7 .4l1.5 2.2l-1.3 3.9l-2 3.9l-4.3 0M175.1 605.7l2.9 .3l-2.4 2.5l-3.5-1.2l.2 2.7l2.9 1.8M195.3 715.4l2.8-3l2.7 1.2l0 4.1l3.8 2.6l2.3 1.6M187.6 745.6l-3.6 2.7l3.8 .9l1.4 3.3l-2.1 2.7l-4.3-.2M203.9 668l-3.1-2.8l2.6-.8l-2.2-1.6l-2.2 1.5l2.6 1.8M215 686.4l2.4 3.4l-3.7 .3l-3.5 .4l-1.6 2.9l-3.3 .1M153.7 596.2l2.6 3.1l3.7-.2l1.6-2.2l4 .9M206.1 762.2l-2.5 1.1l3.2 1.6l-3.5 2.6l.1-3l-3.5 2.6M194.1 722.5l4 2.1l3.8-2.1l.5-2.7l2.9 2.2l2.4-1.3M176.6 597l-3.5 2.4l4 1.8l3.6-2.6l-3.8-.9l-1.8 2.4M191.5 688.7l1.9-3.2l1.2 3.8l-2.6 2.8l1.3 3.2l-2.9 2.7M166.3 638.5l-3.7 2.3l-2.6-1.9l-3.3 1.1l-3.4 .5l1.4-2.7M180.7 664l3.9-.9l2.1 2.5l1.6-4.1l2.5-.9l3 2.6M186.1 661.7l3.1-.7l.8-3.1l.7-3.9l3.2-1l.5-3.8M193.2 661.2l.7-4.4l-2.4-1.9l.2-3l3.8-1.5l2.9 2.5M189.1 728.7l-4.4 .1l-2.1-2.8l1.6-3.2l-2.3-2.7l-4.4 .8M182.9 655.3l3.8-.9l-3.1-2.8l-3 .5l1.3-3.8l3.2-1M171.7 615.6l-2.8-1.3l.1 4.3l3.8 1.6l2.7-1.4l-.6 3.5M202.2 665.5l3.5 2.7l-3.4 .7l1.8 2l-.7 4l3.1-1.5M191.7 713.1l1.5-3l-1.5-2.7l1.2-2.8l-4.1 0l-2.5-3.6M190.3 649.7l1.8 2.4l-.8 2.5l-1.8 3.6l-1.4-2.5l1.4-2.9M220.6 727.6l2.5-.8l.7-3.6l-2.7 1.5l-.3 3.4M184 622.3l3.9 1.8l2.7 1.9l-4 1.5l3.4 1.9M202 704.3l-4.1 .8l1.3-3.1l-2.9-.2l1.7-2.8l1.3 2.9" stroke="#2040d0" stroke-width="0.8" fill="none" stroke-linejoin="miter"/>
<path d="M118.1 624.9l3.3-.9l4.1-1.8l-.8 2.7l-1.5 3.9l2 2.8M122.6 661.9l2.5 1.3l-4.1 1.7l.1-4.2l-.4-4.2l3.4 1.1M120.5 629.4l3-2.8l2.7 1l.4 3.7l-3.7-1.1l-1.6-3.3M92.2 732.4l-.2 2.8l2.5-.9l2.9 2.1l2.3-1.5l-.3-4.1M121 666l3.1-2.7l-.1-2.8l-2.1-1.5l-2.9-1.5l-3.6 1.4M103.7 673.1l1.5 3.3l3.5 .1l2.9-3.4l-3.7-.2l-1 2.5M119.2 708.5l-3.4 1.6l0 3.3l3.1-2.7l2.7 .9l-2.2 2.8M95.4 723.6l-2.5-.8l-.7-2.5l-2.8-.3l-1.2 2.4l4.6 .3M119.1 646.2l-4.1-1.6l-.7-3.3l-2.5 2l.8 3.2l-2.3 3.2M95 714.7l2.9 .2l-1.2-2.9l-.9-4l-3.6 2.7l-3.3 2.3M120 646l-2.8 2.1l.3-4.1l0-3l3.2 1.3l.8 3.3M127.7 739.2l2.6-2.6l-.6-4.3l-.5-3.5l-2.4-1.5l-3.5 1.9M106.4 644.5l2.5 .8l1 4.4l-3.5-1.4l-3.2-1.6l3.9-1.8M111.7 695.6l-3.6-1.4l-.2-3.7l3.6-2l-.8 4.3l3.4-1.2M98.2 680.2l3.2 .4l-1.3-3.3l-2.1 2.9l.6 2.6l.6 4.2M118.9 720.2l1.4 4l-4.4-.7l-3.2 3.3l-2 2.1l-1.3-2.6M96.6 689l.3 4.5l-2.8 1.3l-.4 3.9l2.3-1.3l3.6 2.5M118.2 730.6l1.8-4l.7-2.8l2.9 3.3l-2.6 .6l-1.4 4.1M110.2 738.9l-2.4 3.1l1.8 2.9l2.1 3.7l1.6 2l-1.1 3" stroke="#90d030" stroke-width="0.8" fill="none" stroke-linejoin="miter"/>
<path d="M203.6 833.8l1.6-2.1l1.3-2.7l2.6 3.4l-3.3 .5l1.9 1.8M179.6 855.2l-3.2 2.3l-2.5-1.9l-3.7 2.3l-3.4 3l-3.9-1.9M209.4 823.8l-1.8-3.5l2.5-3.2l2.7-3.7l2.9 .2l2.8 .2M158.5 846.9l3.2 2.8l-.1 3.5l-4.1-1.6M195.2 869.2l-2.6-.1l-2.1 3l-3.8 0l2-3.3l1.7 3.7M191.1 809.4l-.7-2.5l-3.9-.5l-1.2-3.6l-2.9-.2l-2.4 2.8M203.6 859.5l.8 3.8l-.8-2.8l-2.1 2.7M166.7 853.3l2.7 1.8l-.5 4.5l.3 4.4l2.7-2.1l-4.3-1.5M223.4 789.2l1.7 2.6l-1.6 2.3l-2-2.8l.8-2.5l-3.3 .1M200.1 837.1l2 2.9l1.9 2.7l4 .4l1.5-2.6l-1.9-4M163.8 827.5l-1.6 4.2l-1 3.7l-3.4 .4l1.9 2l-.9 2.8M173.3 849.7l-3.1-3.3l-2.7 1l1-4.2l2.6-.6l-2.7-2.3M208.3 802l-2.6-1.1l1 4l1.9-1.8l2.4 1l-1.1-4.3M206.4 810.6l-.8-4.5l3.3-2.8l-2.7-.5l-2.4 2.4l.5 3.3M189.2 838.7l2.6 2.4l-.6 4.1l-3.8 1.4l.5-3.5l-3.2-1.8M205.5 804.7l2.4 2.8l2.5 2.1l3.9-1.4l-2.1-1.6l.1 4.6M226.3 819.3l1.6 3.6l1.6-3.4l2.4-3.8l2.9-.2l1.2-2.8M173.1 806.6l3.6-2.8l3.6 1.7l3.1-1.9l-.4 4.5l-.5 3.5M214.1 825.5l1.4-3.3l3-.5l2 2.1l1-4.1l-1.8-2.5M194.9 799.6l3.9 1.2l2.2-2.5l-4.2-.4l-2.4 3.5l-4.5 .1M231.7 813.6l-4.3 1.3l-3.7 1.4l-3.6 1.8l3 1.8l3-1.8M184.7 841.2l3 1.5l.5 3.4l.1 4.2l2.7 2.1l3.2-.8M208.4 829.4l2.7 2.4l-1.4 3.7l3.1-1.2l3.1-.8l3-1.1M202.4 791.1l-1-2.5l4.6 .3l4.5 .5l2.6-3.7l2.2 3.6M184.6 811.3l-3 3.4l3.2 1.2l3.3 1.2l-.8-2.8l-2.9-1M169.4 821.3l-3.1-.8l-.6-4.1l-2.9-1.3l-2.6-.9l-.3-4.1M169.6 811.1l3.2-.5l2.2 3l1.7-3.1l3.3 .1l1.9-3.6M200.4 824.1l-4.2-.3l1.4 2.5l1.2-3.7l-2.9-2.6l1.3-3.3M189.7 781.4l2.8-3.6l-2.7-.6l-3.1 2.7l-2.5-1.1l-.3 4M158.1 788.9l1.3-4.2l.8-3.6l2.9-.6l2 2.7l3.6 .1M160.7 858.9l-.4-3.4l4-2l3.2-.9l-1.6 3.6M196.7 805.9l.2-4.2l-2.6-1.3l-.8-4.2l-4.3-1.5l-3-1.8M165 856l-2.8-.9l-2.5 2l0-3.7l0-3.7l3.3 2.8M171.2 824.2l-2.5 2.7l-4.4-1.1l-2.7-.2l-2.4 3l1.7 2.6M197.3 867.4l-2.1-2.6l1.7-2.9l-2.7-3.3l.8-3.3l3.1 3.2M208.5 819.7l.7 2.9l-2.4 1.7l-3.3 2.9l-2.9-.8l2-2.6M197.9 852.7l3.6 1.1l1.4 3.2l-3 3l1.7 4.2l-1.8 1.9M170.1 806.9l-2.8 .4l2.1 3l.9-3.5l2.8 3.3l-1.4 2.6M192.5 820.6l.6-4.3l-.2-3.5l2.6-1.8l3.7 2.4l3.7-1.6M176.8 790.8l4.4 .2l1.9-2.5l4.3-.2l1.4 2.3l-1.5 2.5M205.1 807.8l-.3-4l-3.9-1.9l3-1.4l.7-3l.7-3.5M221.8 829l1.9 2.1l-1.2 3.8l-2.5 1.1l-2.8-2.7l1.6-3.9M196 822l-1.8-3.9l-3.1 2.9l-.6-4.4l-2.2-1.5l3.2-1.6M211.2 807.7l-2.5-2l-1.1 2.9l-4.1-.1l2.2-3.2l3.1 .8M216 824.6l-3-2.2l-3.6-1.8l.3-2.7l1-3.9l-3.9 1.4M182.4 836.7l4.4 .6l2.4-3.4l-1.6-2.2l-1.8-2.4l-4.4 .3M197.3 822.4l-2 2l-1.7-3.7l-.7-3l-2.9 1.9l.3 3.5M173.6 794.2l.2 3.6l2.3 1.7l3.2 3.2l-1.4 3.6l-3.3 .2M208.4 846.2l-3.5 2.4l.6-4.5l3.2-1.5l3.2 3.1l2.9-1M179.2 873.8l3.2 2.7l3.5-1.3l2.2 1.5l2.6-1.5l-3.4-1.9M203.2 829.1l3.1 1.8l-2.7 1.8l-.4 3.6l3.3 2.6l-3.6 1.4M225.5 820.3l1.5 3.8l2.8 .7l2.6-3.8l-4.3-1.1l-3.4 2.6M207.6 837.8l2.2-2.9l-2.6-.5l-2.4 2.1l1.4 3.5l4.5 .7M187.7 800.5l-2.8 .9l.2-3.5l-2.8-2.2l-3.4 1.5l-4-1.9M207.1 797.1l-1.7 2.5l-1.8 2.7l-1.6-3.5l2.5-3.7l-1.6-3.8M189.6 858.3l2.3-1.5l2.3-1.2l-.3-3.2l-4.1-1.9l-3 1.6M234 816.8l-1.2 2.4l-2.2 3.6l2.2 3.3l-3.3 .2l-1.6-2.4M189.1 791.2l-1.8-3.6l-3.8-.9l2.6-2.7l3.5 .2l1.4-2.2M219.7 789l-2.6-.6l-2.6 3.7l-2.6-.4l-3.1-.2l1.3 2.3M161.6 793.9l-2.6 .5l1.6-4.1l3.3-1.1l1.1-2.9l1.5 2.5M185.2 808.4l-3-3.1l-4.1 .4l-4.6-.1l-2.2-3.4l1.7-3.1M218.7 830l-.7 3.3l-.2 4l-3.5-2.9l-2.7-2.1l-4.5 1M189.1 816.6l-2.8 .9l-.4 4l-3.4-1.9l2.7-1.4l-2.4-1.3" stroke="#50d850" stroke-width="0.8" fill="none" stroke-linejoin="miter"/>
<path d="M116.5 837l-3.9 1l2.4 3.3l4 0l1.9 2.6l1.8 4M100.6 835l4-.9l3.4-.4l3.3-.6l-2-2.3l-3.8 1.1M120.4 824.6l-.8 3.2l-.5 3.5l-.8 2.7l-2.5-3.7l-2.4-2.4M94.2 837l4.2-.6l2.7 3.2l-3.4 1.1l.4-2.9l-3.2 .7M96 843.3l-4-.9l2-1.9l2.5 .9l1.1 3.4l3.7 1.2M90.9 823.7l2.3-2.8l-1.6-3.2l1.9-3.8l1.4 3l3-3.3M103.9 851.7l2.8-.3l-2.1 3.2l-2.6-.4l-2.2 2.8M87.1 831.5l.4 4l-4.1-1.1l-.4-4.3l-2.6-.9l-3.1 2.2M112.6 849.8l2.8-.7l-3.1-3.3l-2.7-3.3l-2.9 .5l-1.6-2.6M97.6 848.3l-3.2-1.5l-3.3 2.7l-4.2-1.2l1.1 4.4l-4.3-.7M127.4 833.6l-1.2 3.1l4.3-.7l1.3-3.1l-2.8-2.9l-3 .9M96.7 828.1l-3 .4l-2.2-2.1l.8-3.6l4.2-.5l-1.8-2.3M129.9 831.2l-2.6 .6l-2.7-3.3l-1.2 2.5l2.2 3.1l-2.1 4.1M77.4 822.4l2.6 .7l-2.7 1.9l.4 2.8l3.8 .7l2.3-3.1M95.6 834.3l1.9-3.1l1.8 3.2l-3-.1l-2-2.7l-2-3.7M128.8 832.4l-.9-3.1l-1.4-3.4l-2.2 2.1l.4 2.6l-2.8-.5M126.4 823.5l4.1-.1l3.1 .5l-4.1 .1l2.1-2.5M114.2 810.1l3.4-2.8l-1.5-4l-1.3-3.2l-3.5-1.1l-2.6-1.2M123.7 823.1l-.8-2.6l-3.8-.9l2 3.9l-2.2 2.3l1.7 3.6M122.5 823.3l-3.8 1.7l-3.8-2.3l-.6-3.6l2.6-2.9l-1.4-2.4M95.7 848.7l2.4 2l3.3-.9l1.5 2.2l2.5-3.7l2.8 .4M122.2 849.7l-3.2 1.4l.3-3.3l3.6 1.7l2.7 1.2M111.1 823.6l3.3-2.6l-.3-3.2l.1-2.8l-3.6-2.1l.4-4.4M100.9 853.3l.3 4.4l4.1-1.7l2.7 2l3 3.2M118.9 835.3l-2.6 2.5l.9 2.8l3.1-2.6l3.2 1.5l.6 4.2M110.4 823.2l1.6 3.6l-2.7 .1l1.2 2.7l-2.4 2.5l-.2-2.9M105.3 821.3l1.5 3l-1.5 3l2.4 3.4l2 1.9l-1.6 3.4M109 853.3l-3.7 1.8l-3.2-3.3l-3.8 .3l1.7-2.9l-3.1 .3M116.4 797.6l-1.2-3.6l4.3 .1l3.8 .6l1.8-2.1l3.1 1.2M130.4 818.7l-1.1-3.3l-1-3.9l2.8 .4l1.4 4.2M111 848.5l2.8 1.2l2.2-2l-3.8-2.1l-.5-2.9l-2 2M85.8 841.5l-3.4 1.5l4-2.1l3.5 2.1l2-1.7M115.7 854.7l-.4-2.8l3.7-2.5l.2-3.4l4.1-1.3l1.1-2.8M84.2 824.5l-1.8 2.6l-2.6 0l-3.4-.2l-3 .4l-1.7-3.1M99.1 848.9l-3.2-2.4l-2.4-1.4l.3-2.7l2.3 1.5l2.8-1.8M117 840.8l.7-3l-3.7 1.8l-.1-2.7l-2.4 1.2l.6 4.4M86.7 820.4l-1.6 2.7l1.8 3.7l.9 2.5l2.8 .7l1 2.4M126.4 836l-1.8 4.1l-2.4-2.5l.6-2.9l1-2.7l3.6-.7M101.7 853l-4 2l3 1.8l2.8-1.6l.2-3.8M95.6 835.3l-.3 3.6l-3.3 1.2l-2.7-1.7l.7-2.7l1.8-3.9M103.8 842.1l0 4l-3.1 1.5l.2 3.4l-2.6 1.5l-2.5 2M107.7 820.6l3.7-1.5l1-3.5l1.6 2.3l3.4-.7l-2.4-1.9M110.9 840.1l3.7-.7l1.7-3.5l-1.9-2.5l-4.2 .8l-1.1 2.9M91 838.4l2.8 .2l-2.5-3.6l1.7-4l1.7 2.1l-2.8 0M99.1 841.8l3.6 0l2.3-3.2l-2.9-.1l-1.8-3.5l3.1-.3M80.1 830.8l2.6 1.4l.1 2.8l2.6 1.3l.3-3.6l3.4-1.8M89.9 847.5l-4-1.8l-3.1 3.1M93.9 825.7l.8-4.4l4.4-1.2l.8-3.1l-3.6 1.3l2 1.8M88.2 823.2l-3.4 1.2l-3.5-2.8l-2.9 1l.5-4.1l-2.7-1.5M102.5 853.7l-3.4 .5l2.8 2.5l-2.9-2.2l-2-1.9M98.6 849.2l-3.8-1.1l.2 3l-3.5-1.3l-2.6 1.4l3 1.7M110.3 809.9l-2.8-.9l2.6-3.4l-1.4-2.5l1.6-3.5l-3.9 1.1M110.1 842l-3.8 1.7l-.4 4l-2.4-1.6l-.7 3.7l-4.1 1" stroke="#c01818" stroke-width="0.8" fill="none" stroke-linejoin="miter"/>
<path d="M180.4 679.3l2.7 1.7l-.6 2.9l-2.7-2.7l-3.4 .7l.8-2.9M99.7 731.6l-1.9-2l-4.1 1.2l-3.4-2.5l-.4 3.3l-4.1 1.1M174.6 694.5l1.4-3l1.6-4l-2.8-3.3l-2.4-2l.7-3.2M158.3 742.1l-3.1 1.9l-.3-3.9l-3.7-2l-.8-3.4l3.1-2.4M166 751.1l4-2.2l.3-4l-3.5-2.3l-.2-3.2l3.9 1.9M160.4 779.5l-3.6 1.5l-2.4 1.5l-3.7-2.1M98.7 756.3l0 3.4l2.3 1.5l2.4-1.1l-.9 3.7l-1.2 3.3M113.6 739.3l1.3 2.6l-2.9-.7l-1.2-2.4l-1-2.7l2-3M156.5 769.5l-.5-4.3l-3.1-.7l-2 2.9l4 .3M160.1 639.5l.7-3.1l1.4-3.7l.7-3.2l4-.8l-2.1-2.6M113.4 748.8l-3.7-.2l-2.1-3.4l1.2-3.1l-2.5-3.2l2-3.6M120.8 743l-3.8-2.1l-3.9-2.3l.6 4.3l.6 4.4l-3.6 1.9M119.6 764.1l4-1.5l.9-2.8l3.9-1.1l.9-2.9l2.9-.4M137.1 699.1l-1.5-4l-.9-4.3l-3.5-.7l2.2-2.2l-.7-4.2M159 716.5l0 3.4l-2.8 2.3l-4.2-1.2l-.5-3.5l.3-4.3M138.6 734.3l3.1 1.1l0-2.8l-3-2.1l.6-3.3l.6-2.9M134.1 730.4l4.2 1.6l3.6 1l.8 3.2l-1.9 2.6l-2 3.5M127.2 755.6l-2.3 2l-2.8 3.5l2.1 3.6l3.7 .4l.9 2.7M85.9 750.2l-1.4 2.4l-1 2.5l1.5 2.7l-1.1 2.7l-2.7-3.1M150.9 629.6l3.3 1.7l-2.7 2.1l4 2l2.6-1.9l-.6-3.1M85.7 741.4l2.9-.9l-.2 3.4l3.6 1.9l.2-3.4l-2.9-1.9M180.6 688.8l-2.5 2.1l.9 2.8l-2.3 2.6l1.5 4l-2.4 3.2M96.2 736.4l1.8 3.5l4.1-.1l-1-2.5l-4.2-.9l-3.1 2.4M171 719.8l-1 3l1.9 2.4l1.4 2.6l-2.1 2.6l.5 2.7M143.6 664.8l-2.8 2.7l2.6 .9l-2.5 1.4l-3.1-2.2l-3.1 1.2M172.3 731.6l-.5 3.9l-3.4-2.5l-3.6 1.2l-.7 2.7l1.7 2.4M153.6 727.4l.8-4.1l-4.1 2.2l-.9 4.3l-3.1 .4M97 735l3.1 1.5l0-4.4l3.8-1.3l3.4-1.3l3 2.5M121.1 732.6l-3.1-.7l2.4-3.8l-1.7-3l1.2-3l-2.6 .3M138.2 727.8l0-3l2.9-1.6l-.5 3.8l-4.1 1.9l.7-3.3M179.5 729.9l-1.6-3.8l-4.6 .3l1.9-4l1.8 3.8l1.7-2.6M129.7 656.6l-2.4 1.6l-.7-4l-3.8-1.6l2.4-1.7l.2 3.8M119.8 698l2.7 1.6l-3 .9l.5-4.4l-4.4 1.2l-2.8-2.1M164.5 756.3l2.6-1.4l2.3 1.5l2.7-1.1l.9-3l-2.3-2.9M156.3 715l2.6 .8l3.6 .4l-3.1 3.1l.6 3.4l.7 3.1M160.8 639.6l3.2-3.1l-.9-3.6l3.6 .9l1.1 4l3.8 1.8M139.6 765.6l-4 .9l-2.7-2.9l-.7 3.5M99.2 760.7l2.2 3.5l-1.7 2.4l-1.4 2.3l1.3 3.5l4 1.3M107.9 759.4l-1.5-4.3l-2.7-.1l-3 .5l-1.6-2.3l-2.5-3.2M129.7 732.2l-2.3 1.5l-.5 3.6l-3.6 1l1.3-3.4l2.6-.9M156.4 654.4l2.7 1.1l.3 4.6l3.6 2.5l-.7 2.6l2 2M156.4 727.1l2.7 .5l2.5-3.7l2.8-3.6l-2.1-3.7l2.8-.2M162.3 768.9l3.5-.9l-.9 2.7l-2.9-2.5l.1-3.1l3.2-1.6M140.1 756.7l1.2-2.9l-3.4 .3l-1.4 2.5l1.2 2.8M153 726.4l-.7-3l2-2.1l3.4 .4l2-2.4l2.8 1.1M120.6 762l-2.7-1.5l3-1l-1.2 3.2l3-.1l2.7-3.6M122.7 752.5l3.9-1l2.9-.5l-2.2 3.5l1.7 2.5l3.3-.9M113.5 733.5l2.6-.6l3.3-1.2l2.7 2.9l-1.2 3.5l-3.4-3M165 770.3l3.3 2.3l2.6-.7l1.1-3.7l2.4 2.5l-.8 2.6M96.2 758.9l-3.4-3l3.3-.9l-2.3-2.6l-2.6-2.6l-1.7-2.1M156.4 748.9l3.5-.9l1.4-3.3l-3.9 .1l-4.5 .4l-1.3 2.4M151.8 761.3l.6 3.6l.7 2.7l.4 4.4l2.7 1.3l3.3-1.8M131.2 721.4l-2.2 2.3l-1.5-3l-.8-2.5l-3.4-.6l1.8-2.8M140 732l-3.4-2.8l2.9-.9l4-1l2.3 3M115.3 755l-2.6-2.4l-3.6 1.5l-2.9-2l-3.6-2.7l.5-3.1M105.9 745.3l-4.2 2l-3.6 1.7l3.8 1.7l2.2-1.9l-.2-3.9M182.5 693.1l-.6 2.8l-2.2-1.9l-2.9-2.8l-3.5-2.8l.1-4.6M132.9 725.3l-3.8-2.2l0-3.2l-2.8 2.1l-.2 2.7l3.5 1.6M96.3 760.3l-1.5 3.7l2.9 2.6l.1-3.5l-2.9-1.1l-3.2-.8M126.5 750.1l3.8-.8l.5-2.7l3.2-1.4l.3-3.8l2.3 1.6M133.7 701.5l2.1 3.3l-1 2.5l-1.4-2.2l1.5-3l-1.3-2.3M187.1 726.6l4.1-.3l-2.5-3.7l1.8-3.5l4.5 .7l-2 3.1M134.4 765.4l1-2.7l2.2 2.4l-2.9-1.8l-.1-3.4M93.5 762.6l-4.1 .1l-1.6-2.3l-2.3-3.5l-2-3.7l1.6-3.6" stroke="#18a8d8" stroke-width="0.8" fill="none" stroke-linejoin="miter"/>
<path d="M193.2 634.2l-4 1.1l-4.1 .7l-2 4.1l-1.4 3.5M172.8 633.2l-1-2.7l-2.7-.6l-1.8-3.7l-3.9 .5l-1.6 4.3M202.9 698.7l.6-2.9l3.4-1.8l.4 4.5l-2.4-1l-3.8 2.6M210.7 743.3l2.1-3.9l4.3 0l-1.8-2l2.2-4M152.7 774.6l-.6 3.5l2.7-1.4l-.2-3.8l3 .9M213.2 714.6l3.4 1l4.3 .8l-3.5 2.7l-2.9 1.6l.3 2.9M184.5 705.5l-1.3-2.8l4 .4l-3 3.2l-2.8 2.3l.1-4.3M177.7 694.1l3-1.7l-.4 4.3l3.2 1.7l3.7-1.9l.2 4.4M188.9 742.7l1.4 3.5l2.3-4l-2.4-3.4l2-3.4l-1.8-2.7M165.7 605.4l-2.9-1.1l-2.7-1.4l-2.5 1.5l2.6 1.9l3.8-1.9M188.6 661.2l2.7-.9l-.8 2.6l-.5 3.9l3.8-1.5l2.5 2.7M175.1 753.8l-1.3-2.3l-1.6-4l-3.3-.6l-.9-2.7l3.5 1.4M168.6 779.5l2.6 3.7l1.3-4.2l2.1 2.8l4.4-.6l1.5 2.5M188 751.7l3.2-.2l1.3 2.9l1.8 3.5l4.5 .6l3.4 .8M220.7 734.9l3.1-1.2l-2.5-1.7l-2.9 .9M175.9 754.7l3.3-2.3l-3.5-2.1l.8 4.2l.9 3.9l4.3 .5M189.4 695.8l-3.9-1.1l1.4 3.7l1.8 4l-1.8 2.5l-2.9-.2M188.2 717.2l4.2-.5l1.6-2.7l-2-3.3l-2.9-.5l-3.6-1.1M172.1 614.6l2.6-1l2.1 2.3l3.2-.9l.7-4.2l4.1-.7M183.4 714.8l-4.4-.9l-2.7 3.5l1.2 2.8l3.6 .8l1.4 3.5M156.5 782l1.5-3.8l2.8-.9l4.1-1.8l.7-3l-3.7-2.3M180.8 655.4l-.7-3.3l-3 2.3l-2.4 2.8l-4.1 0l-1.7 3M213.8 717.4l-2-3.1l1.9-4.1l3.4-.1l-2.8-3.2l1.2-4.2M201.8 747.9l-2.9 1.3l-3 .7l1.4-3.6l-1.9-2.2l-4.3 1.2M191.3 641.1l-.6-2.9l-3.4-.8l-3.5-.6l-2.2 4l1.6 3.4M203.5 698.8l3.8-.3l-2.3-3.7l-2-3l1.6-4.1l4.3-1M176.8 636.8l1.7-2.4l1.9-2.3l2.4-2.1l-.5-3.9l-3.1 3.3M201.5 725.1l0 4.2l3.3-1.3l-.8 3.2l-2.2-1.6l.4-3.5M175.4 622.8l2.2-3.6l4.2-.6l1.5-3.2l-2.7 .2l-1.5 3.5M206.4 702.8l.9-3.1l1.3-3l2.1 2.8l-1.7 3.4l-4.6-.2M189.4 632.3l2.3-2.3l-2.1 2.1l4.3 .3M204.6 701.3l2.6-2.6l-1-3.7l1.9-2.7l-1.9-3.9l-4.5 .1M197.8 687.2l-2.1-2.3l-3.8 .9l-1.2 4l-3.9 1.1l1.7-3.9M172.9 774.8l.4-3.2l-4.3 1l-3.3-2.9l-3.4 1.6l.4 4.4M212.4 682.1l-1.5-2.2l1-2.9l-2.2-2.2l-3.2-2.2l3.7-1M215.4 743.2l-.8 2.8l3-1l-2.3-1.6l-.2-2.6l2.8-2.7M175.7 623.6l2.4 1.9l-.6 4.2l3.6-1.5l-3-2.1l3.7-1.8M199.8 670.4l-1.6 2.3l-1.8 4.2l1.7 3.3l-3.4 .3l-1.8 3.7M154.2 772.4l0 4.3l.6 3.6l-.1 3.8l2.7 1.3l2.8 .8M200.2 709.4l-3.1-1.1l-1.9 1.8l3.3 .6l4.2 1l2.1-3.2M202.6 657l-3.7-2.6l1.2-4.4l2.5-1l.1-3.5M208.9 760.7l-.5 2.7l2.2 2.1l2.3 1.4l-.4 4.4l2.8-1.2M199.2 717.7l-.2-3.5l0-3.8l3.7-1.5l-2.3-2.3l-.6 3.3M199 693.4l2.2 2.8l4.2-1.3l2.4 2.1l0-4.1l-2.7-1M183.7 628.5l2.4 3l.8-2.9l2.3 2.3l.5-3.3l3.4 2.8M217.8 704.2l-2.2 2.7l1.7 3.1l3.8 .4l-1-2.6l2.5-3.2" stroke="#4464f0" stroke-width="0.8" fill="none" stroke-linejoin="miter"/>
<path d="M115.7 748.8l3.2-2.6l.1 3.1l-2.2 1.9l-.1-4l4 2M156.8 741.7l.7 4.4l-3.2-.6l-2.1 2.4l1.9-3M92.3 754.7l-.6 3.9l2.9 1.9l0-2.9l-3.1 1.3l-3-3.2M163.8 748.9l1.8-2.2l1.9 3.2l-2.2 3.7l1.9 3.5l1.6 3.7M95.6 759.3l4 2l3-1.6l.8-4.4l.4-3.2l-2.1-2.1M132.6 727.9l.4-2.7l.4-2.8l-2.8-2.4l-3.4 .5l-1.1 4.4M172 743l4.3 .1l-1.6-3.4l-4 .1l2.1-2.8l-1.7-3M176 737.9l1.7-2.3l-2-2.9l3.2-.2l1.5-3.2l2.4 3.1M88 749.2l3.3-1.6l3.5-1.1l-.5 3.7l-2.8-1.7l.3-3.4M135.5 717.4l-3.4 1.6l2 1.7l-.1 3.8l-2.4 1.8l-2.9-1.7M132.9 654.5l1.3 4l1.6 4l-3.1 2.9l-2.9-1.4l-2.8 1.7M165.6 772.5l-3.5 .2l-4.4 .1l-2.4 3.8l3.1 0l-1.2 2.8M184.1 759.6l-1.2 2.6l2.7 3.3l.6-2.9l.6-2.6l4.1-1.3M149.4 710l-3.9 0l-1.5-2.4l-1.8-3.8l-4.3-.7l-2.1 3.9M166.5 772.4l-3.5-1.6l.9 4.1l-3.2 2.2l-2.8 2.1l.2 3.7M135.6 737l2.7-2.5l1.8-2l-2-3.5l2-2.9l-1.9-3.1M133.2 697l-.5-3.6l-2.1 1.9l-2.7-1.4l2.2-1.9l.5 3.8M97.3 726.6l2.9-1l-.9 3.4l2 1.8l.8-3.1l-3.5-2.9M163.2 731.3l-3.3-1.6l-.1-3l2.7-1.8l-.7-3.5l2.8 1.1M116.1 735.7l-1.7 3.4l-2.7-.1l1.3 2.8l3.2-3.3l-1-2.7M164.5 756.8l-.1 3.1l-3.5 2.6l-3.5-1.1l.7 3.1l-2.5-1M133.7 649l-3.9-.1l-2.5 3.7l-1.3-2.8l-3 .3l1.4-2.5M120.3 701.5l-.2 4.3l2.6-1l-3.8-2.5l3-.9l-2.2-2.3M168 779.5l-3.8 1.4l-2.5 1.2l1-4.4l3.5-1l2.6 3.6M172.1 752.7l.1-3.8l-3-2l-3.2-2l-3 2l.3-3.8M133.2 666.5l3.5 1.7l-.2-3.4l-2.3 1.6l0 2.6l-.1 3.8M148.2 710.7l-2.6 3.2l1.3 2.3l3.7-.1l1.7-2.6l2.8-.4M173.5 730.8l-2.7-.9l-.2-3.1l-2.9-2l2.9-2.1l.1-3.4M161.2 749.3l-1.8-4.1l-1.2-2.6l-1.1-2.9l2.9 .5l-2.6 2.3M169.2 702.1l-2.2-2.2l1-4.3l-2.1-2.8l-1.6-2.1l-3.2-3M163.5 660.2l2.5 1.5l2.6 1.6l2.2-1.7l3.3 2.1l-2.5 1.3M105.3 732.3l-1.4-3.7l2.4-3.5l2.7 .1l2.8-3.1l-3.9-.9M152.9 763.6l2.3-1.9l3.4 2.1l-.6-4l-2.7-.9l-.9-3.5M136.5 656.1l2.3 3.5l4-1.1l-1.4 3.2l4.2-1l-2.7-3.5M118.9 750.4l3.7 .2l1.7 2.4l4.1-.2l1.2-3.5l-2.5-2.8M179.9 732.5l.6-4.5l-.1-3.3l2.7 2.2l2.8-1.5l-.4-3.2M146.5 712.4l-2.7-.1l2 2.6l-1.8 3.8l3.5-.4l2.1-4M130.8 729.4l-3.4-1.3l-3.9 2.2l-.3 3l-2.6 1.8l-2.6-1.8M125.7 732.5l.5-3.3l2.4-1.3l.7-3.7l3.6 2.8l.7-2.7M181.5 701l-3.3 .2l1.8-2.3l3.2 .8l.5 4.3l-2.9 1.9M114.1 746.5l4.2-.8l2.1 3.2l-2.1 3.1l-1.6 2.2l1.5 2.8M115.8 743.3l.4-4.6l3.7-2.1l-.6 4.3l2.6 2.5l-.8 2.5M97.3 740.7l1.4-3.5l-2.4-2l1.6-4.1l3.4-1.1l.2-3.5M175.6 676.9l-4-.4l-2.2 4.1l2.2 2.6l-2.4 1l-.6 3.3M126.6 744.6l1.7-3.2l3.4-.4l-2-2.9l1.8-4.1l3.4 .2M172.7 699.8l-1.8-3.5l2.6-.3l-1.6-3.4l-2.6 2.7l-.8-4.4M145.7 657.9l3.2-1.3l2.9 3.1l-1.4 3.4l-1.7-3l-1.3-2.4M176.3 689.5l-1.4 4.1l3.6-1.2l-3-1.8l-3.4-1.4l-.1-4M107.6 692.1l4 0l3.7-.2l-1-2.5l-3.5-.9l-1.9 1.9M150.8 744l3.4 .9l-2.9 3.4l3.2 0M137.7 723.2l2.5 3.7l-2.2 3.6l2.1 2.6l-1.6 3l3.6 .1M183.5 699.5l-3.3 1.2l-3.6-2.1l-3.6 2.3l-3.2-1.6l-.8-4M180.1 703.8l-3.4 .8l-1.2 3.1l-2.4-2.7l3.1-.5l.8-2.8M158.8 742.1l-2.6 .9l-3.2-2.8l-.6 2.7l-.4 3.6l-4.2 1.9M165.8 723.2l-2.4 2.4l1.1 4.1l-2.2 2.6l-2.3 3.9l3.6 .5M191.2 687.6l3.2 2.8l-.4 3.1l-3.1 .8l-.9 2.7l2.6-.9M107.9 747.2l1.2-2.3l2.8 3.4l2.2 3.6l2.6-3.3l4.1 .4M182.8 693.7l-2.8-1.8l0-4.1l2.6 2.1l-.8 4.1l3-.5M162.4 679.8l-1.8-3l-1.7 2.8l1.1 3.4l-2.5 3.4l-1.8-2.7M126 761.4l3.1-.7l-2.8-2.9l-3 1.1l2.6 2.3l.8-4.2M157.5 634.8l3.6-1l3.4 2.5l2.9-1l3.5 2l2.4-1.6M125.3 703.3l-2.9 2.1l-3.1-1.5l-.8-3.3l-3.4-1l-2.5 2.1M123.1 761.3l-1.9 2.2l1 3.5l3.3 1.1l2.1-2.5l2.8 .7M98.5 760.9l-3-3.1l.6-4.4l-3.1 1.6l-3-1.2l-3.8-1.9M115.9 763.4l4.4 1.1l-1.8 2.1l1 3.6l-4-1.5l-.7-4.1M100.3 763l.3 2.9l3.4 2.3l.2 3.7l-3.9-1.7l-.8-4M167.8 786.8l.7-3.5l2.5-1.2l.7-3.5l-2.3-2l3.6-.5" stroke="#30c0b0" stroke-width="0.8" fill="none" stroke-linejoin="miter"/>
<path d="M96.1 753.4l-3.8-.5l3.1-3.4l-1.4-3.2l-1.9 3.7l4-.5M123.6 726.7l1.2 2.8l2.6 .5l.7 3.6l-1.9 2l.5 3.4M157.2 752.4l2.8-2.3l-1.1-3.9l3.5 .6l-1.4-3.8l3.5-2.9M106.8 734.7l3.3 2.5l0 3.9l3.7 2.3l3.3 2l2.9-2.4M134.6 720.4l.4-3l-3 1.9l0 3.1l-2.9 1.4l-2.5 1.3M164 725.9l3.2 .4l.7 2.7l3.2 .2l1.1 3.9l-2.3 2.6M144.7 653.8l1.8 2.6l1.7 3.1l-1.1 2.9l2.7-.6l1.8 2.3M161.2 715.3l3.7 .5l2.7-2.8l3.2-2.2l3.5 2.3l3.3 2.2M157.9 765.6l-3.6 .7l-2-2.2l4.3-1.6l0-4l3.6-1.7M168.6 765.1l-1 2.6l1.8 2.6l3.8-.4l2.1-3.2l1.9 4M156.7 637.5l-1.3 3.8l2.8 3.5l3-.9l4.1-1.1l.6-3.7M162.9 692l3 2.7l-3.8 1.4l.8-3l-2.8-2.7l-2.9-2.6M122.5 742.2l-3.7-1.3l0 3.6l.4 2.8l-.1 3.8l0 3.1M118 706.3l-4.2 .3l2.7 3.1l2.7-1.1l-2.9-3.2l1.1-4.5M100.7 739.1l-1.5 3.4l-3.9 1.3l3.1 2.8l3.3-.8l1.3-3.2M117 747.8l-3.4-1.3l-.4-4.6l-2.5 2.4l2.9 .5l-1-3.6M112.4 769.6l-2.6 1.4l-3.2 1.9l-3.8 2.4l-2.4-1.8l-2.4 1.5M125.9 753.8l2.5 2l3.7-1.5l-2.5-1.8l-3.5-2.7l2.4-1.5M170.5 701.7l2.3-2.7l2.9-2.6l-4.2-1.3l.8 4.1l1 2.4M121.6 689.9l-.4-3.4l-3.1 2.6l-4.3-.8l-4.4-.7l-4.4-.7M137.1 665.9l-2.7 1l2.2 1.6l-.3 2.9l-4.1-2.1l.1-4.1M84.6 753.6l-3.2 2.2l2.7 1.7l2.8-1l-2.9-2.7l3-.4M98.4 752l-3.1 2.8l.3 2.9l-2.8 2.3l.9 3.3l-1.9 2.7M169.6 699.7l3.9-1.2l1.2-3l2.9-1l3.3 2.3l3.4-1.2M167.3 748.9l-2.4 3.2l3.3 .8l3 1l2.8-2.2l-.1-2.9M167.5 736.6l2.3-3.7l-3.5 .5l1.3-2.5l-1.7-3.6l2.1-3.6M139.4 718.3l-2.2-2.4l.8-3.7l2.4 1.8l-.3-3.3l3.3-1.7M171 743.3l-1.7-3.5l2.1-3.5l3.1 .6l1.8-2.3l1.4-2.6M130.1 733.4l-4.2 .7l-2.7 .2l1.2-3.9l-3.6 1.2l2.7 2.4M116.2 760.2l3.9-.3l1.1-2.5l3.2-.6l-3-2.5l.4-3.5M129.4 751.1l2.9 1.9l-3.6 2.5l-.5-3.1l4 1.7l.2 3.6M124.9 719.9l-2.7 .1l-4.5-.7l-1.1-3.1l-1.4 2.5l-2.7-.4M92.3 734.6l2.5 2.2l-2.7 .3l-1.7 2.6l1.8 3.7l-1.8 3.4M141.5 715.2l1.9 2.4l-1.2 3.6l-1.7-2.7l-1.1-2.8l2.6-2.4M125.8 691.7l1.9 3.2l-3.9-.3l-2.7 3.1l-3.9-1.3l-.3-3.7M91.7 759.9l-2.3 2l-3.3-1.4l-.3-2.6l3.1 2.1l.5-4M178.2 681l-.3 3.5l3.1-1.7l-.5 2.7l-3.5-1.9l-2.6 2.4M127.3 650.5l2.5-2.9l-1-4.1l-.6-3.9l3.8 1.6l3.4-2.4M170.8 728.5l4.3 0l-1.4 3.3l3.3-.5l2.2 3.6l-1.3 3.8M115.5 722l-2.4-1.3l4-1.7l.4-3.1l-3.3-3.2l.5-4.3M101.5 741.1l2.2 3.7l2.4 3.1l-3.3 .5l-.6 2.8l3.5 2.4M134.5 739.3l2.4 1.8l3.1-2.1l.3 3.1l-2.7 1.3l-.5 3.1M154.3 731.2l-.5 3.5l2.7 2.6l3.8-1.4l2.8-1.5l0-3.3M177.4 730.3l-1.7 2.6l4.5-.4l.8-2.8l-3.2 1.1l2.7 2.2M136.7 705.8l-2.2 1.8l-3.3-1.9l.2-3.9l2.8-1.5l-.6 3M139.3 710.6l-3.2-2.8l-3-3l-4.1 1.6l0 4.2l-2.3 1.7M158 734.3l3.2 3.1l2.1 2.9l4.4-.9l3.2 0l-1.8-2.1M90.6 760.9l1.3 2.8l2.2 3.2l1.1-2.9l-1.7-2.7l-2-4.1M89.4 760.5l1.2-3.2l3.4-1.2l2.3 2.5l-1.9 4.2l1.9 4.1M99.3 763.9l-2.2-3l-4.1-.2l-2.5 3l-2.6 2.6l-4.3-.6" stroke="#28c8d8" stroke-width="0.8" fill="none" stroke-linejoin="miter"/>
<path d="M95.9 778.1l-2.8-2.7l-2.9-2.9l-1.4 4l1.7 2l2.9-.3M100.6 781.4l-.5 2.7l-2.8-2.4l3.6-1.5l-.2 4.4l.1 2.7M65.9 804l3.4-2.2l-3.3-2.5l0 4.5l3.8 1.6l2.8-2.2M90.9 775.5l-4.1 0l-1.6-3.4l-2.6-.4l-2 2.8l-2 2M124.9 792.6l1.8-2.1l3.4 .6l2.1-2.2l.4 2.8l3.5 1.8M86 806.6l-2.3 1.3l-2.8-1.4l-3-1.4l-2.4 1.9l-2.8 2.8M114.8 778.8l-1.6-3.1l1.5-3l-1.7-4l-1-3.1l2.4-3.5M93.2 801l3 .7l3.5 .4l4 .7l-1.1-3.8l-.6-2.7M87.1 803l2.8-1.5l2.5 1.2l0 4.4l4.2 1.9l3-2.6M72.4 799.1l-3.4 2.5l-3.6-1.2l1 2.5l1.8 3.5l3.8-.1M123.8 772.3l-3.3 2.2l-1.9 1.9l-3.5-.7l2.3-2.2l3.8-2.5M85.7 786.7l2.5 3.5l-3.4 .3l-1.3 2.6l1 2.5l3.6 .7M56.6 775.8l-.8-2.6l2.9 1l.2 3.6l-2.4 1.8l3.6 .8M108 783.4l-3.1-1.2l-3.4 2l-2.5-1.4l-.4-4.1l-.1-2.8M121.2 766.6l-.3-3.6l-.1-2.7l-3-2.2l-3.7 1.1l-2.2-2.5M82.4 773.4l3.8 2.5l2.8-1.8l-3.7-1.8l-3.4 2.8l.5 2.8M127.3 806.8l2.3-1.4l-.1 3l-2.2 1.5l2.5 1.7l-.5-3.3M88.5 750.6l3 1.5l2.7 1.9l2.5-1.5l3.9 2.2l0 2.6M78.8 814.7l-1 3.1l2.1 2.1l-1 3.1l-4.2 1.2l-4.5 1.2M127.1 783.6l2.3 3.6l3.8-.8l1.8-3.5l-1.9-3.1l-1.8 2.3M68.5 770.2l2.2 3.1l3.4-.9l2.5 3.1l-1.8 3.9l-2.1-2.3M111.2 783.7l1.4 2.5l1.6-4.2l1.3-2.7l-2.9-3.4l-.9 4.1M89.4 770.7l0-4.3l-3.4 1.2l0 3.7l-2.5 1.8l-3.2-.9M88.9 809.7l-.8 4.1l3.9-2.2l-3.9-2.4l-.3-4.4l-2.6-.8M75.1 784.9l2.9 1.1l2.5-2.8l3.7 1.3l2.9-1.7l3.2 1.5M92.9 786.6l1.2 4l-1.6 2.3l-1-2.8l-1.2-3.1l-1.7-2.7M119.4 800.5l-1.7 2.5l-3.4-.5l1.7-2.2l-.8-3l2.9-2.4M99.8 783l-2.5 1.4l-.3 3.1l.4 3.5l3.1 1.1l-3.2 2M73.9 764.2l-3.1-2.3l-2.9 1.3l-.7 4.2l-4 1.5l-2.8 1.6M103.3 776.8l3.2-.3l.7-2.7l4.2-.8l4-.1l1.5 3.9M71.4 825.5l-1.6 2.1l1-3.3l1.2-2.7M115.7 801.3l-2.5-1.4l-3.4 2.8l-2.3 1.8l-3.7-2.3l3.6-1.1M128.9 763.1l.6-2.7l4.1-1.3l.2-3.2l2.4-1.7l2.7-2.3M91.5 805.8l3.3-1.2l-.9 2.7l-4.2 0l-1.4 2.2l3.1 .6M92.8 771.1l3.4 1.4l3.8 1.6l-.2 2.6l-.6 3.3l-4 1.7M119.8 807.1l0 3.9l-3.2-1.3l-3 2.9l4.4 1.1l4 .5M70 800.4l-1.8 3.1l-1.4 3.9l3.5-1.2l-.3 3.9l-3.6 2M130.9 794.5l-3.3 2.3l-2.2-1.5l-3-2.3l-2.6-2.8l-2.8 .4M119.3 783.3l2.8 2.5l3.7-1.6l.2-4l-3.1-1.8l-.1-4.2M72.9 768.5l1.6 2.3l-1.8 4l-2.9 .5l-.9 3.8l-3.1-3M83.5 756.2l2.3 1.4l-.1 3.2l2.7-1.9l2.6 1.5l-.4 3.8M108.6 801.5l-1 4.2l1.7 2l1-4.3l-2.6 .5l-2.6-3.3M125.5 801.6l2 2.9l3.6-.8l.5-2.9l-1.8-2.2l-1.3 3.3M102.9 784.8l-2.4-1.2l.9 3.7l-3.9-.4l1.8 3.7l1.5-3.2M97.7 770.2l1.6 2.8l2.8 .2l1.9-2.1l2-2.6l2-3.2M55.1 793l-3.1 2.1l-4.1-1.7l3.2-2.3l-3-1.7l-3.1 1.1M57.1 791.5l1.1-2.8l-4.3 .4l-1.6 2.2l-2.8 .2l-3.8 .1M110.2 801.2l1.5 4l-1.6 2.2l-1.4-2.5l1.4-3.7l.8-4.2M49.2 790.8l.7-2.9l-2.5-1.6l3.6-1.5l.6-3.6l-2.4-2.6M76.8 781.8l-.1 3.6l.4 2.9l-3.3-.9l2.5-2.1l3.2 .8M119.3 779.2l-2.4-1.9l.4-3.7l.3-2.8l-3.2-1.6l-2.6 2.4M109.3 778l-3.4-2l.7-3.7l-2.2-1.5l-3.2 1.7l-.1-3.6M134.9 761.7l.7-2.7l-2.6-2l-.2 2.9l2.7 2.6l-.9 2.8M95.5 770.7l3.7 1.7l.4 3.4l1 3.2l-2.3 2.7l3 .6M86.6 790.3l-3-.4l-1.7 2.5l-1.5-3.2l1.9-1.9l4.4 1.3M110.6 773l2 2.8l.8-3.3l-2.8 .6l-1.8-1.9l1.1-2.5M115.8 785l4.2 .8l1.7 3.4l1.6-2.9l-1.3-3.4l2.1-2.8M70.7 801.5l2.5-1.2l2.7 2.4l2.1 2.3l2.9-.7l1.1-3.4M132.9 794.8l1.3 3.5l-2.7 2.8l-2.6-1l.6 2.5l3 1.3M79.3 789.4l-3.6 .8l-.8 3.5l-3-3.5l4.2-1.6l2.7-1.5M48 786.5l4-1.7l2.7 2.3l3.3-1.2l-3-2.5l-3.6-2.1M101.4 790.6l0-2.7l.5-3l2.8-1.2l3.3-1.2l.2-4.1M108.6 766.2l-.4-2.7l2.6 1l-.7-3.7l-4.1-1.8l-2.7 2.1M122.9 767.3l4.4 .8l-1.9-3.6l-3.4-.2l-1.9-3.8l3.6 .5M134.1 781.9l3.5 2.7l2.5-1.2l-3.7 1.9M113.4 799.1l-1.2-4.2l-3.1 2.9l-3.9-.4l-3.1-.7l-4.1-1.5M125.2 787.4l-2 3.2l-2.9 3.1l-4.1-.6l-2.4-3.7l-2.9 .6M104.4 815.2l-2.7-1.3l.2 3.4l-3.5 1.5l.2-2.9l.5-2.8M89.7 808.4l-1.7-3.5l-2.6-.5l-1.3-4.2l-2.6-.5l2.5-2M118.5 792.2l-1.8-3.3l-1.1-3.7l2.7-3l3.4 .7l4 1.3M56.6 800.5l2.4-3.8l3.7 .5l-.9-3.1l-.7-2.9l-4.1-1.4M124.2 781.5l3.7-.1l1.4 2.7l1.7-2.4l-1-3.5l3.6 .7M85.2 791.9l1.1-2.6l3 .2l-2.2 2.4l1.3 3.3l1.3 3.9M115.2 796.9l-2 3.6l1.3 2.4l-4.5 .1l-4.2 0l-2.9-3.5M80 784.1l-2.7 2.7l-3.2-1.5l-.1-2.9l4.4 1.5l-2.9 2.1M57 780.6l-4-1.7l-3.2 2.4l-3.2-2l-.5 2.8M101.4 801.2l3.8-.4l2.9-.1l-2.3-3.3l-2-1.9l-2.4-1.8M49.3 790.7l-.6 4l-3.9 2.2l-3.5 2.5l2.3 1.5M129.2 805.1l2.3-1.4l.1-3l-3.9-1.8l-3.4-1.4l0-2.7M123.4 821.9l1.7 2.3l-4 1.1l-.5 3.2l-2.3 1.4l-2.2-1.6M86.6 795.4l1.3-4.3l3.8-1.6l-1.7-1.9l-4.2 .1l-2-3.6M96 812l-2.6-2.5l1.2-2.9l-3.3 .5l-.6 2.7l-4.5 .5M51.9 777.5l1.5 3.1l1.6-3.7l1.5-2.2l3.2-.2M99.1 781.1l2-1.8l-1.1-3.7l-3.6-.4l-1.6-3.5l-2.7 .3M111.2 791.4l2.8-3.2l-1.2-3.1l1.8-3.4l3.8-.2l1.3 2.6M52.1 788.8l3.7-2.1l.4-2.7l.2-2.8l-3.1 1.4l-3.5-1.9M96 763.6l2.6-.4l1.9 3.2l-2.6 3.5l-1.3-3.2l2.7-3.6M74.6 762.3l3.6-.6l1.3-3.1l2-3.8l1.3-3.6M117.6 761l3.1-2.9l3.1-2l0 3.2l-2.9 2.6l-3.5-.9M85.9 779.1l2.9-.8l3.9-1.5l.5-4.5l3.6-1.7l3-1.2M95.4 805l-.8-3l-.8-4.1l2.5-3.2l2.7 .2l-2.1-3.8M94.2 780.2l-2.6 .2l-1.8-2.6l4.4 .1l-2.2 3.4l4.3-.6M125.7 765.8l3.8-1.7l2.4 2.6l.3-2.8l3.3-1.8l-3.2-2.3M119.7 774.6l4.4 1.2l3.3 1.3l2.4-1.4l2.8 1.3l2.7-2.7M70 812.7l4.3-1.1l1.9 2.4l-1.1 2.5l2.9 3.1l2.7-1.1" stroke="#c86018" stroke-width="0.8" fill="none" stroke-linejoin="miter"/>
<path d="M218.5 795.8l2.2 2.4l-.9 3.1l-3.3 1.4l-.6 2.6l-2.5-3.3M201.4 863.9l-.9 2.8l1.9 2.2l4.5-.7M202.3 851.6l.6 4.3l1.1 3.5l3.6 .4l1.2 3.9l2.8 1M234.2 801.5l2.3 2l-.8 2.9l2 1.7l-2.7 1l-3.7-2.5M205.2 844.1l1.4 4l-2.6-.8l-3.5-.7l-1.4-2.7l1.4-2.9M210.7 789.8l-3.6 2.8l-2.5-1.4l-3.2 2l3.7 1.2l3.8-2.5M203.9 849.2l-2.9-1.5l.6-4.3l-3-2.3l3.4-1.9l.4 3.3M165.9 845.3l2.4 1.1l.8 3.6l4 1l.9 3.3l-2.5 3.2M196.7 783.2l-3.8-1.4l-2.3 2.1l-3.9-.5l-1.5-3.6l1.4-2.2M198.2 819.1l1.8 4.2l3.6 .5l3.1 .8l2.9-2.6l-.3-2.6M222.1 790.9l-1.9-1.7l-4 .5l-2.7-3.3l-3.7 .3M162.8 787.8l-2.7-2.7l.7-3.3l2.6-.5l.7-4.5l-2.5-2.8M178.6 783.3l-3.2-1.3l-.8-2.6l2.6-2.9l-1.6-3l1.3-3.1M188.8 855.3l2.3 2.2l1.8 2.6l-4.4-.2l-1.6 3.6l-3.9-.1M158.3 791.6l-2.8-1.5l-.6-3.8l-1.8-3.2M203 835.9l.9 3.6l-2.8 3l-3.6-1.6l.2 3.6l-3.1 1.9M154.1 788.7l4.2 .8l-3.3 2.7l-3.5-1.5l.1-3l3.7-2.3M182.8 857.4l0 3.9l3.2 2l-.4-3.8l3 .9l1.7-2M174.3 788.1l-.1-3.3l-3.9-1.6l-3 2.4l-3.1 2.8l3.9 1.9M210.3 791.7l3.6-1.7l-3.8-2.3l.2 2.9l2.9 2l-.7 3M184.4 815.5l-2.9-3.2l-3.3 1.1l.2-3.9l-2.8 1.9l-.4-3.1M200.1 812.3l-2.7-.4l-4.4-.5l-2.2 2.1l2.5 1.2l3.9-2.3M176.3 803.8l1.1-4.2l2.8-.8l4.1-.9l-1.2 3.7l2.8-.1M168.3 791.1l-3.1 2.7l3.9 1.9l4.2 2l3.5 2.3l2.8-1.5M195.5 861.4l-2.7-2l-4.1 1l-2.7 .9l.3-3l-3.4-1.7M186.8 825.2l-.2-2.6l3.6-2.2l-3.1-2.4l-.7 4.5l2.4 1.5M214.8 808.3l3.4-1l2.1 2.1l4.1-1.1l1-3.1l4.3-1.3M197.4 806.1l1.4-4l2 2.5l4-.6l1.5-2.9l3.3-.7M201.8 823.1l3.2 0l-1.8-3.6l-2.7 .3l-3.2 1l-2.9 1M210.5 764.9l1.5 4.1l3.4-2.8l-4.1-1.1l-2.4 2.9l3.2 .5M175.1 846.8l-.5 4.1l2.3 1.4l-3.4 1.6l-3.2 1.8l-.4-2.9M200.7 787.1l-3.7 .2l-1.5-3.1l3.1-3.4l3.9 .2l3.4 0M169.1 819.2l3-.6l2.3 2.8l-3.2 .9l-.6 2.7l2.9 3M236 806.2l-.1-2.7l-2.8 1.3l-2-2l2.4-1M164.4 827.4l3.9-1.6l-.2-4.5l2.1-1.7l-3.7-1.4l-3.1 2.9M224.6 823.8l-2.3 3.4l1.5 2.9l4.4 1l2.1-1.7l.2 3.7M187.4 784.6l-2.7-3.1l-3 .3l2.7 3.5l4.1 .1l2.1-2.5M217.4 822.2l2.6 2.3l0-4.1l2.9-1.9l0-3.8l.4-3.7M159.7 825.4l-3.7-2.6l-3.7 1.7l-2.1 1.6M163.7 831.5l.6 2.6l-2.7-.7l-3.7-1.6l-3.5-1.7l-3.4 2.9M195 835.7l-3-3.1l-1.3 2.5l-1.5 3.3l-2-3.2l-1.2 2.5M185.3 816.1l1.8-2.2l3.2-.1l1.4-2.4l2 3.3l-1.3 3.5M165.5 804l3.7-1.6l3.1 1.6l-4 2l-2.3 1.4l-3.3-2.1M199.2 787.3l-3.5-2.4l-3.9 1.9l-2.7-1.9l3.8-1.5l-2.9-1.8M171.1 833.4l-1.1 3.1l-3.2 .3l-3.3 .3l-3.9 .5l-2.4-2.8M170.1 849.7l-1.2 3.7l-2.4-2.1l.4-3l-4.4 .9l-3.5-2.9M225.4 791.1l-1.7 4.1l-3-.1l-2.1 3.5l-1.3-3.3l-4.4 0M224.2 828.2l-3.1-.9l-.8-4.1l-3-.7l-4-.6l-2.8 .1M163 789.4l-.9 3.6l3.7-1.4l2.5 2.5l4.6-.5l1.3-4.1M235.7 822.7l-3-1.5l2.5-1.1l.5-3.5l-.1-4l3.1-2.2M204.2 840.5l.6-3.3l-3 .6l2.5 3.2l1.7-4.2l-3.8 .2M205.5 791.4l2.6-1l2.4 1.8l-3.2 1.4l0 3.1l-2.3 1.7M173.3 793.3l2.6-3.4l3.8 .7l4.3 .5l1.9-1.9l.5 3.8M208.1 826.9l2.7 1.9l2.9 2.1l-1 3.7l-1.3 4.2l3.4 2.8M169.1 805.4l3.1-1.6l-2.8-2.4l-2.9 1.1l-.6 3.1l2.8-1.3M236.3 828.5l1.3-3.5l-4.3 0l-4.4 .8l1.6-3l-1.5-2.3M172.3 823.4l4-1.1l1.2-4.3l-2.3-3.3l1.9-3.7l3.7 .5M187 871l.6 4.1l.7 3.3l-3.7 2.4l.4-4l2 2.1M162.2 859.7l.8-3.9l2.1 2.9l-3.8 1.1l3.3 3.1M169 834.4l-3.5 1l-4 1l.4-3l-3.3 1.7M164.7 839.6l-2.3 2.8l-1.2-3.2l-3.5-.5" stroke="#30c878" stroke-width="0.8" fill="none" stroke-linejoin="miter"/>
<path d="M156.2 800.5l-.5-4.3l-.4-3.1l1.4-2.2l3.1 .6M199.3 842.9l3.6-1.1l2.6 1.9l-.7 3.8l4-.9l2.7 2.5M175.7 804.8l-1.9-2.7l1.1-3.7l3.5-.1l1.6-2.5l-3.4 .4M167.6 787.9l-1.9-2.1l-1.2 4.4l-2.7-3.1l1.2-3.6l2.9 2.4M166 810.7l1.9-1.8l2.2-3.1l1.4 2.2l-1.9 4.2l-4.5 .4M183.5 825.9l2.3 3.8l2.6-.1l4.1-1l3.6-1.7l2.8 2.5M172 867.2l-1.8-2l3.3-.7l2.4 3.4l1.1-3.8l3.1-.7M169.8 856.2l2.7 2l-.7 3.7l2.7 2.2l-2.7 1.3l-2.5-1.5M181.9 837.8l-3.7 1.3l-3.6 .6l-1.6 2.7l1.9 4.1l3.1 .4M172.8 794.9l-4-2l2.2-1.7l-.5-2.6l2.5-2.9l2.9 .3M174 874.5l-2.5-2.9l-2.7 .3l2 3.4l-3.1-.2l-1.4-3M174.3 870.6l-2.1-3.9l2.8 .4l1.1 2.5l-3 .2l2.8 2.8M227.4 831.8l2 1.8l-4 2.1l-3.2-1.7l-.6-3l-2.4 1.8M182.4 871.2l2-3.8l-3-.4l1.9-3.7l-2.1-3.4l1.6-3.4M164.6 796.2l-3.1-2.5l-.4 3l3.3-.9l2.6 1.8l3.7 2M236 826.6l2.9-.7l.9-4.4l-2.7-3l1.9-3.8M193.3 825.1l1.3 3.1l-2.5 3.7l-3.1-.8l-.8-2.8l-2.7 3.3M216.3 829.7l-3.9 1.5l-2.3-1.9l-2.8-3.4l-2-3.4l-1.5 3.3M231.7 807.7l-1.1 4.4l-2.2-1.7l3.8-1.7l3.3 2.5l-.6 3.4M193.3 816.1l3.7-.6l2.7 0l-2.6 3l1.5 2.7l4.1 .1M195.9 862.1l.8-3.2l-2.8 .5l.9-3.7l-4.5 .6l-1.7 2.9M211.9 784l3.2 1.9l2.7 1.7l2.5-1.2l3-2.1M207 831.2l2.4-2.7l4 1.1l2.7-2.8l-4.1-.8l-2.9 3.1M221.8 838l-3.4-.1l-1.4-3.9l1.8-2.5l-1-3.2l-3.5 2.8M192.4 873.1l-2.7 2.9l-1.7-3.4l3.1-3.4l3.6 .9l-.8-4M167.9 841.8l-3 2.2l2.5 1.3l2.3-1.7l-.6-3l-1.7 2.2M213.3 816.9l-4.4-.6l1.6 3.1l3 .3l1.7 3.7l1.5-2.3M201.7 832.1l-2 1.8l.3 2.7l3.7 2.2l.3 3.6l2.2-1.7M201.6 833.5l2.1 2.6l-1.1 4.1l2 1.7l-.1-4.6l2.2-1.6M191.2 842.3l-1.8-3.5l2.7-3.6l2 3.8l-3.5-.6l-2.5 3.7M159.5 845.5l.2 3l-4.4-1.3l-1.1-4.4l2.9-2.9M176.8 783.2l4 1.7l1.9-2l-1.2-2.6l-2.6-.2l-.9-3.3M182.1 801.3l3.4 .4l-1.8-2.7l.9-3.5l-3-2.2l-3 1.3M180.3 822.1l-3.3 1.1l-.7 4.2l-.9 2.7l3.6-1.4l-.6 4.1M176.4 790.1l-1.7 4.1l-3.1 1.1l-.8 3.4l2.6-1.2l2.8 2.1M218.3 769.4l-2.4-1.1l-3.4 1.8l.3-2.9l4.1-1.8l2.4 1.9M170.5 851l3.5 1.2l.4 2.9l2.9 1l.6 3l2.6 1.5M236.7 811l1.9-2.6l-1.1-3.7l.9 3.6M228.8 816.7l-3.2 1.9l-2.6-1.4l-.2 4.4l-2.5 1.9l-3.4-1.8M191 803.2l-3.6-1.8l-.4-2.9l2.2-2l-3.8-1.4l-3.3 2.8M210.8 843.2l-2.8 1.8l-2.8-.8l-3.6 2.3l2.9 1.4M189 852.7l-2.4-2.8l1.6-2.9l3.2 .3l2.7-3.1l3 .5M205.9 846.6l2.6-.9l3.2 3l1.1-3.1l1.1-2.7l1.5-3.1M180 867.6l1.6-2.2l3.4 .8l2.1-3.4l2.7-3.6l-1.6-3.3M205.9 811.6l1.7-3.4l-1.8-4.1l-.7-2.9l-.2-4l3.1-1.6M203.5 825.3l3.2-2.8l.1 3.2l4.1 2l.9 4.1l1.7 4M220.5 800.8l-3.1 0l-4.2 .5l1.6-3.4l1.6-3.4l4.2 .3M168.1 827.9l1.7-2.7l3.5-.4l-2.1-2.7l-1 4.1l-3.1 1M191.7 842.1l-.9 3l-3 1l-.2 3l-3.2 1.1l-.3 3.6M190.1 801.6l-2.8-1.3l2.7-1.9l-.2-2.6l-3.4-2.2l.4-3.8M173.7 808.3l4.2 .6l-.9-4.1l2.5 1.1l2.9-1.5l-.3 4.5M177.4 804.3l.3 3.3l3.6 2.1l2.8-1l4.3-1.5l2.6 2.9M234.8 803.7l2.1 2.9l4.1-1.1l-4 0l-1.6-2.3M208.6 817.1l2.5-2.5l-3.3-.4l-1.1-3.8l3.7 1.7l3.2 1.9M187.9 852.8l3.3-2.5l-4.3-1l-.7-2.8l2.1-1.9l2.6-2.4M194.9 811.6l.5-4l2.7 1.5l2.7-1l.8-3.5l-1.9-2.5M214.6 832.1l-3.5 .5l-1.8 3.8l1.2 2.6l3.2-3.1l-.4-3M189.7 865.5l-2.8-2.9l2.9-1.3l-.8 3.7l-.8 2.5l2 2.5M185.2 848l2.5-2.6l4 .7l1.9-2.7l4.5 .3l1.7 3.4M168.7 831.2l1.3 2.7l-1.8 2l1.6 4.3l2-3.8l-2.1-3.4M233.4 801.8l2.2 3l-1 2.6l-3.2 0l2-2.5M163.2 855.8l-1.7-2.5l3.4 0l2.3 2.7l-.8 3.8l-2.5 1.1M237.5 817.5l1.8-2.9l3.6 .7l3.1 .8l1.7 3.5M193.4 798.2l-1.1 2.5l1.7 2.1l4.1-.1l-1-2.4l3 .8M197.7 844.2l2.5 3.7l2.9 .1l-1.2-3.8l-3.4-.3l-1.5-2.7M178.6 830.4l2.9-2.8l-2.4-1.2l-3.2 1.8l3.9 1.5l-2.6 1.6M208.4 796.6l2.8 1.7l-.2 3.6l2.1-1.6l3.8 1.4l.7 3.1M223 813.3l-2.1-3.8l-2.9-.4l-1.2-2.7l-1.6 2.2l-3.2 .1M189.2 813l3.4 2.2l-.4 3.7l-3.3 1.6l.4-4l-3.1-1.5M171.4 866.7l-2.5-2.2l-2.5-2.1l1.1-3.1l3-.6l-.6 3M180.3 833l-2.3 2.7l-3.9-.6l1.6-2.8l-3.9-.4l-1.2-3.5M160.2 848.1l1.2-3.1l4.3-.4l4.5-.6l1.8 3.2l1.5-3.1M194 788l-2.8 1.9l-2.4 2.3l-3.2-.9l-2.2 2.1l-2.6 2.6M216.8 832.7l-2.3 1.5l-3.3 2.7l3.5 1.9l-.1-3l-2.8-1.3M167 842.5l3.1-.4l2.3 3.1l-1.9 3.4l4.6 .2l1.5 2.8M186.2 867.4l-3 .4l-2.2-4l-2.2-3.5l-2.7-.3l-3.2 3M209.5 793.8l-1.8 3.7l2.9-.5l2.5 2.9l2.8-.2l4.2 .5M180 790.8l-1.1 2.8l-2.8 .3l1.8 3.5l4-.5l3.6-1.1M185.3 846.6l1.9 3.1l1.9 2.2l-1.3 3.3l1.8 2.3l3 2.9M204.1 804.1l-3 .2l-2.9-.2l-1.4 2.9l2.4 2.9l-4.4 1.3M155.9 796.2l-4 1.8l-2.3 1.4l2.5 2l3.1-1.4M226 800.7l-1.9 2.7l-2.6 0l1-2.7l-3.3 1.2l-3.5 .8M185.5 816.1l2.9 1.5l0-2.9l.6-3.6l-2.3 1.4l-2.9-.9M170.1 845.9l0 3.1l3.6-2.5l3.2 .8l3.5-2.6l-4.1-1.5M173.2 855.5l2.8 .5l.7 4.3l3.2-2.8l2.9 1l.1 4.1M174.8 875.3l-3.3-.4l-1.5-2.8l2-2.9l2.2-3.6l-1-2.7M237.2 808.4l-.5-2.8l-1.9 1.9l-3.8-.7l-3.7-.9l-2 2.3M192.3 866.4l2 4.1l3.9 .8l-2 2.8l-2.8-.3M232.9 820.9l-2.1-2.5l1-3.2l1.3-2.9l-2.2-2.5l-4.1 .1M166.8 811.6l-2.1-4l-2.2 3.8l-2.7 3.3l2.7 .2l1.6 3.5" stroke="#38cc38" stroke-width="0.8" fill="none" stroke-linejoin="miter"/>
<path d="M164.3 678.3l-3.1 .7l-1.2 3.8l4.4-.5l2.3 2.8l2.6 2.6M167.4 656.5l-1.9 2l-1.1-2.4l4.3 .9l1.4 3.9l1.9 4.2M143.3 715.2l-1-2.7l2.5-3.6l4.2 1.1l3.4 1.3l-3.8 2.5M155.1 622.9l-1.8-2.1l-2.9-2.8l-.8 3.8l-.7 3.8l2.4-1.2M141.4 628.6l-4.3-.3l-2.5 2.8l-1.5-4.2l-3.5 0l-1.5 2.4M166.1 667.6l3.1 0l1.5-2.9l-4.3 1l-2.3-2.9l-1.7 3.5M135.9 714.4l-2.4 1.7l.1 3.7l-.2 4l2.5 1.6l-.3-2.8M147.7 682.3l-2.4 2.4l1.7 4.1l-1.9 1.9l-4.3-1.7l1 3.2M150.7 696.2l-3-3.1l-1.1 4.5l-.5 2.9l4-1.4l-.4 3M187.9 720.6l3.9 1.7l-2.8 2.2l-2.3-1.4l.2-4.1l-3.9-1.7M124.2 612.2l1-2.9l2.4 3.2l1.7 2.4l3.2-.5l-1.6-2.7M138.6 711.4l2.6 1.8l-.1 3.7l2.6 2.1l-1.2 3.6l2.6 2.7M145.5 661l-.2 3.6l-3-2.1l1-3.8l2.6 1.7l.7-2.9M179 721.2l1.6 2.5l3-.1l-2.1 3.9l1.6 2.5l-3.6 .5M168.8 712.7l2 2.1l-1.4 3.1l2.6 2.7l-4 .7l-1 3.8M184.4 712.6l-4-.2l-1.7 2.3l2.8 .4l-.8-3.2l2.8-2.9M161.6 693.4l-3.6-1.2l-2.7-1.3l-2.5-1.5l-3.1 1.1l-.8 2.9M189.2 778.1l.9-2.7l-4.4 .8l-1.9-2.8l-1.8-2.5l-3.9 .2M189.8 766.8l3.3 .5l1.1 2.8l-4.1-.2l1.2 3.6l3.9 1.3M151.5 693.8l1.2-2.4l-2.6-2.9l-3.5 1.2l.4-2.7l.5-3.4M205.8 767.6l.4-2.7l3.9-.9l2.1 1.9l-.8 3.8l3.1 2.7M158.2 624.3l-2.6-1.6l-.3 2.7l-3.7 1.4l.1-2.7l-4.1-2.1M155.2 675.4l-2.5-2.1l-2.4-2.3l-2.7 1l2.4 1.6l-2.8 .9M200.1 780l-1.4-2.5l2.8-.5l-1.7-2.9l-1.6-2.4l-1.8-2.3M156.3 711.7l-2.2 1.5l-.2 3.8l-.5 3.3l3.4-1.6l2.1 1.7M134.6 691.3l-3.3 2.2l2.7 1.9l4-1.8l0-4.2l3.7-2.4M134.9 689.7l-1.6-2.2l2-3.2l2.7-3.2l.9 2.5l1.6-2.1M133.6 679.6l-.1 2.7l-2.4-1l2.6-1.7l3.5 2.6l2.4 1.8M203.3 780.6l2.6 1.3l4 1.4l2.9-3.3l-3.6-1.4l.9 3.3M153.2 706.3l2.6-3.1l2.1-3.7l2.8 0l3.3 .1l2.2 3M138.8 688.6l-3.2 2.5l-2.3 1.8l.5 2.6l4.4 1l2.6-3.1M138.3 671.1l-2.8-1.4l-2.5 1l-2.8 1.8l.7 4.1l2.7 1.1M185.1 669.8l-3.6-2.2l-.2-3.1l-2.6-.8l1 3.6l-4.4-.5M176.9 708l1.7-2.1l-2.2-4l2.2-3.7l-3.7 0l-2.3-3.7M142.8 710.6l3.3 1.6l2.6 1l3.5-2.5l-.1 2.9l3.1 1.4M156 708.8l-3.3 0l1.6 3.2l3.9 .2l1.6 2.8l-2 3.7M151.3 689l3.5-.6l2.3 3.2l3.3-.4l.8-3l3.1-.9M187.9 720.6l2.9 .7l2.1-2l-.5-3.5l-.1-2.8l3.4 1.6M194.9 768.7l-2.1-3.8l-2.7 .3l-3 .3l-1.2 2.5l-1.9-2.5M140.2 657.6l4.1-1.6l2.6 1.4l3.6 1.3l-2.4 2.6l-2.1 2.7M136.4 638.5l-1.2-3.2l-1.1-3l1.8-3l3.1-.1l2.4 2.6M131.5 690.8l1.2 4.3l-2.4 1.9l.6 4.5l.6 4.1l.7 3.3M150.8 602.8l-3.8 1.2l-.6 2.8l-3.4 .9l-2.6-3.6l-2.1 4M127.2 688l-3.5 2.9l-.8-3l-2.1 3l1.8 4.2l-2.8-.4M148.7 670.7l3-2.2l2.6-1.5l3.3 1.9l-3.1 2.4l.3 3.1M151.9 654.6l1.1 3.9l3.1-2.8l-.4-4.2l-4-1.8l-3.2-1.7M141.6 606.8l-3.8-1.2l1.1 3.1l1.8-2.9l1.6 2.2l-4.1-.1M190.5 783.7l2.5 1.8l-.3 2.8l-3 1.9l.6 3.5l.9 2.6" stroke="#c8b818" stroke-width="0.8" fill="none" stroke-linejoin="miter"/>
<path d="M131.5 633.7l3.3-1.3l.8-3.5l3.4-.5l1.5-2.5l1.2 2.8M90.5 671.9l3.5 2.8l-.1-4.6l-3.2-1.7l-.1 2.7M93.7 697.7l1.3-2.3l2.7-.4l2.5 3.1l3.4-.2l-2.7 3.6M97.4 723l3.4 2.6l-.6 4.5l.2 3.5l-3.4 2.6l-3.8-1.7M105.4 656.5l.3 3.2l3.3 2l2.8 1.4l-.9-3.9l2-2.3M97 723.1l.3-3.5l.5-3l3-1.1l.2-2.8l-2.8-1.6M91.4 719.8l2.9-2.6l2.8-3.6l3.1-.1l1.7-2.3l2-2.3M104.4 737l.8-4.3l-2.5-2.8l4.3-1.4l2 2.4l2-3.5M143 606.1l-2.8-.4l-1.6 2.4l2.7 0l1.7 4l-2.1 2.4M115.7 706l2.1 3.1l3.8-.4l1.1-3.9l-1.8-2.3l-3.2-.1M118.6 683.7l1.8 3.8l3.5 .8l.6 3l3.3 1.5l3.8 .9M94.2 689.3l-.7 3l-.6 4.3l2.2 2.4l-1.2 2.8l2.4 3.3M115.6 624.3l3.1 2.4l2.9 1.7l3.6 1.6l2-1.9l-3.2-.4M130.9 615.9l-2.7-1.5l-3.1 1.3l-3.4-1.6l.2 4.5l3.4-2.6M101.9 640.4l4.5-.5l-2.3 3.3l-3-.1l-3.5 .1l-2.1 3.3M95.3 721.5l-4.1-.5l-1.4-2.5l4.3-.4l2.1 2l4.2-1.5M94.8 699.4l1.8 2.1l1.5 2.5l3.1-.1l3.3-.1l1.7-2.4M106.3 719.9l-1.9-3.2l-3.9 .3l-1.3 2.7l-4.2 .7l-.9 2.7M89.5 690.1l2.7 .7l-.3-3.2l3.2-1.5l3.4 1.9M114.4 673.3l2.8 2.7l2.6 2.3l3.1-.5l1.1-3.8l2.6 3.1M89.5 733.4l-1.5-2.2l2.6-.6l2.9-1.1l3.1 3.3l1.1-2.4M129.3 659.7l1.3-2.8l-1.8-2.6l-1.5-3l4.2 .6l.8 3M126 633.7l.9 2.8l3.9 .5l1.3 2.3l3.5 .2l1.9-3.1M101.7 718.8l.5 4.1l3.9 1.2l.6 3.7l-1.9 2l4.1 .7M115 680.1l0 3l-3.3 1.4l-1 4.2l-1.1 3.3l-1.2 4.4M126.6 696.8l.2 4.5l3.1-2.3l-.1 3.4l3.3 2.8l-.8 3.3M117.7 737.9l-4.3 0l1.1-2.7l2.7-.4l4.2-1.5l-1.4 4M119.2 678.3l-2-2l.5-2.7l-4.4 1.1l-1 2.6l3.3 0M105.3 677.1l2.6-3.1l.9 4.5l3.7 1.7l.1 2.8l-3.4 2.1M92.3 663.1l3.3 2l-.4-4.5l3-2.1l3.5 2.6l-2.8 1.4M112.4 666.3l2.7 .7l2.4-2.3l2.2-2.1l3-2.1l2.6-2.4M106.9 628.9l2.7 3.2l3.5-1.4l-.5 3.7l-2.6 1.3l-2.2-1.5" stroke="#b0d840" stroke-width="0.8" fill="none" stroke-linejoin="miter"/>
<path d="M173.6 782.6l3.4-2.1l.3 3.7l3.9 1.4l.5 2.8l-1.7 2.1M147.3 622.7l-2.3 1.4l-.5-3.9l2.6 1.6l2.7-.8l4.4-.8M152.6 669.8l2.6-.7l1.1-4.1l.8-2.8l-3.3-2.9l1.5-3.9M158.1 694.6l-3.3-1.5l3-1.6l-.4 3.1l2.2 1.4l2.5-1M179.1 718.4l1.2-3.5l3.7 0l3.1-.1l1.5-2.4l-2.8-3.4M160.4 661.6l-4.4 .2l-2 2.9l-2.1-3.1l1.2-4.4l-2.9-1.9M142.4 603.4l2.7 2.8l-1.5 3.7l-1.2 2.7l1.7 2.6l-1.6 3.4M160.9 717.7l2-4.1l-1.7-2.3l1-4.2l2.9 2.9l.4-3.3M152.3 675.4l-1.2-3.9l-2.7-.3l-2.4 3.7l1.2 2.4l-2.7 3M180 657.6l-.6 3.9l2.3 2.6l-2.8 .8l-2.7-2.6l-2.8-2.7M153.8 655.5l3-2.8l2.1-1.9l.6 3l-3 1.9l2.8 1M199.5 764.8l-2 2.3l-1.3-4.1l-1.1-2.7l-1.7-2.9l-2.1-2.8M179 675.3l-4 1.4l-.1 3.1l-2.5 1.5l.6-3.4l-2.6 1.5M161.3 700.9l.2 4l-2.1 2l-2.5-1.2l.5 3.7l-3.5 2M180 766.4l2.1 2.8l2.2 2l1.6-3.9l2.3 3l2.4 3.3M139.3 614.7l-1.4-3.3l-3.9-1.2l-2.2 3.1l-2.3 2.1l-3 2.3M157.1 669.7l-3.1-1.7l-.1-2.7l-4 2l.2 4.2l-2.9-2M132.4 617.3l3.4-.4l-1.6-2.1l-1.7 2.8l1.9 3.6l-1.5 3.2M168.5 775.4l-1.3-3.5l4 .2l2.7-3.2l-.7-3.5l-4.4-1M136.5 683.1l3.1-1.7l2.4 1.5l2.3 1.3l.1 3.7l-.3 4.4M173.3 721.9l.9-3l-2.6-3.2l-3.4-3l1.6-4.3l1.9 2.9M171.2 663.6l-2.5-2.3l-2.6 .4l2-3.8l.8-2.5l.8-3M148.7 683.1l-1.6 2.4l3.8 0l3.3 .3l1.8 4.2l.8 2.8M133.2 614.5l2.6-1l3.2 2.9l-2.8 1.3l-3.6 1.9l-3 2.3M168.2 691.7l-3.4 .3l-.7 2.8l3.3-1.6l3.1-1.7l2.8 2.6M154.4 677.3l-1.1 2.4l1.4 2.4l1.1 2.6l4.1 1.1l4.2 .8M140.1 684l.1 3.8l-3.4 1.5l-.9 4.5l-2.5 1.2l.3 3.9M155.7 699.9l-1.5 4l-.8 3.9l-4.1 1.9l-2.5-2.2l3.3-1.7M145.3 619.4l.1 3.1l3.9-2.1l3.9-1.3l2.2 2.1l3.3-.5M137.8 617.3l3.9 .4l3.1 .3l-3 3l3 1.4l3.8-1.7M153.4 644.5l3.9-.4l-2.6-2.8l-3-2.7l-3.4 1.6l-2.5-1.8M208.7 776.1l-.8 3.6l-2.7-1.9l.2-3.5l2 1.8l1.4-3.8M193.7 773.3l.4 2.9l-3.1 3.2l-2.4-1.1l-.1 4.4l3.7-2.1M148.3 689.2l3.6-1.4l3.2-1.4l-.3 4.1l3 2.4l-.7 3.6M174.5 673.5l1.2 2.6l-2 2l-2.5 2.2l.8 3.7l4 2.1M166.2 715.4l.5 3.1l-3.3 1.8l.3 3.5l-2.3-1.4l.5 3.5M186.2 760.6l-3.4 1.5l-2.5-1.8l.1-4.2l0-3.2l-2.7-2.1M142.5 630.1l3.1-.1l-1.5-2.8l2-2.9l-1.6-2.9l-3 .1M164.3 706.5l-3 .5l-.6 2.7l-4 2l-3.3-2l2.9-1.8M183.5 707.6l2.6 1.8l3.8-1.1l2.9 3.1l1.3-4.1l2.1-3.8" stroke="#e0d030" stroke-width="0.8" fill="none" stroke-linejoin="miter"/>
<path d="M172.2 712.6l2-2.8l1.3 4.2l-2.1 2.6l3.1 .2l-1.8-2.7M147.3 708.2l3.1 3.1l3.4-1.6l2.8-1.3l1-3.7l3.2 2.9M192.1 755.6l-2.6-.8l-1.5-3.5l-4.3 .3l1.2-3.5l-4 .3M209.5 760.2l-1.9 2.1l-1.2-2.6l-1.7 1.9l-2.7-.1l1.4-3.1M183.3 779.4l-1.1-3.3l4.1 1.6l4 2l.5 3.8l-2.6 2.2M145.7 693.9l2.8-1.8l3.3 1.9l-.4-2.7l-3.6-1.6l-3.2 2.2M157.8 620.9l3.2 .6l-2.5 2.9l-3.5-.5l-4.3-.6l.7 3.4M150 703.2l-3.1 .6l-2.6-3.5l-3.9 0l1.7-3.8l1.8-3.2M129.4 666.2l-3.7 1.6l.1 4l-3.1-1.5l.2-4l-2.1-1.6M171.7 715.6l-3.4-.3l1.6 2.9l-2.9 3.4l-4 0l-2 2.5M151.1 663.1l2.4 1.9l3.7-.9l1.6-3.5l4.2-1l2.1 3.2M152.5 688.3l3.5 1.6l.2 4.4l-2.6-2.1l-3.7-2.6l-.1 3.3M163 672.8l-3.3-2.8l3.3-.5l1.7 2.2l-1.2 4l-3.5 1M151.2 604.8l-.6 4.5l-2.6 1.2l-3.3-2.9l1-3.4l3.6-.8M149.7 695.5l-1.9-2.8l-2.7 3.6l-2.9-.5l-1.3-2.3l1.6-3M177.7 656.1l-.4-3.7l-2.6-.8l-.7-3.1l-3.1-1.6l-4 2.3M158 660.6l3.7 .3l-1.1-2.9l-2.7 0l-2-2.4l3.5-1.2M156.2 683.1l3.3-3.1l2.6-3.1l-1.6-2.7l1.8-2.3l-1.2-2.9M130.6 619.3l3.2 3.2l1.1-3.7l-2.9-3.2l3-.2l2.3-3.1M144.3 677.3l3.7-.7l1.5 2.6l3.8 .6l1 2.4l1.3 2.8M166.1 667.5l-2.6-1.6l.4-3.1l2.3 1.7l2.7-1.6l-.5-3.9M138.1 694.2l2.4-2.2l2.6 .7l.5 2.6l-3.5 2.1l3.9 1.5M177 724.4l-3.2-1.7l-3.3 1.5l.1-2.9l-3.3-1.5l-3 2.6M154.6 706.5l-.5-3.8l-2.3 1.6l.4 2.8l.7 3l2.1-1.7M159.8 711.5l3.2-.1l1.8 3.3l-1.6 2.3l4.3 1.3l3.6-2.7M196.6 780.4l4.3 .3l2.7-3l2.7-3.3l4.3 .4l-1.7 2.8M201 770.8l3.9 .9l3-2.3l4.1 1.9l.6 2.8l1.3 4.2M154.5 700.6l-3.5-1.1l3.2-2.7l2.6 1l-3 2.9l-2.2 2.2M180.8 711.8l3.2 3.3l.7-2.5l2.3 3.4l3.4-.5l1.5-3.7M139.6 631.4l-.1 2.7l3.6-1.9l.7-4l2.4 1.5l2.4 1.8M180.1 718.2l-3.7-1.7l-3.8 1.8l-.2 2.9l3.4 1.6l2.7-1.8M168.9 677.9l2.6-1.7l2.7 1.5l3.5-2.7l-.4-4l-4 1.9M132.2 687.8l3.2-1.2l-2.3-1.3l-4.1-1.6l-2.9 3.2l-3.3-1.2M130.4 622.4l2.6 3.7l3.2-.3l1.9 3.2l4.2-.8l3.1-.4M218.4 767.4l-2.3 1.5l3.2 2.5l-.6 2.8l3 1.9l3.2 2.8M199.5 769.5l3.4 2.1l-.3-4.4l-3.2-.9l-3 2.1l.5 2.6M210.8 762.8l-1.7 3l2 2.5l1.8 2.7l-3.5 .3l-1.6-3.2M154.3 613.6l-2.3 2.1l-2.4-1.3l4.1-2l1.1-4l-2.2-2.5M150.7 625.1l-1.1-3.7l-1.2-4.3l-2.9-.8l-1.3-2.7l-1.6-4.1M148.9 703.3l3-.9l3.5 2.4l-.8 3.7l2.4 2.5l-1.4 3.9M202.4 777.6l-2.9 2.1l-3.4 2.5l-3.4 1.9l-.6 4.1l2.7 2.9M150.1 685.8l.9 2.9l1.3 2.6l-2.6-.6l-2.1 2.1l-.5-3.3M133.9 677.5l.5-4.2l-2.9-1.9l-4.3 1.4l2.2 2l3.5 2.3M178.1 702.4l.7-2.9l3.6-1.4l-2.5-1.5l.2-3.8l-2.4-2M153.9 651.9l-3.6-2.5l-3.5 1.2l-2.6-2.3l.6-2.6l-3.5-2.6M180.8 713.7l3 .6l-.4-2.7l3 .9l2.4-1.9l-2.6-.6M139.2 680.1l1 4.4l-1.9 2.7l-2.7 3.4l.6 3l2.7 .6M156.8 665.9l-3.8 2l-2.7-2.1l-3.3 1.6l-2.7 1.2l3 1.8M181.5 726.4l-2.9-1.6l-4 2.2l-.1 3.6l-.6 3.8l-3.1-2.1M157.8 677l2-2.5l2.8 1l.1 4.4l-2.6-1.7l-4.1 1.8M202.1 777.9l3.5 .7l1.9-2.1l-1.1-3.8l-4-1l-1.3-3.9M146.3 691l2.2-2.1l-.2-4.1l3.6 2.5l.5 4.5l2.8 1.1M145.8 709.3l2.1 4l-2.1 3.9l2.6 3.3l-3.2 .6l3.2 2.6" stroke="#d0c020" stroke-width="0.8" fill="none" stroke-linejoin="miter"/>
<path d="M164 742.2l-.3 2.7l-3.3 1.5l.2 2.6l2.7 .8l-2.8 3.4M169.5 681.4l-1.7 2.4l-1.5-2.4l1.5-2.9l1.8 2.7l2.8 .1M91.5 750.3l3.1 .3l.9 2.8l-3.1 3.1l2.8 .9l0 3.5M95.3 741.5l3.7 0l-1.1-2.7l-.7-3.5l-2.5 2.5l-1.2-3.6M104.4 760.6l-1.4 3.9l3.8-1.3l-1.2 4.3l-4.3 1l1.4-3.3M117 751.1l2.2-1.4l.2 3.1l-2.5 1.8l-.4-3.1l-2.7-.6M182.9 780.6l-.4-4.5l-2.6-.9l-3.1 3l-4.2-1l-2-4.1M165.8 641.7l2.8 2.7l-4.2 1.2l-3-3.1l.8-3.6l-3.4-2.6M120.6 720.6l1.9-3l4.6-.1l2.2 2.5l-3 .2l-1.7-3.3M151.1 642.2l-4.1-1.8l-.5-3.3l-3.5 2.8l1.5 4.2l-2.6 2.1M166.4 691.9l-2.8 1.8l-2.6-1l-2.5 1.6l.5-4l-3.3 1.2M175.4 737.2l-2.9 .5l-1.6 3.7l-1.9-2.6l1.3-4.3l3.8-.8M134.4 742.4l-2.8 3.6l1.8 3.1l-1.4 3.9l-4.1 1.4l.5-4.1M173.6 699.4l1.9 3.1l-1.2 2.6l2.4 2.4l2.8-1.3l1-3.9M136.6 757.3l4.3 .3l-2-2.8l-3.2 .5l-2.4-3.7l-1.7-3M159.2 750l-2 2.3l1.2 3.7l.5 3.5l-3.9 2.4l3.5 2M87.6 765l1.1-3.6l3.2-.8l4.3-.9l1.5-4.3l2.6-.9M131.9 745.2l.5 3.4l.8 3l1.3 2.7l1.7 3.7l-1.6 2.6M112.3 753.8l-2.1-3.6l4.5-.3l4-1.1l2.9 2.1l3.8 2.3M131.2 765.4l3.1-1.4l.5-4.3l-3.7 1.1l-2.5-1.8l-.4-4.3M151.1 635.6l4-1.9l2.6 2.6l-2.5 1.2l-.1 4l-3.6 2.3M107.5 733.3l-.8-3.1l-3.6-.4l-2.3 2.7l1.2 2.3l-3.6-.5M112.5 750.8l-4.1-1.6l-2.7 2.1l-2.8-.9l-1.7 2.2l-3.1-.9M167.1 646.5l-3.3 2.4l2.5 1l-.5-4.2l-2.1 2.2l-3.3-1.1M127.7 664l3.3-1.2l.4-4.2l-4 1.7l.3-3.9l2.9-.9M141.8 708.6l-.2 3.2l2.6 2.4l2.7 2.8l2.9-1.2l.6-2.9M182.9 693l2.8 .9l-.9-3.8l-.1-4.4l-3.3 2l-2.8 1.5M111.6 764.7l2.9 2.1l0 2.8l2.7 2l4-2.1l.1-3.2M130 705.1l-.4 2.7l-3.3 1.5l-2.2-1.8l-.7 2.8l-1 3.2M135.9 757.2l-3.4-.6l-4 0l-3.2-.3l-1.7-3.4l-2.7-.3M132.1 706.1l1-2.9l1.6-4.1l-2.6-2.5l-.8 3l-4.4 1.3M130.1 707.8l-3.8-2.1l-.1-4.4l2.8-1.5l-.2-3l-3.5 2.4M113.8 746l2.6-.1l3.8-.3l2-2.7l4.6 .2l-1.6-4.2M140.5 653.2l3-1.5l3.4-1.6l3.9-1.5l.5-3.4l.2-4.5M162.7 721.3l-2-3.9l-1.2-3.4l-4.4-1.3l2.1-2.2l1.4 3.6M135.7 695.8l1.1 2.8l3.3 .6l2.9-3.3l3.1-2.4l-.8-3.5M123.9 681.3l4.5-.7l-.7 2.7l2.1 2.1l-1.2 3.9l3.1-1M169 728.2l-3.9 1.5l-.5 4.4l.2 4.4l-.2 4.1l.1 4.4M124.2 747.7l-.4 4.1l-.7 3.5l2.6 1.5l-3.7 1.5l.2 2.8M175.2 754.2l-.1-4.4l-2.9 1.3l.2 4.3l-2.9 2.6l-4-.9M170.3 625.9l4.1-.1l2.1-3.7l2.9-.4l-2-3.7l-1.9-2.5M175.9 685.8l-2.5 1.7l-3.9 1.7l-1 4.1l-3.9 .6l.7-2.9M128.2 740.8l-.6 3.3l-3.2-2.7l-3.8 1l-3.1-2.4l-2.8 1.6M160.1 738.4l-3-.8l-2.6 3.7l1.3 2.7l1.7-3.1l4.5-.7M114.5 749.7l-.9 4.2l3.4-.7l2.2 2l3.3 2.6l2.2 1.7M162.6 749.4l2.1 3.2l3-.7l1.4-2.9l4.3-.7l-1.5 3.2M137.2 666.9l-3.3-1.6l-.2-3.1l-3.3 3.1l.7 3.4l1 2.8M111.6 762.6l2 3.6l-3.6-.6l-1.9 1.9l1.2 4.1l4.2 .2M137 647.5l2.6-.6l2.5 2.5l-.9 2.8l2.2 1.9l3.7-2.1M139.7 645.6l1.4 2.2l-3.5 .5l-1.3-2.5l4.2-.3l1.1-2.5M168.4 726.4l2.6-.1l-1.1 4l2.6 2.8l3.4-.9l4.4-.3M100.9 697.4l1.2 2.5l1.3 3.5l-1.7 2.9l3.5 .1l2.8-3.3M160.3 749.3l3.9 1.1l2-2.5l-3.5-.2l1.6-3.8l3.6-.7M136 702l.1-2.6l-2.9 1.4l-.7 2.7l-4.2 1.3l-.8 2.9M114.9 761.9l1.3 2.6l1.9-3.1l-2.5-3.8l2-3.2l3.1-.2M91.4 762.7l3.4-2.3l-3.9-1.1l-.3-2.6l-2.4-1.1l-2.3 1.5M138.6 763.9l-.8 3.5l-4 .8l-1 4.5l-2.5-1.8l.4-3.8M98.5 773.5l2.9 2.3l2.4 1.3l3.1-1.8l.1 3.4l-3 1.5" stroke="#20b8c8" stroke-width="0.8" fill="none" stroke-linejoin="miter"/>
<path d="M174.8 755.1l-2.2 1.7l0-4.4l-3.4-2.6l.1-3l3.9 1.7M194.1 698.5l3.7 2.7l3.8-1.3l-2.9-3.1l.8-2.7l3-.6M190.5 761.1l-3.1-3l-.5 2.9l2.2 1.5l-3.6 1.6l-.3 4.2M171.7 745.9l1.9 4l2.1 3.4l1.3 2.5l-4.4-.9l1.6 3.2M173.7 628.8l-3.6-2.4l3.8-1.6l3.1 1.7l0 4.5l2.9 2.5M191.1 682.2l-2.4-3.7l3.3 .1l4.4-.2l2.9 3.3l-1.4 3.9M219 699.7l4.3 .8l2.4-2.6l-4.1 .3M173 644.1l-2.7 .2l-2 3.3l-3 .5l-.7 2.5l1.9 2.7M178.5 729.8l-3.9-1.9l-.5-4l-2.6 1.7l.4 3.6l3.5-2.2M172.6 606.6l-3.9 .1l-3.2-.4l1 2.9l-1.8 2l2.9 .9M177.1 619.8l.5 3.5l-2.2 2l-.3-2.6l2.5-2.7l-3.9-1M185.8 646.4l4.4-.2l1.4-2.4l4.1-.3l-2.6-2.6M167.7 595.3l-3.1 2.5l.1 3.1l4.3 1.2l3.5-2.6l2.7 .8M166.6 639.5l3-2.1l.3-3.1l2.7-.6l1.4-3.5l-2.6-2.5M170.9 588.5l1.9 2.5l2-3.4l-1.6 2.9l-2.6 3.2M162.6 592.4l-4.1 .8l-2-2.7l-3.8 0M209.5 744.2l3.5 2.4l-4.2 1.6l.5-3.3l-2.7 1.4l.3 3.1M186.6 652.3l-1.5-3.3l2.1-2.6l-3-.4l.8 3.3l2.5-2.2M183.9 611.3l1.8 2.4l-2.7 .6l-1.6 3.2l-2-2.2l-4.2 1M185.8 751.7l2.2-3.9l-1.9-3.7l3.9-.4l-1.5 3.7l1.8 3.3M211 749.5l-.7-3.1l2.4-1.5l3.5 2.7l-.3 3.1l-3.5 1.8M174.6 591.7l2.6-2.6l-1-3.7l-3.5-1.7l-2.6-1.4M193.7 722.5l2.3-3.1l-1.2-3.3l-.9-2.9l2.4-2.3l-1.2-2.7M211.4 750.1l-3.5 1.5l3 2.2l3.9-1.5l-2.2-1.9l4.4-1M205.9 764.5l3-1.4l.4-3.6l-2-1.9l3.7-1.8l1-3.9M216.5 695.4l-1.9 2.8l-2.2 3.1l2.3 4l4 .7M208.6 688.8l4.4 .3l1.8-2.6l-1.6-3.8l-2-3.2l-1.3-2.7M220.3 710.4l1.2-2.8l-3.2 .1l-1.6-2.2l.9-3.3l1.1-3.4M221.9 720.1l.9 2.6l-3.3-.1l-1.4-3.8l-4.5-.2l-1.2 2.8M201.7 753.2l-3.7 .3l1.2-2.5l4.2-.8l3-.8l1.7 2.3M204.2 736.5l3.4 .2l2.1 3.8l-3.7 .3l-3.3 .9l2.3 2M192.8 656.7l2.4-1.1l.4-3.6l3.1 3l-1.1 2.5l3.2-.2M203.6 698.6l3.4-.5l.8-3l3.6-.3l1.5 2.7l2 2.7M201 700.6l-4.5-.9l1.4 3l1.8-3.2l-4.1 .9l-2.1-2.2M180.8 660.5l-4-2.3l-3.6 2.1l2.9 1.6l2.8-2.1l-3.3-1.1M190.4 749.8l-3.5 2.6l-.6-2.7l-3.2 2.7l.7 3.8l3 .8M170.2 625.7l4.3-.9l-1.8-2.1l3.8-.5l-2.3-2.8l3.8-1.2M187.1 695.3l3.5 .4l-1.3-2.8l1.9-2.1l-3.2-1.3l-3 1.8M177.6 756.3l2.9 3.1l3.1-1.4l3-1.8l3.2-1.2l-2.3-1.9M173.3 756.7l2.5-1.4l.2-3.4l-3.9-1.8l-.1-4.4l2.2-1.9M197.5 738.3l-1.6-2.2l1.2-2.6l1.3-3.6l2.9-1.1l2.9 2.3M187.5 665.8l-3-2.6l.1-3.4l3-2.4l-3.8-1.1l-.3-3.6M204.9 690.9l3.5 0l-2.1-3.8l-1.4-2.9l-3.7-1l-1.4-3.6M203.9 665.9l-4.6 .4l-1.4 2.7l2.4 3.4l-2.1 3.7l1.3 3M197.9 651.1l-3.6 1.4l-2.8-2.1l-3.9 1.1l-3.1-3.4l-1.7-2.2M188.5 626.6l2.8-.7l4.2-1.6l2.2 2.2l1.3-3.5M210.5 672.2l-4 .9l.5-3.4l-2.8 .9l-3 1.5M188.1 674.5l1.8-2.2l3.8 1l2.7-3.4l-3.4 .1l1.9-3.4M180.1 759.7l2.3-2.3l.7 4.3l2.5-1.5l.4-3.3l.7-2.7M177 763l2.2 2l-3.8 .8l-1.6 3.2l2.5 3.3l3.7-1.1M160.4 614.2l-2.9-1.9l-3.3-1.7l-2.1 1.7l3.4 1.3l-3.1 3.4M149.5 598.3l3.5 2.3l-.5 3l-3.6-2.1l-3 2.4l-.1 3.8M186.3 747.9l-3.2-3.2l1.4-3.4l-3.1 .6l-2.3-2.9l.7-3.9M186.3 617.3l1.3-2.3l-1.9-4.1l-3.1-.2l-1.4-3.8l1.6-2.4M220.9 715.7l-2.3-2l.3-2.9l0-3.7l.4-4.5l-2.6-2.5M205.7 711.6l-.5 2.7l2.9 2.9l-3.7 .4l-2-2.9l-2.1-2.6M205.8 724.7l0 4.6l-2.2 1.4l-2.9-1.2l-3.1-1.6l-.6 4.1M181.3 648.5l-3.2-1.7l-3.2-2.2l-3.1 1.6l-.7 4.5l-3.6 1.3M179.7 644.7l-4.6 .3l-1.7 2.3l2 2.9l-1.9 3.3l3.3 .5M202.6 721.5l3.6 .1l1.4 4l4.4 1.2l4.3 .8l-.6-3.1" stroke="#1c2cc8" stroke-width="0.8" fill="none" stroke-linejoin="miter"/>
<path d="M102.9 716.7l-1.6 2.9l1.3 2.8l-1.7 2.2l1.2 2.6l2.2-3.5M135.1 613.8l2 1.7l-3.2 .6l1.7 2.3l3.1 3.1l-4.4 .3M109.5 664.3l3.6 1.3l3.4-2.6l-1.1-3.8l-3 2.6l4.2 1.2M124.7 730.3l1.3-2.3l-3.5-.4l-2.2 3.1l-2.6-.8l1.6 3.5M92.4 731.3l-2.5 1.1l-2.6-2.3l4.1-1l1.2-2.5l-2.8-2.8M115.3 603.8l-3.9 .7l-2-1.9l1-2.9l3.6-1.5M125.3 612l.9 2.5l4.5 .6l-2.1 2.1l.5 4.5l-2.2 2.5M111.5 689.2l-2.6 3.1l-4.4-.1l-2.6 .3l-1 3.9l2.6-1.2M120.1 678l4.3 .9l2.6-2.3l2.9-2.1l2.7-2.4l3.9 1.5M128.6 643.9l-3.2-2.8l-1.8-2.1l1.9-3.2l-1.9-2.5l-2.8-.2M113.2 662.2l-1.5-2.4l2.9 0l2-3.1l3.4 .4l-2.4 2.3M128.9 645.4l-2.8-.6l-2 2.1l-3.6-.5l2-4.1l3.2 .3M117.4 614l2.2-2.9l2.7-3.2l-.7-2.8l3.5 .8M105.5 720.1l2 2.8l3.8-.2l1.3-2.5l3.4 0l4 .2M92.9 668.2l1.3 2.3l4.5-.1l2.1 2.5l2-3.5l1.7-2.6M138.8 622.1l-2.4 3.3l-1.9-2.9l-3.3-.4l2.9-3.2l-1-2.4M104.3 648.4l-2.4-1.8l.4-4.3l-2.5 1.4l-2.7-2.3M104.3 685.6l2.8 2.1l3.4 1.6l3.8-2.4l.2-3.7l.4-4M105.7 647.5l2.6 .6l3.1-2.8l3 .5l1.8 3.7l-2.9-.3M100 703.4l2.6-2.2l-.7-2.9l-.9-3.8l-3.9-1.9l-2.1 1.9M131.3 634.7l3.3 2.7l-1.2 3.3l2 3.3l-1.6 3.2l3.7-.1M92.6 675.6l3.7 0l-2.9-3.4l.9-3.8l-1.6-2.1l1.7-3.6M109.1 631.9l-.8-3.5l3.5-2.5l-.1-3.1l-.8-4.1l2.2-1.5M90.4 719.4l-2.1-1.6l-3.7 1.3l-2.7-2.9M89.7 680.8l3.3-.8l1.2-2.6l-2.8-3.2M93 727.1l-1.9-3.5l-4.2-.5l-2.1 2.2M124 634.1l1.6 4l2.7 .1l2.3-2.7l3.6 .9l3.8 .5M103.6 680l1.8-2.2l-1-2.5l-1.2-3l2.1-2.9l3.4 .8M97.6 704.3l-2-3l1.6-2.5l3.3-.1l1.5 4l1.6-2.8M115.2 655.7l4.3-.5l-2.5 3.7l-3.9-.9l-2.1 2.3l-4.5-.2M91.3 690.6l-1.6-3.5l1.4-2.5l1.5 3l-2 3.7l-4 .1M115.7 700l-4.1 .8l-1.6-2.2l4.4-.5l-1 4.1l-4.3 1.6" stroke="#48c040" stroke-width="0.8" fill="none" stroke-linejoin="miter"/>
<path d="M121.9 818.3l2.7 1.2l0-3.2l-2.4 2l-3.6-.9l-1.5-3.5M51.3 775.8l2.2 2.8l3.3-.3l-1.6 2.6l1.4 4l3.8 1.1M121.7 771.2l-3.1-1.4l-2.6-1.4l-.2 2.9l-3.1 .8l-1.4 4.4M75.8 808.3l-3.3-1.9l2.9-1.6l2.8 1.6l2.9 2l3.4 3.1M97.6 788.9l.3-3.6l2.2 2.3l-2.1 3.9l1.8 3.8l4.3-.2M63.9 785.4l0 4.5l-3.7 1.3l.1-3.3l-2.6-1.7l-.6 3.6M101.4 764.7l3.4-.9l-2.1-2.4l-4.4 .2l-3-3.5l1.2-3.7M87.6 788.7l-2.3-3.2l1.1-4.2l-2.6 .6l-2.9 .7l1.1-2.6M95.9 777.4l3.2-.6l3 3.4l4.2-.4l2.7-.1l2-3.1M91.7 767.4l-.9 3.3l-4.2 .3l-3-3.2l-1.2 3.9l4.5-.7M93.1 809.1l1.5 2.4l3.7 .1l-2-3.6l-1.6 2.9l-1.6 2.7M71.2 767.8l.4 3l3.7-1.9l-.3-3.2l-3.2-2l.1-3.5M121.3 787.1l4.1-2l2.3 2.1l-4 1.5l-4.1 1.8l-2.5-1.7M68.8 795.3l2.7-3.2l-2.1-3.8l2.7-.1l-1.5-3l1.7-3.1M93.2 757.6l.9 3.3l1.4 4.4l-4.1-.4l-3 3.3l-2.8-1M86.9 796.9l2.9-.7l1.6 2.4l2.8-.2l2.3 2.9l2.5 2.8M54.5 780.8l0 4.3l-3 1.3l-.7 4l3.2 2.7l1.5-4.1M107.1 792.3l-2.9-1.3l-.9-3.6l-2.6 3.8l-3.8 .1l-3.9 .6M135.7 785l-1.3-3.8l-1.7-3.2l-1.4 2.9l1.1 2.5M78.3 762l-2.4 1.4l-3.6 1.3l.3-4.3l2.7 1.2l3.4-1.9M111.6 771.1l-1.1 4.1l-3.8 .6l-.6 3.7l2.5 2.3l2 2.3M108.3 772.2l-2.8-1.7l-.2 3.9l4-1.8l2.5 2.7l1.6 2.2M95.7 797.9l-.5 3.4l-2.8 .7l-1.7-2.3l1-4.3l-2.5-1.6M87.1 766.3l2.5-1.2l.7-2.9l-3.5 1.3l-1.3 3.9l1.8 2.6M59.4 782.7l-4.5 .8l2.6 3.1l3.1-1l4.1-1.6l-3.1-3.2M100.8 775.4l2.4 1.4l-.4-4.1l-1.2-4l-1.3-2.7l1.3-3.1M118.5 783.1l4-1.9l-.1 4.5l-2.3 1.4l-3-1.2l-3.5-.6M59.5 806.4l-.4-4.5l-.2-3.8l2.4 1.1l-1-4l-3 2.9M111 792.7l.5 2.6l3.4 .6l-1.7-4l-4.2 0l-1.1-3.1M57.1 769.6l3.1 0l2.6 3.4l3.1 3.2l-1.8 3.5l2.9 .3M126.8 786.1l3.2 3l-.5 2.8l3.6 2.5l-2.1-2.1M93.3 777.5l-2.5-2.9l-1.9 3.7l-2.2-2.5l-2.7-3l2.9-.7M57.4 803.6l3.3 .4l-2.2 2.2l1 4.1l3.2 .8M86.7 788.4l3.1 2.3l2.9 2.9l3-.4l-.8 3.6l-3.3 1.5M107.5 804l2.9 .8l-.6-4.2l2.9 .7l1.1 2.5l-2.8-.2M128.6 802.6l-2.4 2.4l4.3 .5l1.8-2.2l-3 2.5M115.8 797.1l-2.6-1.4l.7-4.1l3.8-1.3l2.9 3.4l2.5 3.8M67.4 782.1l-2.8 1.2l-3.7-2l-.2-3.7l2.3-1.7l-3.8-2.5M78.4 815.2l-3.4-2.5l-2.3-1.9l4-1.5l.4-2.9l-3.1 1.6M121.8 797.9l-.5 4.4l-3.9 2.3l0 2.7l2.9 2.3l-.2 3.7M93.6 800.3l-1.8 2.5l-1.6-3.5l-3-.7l-.7-4.1l-3.3-1.7M106.8 769l3.1-2.7l-2.4-1.1l-2 1.9l-3.5-1.1l-2.6 2.9M51.9 787.2l-.9-3.8l-3.4 2.7l2.8-1.9l2.4 1.3M97.5 801.1l1.6 3l1.5-3.8l2.7 3l-1.4 4.2l-3.2 .6M87.6 790l-3.1 1l-.4 3.3l3.9 2.2l3.1-1.2l0-4.1M65 771.8l-2.6 3.2l.7 3.8l-3.1 3.4l-1.4 2.3l-3.2-.6M96.8 778.1l-3.5 .4l1.8 2.1l2 2.6l4.2-.8l-1.8-3M130.9 776.9l2.9 1.9l2.4-1.5l3.2 2.3M94.5 767.9l-2.7-1.6l.1-3.5l-.3-3.6l-.5-3.1l2.8-2.5M79.2 797.1l2.7 2.4l-2.9 .4l-.9 4.2l-.2 3.8l-2.1 1.5M127.5 801.3l3.3 2.5l-3.1 .8l-2.1-2.1l-2.6 1.1l-3.2-2.6M127.6 771.4l-2.7-.2l2-2l1.4 4.3l3.1-3l-1-3.2M102.1 764.4l3.8 .2l1.5 2.3l1-2.4l4.2-1.1l3.3 2.8M96.7 774.9l-1.4 2.2l-4 .1l-2.3-2.7l-2.9 .7l-.5 3.3M52.6 781.6l-2.1-3l2.5 1.7l-3.9 1.6l-.1 4.5M98.1 787.2l-1.8 2.6l-1-2.9l1.9-2.2l-1.8-3.7l-2.4 2.9M137.2 776.5l-2.8 1l-1.5 4l-3.3-2.7l.7-2.8l-4 .4M58.4 779.1l3.5-.5l1.7 2.1l3.3-1l-2.3-2.1l1.5-3.6M98.8 805.6l2.9 2.1l-2.7 1l-2-2.3l-4.4 .4l2.6 2.7M130.5 769l.6 2.6l.4 4.2l3.9-1.9l3.1 3M93.6 765.3l-3.8 2.2l-3.7-2.6l0 4.4l2.5 1.7l.2-2.8M71.7 772.6l-2.1 3.8l-3.5-.1l-3.4 .1l-2.2-3.9l-3.5-.5M66.5 789.5l-4.2 .6l-.9 3.6l-4 1.4l-3.3-2.4l.5-2.7M62.5 780.1l.9-4.1l-4.2 1.1l-2-2.8l1-3.5l-3.2 .1M132.9 770.1l-1-3.6l3.2-3l4 1.5l-3.8 2.4l-3.2 1.4M95.4 764.4l-2.1 2.8l-4.2-.6l1.8-3.3l1.1-2.9l3-.7M104.1 801.2l-1.8-3l2.8-.1l1.4-4.2l3.9-1.5l-1.1 4.4M68.9 819.3l-2.9-1.5l0-3.3l-.1-4l-2.5-1.8M107.6 803.3l1.5-3.2l1.4-2.6l2.8 0l1.5-2.4l2.7 .3M91.9 773.8l-2.6-.3l-2.5-3.8l-1.7 2.8l-1.2-3.1l-2.2 2.4M82.9 787l-3.6 .5l-3.3 .5l-2.9-3.6l-.9 2.6l2.5 2.7M77.9 798.1l.2 4.3l-3.9-1.2l-3.1 3.1l-2 2.3l-3.9-.2M128.3 775.2l-3-.2l-1.5 3.4l-3.9 .4l-1.8 3.4l1.9 3.1M125.5 765l3.6 1.9l3.6 1.5l-.1 2.6l-3.8 1.8l.2 4M88.1 795l-.9 4.4l-.4 3.4l2.3-1.3l2.6-.9l3.6 2.7" stroke="#d87020" stroke-width="0.8" fill="none" stroke-linejoin="miter"/>
<path d="M178.2 865.7l-1.9 2.6l-4.4-.3l-.9-2.5l-3.1-.5l-3.2-.5M219.7 841.2l2.2-3l-4.3-.4l-1.6 2.3l-4.2-.7M182.3 856l1.4 4.4l3-2.7l-3.7-.7l-1-4.1l-1.9 2.2M195.3 785l2.1 3l2.4 3.5l3.7 .3l3.4 .2l2-3.4M208.9 837l-3.4-.4l1.4-2.4l3.6-.1l1.4-4l1.5-4.3M222 812.6l-3.8-1.9l-3.7 2l3.4 2.4l2.8 1.9l0 3.1M221.5 819.1l3.2 2.5l-.3 4.3l-2.8 1.3l-2.4-1.6l.1-2.8M170.2 828.8l-1.3-3.8l2.4-2.5l-.9-3.3l3.1 .7l.6 3.7M156.7 805l1.7 4.1l-4-.7l-1.3-3.1l3.7 .5l2.3-2.9M165.3 857l-1.7 3l2.8 3.1l2.2 3.4l-2 3.4l-2.1 2.7M180.4 837.4l3.5-2.2l.3-4.3l.7-3.7l2.5 1.6l-.1-2.7M195.3 813.8l2.5-3.7l4.1 .2l1.5 2.4l3.6-.6l4.5-1.1M193.1 866.3l-2.4-3l-4.2 .1l2.3 2.5l4-.3l1.4-3.9M222.7 829.7l-3.1 2.3l-2.4 1.2l-3.4-2.3l-3.8 1.3l-3.1-2.2M157.7 821.2l1.4 4.2l2-3.3l1.3-3l-2.9 .1l2-4.1M196 826.7l2.7 2l2.1 1.6l.7-4.1l3.8-1l-3.3-2.4M172 812.2l1.9 2.6l2.7-.7l1.1-4.4l3.2 2.4l-1 3.2M230.7 801.8l2.9-2.3l.9 3l-2.7 2.9l.3 2.9M214 812.3l1.6 3.9l-2.3 3l.6 2.9l3.4 1.7l-.4 3.6M213.5 844.6l-3-.3l1.8 3l-4.4-.8l3.4-2.7l-3-1.5M206.1 818.4l-1.2 3.1l-3.6 1.2l-2.5-2.8l3.9-.9l-2.1 4M221.2 836.2l2.5-2.8l3.9 .5l-1.8-2.9l-3 .1l-1.4 3.5M159.7 793.4l-.8 4.3l-2.9 1l-1.1 2.8l-2.7-2.9l-2.2-2.6M209.7 816l-.2-3.3l3.4-2.4l.3 4.3l3.2-1.6l3.5 2.4M190.5 864.9l-2.7-1.9l-3.4-1.6l-3.5 1.8l-3.1-2.9l.3-4M188.3 862.5l1-2.7l3.7-.2l.8-2.5l-2.6 .1l2.2 3.6M235.9 813.7l-2.9-2.9l3.7-.2l-1.5 3.8l2.4 2.2l4.4-1M231.1 810.2l-2.6 3.7l-1.5-4.2l-.7-3.6l3.3-2.8l1.4 4.3M181.2 789l-1.5-2.4l1.3-3.7l3.3-.1l-1.4-2.6l-3.6 .4M182.2 837.6l-3.1-.5l-3.1-.6l-4.3-1.5l2.8-2.4l-.1-3.2M161.7 850.6l-3.4-.9l.7 3.3l-2.2 2.9l1 2.6l3.2 .1M207.3 839.3l-.7 3.9l-.9 4.2l3.8 2.3M206.4 819l-.6 3.8l-2.8-3.2l-3.5 .1l-2.6 3.2l-3.6-.9M187.1 872l-1.1 3.4l-2.3-2l-2.9 1.7l.1 3.9M206.6 810.5l1.1-2.6l3 .3l1.7 3.1l.8 2.6l-2.9-1M198.1 789.4l-1.8-3.1l-3.6 0l2-3.8l3.7 .3l1.7 2.8M230.6 805l-2.7 1.5l-3.6 2.7l-3.2-1.9l.5-4.1l1.1-4.1M223.5 795.1l2.1 2.8l-3.5 .4l-1.6 4.2l-.6 3.5l-2.8 1.1M176.3 843.7l-1.7 3.4l-3.9-.4l-3.8 0l2.1-3l-1.6-3.6M166.4 857.5l-1.9 4l-1.6-2.5l-1.9 2.7l4.4-.3M192.3 857l-4 2.1l.5 3.6l-3.9-1.8l-.7-3.2l-3 2M166.7 797.4l4.1-2l.5-3.8l-2.7-1.9l.2-2.7l2.5-1.5M209.4 826.1l3.9 1.1l-1.4-4.1l3.8 1l4.1 1.8l-.4-4.1M239.2 820.9l-3-2.4l-.2 4.3l.4 3l-2.3 2.3l-3.3 2.8M181 825.5l3 1.7l-.1 3.1l-2.6-2.4l-3-2.6l.2-3.2M192 802.9l1.2-3.4l2.7 3.3l-2.8 1l-.2 4.2l3-1.1M234.2 803.7l.7-3.1l-3.9 1.4l-3.5 1.7l-2.4 1.3M176.4 833.5l.8-3.2l-3.4 .7l-2.5-2.2l0-2.9l2.7-1M198.3 831l-2.2-2.3l2.8-.9l2.8 3.4l-.9 2.9l2.6-.8M186.9 829.9l2.7-1.8l-.6-2.7l-2.2 2.4l-1.1-3.8l-3.1-1.4M187.8 819.3l-3.6 1.3l-2.6-1.9l-2.9 1.1l1.1-3.7l-1.7-2M158.6 802.2l3.8-2.3l-.6-4.1l-3.8-1.8l-3.1 1.8l-3-1.2M174.4 813.8l-.1-3l.3-4.1l3.9-1l-3.2-2.3l-3 .9M227.8 832.1l2.8-.6l2.2 2.6M174.1 866.4l-.4-3.9l3.7 1.8l-.1-3.7l2.9 1.8l.3 3.3M166.7 840.8l-.8 3.8l4-.9l3-.4l2.1-3.8l3.9 .6M180.6 837.8l-2.3 1.4l-3.6-1.7l0 3.9l-2.5-1l1.9-1.8M202.7 813.3l2.5-2l3.2 .8l2.5-3.3l3.2 0l1.5 2.5M199.1 854.5l-2.4 2.1l-3.7 2.2l-.3-2.7l-3.3 1.7l-.8 3.4M193.5 835.8l-2.9-2.2l-4.1-1.9l3.4-1.9l2.5 2.3l-.6 4M198.5 817.7l-.2-2.8l4 1.7l.3 3.1l-3.2-1.3l.2 2.8M162.3 808.2l3.7-1.4l2.3 1.6l2.6-1l3.1 2.9l-3.4 1.5M182.2 824.8l-3.8-1.9l-3.2 3.1l.6 2.6l-3.4 3.1l-3.3 3.2M156.5 800.6l2.4-3.6l-1.6-4.2l1.7-3.9l1.5-3.5M208.5 844.3l3.4-1.1l3-1l.5-3l3.8-1.3l3.6-.6M196.7 828.4l1 2.5l-2.9-.9l-2.4 2.2l.6 4.3l-2.9-1.7M196.4 809.6l3.1-1.7l3.2-1.3l3 2.7l-3.7 1.6l-3.5 2.2M215.5 792.5l3.4 2.5l-2.3 1.6l-.2 4.2l-3.7 2l.1-2.8M227.4 794l.9 2.7l-3.1 2.5l.2-4l3.1 1.5l2.2-2M187.7 819.9l-1.3-4l3.2 .9l-1.9-3.8l3.5 .5l1.6-2.8M236.5 810.9l2.7 .9l1.1 3.8l3.3 1.5M211 811.6l.4-3.2l2.5-.8l-.2 3l2.8 2.5l-1.2 2.7M180.3 841.4l.7-3.9l1.4-4.2l-2.2-2.2l-4.1 1.7l-2.8-1.8M170.6 863.7l-1.6 2.1l-2.1-3.8l-4.4-.2l2.8-3.6l-2.6-.8" stroke="#28c028" stroke-width="0.8" fill="none" stroke-linejoin="miter"/>
<path d="M127.9 841.4l-2.6-1.3l-3.5 2.5l.4-3.5l2.7 2.3l3.2-1.4M84.1 811.4l1.2-4l-2.4-3l1.6-2.7l-1.4-3.4l-3.6-.4M131.7 826.4l-1.2 3.3l-2.6-3.7l1-4l2.2 2.1M87.8 835.8l-4 .7l-3.4-2.9l.6-3.5l4.2-1l2.5 2.1M115.1 852.6l-1.9-3.5l1.5-2.6l-3.9 .7l-1.9-2.6l-2 3.5M119.9 825.5l.8 2.9l2.8-2.8l4.2 .7l1.8-2.3l-4.4 .2M97.5 823.5l4.2-.2l-2.5 3.7l-2.7-3.6l-2.7 .5l-.9 3.7M120 847.7l2.4 3.3l-1.6 3.3l-3.4-.2l1.8 2.2M115.5 816.6l-2-2l-3.8 .2l-1.8-3l-1.7-2.2l-4.4 1M77.8 820.6l2.8-.1l-1.4 4.1l-2.9-3.5l-4.3-.1l-1.4-3.7M117.9 842.1l4-.6l-1.5 3.7l-3-2.6l-3 .7l3 2.7M124.7 834.7l3.7 1.5l3.2 .9l2.9-2.2l2.6-1.5M129.7 818.6l-2.2 2l3.7 .5l1.9-3.6l-2.9-.1l-3.6 .5M79.7 819.4l2.5 2.8l-1.3 3.7l-4.5 .1l-2.5-3.1l1.5-3.6M80.4 819.4l.8 3.1l-3.6-1.1l-1-3.9l-.6-3.5l-3.4 2.4M123.1 809.2l-3.6-1.3l-2.4 3l-3.2-1.1l.1 3.9l-2.8 1.4M131.1 811.9l-2.8 2.4l4.1 2.1l-3.3 1.9l-.5 4.3l-2.4-2.3M94.8 833.6l2.1 2.1l-.6 3.7l2.1 2.3l-3.8 .6l-4.5 .7M119.4 838.5l1.6-3.8l-3 .3l-4.2 .6l-3.7 .5l-2.5-2.3M106.9 843.9l-3.5 1.2l-1.9-2.3l.7-3.1l2.9-.5l3.2-.2M102.4 831.7l-3.4 2.8l-3.9-1.8l-3.8-2.1l-3.4-2.5l-1 3.7M115 819.6l3.1 2.8l-.1 4l-.5 4.1l-2.8-1.9l3.5-1M81.5 828.4l-2.7-2.1l.4-4.3l2.6-1.2l-.3-3.3l-3.7-1.5M122.8 809.7l.2-3.2l2.6-1l.7-2.6l3.3-1.4l-2.4-1.6M112.5 854.6l2.4-2.5l.4 3l2.8 1l2.9-1.9l-.6-3.4M111.2 857.2l3 1.2l2.4-2.6l-1.3-3.5l-3.9-1.4l-.1-3.2M123.2 835.7l-2.8 2.3l-3.8-1.1l-.1-2.6l-.1-3.5l-2.5-.8M132.6 810.2l-3-.3l-1.6-3.1l3.2-3.2l-3.6-.7l-.9-2.8M88.2 835.6l-4.6 .6l2 2.5l3.2-.3l-1.8-4.1l2.1-3.1M90.1 824.1l.5-2.9l.2-3.2l-2.5-1.7l3.5-1.7l3.4 3.1M98.8 829.4l2.9-1.1l3.2-1.1l3.5-.9l1.1-4.4l-3.4-2.8M127.5 818.7l-2.4 3.8l2.5 3.4l1.7 2l-1.7 3.8l2.7 2.7M112.9 825.9l1.3 2.8l3.6 .8l-1.4-2.6l2.9 .3l3.2-.3M83.7 826.3l2.3-2.6l3.5 1.3l3-2.3l2.4-1.5l.6-4.4M110.7 817.1l-1.1 2.4l1.9 3.8l-4.2-.7l1 3.6l-2.3 3M112.1 816l.3-3.1l-2.3-2.1l.5-3.8l3.5-1.6l4-1.1M99.2 852.5l-2.2-3.2l-1.6-2.3l-4.4 1l1.7 2.6l3.7-.8M111.4 855.2l-2.8-1.5l-3.5 1.8l2.7 1.7l.2 3.6l2.5 1.9M113.6 854.7l1.2-2.7l2.8-.7l-2.9-3.4l1.1-3.4l-2-2.1M108.3 847.6l-2.9-3l-.7 3.5l-2.7 1.3l-3.4-1.5l2.2-1.8M116.5 818l-2.7-1.5l-3.2 1.2l-.4 2.8l-3.7 1.9l0 3.1M121.3 834.3l4.4 .2l1.1-2.5l-2.6-3.3l4 .1l1.9-3.6" stroke="#d84020" stroke-width="0.8" fill="none" stroke-linejoin="miter"/>
<path d="M209.9 687l-2.8 .8l2.8 3.5l3.4-.1l-1.6 3.1M207.1 718.4l-1.1 3l4.3-.5l-1.5 2.6l1.1 2.4l2.3-2.2M177.7 598.1l-.3 3.7l-2.3 1.4l.4-4.2l-2.6-1.4l3.5-1.5M178 646.7l-3.7 2.1l-3-1.9l-.2-4.5l-3.6-1.3l-3.5-.6M172.4 622.6l3 1.8l2.6 2.2l2.4 1.9l.1 3.8l2.5 1.5M203.3 753l-1.6 2.4l4 .4l-2.2-4l3.3-.2l1.1-3.2M209.1 695.6l-3.2-1l-2.8 3l1 3.1l-2.8 2.6l-3.3-.6M193.4 686.5l-1.3-3.4l-.6-2.9l3.2 .9l.4 4.2l-2.7 1.5M209.3 731.2l2.8-.8l.5-4l.9-4.3l3-1.4l.7-3.1M193.7 743.6l-.1 3.4l2.4 1.1l3.5 1.8l2.8-2.6l-4.1-1M195.5 762.8l-.8-2.6l-2.6 2.7l-2.6-.6l-2.5 1.9l-3.7-2.4M180.1 606.1l-.1-3.4l-2.8 2.2l.8 2.9l1.9 4.2l-3.7-1M202.7 719.5l-2.2-2.4l1.1-3.4l2.9-.5l1.8-3.2l1.8-2.8M198.2 722.8l-3.9-2.3l-3.1 1.8l-2.4-1.3l2.5-1.9l2.7 1.3M198.7 748.8l-3.3-2.3l-3.8 2.1l.2-4.4l2.1-1.6l2.5 1.5M174.8 609.8l-.7-2.6l-4.5-.4l-2.5 3.3l-4-.1l1.3 2.2M192.2 738l-3.4 2l-.4 4.5l2.2 2l3.7-.7l.9-3.5M160.8 592.4l-1.3 4.1l2.6 2.7l1.2-3.4l4 .1l2-2.2M200.3 669.1l4 .8l.5 3.2l3.2-2.4l-1.3-4.1l2.5-3.4M170.5 641.9l2.7 .4l-1.6-4.2l2.1-3.9l1.6 4l3.1-.1M185.5 761.1l1.1 3.2l3.3 1.2l3.2-2.7l3.4 1.2l3.3-2.7M180.6 731.5l-1.5 3.2l2.5 3.3l-1.8 3.6l1.9 3l2.6 3.2M200.8 669.7l-3-1.4l-.2-3.7l2.4-1.1l-3-3.1l-2.9 .9M172.3 616.3l3-.3l.9-2.7l2.6-1.1l-3.8-2.4l0 3.5M199.3 676.1l3.3-.2l2 2.7l-3.4 .7l2.3 3.3l4.5-.7M205.2 715.5l-3.3 1.9l2.8 2.2l-4 1.9l2.4 1.2l2.6-2.3M212.2 732l2.2-1.6l-3.8-1.5l-2.9 2l-3.9-1.5l-.4-4.4M149.3 608.3l2.6-1.2l-2.7-1.7l.1-3.4l3.7-1.4l-2.8-1.7M174.4 620.8l3.5-2.9l-.5-4.2l3.4 .8l-.6-3.7l-1.3-4.3M197.4 721.5l-4.3-1.1l-3.2 3l1.7 4l2.7-2.5l-.9-2.5M187.8 685.2l0 2.7l2.4-1.5l3.2 1.4l-.4-3l-2.3 2M179.3 614.9l.4-4.1l-3.3 1.8l.2 3.6l-3.2-2.3l-.1-2.7M185.3 636.6l3 .4l-1-2.7l1.4-2.5l-1.7-3.1l1.3-2.6M159.6 599.1l-2.1 2.6l-2.1 2.4l-3.5-1.2l-.1-2.9l2.2-1.9M172.6 630.7l-1.9-2l-2-1.8l-4.1 1.5l.1 3.8l.6 3.5M210.3 726.1l-4.1-.6l-2.8 0l-1.8-2.4l-1.1 3.1l1.5 2.2M175.8 639.2l-2.8 .9l-.8 3.9l-2.8 1.4l-2.8-1.4l-3.4-2.4M186.8 622.2l4.1-1.4l1-3.7l4.3-.8M194.1 748.7l.2 3.9l2.5 1.4l3.2 1.1l.2 3.3l3.9 1.4M146.8 598.6l1.5 2.9l2.8-.1l2.5 3.3l1-3.3M215.6 718.4l-2.2 1.9l-2.6-1.1l.8 2.7l-1.9 1.9l-3.6-1.4M211.1 680l-1.5 3.7l-3.8 0l-1.4-2.9l1.7-2.3l1.6 2.7M202.3 748.7l-3-1.2l-3.9-.8l-4.3-.8l-1.9 2.7l-2.6 3.6M220.8 728.2l.1-2.7l-3-2l-3-2.9l-2.5 1M185.3 639.2l3.3-3l4.4 1.1l-1.2-3.4l-4.5-.4l-1.5-4.3M187.2 616.9l.4 2.9l-3.2 2.3l-.5-4.2l-2.5-1.6l0-2.8M197.9 656.4l-3.5-1.4l2.6-1.4l2.7-1.9M191.3 759.9l.2 3.4l0 4.6l-2.9 2l-2.5 1.5l.5 3.6M186.9 639.6l.5-2.8l1.3-3.5l.6-2.9l.2-4.2l-.3-3.3M184.3 737l-3.6 .6l1.6-3.8l3-.5l1.4-2.5l3.2 0M208.7 741.9l.3-2.9l3.6 2.8l4.3-.8l-1.7 4.2l-3.8 0M193.6 715.7l-2.7 .1l-1.4-2.8l2.6 .2l-2.6 2.5l-3.4-.4M156.9 788l-1.8-2l-3.8 1.2l2.5 2.1l4.2-.9" stroke="#3050e8" stroke-width="0.8" fill="none" stroke-linejoin="miter"/>
<path d="M174.1 816.4l-1.9-3.3l1.6-4.2l2.5 3.7l-2.3 3.3l1.6 2.9M208.9 791.8l.9-3.4l-3.4 1.7l-3.8-2.2l-.2-2.8l-2.4-1.3M205 804.2l-3.1-1l-2.6 2.7l-.5-2.7l-.6-4.2l2.5-2.7M207.9 794.1l4 .2l2.8-2.8l2.3-3.3l2.7-3.4M209.7 848.8l2.5-1.1l.4-2.6l-3.9 2.4l-2.4 1l.8-3.7M160.5 845.8l-3.1-1.3l-.9-3.9l-1-2.5M165.2 819.9l3.1-3.4l1.2 2.5l1.6-2.3l1 3.2l-3.2 3M163.9 845.7l-2.7 3.6l-3-.2l.9 4.3M202.1 819.4l-3.5-1l-.3-3.9l3.7 2.6l.4-2.9l-3.1 1.6M201.3 776.1l-1.5-3.7l1.3-2.5l-2.2-2.6l-2.2-2.5l-4.3 .3M215.1 833l3.5-1l-1.7 3.6l4.4 .1l3.9 .9l3.1 .3M164 809l2.5-1l3.8-2.2l-.5 3.1l-3.3 1.5l2.5 1.1M228.7 824.6l1.9-3.1l-3.5-.7l-1.1-4.3l-3 2.5l.2 4.2M205.4 781.4l2.7-1.4l.9-4l-2.3-1.8l1.2-3.8l3.7-1.4M214.9 832.8l1.6-2.8l-2.2-3.5l-1.3-3.3l-1.9 2.6l-1.2-3.1M168.4 777.9l-2.2 3.4l-1.3-2.4l-4.3-.3l-1.6 3.2l-2.4-2.7M156.7 803.2l.8 2.5l3.7 1.5l3.1-1.8l3.3 2.5l-.3 3.9M169.4 845.9l-4.5-.3l-1.4 2.3l-4.1-.7l-1.4-2.7l1.6-2.5M179.2 797l-4 1.4l3.2 2l-.2 3.1l2.4 1.8l.2 4.2M196.6 848.8l-3.4-.6l-1.2-3.7l-.5-3.4l4.4 1.2l3-2.3M224.5 804.7l2.8-1l-3.1-2.1l-3.2 2.3l-4.4-1.2l-2.4 2M202.9 821.3l1.1 3.3l-2.6-1l2.9-1.9l-3.2-2l-2.7 2.1M227.3 802l-3.6-2.7l-.3 3.8l-3.7 2.1l-2.9-2.5l-3.9 1.1M165.6 781l-.7-3.4l2.3-2.1l2.6-1.6l2.6-1.8l.8 4.3M218 805.5l1.6 3.9l2.9 .1l-1.3-2.4l-1.7 3.2l3.8 .2M164.7 792.5l-2.3 3.7l-1.1-3l3 1l1 3.7l2.2-2.7M192.7 818.9l-1.9-3.1l-2 4l-3.8 0l-3.1 .5l1.5-3.1M194.5 816l4.1-2.1l.7-4.2l3.7-.9l2.9 3.3l3-.2M203.8 831.5l0 4.4l.1 3.2l-2.8-2.2l3.2-1.9l3.5 2.4M187.9 831.3l-2.2-2.6l-2.7 .5l1.7-4.3l4.2-.6l2.5 2.3M221.3 803.3l1.9-2.3l-3.5-.8l-3.5 2.7l.1 4.1l2.8 1.5M158.9 833.5l-.1 4.4l-.6-3.4l1.1 3.6M207.7 805.8l2.3-1.8l3.2-2l4.3 1.6l2.5-2.6l.7 4.1M191.7 853.6l4.1-.6l2 1.8l3.1-.4l1.5-3.1l-3.8 1.1M171.3 790.7l3.6 1.4l-.4-3.2l2.4-1.5l3.8 2l-.4 3.8M193.8 789.9l.3 2.8l-2.8 2.1l-3.6-1.4l3.4-2.6l-.7-3.4M220.6 833.5l-1-2.7l4.3 1.4l-.8-2.7l-4.5-.6l-3.7-1M175.8 797l.2 3.3l-2.6 1.3l.2 3.5l-2.3 1.7l-2.6-.7M215.6 831.3l.9-4.1l4.3-1.1l3.3 2.3l.7-3.4l-3-2.5M234.8 819.3l.2-3.2l3.8-1.1l-2.5-2.5l-3.7 .8l-2.5-2.9M184.6 850.8l4.5-.3l2.1 2.8l2.8 2.8l2.7-1.1l-3.2-3.1M176.6 870l-2.6 1.5l-.4 3.1l3.1-1.6l3.2 1.6M192.3 865.2l3.8-2.2l.2-2.6l2.8-1.4l-2.9-1.5l-2.2-1.4M217.8 789.4l.3-4l.8-3.7l-2.5 1.3l3.2 2.5M179.1 797.1l-2.7 3.4l-2.2 3.7l-2.2 3l-3.8 .1l-2.1 3.3M227.9 808.1l-2.8 1.4l3.6 1.9l3.3 1.9l2.1-1.7l.1-3.9M198.8 843.2l4.1-1.5l-3.8-2.6l-2.4-1.7l-3.6 2.2l.6-3.5M207.3 810.6l-2.8-.4l1.5 3.7l1 2.9l1.8-2.2l-2.1-3.8M224.2 800.3l2.2 2.6l3 2.6l3.3-1l2.2 2.8l-1.1 2.8M162 841.2l.4 3.4l.2 4.2l-3 2.1l-2.7 2l-3.7-1.7M164.4 861l-2 2l-4-1.9l3.9 .5l1.7-2.4M199.5 819.1l-2.3 1.4l.5-2.8l-2.4-2.2l-4 1.5l-3.2-2.1M210.7 794.3l-3.8-.6l3.2-2.9l-2.9-.8l-.9-3.9l-3.1-1.6M159.4 841.1l3.2 2.5l3.8-2.5l2.4 1.1l-2.3 1.8l-2.9-1.3M160.3 831.1l-.9 3.5l2.4 2.6l-1.4 3.6l4-1.4l3.2-.8M205.7 804.2l-3.4 1.8l2.2 1.6l2.6 2.5l2.9-.3l-2.1-3M182.9 816.2l-3 1.8l.4-2.6l4.2-1.7l.1 2.9l-3.6-1.2M209.9 790.2l-.1-3.5l-2.3 1.8l.3 3.7l-3.2-1l-2.2 2.2M194.1 793.9l-2.7-2.2l3.5-1.8l-.5 2.7l2.6 1.6l.7-3.3M184.8 818.9l-2.3 3.4l-3.4-.6l-2.3 3l-2.6-.5l-3-.8M169.2 791.6l-1.3-3l3.2 .3l-1.6-3.7l-2.2 2.9l3.5 .4M175.4 826.6l1.8-4.1l-1.5-2.2l-4.3-.2l.8 2.8l-2.4 3.7M223.2 801.6l3.6 1.5l-.9-3.6l-2.1 2.3l.5 3.4l1.4 4.2M215.3 807.2l-1.9-3.7l-2.7-.3l-1.7 3l-4 .6l2.6 2.9M218.7 803.1l2.7-3.7l1.4 3.9l-3.9 0l-1.9-2.4l-1.7 3.7M222.9 793.8l-1-3.2l-3.7-.9l.9 3l-2.2 1.5l-2.7 2.8M179 847.4l2.2-3.6l-2.4-3.7l2-4.1l-4.4-.5l1.8-3.1M183.5 832l-2.8-.2l-1-2.8l-2.7 2.6l-4.1-.9l-4.1-1M164 799.1l-4-1.8l-2.3 1.3l-.6-4.1l-4-.8M220.1 834.5l-3.1 1.4l-3.1-1.6l.7 3l-2.1 2.8l-2.6-.3M173.2 851.9l.1 2.6l-3 1.8l3.2 1.1l-.4-3.8l-3.2 1.5M201.3 834.3l-2.5 3.8l-1.6-3.7l3 .9l-2.8 2.9l.7 3.3M167.7 867.2l.4-3.5l.2-3.7l.1-4l-3.2-2.6l-3.9 2.1M237 812l-1.9 4.1l-1.5 2.4l1.7 4.1l-1.3 2.3l-3.4-.4M190.3 805.5l-1.8-3.7l-1.1-2.6l-2.3-3.7l1.1-3.3l4.1-1.4M210.8 824.4l.7 3.3l3 1l.7 3.8l2.1-2.1l3.3 1.1M155.8 810.9l4.2 1.7l-2.4 2.4l-2.9-1.3l2.7-1.4M159.9 817.9l-2.7 1.7l.4-2.6l3 3.3l2.2 2.8l2.1 1.8M182.8 857.9l-1.7-2.6l3.7 .1l1.1 3l2.5-2.3l-.4-4M178.1 811.5l3.9-1.5l2.9 1.8l.4 3l3.6 2l.6-3.6" stroke="#40c860" stroke-width="0.8" fill="none" stroke-linejoin="miter"/>
<path d="M56.2 797.6l-2.9-2.4l2.6-1.4l.1 2.8l3.3 2.1l-.3 3.9M125.7 780.1l-3 .8l-2.2-1.6l2.8-1l-1.4 4.1l-2.1-1.9M104.3 784.9l-3.2 .5l-2.3-3.6l1.6-4l-3.6 .3l-2.3 3.4M70.7 781.4l-2.6-1.9l-.3-4.4l-3.2-1.1l0-2.7l3.7-1.7M59.5 781.7l.9 2.9l-1.8 2.4l1 3.7l3.1 .8l1.2 3.4M89.3 804.1l-2.9 3.2l3 .3l-2.4 3.7l-1.8 2.6l-1.4-2.7M109.3 773.6l-1.8 3.6l2.3 2.4l-1.1 4.5l2 2.2l-1.2 3.4M63.7 811.3l1.1-3.9l1.5-3.5l4.4-.2l2.4 3.2M104.1 825.3l-2.7-.8l-.2-4l-.2-3l-.4-2.8l3.5 1.4M84.7 750.3l-3.2 2.8l3.6 .8l2.5-2.7l3.1-3l2.6-2.1M126.1 792.6l-.6 2.6l2.6-1.1l.3-3.7l-3.2-1.5l-.7-4.2M48.9 786.7l-2-3.6l2.7-.2l2.8-.6l1.9-3.7l-4.2 .1M120.5 773l1.8-3.4l-3.7 .5l-2-1.9l-4.1 1.6l.7-4.4M93.1 786.6l1.8-3.3l3.5-.7l2.3 2.9l1.7 2.1l2.6 2.2M79 771.1l3.4 2.3l.3 2.7l-3.3 2.8l-.2-3l-.1-4.4M120.6 809.2l3 3l-3.2 .7l-2.3-2.1l-2.5-2.6l-1.6-2.1M60.8 800.2l-4-.9l-1.1-2.6l2.4-3.7l4.2-.5l2.8-.3M85 793.9l-2.5-1.9l.8-3.5l2.5-.7l2.4 1.9l-2.9 1.8M103.8 781.8l-2.8-2.1l-2.5 1.1l-4.2 1.2l-3.3-2.4l-3.4 1.2M59.4 803.1l3.2 1.4l-.1-3.4l2.4-1.9l1 3.6l.8 2.7M81.8 788.7l-4.4-.5l-1-4l-.3-4l2.5-2l-.1 3.2M115.5 805.6l2 1.8l1.1-3.8l-3.2-2.3l0 3.3l3 2.6M84.5 764.6l-3.6-2.5l-2.1-1.6l3.3-2.1l-3.3-1.8l.2-2.9M78.2 796.9l-2.6 1.7l3.3 1.7l0 4.6l3.3 2.3l-.2 3.7M99.1 786.7l3.2-.6l2.1-3.6l2.1 2.8l-1.2 2.3l2.3 3.2M96.2 806.4l2.6-3.1l-1.4-2.9l-2.9-.1l-3.1 .2l2 2.6M69.9 785.6l-2.2 3.1l-3.5-.9l-4.1-1.1l-4.2-1.6l-.3-2.9M95.4 806l.5-4.4l-2.6-2.4l-2.4-2.6l-2.6 1.1l-2.2-2.1M124.3 776.9l3.7 1.2l1.1 4.2l3.6 .6l2.1-3.6l4.4-.8M59.8 787.1l1 3.2l2.2-3.3l-2.9 .3l1.6-3.9l-2.8-3.2M67.8 820l-.1-4.5l-3.1-2.1l-2.2-1.8M86.6 755.7l1.8-3.7l4.2-.1l1.6 3.1l-1.9 2.1l4 1.2M79.8 781.8l.1-2.7l2.8-2.1l.8 4.3l3.1 1.2l2.1-2.3M110.6 788.1l.9 4.1l-2.2 1.5l-3.4 2.6l-3 2.2l.7 3.2M94.7 810.1l-1.9-2l.7-4.5l3.3-.7l-1.7 3.2l-1.8 2.9M105.2 793.5l3-.4l-1.7 2.6l-1.5-2.7l-4.4-.2l-3.9-.2M61.1 807.7l1.7 3.6l-2.7 3.1l-4-.3l-4.1 .2M132.7 771.7l3 1l.8 3.4l2.1-2.2l-2 2.7M97.6 765.1l.5-4l-3.4-2.2l-.1-4.5l-2.7-1l-1.2-3.6M115.2 779l-2.1 2.2l-.3-3.2l-.2-3.5l-4.1-1.7l-.1 3.4M109.4 794.4l-2.7-3.6l1-2.8l1.7-4l-4.3 1.3l-4.3 .6M102.9 814.1l3.1 1.8l-.2 3.6l-2.5 1l-2.8-2.2l-1.4 4.1M60.2 778.1l-4.4 .6l.7-3.2l2.2 2l-.5 4l-3.1-3.2M127.6 797.6l2.2-2l.7 3.3l-3.7-1.3l-2.6 3l-2 2.8M72.1 823.4l-3-2l-2.8-2.5l-2.9 .7M115.2 784.8l-2.9-1.1l-2.8 3.2l1.1 3.7l-2.4 3.1l.8 3.1M133.2 765.9l-2.1-2.1l-2.7-2.5l-4.3 .5l-1.9-2.4l1.4-2.7M76.9 816.7l1.2 4l-2.9-1.1l-1.5-4.1l3.5 .6l4.4 1M115.5 779.8l.1-4.3l2.9-1.6l3.7 1.6l2.8-2.1l-3.9-1.8M58.2 777.2l-3 2l-2.3-1.4l-2.5 1.3l-3.3-2.3M56.5 789.3l1.8-2.5l3.2 .3l1.7-2.1l-3.3 0l2.6-3.4M100.8 804.3l3.6-1.3l-2.3-1.9l-2.9 .8l-2.5-2.1l-2.4 1.1M103.7 809.7l-.7 2.6l-2.7 1.3l-2.5 1.7l.3 2.8l-3.1 3.2M68.3 763.4l1.1 2.5l2.1-3l2.1-3.4l1 2.7l-4.2 0M107.2 790.2l-1.8 2l-.9-3.5l2.1-2.4l2.1-3.3l-2-3.3M132.6 797l-1.7 3.9l1.2 2.5l-4.1-.5l-1.2-3.8l3.2-2.5M90.8 801.1l2.7 .9l2.3-2.9l-1.1-2.4l3.9 1l-3.5 2.4M118 764l.3 3.5l-2 1.8l3.2 1.7l2.3-1.2l-2.4-1.3M115.3 795.6l2 3.8l-1.2 2.4l-1.7-3.2l-1.5-2.5l4.5-.3M109 801l2.5 2.1l-.1-2.8l2.5 1.2l-3.6 1.9l-2.9 2.3M135.3 796.7l.5-3.2l-3.5-2.6l.5-3.3M100.9 769.3l-.2-2.6l3.1-2.6l2.7-2.3l1.3 3.5l-3 2.7M92.3 797.1l-2.1-3.3l1.5-3.9l3.4 2.9l3.5-1.5l-3.7-2.2M62.8 774.1l.9-3.9l3 2.7l3 2.9l-.2 3.6l-3.2-1.8M69.3 802.1l4.3 1.2l-3.6 2.3l2.8 1l-.8-2.6l2.3-1.7M69.3 777l3.6 1l-1.9 2.5l-2.6 3l4.4 .2l1.8-2.6M75.9 783.6l-3.6 2.5l-.8-3.7l3.2-2.5l.1 2.9l2.4 1.4M86.2 763.4l3.9 .8l1.5-2.2l1.7-3l1 2.6l4 .3M58.9 796.8l.1 2.7l3.4 1.4l2.1-1.7l-3.8-.7l2.1-3.1M96.3 800l2.7 1.7l-.9 3.6l-3.4 .5l2 2.1l4.2-1M133.9 797.9l2.1-3.5l-3.3 .4l-1.8 4.1l-2.3-2.5M67.8 803.9l2.1 2l3.8-1.5l.7-3.7l2.8-.9l3.2-.6M57.8 805.8l-2.7-.2l3.1-.8l2.9-.5M105.4 777.3l-3.8 2.4l-2.6-.8l.6 4.2l.1 2.8l-3 1.4M128.5 767.4l-1.4-3l-1.8-3.2l1.1-2.4l-2.9-2.9l-.6 3.3M127.5 778.3l2.8 2.5l-.1 4.1l3.1 2.1l0 3.3l2.5-1.4" stroke="#d09020" stroke-width="0.8" fill="none" stroke-linejoin="miter"/>
<path d="M103.3 697.5l2.8 1l-1-2.8l2.8 .7l2.1-2.4l-2.7-.1M90.1 708.7l-3 1l.2-4.2l2.2 2.3l4.5-.3M99.6 682.3l3.7-1.7l.4-4.2l-.2-3.8l-2.8-1.4l-3.2 2.1M115.7 635.6l1.9-3.2l1.5 3.5l-4.4-.9l-1.1-4.4l-1.1-3.1M104.4 713.8l2 4l1.3 2.7l-3.7-.7l-1-4.1l2.5-1.6M111.2 626.5l-2.2 3.8l-4.5-.3l1.5-3l-4.2-.2l-2.4-3.9M127.6 658.1l-1.4-4.1l-2.1 2.5l-4.2-.2l-3.4 .5l2 3.5M92.8 679.6l.4 4.1l2.7 1.6l-2.3 1.8l-2.4-1.5M115.7 657.5l-1.3 2.3l1.7 2.1l1.7-3.7l1.3-3l-1.9-2.3M123.4 644.1l.6 3l.9 3.1l1.4 3.5l3.8 .6l3.1-2.5M117.8 670.4l2.1-3.9l3.8 0l1.4 3.8l-2.2 2.3l.7 3.9M127.5 626.5l-3.3 2l.6-3.9l.8-2.7l1.1-3.3l4-1.1M118.5 654.3l-2.9 1.6l2.8 2.3l.1 3.1l2.5 1.6l.3 2.6M134.6 629.2l-3.5-1.1l-2.9 1.8l0 4l4 1.9l-3.1 1.8M98.5 650.1l-2.7-3.3l-4.3-.1M122.9 621.1l-2.4 2.2l.9 2.6l-2.1 1.9l.6 4.3l-2.2 2.3M96.1 678.4l3.4 2.2l.2 4.4l-2.2 2l4.2 1.1l2.1-1.7M114.5 673l-3.8 .2l-2.5-3.5l-1.1 2.4l-3.4 .5l-1.7-2.9M102 641.7l3.7-2.3l.2-3.6l-3.8 2.2l-3.6-2.4M95.4 659.9l.2 2.8l3.6 2.4l.5 4.5l.2 4.3l2.3-1.4M121 704.9l2.8-3.6l-1.3-3.3l2.6 .6l3.1-2.4l2.4-2.1M138.7 654.7l1-2.7l-3.7 .7l-2.8 1l-2.8-2.4l-3.6 .9M118.1 666.5l-3.4 .9l-.5 3.2l-2.1-1.7l-2.3-1.4l-3.3 2.2M108.9 667.9l4.2 .8l1.5-2.5l3 .6l2.7-2.1l3.9 1.3M89 721.3l.7-3.1l1.1-2.5l1.4-3.4l-1.8-2.2l4-.9M105.3 679.3l3.9 1.8l-2.7 1.4l-.1-4.1l-3.2-2.3l.1-3M107.8 622.9l3.2-.8l.8-2.9l1.1-3.5l4.1-1.1l-2.8-2.7" stroke="#78c828" stroke-width="0.8" fill="none" stroke-linejoin="miter"/>
<path d="M107.9 728.5l-3.1-1.9l3.1-2.1l3.2 1.3l3.3-2.4l.8 3M129.9 626.6l4 .3l1.8-4.2l2.3-3.8l3.5 0l1.6-3.4M96 696.3l-2.5-1.3l.7 4l2.3-2.3l4.1 1.6l.5 2.8M114.2 671.6l-3.5-2.4l-.9 3.9l-2.5 1.1l-.2 3.7l3.6 1.8M134.8 651.9l1.4-3.7l-3.4-2.9l-3.6 1.2l-.9 3.2l-2.2-2.2M96.2 688l-.6-2.8l2.1-1.7l-1.1-4.4l2.5-2.6l-1.7-3.6M115.1 682.7l-3.2 2.5l-3.1 1.7l.4 4.4l-3.2-.9l-4.3-1M105.6 653.3l1.6 2.1l-1.6 3.5l-3.2 .3l-2.7 0l-1.1-2.4M131.5 609.5l-4.4-.4l1.4 2.9l-1.2 2.5l-1.8 3.7l1.4 3.3M99.2 666.9l-1.1 2.8l2.7 2.3l-.1 4.3l2.7 1.6l.6 3.2M124.7 660.6l.8-3.6l2.6-1.4l.6 4.3l3.3 1l-1.2-3.6M123.1 728.6l3.1-.9l.5-3.4l2.7-1.1l2.8 1.9l0 4.2M126.4 658.2l2.6 1.1l3.3-2.6l1.3 4.1l3.7 1.1l.3 3.3M104.2 707.3l-2.4 1.1l-3.2-2.7l.7-3.2l-2.7 1.2l-2.7 1.2M96.1 699.8l-1.8 2.7l1.4 4.4l-2.3 3.3l-2.1 2.7l-1.5-3.4M111 631.9l-1.5-2.8l-1.8-2.7l2.2-3l2.1-2.5l2.4-2.3M118.5 625.4l.9-2.7l3.3-.3l-2.1 3.4l-1.4-2.7l-4-.8M96 678.7l2.8-.3l1.9-3.1l-4.3-.9l-2.2 1.7l.1 3.3M97.9 704.7l-1.7 2l-4.2-.9l1.9 3l3-.1M121.7 723.7l1.6 3.9l4.3 1l-.8-3.9l-2.5-.7l-4.1-.9M133.7 632.7l2.8-.6l-.5 2.7l2.7 1.6l3.9-1.5l-.9 3.8M130.8 615.1l3.7-1l-2.7-3.3l-2.3-3.2l1-2.7l1.8 2.8M115 731.4l-3.5 2.1l-2.5-2l-2.9-2.9l-3.3-2.8l1.1-3M113.1 703.5l-1.6-2.7l2.1-3l-1-2.9l-2.7-.2l1.4 4.2M91.4 691.8l1.2 2.4l-2 3.8l2.8 3.2l4.1-1M118.6 655l2.3 3.5l2.2 3.6l3.8 0l-2 3.3l-4.4-.2M118.3 630.1l1.5-2.8l3.1-.5l3.8-1.2l-2.9-2.8l.3-4.5M105.2 693.8l2.7 3.6l-1.9 4.2l-3.9 1.1l-.9 4.1l-3.3 1M127 699.7l-1.3-2.3l-1.9-2.2l-4.5 .1l-2.1 2.5l.7 2.8M113.8 732.1l2.5-1.5l-.1 3.9l3.8 1.4l4 1.1l1.7-2.2M109.6 687.3l-4.3 1.3l-3.4-2.9l-3.5 1.4l-2.5-2.4l-2.8 .6M104.8 643l-2.4 1.7l-2.4-1.7l2.4-1.2l3 2.6M128.2 641.9l1.5-3.5l2 3.3l3.9 .3l-1.4-2.5l-2.1-2.7" stroke="#60c030" stroke-width="0.8" fill="none" stroke-linejoin="miter"/>
<path d="M181 670l2.9-2.2l.1-3.6l3.9-2.1l.3 4.1l-.4 4M202.5 704.3l.4 3.2l2.7-2.5l-1.2-4.2l3.4 1.4l-.8-4.2M212.3 761.6l-.9-4.5l-3.4-1.4l-3.6 2.6l-3.8-1.7l-2.5 1.5M156.8 782.8l-1.3-2.7l-4.4-.2l4.5 .6l3.7 .9M197.1 649.9l-2.8 1.2l-.5 3l3-1l.7-2.7l-3.6 .7M205.7 749.3l.5 3.3l2.4-1.4l-.7 4.1l2.6 1.8l0 4.3M211.1 686.4l-2.2 2l-.8-3.2l-2.7 2.7l-.2-4.4l-3.9-1.6M217 736.3l-.5 3.8l.2 3l-2.6 1.6l.4-4.4l-2.1-1.6M208.3 740.7l-2.7 .9l-2.5 .9l-.1 4.6l-3.4 1.2l-.4 4.2M183.6 623.4l-3.6-1.6l0-3.8l2.7-1.7l-.4-2.6l-3.6-1.7M172.7 608.8l2 3.4l1.6 2.2l-1 2.8l-1.8 3.8l2.5 3.5M184.8 647.3l-3.5-2.7l-2.2-1.7l-2.3-1.6l-2.7-2.6l-2.7-2.2M204.4 747.3l-3-.4l1.9 3.3l3 .3l1.5 4l-4.1-.8M189.4 663l-3.5-1.2l-.3-3.9l2.8-1.9l-.5-3.3l-.8-3.2M184.9 675l-.8-3l-1-3.2l3.7 .6l2.8-3l-1.4-4M183.3 687.1l.5 3l3.8-2.6l2.5 1.1l2.9-3.2l-.4-2.7M213.5 724.3l2-2.3l2.1-1.8l3.4 .6l3.3 .1l-1.3 2.5M178 658.3l-3.3 .9l-1.8 3.8l4.5 .2l2.7 .7l1.5 3.9M195 695l3-2.4l0 3.2l3-1.7l2.6 2.1l-3.2 1.9M191.8 668.9l-2.3 3.5l1.3 3.8l-2.3 1.8l0-3.4l2.9-1.4M182 629.7l3.3-1l-.7 3.6l2.4 1.4l2.4 1.4l.6 3.9M186.8 644.8l-.4 3.8l.3 3.3l3.2-2.2l-4.2-1.5l-3.4 2.8M185.8 733.1l-3.2-.7l-3.5 3l1.2 4.2l4.1 1.4l1 3.5M191.1 715.6l-3.2-.2l-1.5 2.3l1.8 3.1l1.9 3.6l3.1 .1M184.2 651.6l-3.3 1.1l-1 2.6l-3.2 .8l-2.1-1.7l-3.5 1.5M171.4 601.5l-.8 2.9l-.3 4.5l.1 3.9l3 1.7l-.1-4M180.8 731.8l2.9 3.6l4.3-.8l-2.2-2.4l1.3-3.7l-1.4-2.5M181.3 607.3l-1.2 2.5l-3.3 .6l-2.3-2.9l.6-3.3l1-2.5M173.1 632.5l2.1 3.7l-2.3 2.6l-1.8-3.6l2.8-3.3l-3.2-.9M172.5 606.1l-3.4-1.8l-3.4-1.9l-2.4 1.3l-3 1.8l0 3.6M181.1 728.6l-3.1-1l-3.2 2.6l.4 2.8l3.9 1l.6 3M185.4 632.9l2.2 2.9l1.8-4l-1.4-2.9l-4.5 .4l3 3.2M198.2 689.3l1.6 3.8l-1.7 2.2l1.2 2.4l-1.9 3.4l-1.7 2.8M191.6 621.9l-3.1-2.6l-2.4-1.7l2.2-1.5l2.7-2.2l-2.6-1.2M179 615.7l-1.9 3.6l1.7 4.1l2.9 .7l2.9-2.3l3.2 1.7M206.8 689l3.9 .9l-.5-2.9l3.4-2.3l-.3-3.9l2.3-2.1M178.6 659.6l-3-2.5l-3.3 .9l-.3 4.6l-2.7 2l-2.6 2.6M185.2 643.6l-.8 4.2l-2.9-2l2.4-1.5l3.3 1.7l3.9 2.1M210.7 717.9l-1.2 2.6l-2 3.4l3.4-.5l3.7 .1l2.3 3.8M166.1 616l4.3-.2l1.3-3.8l2.5 3.3l-2 4l2.5 3.6M178.1 617.5l-3.8-.3l-1.5-2.2l-2.6-3.3l-3.2-2.9l-2.9 .6M166.9 618.4l-4.3 .2l-1.3 3.8l-.8 4.3l3.9-2.1l-.4-4.5M206.2 729l3.4-.3l1.5 2.5l1.8 2.1l-1.2 3l2.5 2.7M187.9 658.3l-2.6 1.9l1.1 3.7l3.7 1.6l3.8-2.2l-3-1.5M167.3 594.3l-3.3 .3l-1.1 2.5l-2.8 0l1.4 2.8l4.4 0M174 651l.8 2.6l-2.7-.7l-.4-3.1l-3.3-1.6l3.4-2.6M173.6 612.5l3.3 1.3l3.2-1.8l.1 3.4l3.6 1.6l-4 2.1M203.7 756.3l-2.2-3.9l1.3-3l-2.4-3.8l-2.2 3.8l2.8 3.3M204.6 678.4l-2.7 .6l-2.9-3.5l-2-3l-2 2.8l-4 .2M167.7 624.2l-4.1 1l-4.3 .8l-.7 4.1l3.4-.8l3 3.4M198.5 684.1l-2.7 3.4l2.9 .8l-.4-4l2.7 1.8l2.3-1.4M179.7 696.8l1.2 2.6l1.9 3l2.2-3.4l1.4 3.1l2.2 3.7M189.5 648.3l-.9 3.7l2 2.3l-2.3 3.8l-4.3 0l-2.7 .5M177 611.9l-1.2-2.9l-4.4-.1l-4.2-.4l-4.2-1.2l3.8-2.4M179.9 606.2l-.1 2.9l-3.6 1.3l-2.5-2.4l-3.8 1.1l-.9 2.7M193.4 725.4l3.6 2.4l.2-4l2.5-1.8l-2.9-.6l-2.7 3.3M185.9 655.6l3 1.8l2.8 2.4l3.5-2l3.9 1.3l.7 2.5M199.7 731.3l-3.9 2.1l-2.9 2.4l-2.7-1.4l.3-4.1l1.9 1.9" stroke="#2a3ad8" stroke-width="0.8" fill="none" stroke-linejoin="miter"/>
<path d="M102 835.5l3 1.6l-.6-3.2l2.7-2l.1-3.4l3.2 1.3M83.7 811.4l-2.3-2l1.2-3.4l-2.3-2.2l.9-3.8l1.6 2.2M115.8 858.3l-2-2.3l-2.9 1.1l-2.4-2.8l4 0l-1.9 3.6M101.6 837.4l-3.4-2.9l.5-4.3l-2.1-2.3l-2.8 .2l-1.2 2.7M125.1 837.8l2.9 .9l.2 3.2l.5 3.3l-2.7-1.6l-3 1.2M126.4 840l3.3-1.3l-2.3-1.7l-3.4 1.1l-4 1.7l-.2 4.1M98.6 842.6l.2 3.2l-3.1 1.7l.6-3.3l-3-2.6l3.7-1.3M127.7 844l-.4 4.1l-3.2-1.5l-2.6 2.2l3.9 2.1l2.2-1.5M89.7 843l2.9-1.6l-.2-2.8l-.6-4l3.7 2.1l-.1 4.4M109.3 846.7l3.4-1.1l-1.7 4.1l2.8 0l-1.8 3.8l2 3.5M74.8 817.4l.9 2.7l4 .2l4.3 0l1.5-2.7l-2.2-2.7M85.3 823.5l.2 2.6l-2.5-1.7l0 4.6l3.7 1.9l2.6 1.3M95.6 837l3.5-1.4l-2.8-1.7l.8-3.3l2.8 2l-.1 3.4M115.2 815.4l3-1.2l2.5 1.3l0 3.3l2.6 1.4l.4 3.4M119.2 848.3l-3.7-1.2l-2.3 1.7l.4 3l-2.8 2l-2.8-1.5M106.1 846.3l-.4-3.8l-.3-2.7l2.4-2.5l-4.3-1.3l-1.7 2M114.9 830l-3.5-.1l-3.1-.5l-3-1.1l-1.9 2l1.1 2.7M108.7 806.2l4 0l-1.9 3.3l-3.3-.6l-3 3.3l-1.7 2.5M96.2 829.2l1.8-3.3l3.4 .4l4.3 1.3l.3 2.8l-3.1 1.8M111 810.6l2.8-.3l2.4 3.5l-1.8 2.6l-2.6 2.8l-1.1-2.8M91 822.4l-1.8-3.6l1.6-2.9l-1.7-2.1l3.5-.2l2.3 3M118 831.8l3.2-2.4l-3.8-1.9l-2.5 2.5l.7 2.9l-2.7 3M94.6 842.6l2.9 3.3l-.5 2.9l-3.2 1.8l3.2 .9M112.5 835.1l3-.5l-1.9-2.3l1.1-2.6l2.2-3.7l1.1 3.2M128.8 835.7l-4.2-1.4l.9 2.5l-1.9 2.1l1.5 3l-4.2-.8M84.3 814.3l-3.8 2l-.9 4.2l-2.8-3.6l1.1-2.8l-2.4-2.6M101.8 841.6l3.1 2.6l-4.2 1.7l.4-4.4l3.6-2.1l-.1-3.8M94 839.6l1.5 2.7l-1.9 3.3l4.5 .3l-.9-3.4l3.7 1.3M75.8 830.4l2.5-.8l.8-2.7l2.7 2.1l-.4 4.3l-4 1.8M95.2 822.8l2.3 2.3l3.4-1.1l1.1-3.3l4.1-1.6l2.7 1.8M116.8 854.2l-1.6-3.1l3.4-.3l-1.7-3.7l-2.1-3.8l3.1 0M94.3 832.3l1.1 4.2l-1.9 1.9l3.9 .4l.7 3.1l1 2.8M119.3 849l-1.9-3.9l-4.3 .5l1.7 3.3l2.8-.1l1.3 2.9M97.4 820.5l2.9-.5l2.2 2.7l2.1 2.8l-1.1 4.4l-1.9 4M103.9 806.4l-.8 4l-2.7 1.2l.9-3.5l-3-3.5l-1.7-2.9" stroke="#d02020" stroke-width="0.8" fill="none" stroke-linejoin="miter"/>
<path d="M95 768.6l-2.5-1.8l-2.3 1.7l-2.2-1.5l.2-2.8l-3.3 1.6M88.3 788.9l-2.7 .4l-1.5-2.5l1.9-3.7l-3.1 .4l2.9 2.8M55.1 785.7l-.9-3.2l3.7-2.6l3.6-1.9l3.2 2.6l.1-3.2M56.6 790.3l1.4-2.7l1.6 3.5l2.9 .2l2.5-3.1l-4-.9M92.1 805.4l1.2-3.5l3.1-1.1l-3.9-2.4l2.4-1.3l-.8-4.5M62.6 809.5l3.2 1.8l3.5 2.6l3.8-1l3.4 2.7l-.7 2.5M107.1 769.7l-3.7-2.2l-2.3 1.4l-3 2.2l-.3 3.7l2.4 2M129.4 785.7l1.5-3.6l3.7-.4l2.5 2.4l-.9 3l-2.6 1.1M58.1 802.7l-2.1-1.6l-3.9 1.7l-3.5-2.4M82.5 758.5l2.4 3.4l1.5-2.3l4.4 1.1l-1.8-3.9l2.5-3.7M73.9 803l1.5 3.1l-1.7 2.1l2.7 .9l-2.7 2.5l-1.3-4M77.1 772.5l-2.1 3.6l1.3 2.5l-1.4 2.8l1.3 2.3l-2.2 3.2M130.2 786l2.7-2.7l-.8-2.5l2.6 1l-3.1-1.9M83.3 765l-1 3.5l2.5 3.5l-1.6 3.9l-3.4-.1l-2.2 3.8M66.7 780.1l-1.1-2.6l-2.7-.6l-2.7 2.1l.3 4.6l-2.2-1.6M127.4 779.5l-.9-2.7l-4.1-1.6l2.4-1.3l.1 3.1l-3.3-2.5M99.4 790.7l-2.4 2.4l4.1 1l3.3 1.3l-2.7 3.2l1.3 2.7M68.2 796.8l-3.1 2l-.1-3.6l2.7-1.5l0 3.4l-3.6 2.2M100.8 781.8l4.2 0l1.5-2.4l1.2 2.4l-1.6 3.1l-1.6-3.3M91.8 808.1l.7 4.2l-3.5 2.9l.4 2.6l4.1 1.6l-2.1 1.9M99 799.6l-.2 2.8l-2.5-1.8l.8-3.5l-2.5-3.2l.9-3.1M73.9 783.8l-2.8 0l1.2 3.1l2 3.3l2.2-3.5l2.5-3.6M70.4 811l-1.2 2.8l-3.7-.3l1.6-2.9l2.2-3.1l3.7 .1M128 768.7l2.2-1.6l4.1-2l3.9 2.2l3.8-2.5l-.5-3.8M89.4 785.3l4.4 .7l1.1 3.1l4.3 .1l-2.5-3l1.4-4.3M66.4 807.6l-3-1.1l-.3-2.9l-3.7-1.8l.6 2.9l-3 3.2M62.3 773l-3.1-.8l2.1-2.7l3.6 .9l-1.1-3.2l-4.4-.1M67.6 776.9l2.5 1.9l3-1l1-3.1l2.3 3.4l-1.8 3.6M125.4 807.7l-2.5 3.6l-2.9-.3l-3.7-1l.8 3.9l3.9 1.7M73.9 804.3l-3.1 .9l1.7 2.4l4.1 .1l2.8-3.3l2.2-3.5M79.2 770.6l4 2l2.8-1.5l2.3 2.2l1.4-4l-1.9-3.2M82.5 764.4l-4.3 .1l-1.8 3l2.4 3.5l-3.6 0l1.4 3.8M90.2 793l-3.3-1.5l-.9-4.2l2.9-3l-1.6-3.3l-2.9 3M126.6 773.9l-.7 3.2l-3.2 .4l-1.1 2.5l4.1-.2l1.6 2.2M77.8 785.1l2.1-3.8l4.1-.7l1.1-2.6l-2.7-.1l-1-3M50.4 780.6l-4-2.1l-2.5 2.1l2.9 1.1l2.7-1.6l-.5-3.5M118.9 773.1l-2.8 1.9l-3-.8l-1.3-3.5l-3.9-.1l-1.8 2.4M64.4 797.3l-2.4 3.1l1.4 4.3l3.1-3l-.4-2.6l-2.4 2M99 779.6l-3.4 1.7l-3.5-1.6l-3-1.4l.4 3l.9 4.2M57 774.1l1.2-2.7l3.6 .3l1 3.1l-2.8-.9l1.2 3.2M62.1 787.5l4.5-.5l-2.1-1.9l1.2-3.5l3.5-1.2l-1.1 3.1M120.1 782.5l-2.9 1.2l-.8 3.7l-.1 3.2l-2.3 1.4l-2.8 1.2M117 779l2.7 1.9l-3.3 1.8l-3.4-1.7l.7 3.5l3.3-2.2M53 787.7l2.4-3.9l-1.5-3l-1-3l1.9-2.8l1.7-2.6M91.5 818l2.4-1.1l-.2-2.6l-2.6-.9l-3 2.3l.2-3.8M101.3 796.8l-2.8-3.5l-.9 2.6l1.7 2.8l3-.4l-2.6-3.7M54.6 789.6l2.6-3.1l-1.8-4.2l-3.1-.1l.9 2.7l2.8-3.2M71.3 785.2l-3.6 1.7l-.2 3l-.6 4.6l3 2.1l-.3 3.4M81.7 776.7l-4-2l-2.9 2.8l2.6 .2l1.5 3.2l2.3-3.4M68.9 790.7l-.8 3.5l2.9 2.1l-.1-3.1l.1-2.9l3.1-1.1M102.6 776.4l-3 1.6l.9-4.2l3.7-2.1l2.9 1.5l4.1-1.6M79.7 787.6l4-.6l1.5-2.5l1.7 3.2l-4-.8l-1.5-2.7M104.8 802l3.4 2.5l3.1-1.8l3.5 1.9l-2.5 1.8l0 3.5M64.6 761.6l4.4-.8l3.8-.7l-.7 4l-2.1-1.6M101.7 785l-1.7 4l-4.2 1.2l-1.6 3.8l-2.5 3.8l-1.7 4.2M78.8 791.8l2.1-3.6l-3.8-.4l-4.3-.9l.8 4.1l2.5 1M113.4 799.4l-3.6-.7l-1.8-3.7l1.5-2.6l-3.6 .5l2.6 3M67.2 804.4l3.9 .4l2.1-3l4.3-.2l2.6-3.6l3.5-.2M96.8 820.4l4.4 .3l3.8 .4l2.9-.2l1.9 2.7l4.5 .4M79.5 794.7l-1-2.4l-1.3 2.4l1.6 3.8l3.1 .7l.8 2.6M64.4 786.6l3.1 1.6l-.6-4l-2.1 1.5l-4.3-1.4l-3 2.1M56.5 778l-.9-3.3l-2.6 2.7l-3-1l-.1-3.9l3.3 2.1M66.6 783.2l2.6 1.1l.4 3.8l4 1.5l-.3-4l.2-2.7M124.3 779.4l-2.8-2l.5-3.2l4-.8l-1.9-1.8l-3-2M80.6 813.6l2-2.3l3.2 .9l2.4-2.2l-.5-2.9l-3 2.6M90.7 777.2l2.9 2.9l2.4-1l-.5 4.3l-.9 3.3l2.2 3.1M75.1 822.9l1.3-3.2l-2.7-2.7l-2.3-3.1l-3.1 .5l-2.3-1.9M134.8 776.4l-2.5 1.1l.2 3.4l.2 3.7l2.5-1.4l-2.8-1.9M68.2 760.9l2.5 2.9l3.9-1.4l1.4-3.9l2.9-.8M72.2 817.4l-.7 4.1l2.8-1.4l3.6-1.1l1.7-4.2l4.5-.1M99 783.4l3.4 .9l2.4-2.9l1.9 3.8l2.3-3.1l1.7-2.7M132.6 768.8l-1.7-2.7l-1.4-2.3l-1.6-2.4l-2.1 3.6l-3.7-.5M112.9 795.1l3.3-2.8l3.2 1.9l2.3-1.9l-.1 4.2l2.7 2.2M126.1 780.1l-2.7 1.5l2.3 1.9l-2.9 1.8l.4 3l2.8 1.3M109.4 801.3l3.9-.4l2.6 .2l4.5 .2l1.9-3.3l1.3 3" stroke="#e07828" stroke-width="0.8" fill="none" stroke-linejoin="miter"/>
<path d="M121.5 851.9l-3.5-2.7l3.5-1.9l-3.5-2.3l-2.5-1.6l-3 2.3M89.1 822.4l-2.5 1l.6-3.3l-3.9 1.1l-3 .9l-.3 2.8M121.4 834.2l-1.6 3.1l-1.5 3.5l3.2-.4l2.2 3l2.2 3.7M122 840.4l1.1-2.4l1.4-2.2l2.6 .5l2.5-2.9l-3.6-.8M117.9 815l.4-3.4l-3.1-3l1.7-3.9l-2.5-2.5l-3 .9M91.5 826.9l.8-2.7l3-1.2l2.5 1.9l.3 3.6l-.1 2.9M115.4 857.8l.2 3.6l-.5-3l-3.4-1.1l-.9-2.9M99.4 830.4l-3.4-2.7l-.5 2.8l-2.8 1.5l-.6 3.1l4.4-.7M115.7 817.1l-4.2 1.6l2.4 1.3l3.5-2.3l-.5-4.3l3 1.7M126.2 832.9l-3.4 .9l1-3l2.7 2.5l-.5 4.5l-2.6 1.8M109.4 858.7l-2.7-1.6l2.3-1.7l2.8 1.8M127.2 817.5l-1.1 4.1l2.7 2.3l-2.2 1.4l-.4-3.5l-.3-2.8M107.8 829.9l3.4 2.8l-.1-4.4l3.9 2.3l3.4 2.5l-.1 4.3M103.1 834.3l-2.9 2.6l-2.7-1.1l1 3.8l-2.6 2.2l-3.2-1.8M125.1 819.4l-3.2-3.2l-1.9-2.2l-1.4-2.3l1.1-2.5l-4.1 1.1M126.1 814.3l-4 1.8l-2.9-2.2l.2-4.4l-4-1.6l3.1-2.6M104.3 846.5l2.1 2.7l-1 2.5l-1.5 2.7l-3.7-.3l-1.1-2.7M88.1 814.9l-.6 2.6l-3.3-3l-3.3 1l-1.9-2.6l1.7-3.4M96.7 850.3l-2.5 2.3l2.6-1.7l2.1-1.5l-.2-2.9M128.5 826.9l-2.9 .6l.9-2.5l-4.3 .3l-.8 2.7l2.9-1.4M96 853.8l-2.7 1.1l2.8-2.1l1 3.1M124.1 813.1l-3.5 .2l-1.3 3.7l-3.2-3.3l-3.8 .8l-.6 2.7M85.9 820l0-3.1l2.9-1.9l-2.5-1.9l-3.9 1.3l-1.1 4.3M117.9 831.3l1.6 2.6l4.1 0l2.7 3l-2.7 .1l-4.3 .2M97.8 828.6l-.5 3.8l-2.9 .6l-3.8 .6l-1.2 2.5l-1.5-2.4M110.5 825.2l-.8 3.3l-2.7-3.7l-1.9-2.4l-3.6 .1l-1.8 4.2M96.3 853.4l-2.5 1.1l3-.8M91.5 813.5l-3.4-.8l-3.9-.8l1.2 2.9l1.5-2.6l1.7 3.1M119.5 855.9l-3-.5l-3.6-.3l1.8-3.7l1.7 2.2l-1.9 3.5M124.2 839.6l-3.2-2.9l-3.7 1.1l-.2 3.4l.4 4.4l-2.6 1.9M82.8 834.7l3.3 2l.1 3.4l2.7 2.4l-.8 4.4M129.7 821.2l4.1 .4l4.1 .9l-.3-3.8M126.8 844.1l-2.7-.7l-.6-3.6l2.3-2l2.6-2.7l-1-2.9M121.3 852.9l3.1-.9l2.6 3.2l-1.1 2.6M82.3 831.3l3.5-.2l-1.7 3.8l-3.6 .9l2.1 2.7l-3.5-.2M87.4 825.9l.3-4.3l-2.5-1.1l.3-2.9l-3.2 2.2l-2.5 1.1M116 813.7l2.9 3.3l-.6 4.2l-3.3 1l-2.7-3.3l-2.2-2.6M98.7 829.2l-1.5 4.1l4.4-.9l.5-3.6l-3.1-2.7l-3.9 1.1M128.6 824.9l2.1-2.1l-.5-4.1l-3.9-1.9l.2-4l2.7-1.9M91.4 826.1l3.2-2.6l-.3-4.5l3.4-3.1l-.4-4l-4.3-1.5" stroke="#e03030" stroke-width="0.8" fill="none" stroke-linejoin="miter"/>
<path d="M82.9 751.4A6.8 6.8 0 1 1 83.8 744.7L79.9 747.9Z" fill="#4c54e2"/>
<path d="M74.1 747.2L79.5 746.5" stroke="#2428a8" stroke-width="0.8"/>
<path d="M90.8 760.1A4.2 4.2 0 1 1 91.4 755.9L89.0 757.9Z" fill="#4c54e2"/>
<path d="M85.4 757.5L88.8 757.1" stroke="#2428a8" stroke-width="0.8"/>
<path d="M67.9 788.7A6.8 6.8 0 1 1 68.8 782.0L64.9 785.2Z" fill="#4c54e2"/>
<path d="M59.1 784.5L64.5 783.8" stroke="#2428a8" stroke-width="0.8"/>
<path d="M57.6 804.5A6.5 6.5 0 1 1 58.5 798.1L54.8 801.1Z" fill="#4c54e2"/>
<path d="M49.2 800.5L54.5 799.9" stroke="#2428a8" stroke-width="0.8"/>
<path d="M154.3 860.8A7 7 0 1 1 155.3 853.9L151.2 857.2Z" fill="#4c54e2"/>
<path d="M145.3 856.5L150.9 855.8" stroke="#2428a8" stroke-width="0.8"/>
<path d="M164.4 738.6A6.2 6.2 0 1 1 165.2 732.5L161.7 735.4Z" fill="#4c54e2"/>
<path d="M156.4 734.8L161.4 734.2" stroke="#2428a8" stroke-width="0.8"/>
<path d="M185.7 829.7A6 6 0 1 1 186.6 823.8L183.1 826.6Z" fill="#4c54e2"/>
<path d="M178.0 826.0L182.8 825.4" stroke="#2428a8" stroke-width="0.8"/>
<path d="M222.7 721.2A5.6 5.6 0 1 1 223.5 715.7L220.3 718.4Z" fill="#4c54e2"/>
<path d="M215.5 717.8L220.0 717.2" stroke="#2428a8" stroke-width="0.8"/>
<path d="M168.7 784.1A4.2 4.2 0 1 1 169.3 779.9L166.9 781.9Z" fill="#4c54e2"/>
<path d="M163.3 781.5L166.7 781.1" stroke="#2428a8" stroke-width="0.8"/>
<path d="M138.2 740.9A6 6 0 1 1 139.1 735.0L135.6 737.8Z" fill="#7078b8"/>
<path d="M130.5 737.2L135.3 736.6" stroke="#505890" stroke-width="0.8"/>
<path d="M129.2 782.1A4.5 4.5 0 1 1 129.9 777.6L127.3 779.8Z" fill="#7078b8"/>
<path d="M123.5 779.3L127.0 778.8" stroke="#505890" stroke-width="0.8"/>
<path d="M207.8 786.1A4.2 4.2 0 1 1 208.4 781.9L206.0 783.9Z" fill="#306080"/>
<path d="M202.4 783.5L205.8 783.1" stroke="#204050" stroke-width="0.8"/>
<text x="178.1" y="651.6" font-family="Liberation Mono, monospace" style="font-family:'Liberation Mono',monospace" font-size="6.6" font-weight="bold" fill="#000" textLength="17.6" lengthAdjust="spacingAndGlyphs">LYS595</text>
<text x="128.8" y="728.9" font-family="Liberation Mono, monospace" style="font-family:'Liberation Mono',monospace" font-size="6.6" font-weight="bold" fill="#000" textLength="24.1" lengthAdjust="spacingAndGlyphs">LYS1165</text>
<text x="176.0" y="728.0" font-family="Liberation Mono, monospace" style="font-family:'Liberation Mono',monospace" font-size="6.6" font-weight="bold" fill="#000" textLength="21.3" lengthAdjust="spacingAndGlyphs">LYS376</text>
<text x="217.6" y="726.7" font-family="Liberation Mono, monospace" style="font-family:'Liberation Mono',monospace" font-size="6.6" font-weight="bold" fill="#000" textLength="17.2" lengthAdjust="spacingAndGlyphs">LYS552</text>
<text x="94.7" y="743.3" font-family="Liberation Mono, monospace" style="font-family:'Liberation Mono',monospace" font-size="6.6" font-weight="bold" fill="#000" textLength="20.8" lengthAdjust="spacingAndGlyphs">LYS283</text>
<text x="86.4" y="767.5" font-family="Liberation Mono, monospace" style="font-family:'Liberation Mono',monospace" font-size="6.6" font-weight="bold" fill="#000" textLength="40.2" lengthAdjust="spacingAndGlyphs">LYS1380LYS273</text>
<text x="79.4" y="777.2" font-family="Liberation Mono, monospace" style="font-family:'Liberation Mono',monospace" font-size="6.6" font-weight="bold" fill="#000" textLength="25.0" lengthAdjust="spacingAndGlyphs">LYS1334</text>
<text x="126.6" y="780.2" font-family="Liberation Mono, monospace" style="font-family:'Liberation Mono',monospace" font-size="6.6" font-weight="bold" fill="#000" textLength="21.6" lengthAdjust="spacingAndGlyphs">LYS1218</text>
<text x="118.8" y="789.6" font-family="Liberation Mono, monospace" style="font-family:'Liberation Mono',monospace" font-size="6.6" font-weight="bold" fill="#000" textLength="24.4" lengthAdjust="spacingAndGlyphs">LYS1292</text>
<text x="66.9" y="791.3" font-family="Liberation Mono, monospace" style="font-family:'Liberation Mono',monospace" font-size="6.6" font-weight="bold" fill="#000" textLength="23.6" lengthAdjust="spacingAndGlyphs">LYS1317</text>
<text x="180.7" y="771.0" font-family="Liberation Mono, monospace" style="font-family:'Liberation Mono',monospace" font-size="6.6" font-weight="bold" fill="#000" textLength="24.1" lengthAdjust="spacingAndGlyphs">LYS1060</text>
<text x="196.5" y="781.3" font-family="Liberation Mono, monospace" style="font-family:'Liberation Mono',monospace" font-size="6.6" font-weight="bold" fill="#000" textLength="24.4" lengthAdjust="spacingAndGlyphs">LYS5383</text>
<text x="123.1" y="808.1" font-family="Liberation Mono, monospace" style="font-family:'Liberation Mono',monospace" font-size="6.6" font-weight="bold" fill="#000" textLength="24.1" lengthAdjust="spacingAndGlyphs">LYS1420</text>
<text x="177.7" y="809.3" font-family="Liberation Mono, monospace" style="font-family:'Liberation Mono',monospace" font-size="6.6" font-weight="bold" fill="#000" textLength="20.9" lengthAdjust="spacingAndGlyphs">LYS464</text>
<text x="182.5" y="815.1" font-family="Liberation Mono, monospace" style="font-family:'Liberation Mono',monospace" font-size="6.6" font-weight="bold" fill="#000" textLength="20.9" lengthAdjust="spacingAndGlyphs">LYS442</text>
<text x="183.5" y="827.3" font-family="Liberation Mono, monospace" style="font-family:'Liberation Mono',monospace" font-size="6.6" font-weight="bold" fill="#000" textLength="19.9" lengthAdjust="spacingAndGlyphs">LYS584</text>
<text x="107.1" y="842.4" font-family="Liberation Mono, monospace" style="font-family:'Liberation Mono',monospace" font-size="6.6" font-weight="bold" fill="#000" textLength="25.0" lengthAdjust="spacingAndGlyphs">LYS1429</text>
<text x="164.9" y="856.2" font-family="Liberation Mono, monospace" style="font-family:'Liberation Mono',monospace" font-size="6.6" font-weight="bold" fill="#000" textLength="20.8" lengthAdjust="spacingAndGlyphs">LYS643</text>
<text x="54.4" y="694.0" font-size="13" fill="#000" text-anchor="middle" >MSD2</text>
<text x="219.5" y="663.0" font-size="13" fill="#000" text-anchor="middle" >MSD1</text>
<text x="41.2" y="841.8" font-size="13" fill="#000" text-anchor="middle" >NBD2</text>
<text x="227.7" y="855.7" font-size="13" fill="#000" text-anchor="middle" >NBD1</text>
<text x="278.5" y="624.7" font-size="19" fill="#000" text-anchor="start" font-weight="bold" >D</text>
<path d="M357.90 607.70L357.90 709.10" stroke="#8c8c8c" stroke-width="1.6" fill="none"/>
<path d="M357.10 708.30L637.60 708.30" stroke="#8c8c8c" stroke-width="1.6" fill="none"/>
<text x="354.8" y="619.8" font-size="11.6" text-anchor="end">100</text>
<text x="354.8" y="639.7" font-size="11.6" text-anchor="end">80</text>
<text x="354.8" y="658.3" font-size="11.6" text-anchor="end">60</text>
<text x="354.8" y="677.0" font-size="11.6" text-anchor="end">40</text>
<text x="354.8" y="695.6" font-size="11.6" text-anchor="end">20</text>
<text x="354.8" y="713.9" font-size="11.6" text-anchor="end">0</text>
<text x="353.9" y="724.8" font-size="11.6" fill="#000" text-anchor="end" >m/z</text>
<path d="M375.00 708.30L375.00 711.80" stroke="#8c8c8c" stroke-width="1" fill="none"/>
<text x="375.0" y="724.8" font-size="11.6" fill="#000" text-anchor="middle" >940.0</text>
<path d="M435.05 708.30L435.05 711.80" stroke="#8c8c8c" stroke-width="1" fill="none"/>
<text x="435.1" y="724.8" font-size="11.6" fill="#000" text-anchor="middle" >941.0</text>
<path d="M495.10 708.30L495.10 711.80" stroke="#8c8c8c" stroke-width="1" fill="none"/>
<text x="495.1" y="724.8" font-size="11.6" fill="#000" text-anchor="middle" >942.0</text>
<path d="M555.15 708.30L555.15 711.80" stroke="#8c8c8c" stroke-width="1" fill="none"/>
<text x="555.1" y="724.8" font-size="11.6" fill="#000" text-anchor="middle" >943.0</text>
<path d="M615.20 708.30L615.20 711.80" stroke="#8c8c8c" stroke-width="1" fill="none"/>
<text x="615.2" y="724.8" font-size="11.6" fill="#000" text-anchor="middle" >944.0</text>
<text transform="translate(333.3,690.2) rotate(-90)" font-size="12.4" fill="#000" text-anchor="start" textLength="68.2" lengthAdjust="spacingAndGlyphs">Intensity [%]</text>
<text x="371.7" y="610.9" font-size="12" fill="#000" text-anchor="start" >wt</text>
<path d="M383.50 688.00L383.50 708.30" stroke="#8c8c8c" stroke-width="1.3" fill="none"/>
<path d="M404.70 688.00L404.70 708.30" stroke="#8c8c8c" stroke-width="1.3" fill="none"/>
<path d="M461.90 690.80L461.90 708.30" stroke="#8c8c8c" stroke-width="1.3" fill="none"/>
<path d="M495.30 658.30L495.30 708.30" stroke="#8c8c8c" stroke-width="1.3" fill="none"/>
<path d="M521.50 688.50L521.50 708.30" stroke="#8c8c8c" stroke-width="1.3" fill="none"/>
<path d="M541.40 623.30L541.40 708.30" stroke="#8c8c8c" stroke-width="1.3" fill="none"/>
<path d="M561.70 675.80L561.70 708.30" stroke="#8c8c8c" stroke-width="1.3" fill="none"/>
<path d="M615.70 682.10L615.70 708.30" stroke="#8c8c8c" stroke-width="1.3" fill="none"/>
<path d="M436.10 615.60L436.10 708.30" stroke="#1ab4ea" stroke-width="2.2" fill="none"/>
<path d="M466.10 636.60L466.10 708.30" stroke="#1ab4ea" stroke-width="2.2" fill="none"/>
<path d="M555.50 636.60L555.50 708.30" stroke="#ff1010" stroke-width="2.2" fill="none"/>
<path d="M586.20 668.10L586.20 708.30" stroke="#ff1010" stroke-width="2.2" fill="none"/>
<text x="417.5" y="594.5" font-size="12.6" fill="#000" text-anchor="start" textLength="102.8" lengthAdjust="spacingAndGlyphs">light “inaccessible”</text>
<path d="M434.8 612.0Q434.8 604.3 437.8 604.3H452.2Q454.2 604.3 454.2 595.8Q454.2 604.3 456.2 604.3H470.6Q473.6 604.3 473.6 612.0" stroke="#1ab4ea" stroke-width="1.9" fill="none"/>
<text x="415.9" y="617.9" font-size="12.4" fill="#000" text-anchor="start" >941.0068</text>
<text x="446.7" y="634.3" font-size="12.4" fill="#000" text-anchor="start" >941.509</text>
<text x="528.5" y="609.7" font-size="12.6" fill="#000" text-anchor="start" textLength="104.4" lengthAdjust="spacingAndGlyphs">heavy “accessible”</text>
<path d="M551.4 626.8Q551.4 619.8 554.4 619.8H569.3Q571.3 619.8 571.3 613.2Q571.3 619.8 573.3 619.8H587.9Q590.9 619.8 590.9 626.8" stroke="#ff1010" stroke-width="1.9" fill="none"/>
<text x="535.5" y="637.0" font-size="12.4" fill="#000" text-anchor="start" >943.016</text>
<text x="565.9" y="665.8" font-size="12.4" fill="#000" text-anchor="start" >943.5183</text>
<path d="M361.20 760.40L361.20 861.40" stroke="#8c8c8c" stroke-width="1.6" fill="none"/>
<path d="M360.40 860.60L640.70 860.60" stroke="#8c8c8c" stroke-width="1.6" fill="none"/>
<text x="358.4" y="772.2" font-size="11.6" text-anchor="end">100</text>
<text x="358.4" y="793.0" font-size="11.6" text-anchor="end">80</text>
<text x="358.4" y="811.2" font-size="11.6" text-anchor="end">60</text>
<text x="358.4" y="829.9" font-size="11.6" text-anchor="end">40</text>
<text x="358.4" y="849.1" font-size="11.6" text-anchor="end">20</text>
<text x="358.4" y="867.7" font-size="11.6" text-anchor="end">0</text>
<text x="357.2" y="876.7" font-size="11.6" fill="#000" text-anchor="end" >m/z</text>
<path d="M377.00 860.60L377.00 864.10" stroke="#8c8c8c" stroke-width="1" fill="none"/>
<text x="375.8" y="876.7" font-size="11.6" fill="#000" text-anchor="middle" >940.0</text>
<path d="M436.30 860.60L436.30 864.10" stroke="#8c8c8c" stroke-width="1" fill="none"/>
<text x="435.1" y="876.7" font-size="11.6" fill="#000" text-anchor="middle" >941.0</text>
<path d="M495.60 860.60L495.60 864.10" stroke="#8c8c8c" stroke-width="1" fill="none"/>
<text x="494.4" y="876.7" font-size="11.6" fill="#000" text-anchor="middle" >942.0</text>
<path d="M554.90 860.60L554.90 864.10" stroke="#8c8c8c" stroke-width="1" fill="none"/>
<text x="553.7" y="876.7" font-size="11.6" fill="#000" text-anchor="middle" >943.0</text>
<path d="M614.20 860.60L614.20 864.10" stroke="#8c8c8c" stroke-width="1" fill="none"/>
<text x="613.0" y="876.7" font-size="11.6" fill="#000" text-anchor="middle" >944.0</text>
<text transform="translate(336.6,843.3) rotate(-90)" font-size="12.4" fill="#000" text-anchor="start" textLength="68.9" lengthAdjust="spacingAndGlyphs">Intensity [%]</text>
<text x="371.3" y="770.9" font-size="12.2" fill="#000" text-anchor="start" >ΔF508</text>
<path d="M496.10 853.80L496.10 860.60" stroke="#8c8c8c" stroke-width="1.3" fill="none"/>
<path d="M526.40 845.00L526.40 860.60" stroke="#8c8c8c" stroke-width="1.3" fill="none"/>
<path d="M616.20 811.20L616.20 860.60" stroke="#8c8c8c" stroke-width="1.3" fill="none"/>
<path d="M436.00 856.00L436.00 860.60" stroke="#1ab4ea" stroke-width="2.2" fill="none"/>
<path d="M465.70 856.00L465.70 860.60" stroke="#1ab4ea" stroke-width="2.2" fill="none"/>
<path d="M556.10 764.60L556.10 860.60" stroke="#ff1010" stroke-width="2.2" fill="none"/>
<path d="M586.10 770.10L586.10 860.60" stroke="#ff1010" stroke-width="2.2" fill="none"/>
<text x="410.3" y="808.3" font-size="12.6" fill="#000" text-anchor="start" textLength="102.6" lengthAdjust="spacingAndGlyphs">light “inaccessible”</text>
<path d="M428.0 825.5Q428.0 817.6 431.0 817.6H451.0Q453.0 817.6 453.0 808.5Q453.0 817.6 455.0 817.6H473.9Q476.9 817.6 476.9 825.5" stroke="#1ab4ea" stroke-width="1.9" fill="none"/>
<text x="404.0" y="841.0" font-size="12.4" fill="#000" text-anchor="start" >941.008</text>
<text x="445.8" y="853.8" font-size="12.4" fill="#000" text-anchor="start" >941.5095</text>
<text x="537.7" y="746.4" font-size="12.6" fill="#000" text-anchor="start" textLength="103.5" lengthAdjust="spacingAndGlyphs">heavy "accessible"</text>
<path d="M553.3 763.9Q553.3 755.7 556.3 755.7H570.0Q572.0 755.7 572.0 747.5Q572.0 755.7 574.0 755.7H587.7Q590.7 755.7 590.7 763.9" stroke="#ff1010" stroke-width="1.9" fill="none"/>
<text x="536.3" y="779.5" font-size="12.4" fill="#000" text-anchor="start" >943.017</text>
<text x="566.3" y="797.9" font-size="12.4" fill="#000" text-anchor="start" >943.519</text>
</svg></body></html>
